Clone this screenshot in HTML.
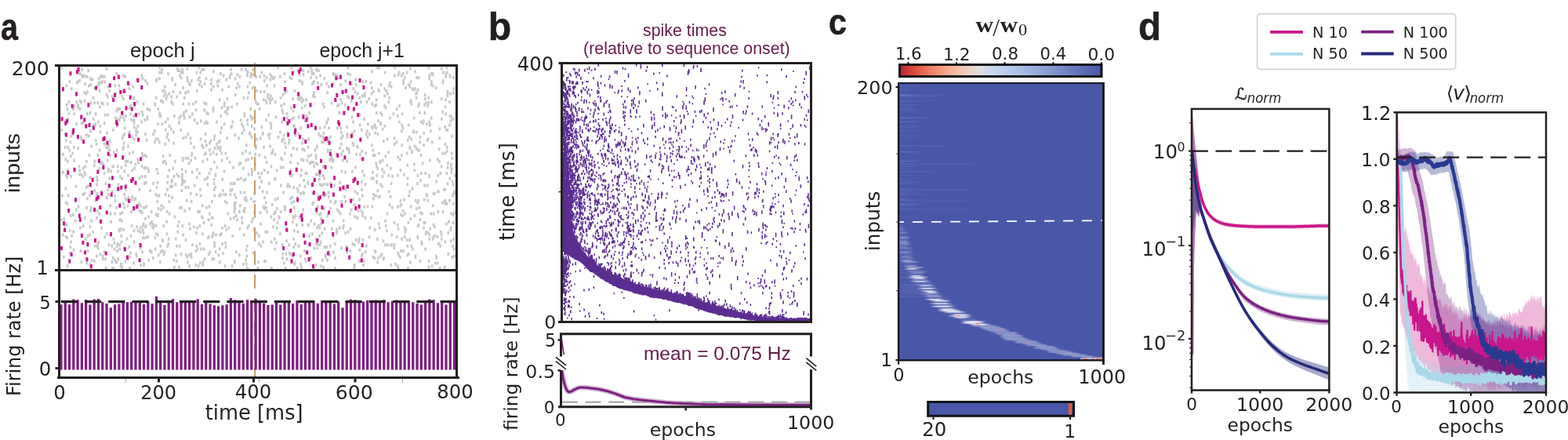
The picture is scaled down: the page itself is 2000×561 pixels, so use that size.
<!DOCTYPE html>
<html lang="en"><head><meta charset="utf-8"><title>Figure</title>
<style>
html,body{margin:0;padding:0;background:#fff;}
body{width:2000px;height:561px;overflow:hidden;}
svg{display:block;}
text{white-space:pre;}
</style></head><body>
<svg width="2000" height="561" viewBox="0 0 2000 561">
<rect width="2000" height="561" fill="#ffffff"/>
<g id="panel-a">
<path d="M305.37 267.95v4.0M508.22 339.91v4.0M312.02 251.25v4.0M507.31 145.88v4.0M171.11 252.53v4.0M317.1 285.94v4.0M476.18 115.04v4.0M302.47 130.46v4.0M123.97 311.64v4.0M396.68 279.52v4.0M571.07 231.97v4.0M406.44 285.94v4.0M404.51 288.51v4.0M86.02 257.68v4.0M110.18 95.77v4.0M173.89 162.58v4.0M379.21 339.91v4.0M311.16 228.12v4.0M374.87 148.45v4.0M338.84 293.65v4.0M226.02 85.48v4.0M410.72 234.55v4.0M406.88 217.84v4.0M578.82 111.19v4.0M433.47 187v4.0M458.63 252.53v4.0M223.45 106.05v4.0M360.92 118.9v4.0M279.3 179.29v4.0M272.34 89.34v4.0M503.43 84.2v4.0M185.57 100.91v4.0M314.2 316.78v4.0M277.81 107.33v4.0M362.47 148.45v4.0M468.92 172.87v4.0M247.45 185.72v4.0M245.29 217.84v4.0M458.66 122.75v4.0M146 315.5v4.0M129.17 103.47v4.0M311.67 243.54v4.0M167.61 267.95v4.0M172.98 251.25v4.0M174.13 324.5v4.0M464.42 221.69v4.0M401.32 121.47v4.0M276.52 153.59v4.0M78.74 278.24v4.0M231.03 90.62v4.0M184.17 212.7v4.0M577.91 282.09v4.0M400.38 116.33v4.0M99.62 131.75v4.0M185.44 169.01v4.0M83.3 284.66v4.0M243.47 180.57v4.0M272.16 108.62v4.0M123.69 275.66v4.0M397.75 88.06v4.0M380.04 206.27v4.0M390.51 125.32v4.0M559.51 242.25v4.0M495.93 127.89v4.0M513.06 143.31v4.0M393.06 185.72v4.0M534.07 284.66v4.0M203.62 145.88v4.0M157.98 291.08v4.0M550.11 148.45v4.0M423.02 211.41v4.0M520.92 282.09v4.0M117.87 99.62v4.0M130.58 95.77v4.0M335.45 167.72v4.0M198.06 315.5v4.0M274.89 221.69v4.0M491.59 279.52v4.0M324.74 255.11v4.0M166.48 320.64v4.0M568.55 125.32v4.0M193.04 267.95v4.0M406.23 285.94v4.0M386.57 175.44v4.0M185.02 151.02v4.0M454.12 106.05v4.0M213.5 230.69v4.0M203.41 98.34v4.0M166.89 204.99v4.0M344.8 126.6v4.0M124.73 129.18v4.0M525.31 192.14v4.0M407.95 310.36v4.0M340.25 129.18v4.0M374.32 89.34v4.0M316.61 201.13v4.0M430.04 94.48v4.0M89.16 292.37v4.0M116.03 106.05v4.0M444.84 188.28v4.0M147.01 107.33v4.0M116.24 262.81v4.0M262.94 98.34v4.0M529.95 325.78v4.0M448.18 126.6v4.0M476.32 196v4.0M254.94 309.07v4.0M315.85 108.62v4.0M515.36 220.41v4.0M552.04 93.2v4.0M511.53 271.81v4.0M85.79 301.37v4.0M270.24 275.66v4.0M84.74 107.33v4.0M118.72 293.65v4.0M136.46 167.72v4.0M519.72 323.21v4.0M244.07 325.78v4.0M426.62 234.55v4.0M299.42 261.53v4.0M120.52 330.92v4.0M336.54 185.72v4.0M380.04 242.25v4.0M89.68 312.93v4.0M135.11 339.91v4.0M386.67 243.54v4.0M206.8 86.77v4.0M263.03 130.46v4.0M418.59 149.74v4.0M338.47 330.92v4.0M532.72 300.08v4.0M545.05 247.39v4.0M525.7 190.85v4.0M281.49 166.44v4.0M178.05 225.55v4.0M481.56 332.2v4.0M536.98 153.59v4.0M271.29 275.66v4.0M540.28 152.31v4.0M146.79 247.39v4.0M254.4 97.05v4.0M435.18 174.15v4.0M490.66 120.18v4.0M304.5 174.15v4.0M542.75 219.12v4.0M270.35 255.11v4.0M326.18 187v4.0M437.71 288.51v4.0M305.42 108.62v4.0M494.11 175.44v4.0M516.22 97.05v4.0M418.64 175.44v4.0M364.65 185.72v4.0M404.12 269.24v4.0M88.09 127.89v4.0M281.7 145.88v4.0M90.9 171.58v4.0M197.56 130.46v4.0M478.12 291.08v4.0M136.33 118.9v4.0M394.43 298.8v4.0M399.42 204.99v4.0M559.17 309.07v4.0M177.82 239.69v4.0M206.91 318.07v4.0M83.9 238.4v4.0M346.73 95.77v4.0M168.32 172.87v4.0M468.96 261.53v4.0M428.2 255.11v4.0M329.46 332.2v4.0M158.33 314.21v4.0M532.98 112.47v4.0M284.36 320.64v4.0M273.07 231.97v4.0M305.95 289.8v4.0M523.49 85.48v4.0M267.47 270.52v4.0M405.82 248.68v4.0M478.08 196v4.0M311.05 297.51v4.0M571.14 116.33v4.0M440.55 294.94v4.0M542 124.03v4.0M185.47 211.41v4.0M570.22 185.72v4.0M347.78 189.57v4.0M209.83 319.35v4.0M507.68 198.56v4.0M331.62 95.77v4.0M299.61 264.1v4.0M289.84 174.15v4.0M322.95 93.2v4.0M187.97 104.76v4.0M293.61 94.48v4.0M165.21 193.43v4.0M422.82 129.18v4.0M314.49 253.82v4.0M530.13 253.82v4.0M499.75 310.36v4.0M299.24 246.11v4.0M368.84 310.36v4.0M121.64 156.16v4.0M298.87 267.95v4.0M224.02 323.21v4.0M360.11 138.17v4.0M340.68 267.95v4.0M207.14 303.94v4.0M269.68 284.66v4.0M182.93 130.46v4.0M564.17 256.39v4.0M215.39 247.39v4.0M179.29 260.25v4.0M135.81 85.48v4.0M382.02 93.2v4.0M348.47 98.34v4.0M337.28 215.27v4.0M351.31 269.24v4.0M139.65 113.75v4.0M425.03 104.76v4.0M545.31 234.55v4.0M286.01 216.56v4.0M213.51 239.69v4.0M325.76 194.71v4.0M295.99 239.69v4.0M341.78 118.9v4.0M174.51 287.23v4.0M93.25 169.01v4.0M143.42 339.91v4.0M568.61 95.77v4.0M175.84 158.73v4.0M84.43 176.72v4.0M240.02 199.85v4.0M201.1 247.39v4.0M131.1 324.5v4.0M370.49 251.25v4.0M391.2 319.35v4.0M177.66 257.68v4.0M519.18 90.62v4.0M266.93 219.12v4.0M492.33 285.94v4.0M158.6 151.02v4.0M511.72 258.96v4.0M398.69 257.68v4.0M186.91 261.53v4.0M385.27 127.89v4.0M195.18 327.06v4.0M393.38 197.28v4.0M531.19 187v4.0M380.97 147.16v4.0M187.9 147.16v4.0M523.6 127.89v4.0M524.32 126.6v4.0M442.88 169.01v4.0M273.03 226.83v4.0M495.83 221.69v4.0M350.95 315.5v4.0M141.69 216.56v4.0M393.44 89.34v4.0M126.67 270.52v4.0M420.72 202.42v4.0M136.38 249.96v4.0M396.78 196v4.0M330.65 309.07v4.0M496.22 107.33v4.0M320.26 91.91v4.0M97.27 265.38v4.0M386.1 270.52v4.0M319.86 145.88v4.0M171.04 151.02v4.0M165 135.6v4.0M575.14 305.22v4.0M126.27 103.47v4.0M145.93 307.79v4.0M310.23 334.77v4.0M127 212.7v4.0M312.68 252.53v4.0M256.32 152.31v4.0M379.87 88.06v4.0M396.45 97.05v4.0M501.9 143.31v4.0M283.09 202.42v4.0M449.28 216.56v4.0M540.81 282.09v4.0M161.29 252.53v4.0M475.86 189.57v4.0M526.43 315.5v4.0M517.63 291.08v4.0M549.7 270.52v4.0M379.2 249.96v4.0M371.68 196v4.0M482.12 169.01v4.0M218.68 121.47v4.0M451.83 339.91v4.0M158.76 216.56v4.0M145.31 192.14v4.0M519.74 311.64v4.0M263.99 225.55v4.0M462.26 216.56v4.0M182.22 144.59v4.0M113.88 196v4.0M229.8 116.33v4.0M83.81 201.13v4.0M575.28 288.51v4.0M103.36 172.87v4.0M552.25 302.65v4.0M228.38 154.88v4.0M409.37 270.52v4.0M169.75 108.62v4.0M273.88 247.39v4.0M400.6 314.21v4.0M138.48 213.99v4.0M570.01 90.62v4.0M136.06 118.9v4.0M449.01 167.72v4.0M300.99 249.96v4.0M103.8 148.45v4.0M403.48 86.77v4.0M127.87 166.44v4.0M216.76 196v4.0M354.35 251.25v4.0M286.97 255.11v4.0M363.34 116.33v4.0M398.46 296.22v4.0M116.71 279.52v4.0M413.72 98.34v4.0M272.29 135.6v4.0M272.03 139.45v4.0M507.62 261.53v4.0M385 102.19v4.0M293.93 246.11v4.0M289.48 256.39v4.0M278.38 185.72v4.0M261.84 178v4.0M320.85 172.87v4.0M359.66 176.72v4.0M411.29 329.63v4.0M226.96 88.06v4.0M465.9 275.66v4.0M99.95 135.6v4.0M283.52 309.07v4.0M274.06 187v4.0M453.8 99.62v4.0M370.25 321.93v4.0M552.15 107.33v4.0M478.49 157.44v4.0M293.9 240.97v4.0M204.34 332.2v4.0M200.72 255.11v4.0M127.88 321.93v4.0M534.6 130.46v4.0M569.38 163.87v4.0M381.22 121.47v4.0M103.78 220.41v4.0M307.03 151.02v4.0M510.36 201.13v4.0M343.34 124.03v4.0M260.7 129.18v4.0M413.45 233.26v4.0M379.93 293.65v4.0M370.49 221.69v4.0M261.06 328.35v4.0M344.68 129.18v4.0M556.25 324.5v4.0M143.13 242.25v4.0M135.61 185.72v4.0M471.83 288.51v4.0M503.05 174.15v4.0M214.66 309.07v4.0M442.13 312.93v4.0M375.23 292.37v4.0M218.24 162.58v4.0M173.69 165.16v4.0M330.33 298.8v4.0M537.73 307.79v4.0M98.31 103.47v4.0M83.25 169.01v4.0M291.73 288.51v4.0M97.58 156.16v4.0M350.14 107.33v4.0M457.53 306.5v4.0M159.17 161.3v4.0M395 206.27v4.0M321.23 199.85v4.0M184.13 196v4.0M326.44 127.89v4.0M499.03 108.62v4.0M480.83 230.69v4.0M484.31 288.51v4.0M498.75 336.06v4.0M185.4 222.98v4.0M453.28 211.41v4.0M484.65 204.99v4.0M155.46 279.52v4.0M241.68 264.1v4.0M459.13 144.59v4.0M292.97 204.99v4.0M369.67 235.83v4.0M517.4 109.9v4.0M351.13 225.55v4.0M361.45 243.54v4.0M487.37 235.83v4.0M228.38 338.63v4.0M83.16 185.72v4.0M185.45 301.37v4.0M381.27 311.64v4.0M230.86 321.93v4.0M461.72 190.85v4.0M220.38 130.46v4.0M188.2 300.08v4.0M442.58 203.7v4.0M533 189.57v4.0M434.2 270.52v4.0M376.78 309.07v4.0M536.56 228.12v4.0M344.4 184.43v4.0M308.33 156.16v4.0M278.9 323.21v4.0M527.21 165.16v4.0M120.77 203.7v4.0M90.59 306.5v4.0M276.9 211.41v4.0M477.76 327.06v4.0M361.25 211.41v4.0M349.59 278.24v4.0M360.73 142.03v4.0M123.5 233.26v4.0M520.27 176.72v4.0M485.64 156.16v4.0M337.09 262.81v4.0M158.08 180.57v4.0M563.16 297.51v4.0M500.61 222.98v4.0M110.62 262.81v4.0M231.7 262.81v4.0M120.65 109.9v4.0M215.73 117.61v4.0M529.38 111.19v4.0M91.52 298.8v4.0M150.65 328.35v4.0M487.85 222.98v4.0M201.59 156.16v4.0M323.74 255.11v4.0M248.09 234.55v4.0M276.28 194.71v4.0M483.35 193.43v4.0M415.7 246.11v4.0M323.25 320.64v4.0M114.84 287.23v4.0M537.36 219.12v4.0M458.16 302.65v4.0M253.61 84.2v4.0M482.66 112.47v4.0M524.16 261.53v4.0M399.6 256.39v4.0M260.07 86.77v4.0M480.83 221.69v4.0M541.67 131.75v4.0M201.73 136.88v4.0M575.49 207.56v4.0M421.56 189.57v4.0M180.99 222.98v4.0M343.83 174.15v4.0M564.83 103.47v4.0M314.93 324.5v4.0M136.08 296.22v4.0M156.49 142.03v4.0M535.97 330.92v4.0M308.57 275.66v4.0M319.76 95.77v4.0M235.24 148.45v4.0M171.05 154.88v4.0M373.56 280.81v4.0M438.2 279.52v4.0M333.57 229.4v4.0M171.27 175.44v4.0M280.35 332.2v4.0M548.58 289.8v4.0M353.44 264.1v4.0M318.96 169.01v4.0M321.61 216.56v4.0M537 196v4.0M409.62 337.34v4.0M558.45 242.25v4.0M511.08 215.27v4.0M103.43 127.89v4.0M480.41 210.13v4.0M567.98 253.82v4.0M466.75 102.19v4.0M408.26 161.3v4.0M525.94 238.4v4.0M532.47 231.97v4.0M478.08 318.07v4.0M289.85 135.6v4.0M287.01 337.34v4.0M239.88 169.01v4.0M533.91 253.82v4.0M144.25 327.06v4.0M576.55 171.58v4.0M337.24 100.91v4.0M154.05 337.34v4.0M167.92 151.02v4.0M490.44 133.03v4.0M490.78 111.19v4.0M254.89 285.94v4.0M437.84 115.04v4.0M524.66 311.64v4.0M313.53 329.63v4.0M372.7 249.96v4.0M230.75 145.88v4.0M287.61 307.79v4.0M124.11 228.12v4.0M183.02 262.81v4.0M285.69 246.11v4.0M157.51 185.72v4.0M237.02 216.56v4.0M116.63 184.43v4.0M578.63 302.65v4.0M437.15 202.42v4.0M115.78 129.18v4.0M131.53 212.7v4.0M417.44 329.63v4.0M563.4 124.03v4.0M406.45 88.06v4.0M511.64 318.07v4.0M434.57 161.3v4.0M225.67 121.47v4.0M308.23 86.77v4.0M507.82 320.64v4.0M182.18 285.94v4.0M154.79 289.8v4.0M267.06 261.53v4.0M454.49 194.71v4.0M457.09 266.67v4.0M412.84 167.72v4.0M173.11 207.56v4.0M445.32 192.14v4.0M233.82 174.15v4.0M360.75 321.93v4.0M399.62 230.69v4.0M493.18 113.75v4.0M129.59 288.51v4.0M125.84 306.5v4.0M394.64 142.03v4.0M168.71 215.27v4.0M96.79 235.83v4.0M375.76 113.75v4.0M128.87 94.48v4.0M157.28 124.03v4.0M296.06 337.34v4.0M114.95 224.26v4.0M543.34 129.18v4.0M403.09 336.06v4.0M152.71 310.36v4.0M272.05 192.14v4.0M540.54 288.51v4.0M86.24 215.27v4.0M385.97 188.28v4.0M570.95 163.87v4.0M409.61 283.38v4.0M344.24 169.01v4.0M244.5 196v4.0M232.35 228.12v4.0M131.8 207.56v4.0M181.25 193.43v4.0M473.96 117.61v4.0M385.14 135.6v4.0M205.82 260.25v4.0M531.35 264.1v4.0M195.81 284.66v4.0M329.46 130.46v4.0M366.44 148.45v4.0M573.37 253.82v4.0M579.18 315.5v4.0M497.51 148.45v4.0M363.04 91.91v4.0M393 148.45v4.0M467.97 127.89v4.0M201.17 273.09v4.0M287.87 193.43v4.0M243.59 202.42v4.0M211.98 124.03v4.0M305.32 323.21v4.0M146.51 270.52v4.0M351.03 267.95v4.0M110.39 170.3v4.0M163.02 328.35v4.0M576.05 193.43v4.0M380.16 124.03v4.0M546.9 84.2v4.0M223.22 203.7v4.0M199.29 271.81v4.0M260.59 138.17v4.0M171.57 264.1v4.0M485.34 233.26v4.0M94.56 143.31v4.0M471.03 300.08v4.0M147.83 332.2v4.0M415.12 325.78v4.0M533.08 285.94v4.0M375.34 334.77v4.0M86.7 149.74v4.0M285.12 94.48v4.0M150.21 210.13v4.0M137.82 216.56v4.0M165.6 255.11v4.0M144.43 163.87v4.0M363.37 193.43v4.0M105.32 95.77v4.0M440.4 131.75v4.0M280.69 247.39v4.0M379.45 238.4v4.0M251.74 288.51v4.0M536.4 269.24v4.0M458.65 330.92v4.0M219.71 235.83v4.0M498.88 310.36v4.0M283.62 226.83v4.0M137.36 121.47v4.0M532.48 256.39v4.0M244.18 255.11v4.0M295.26 91.91v4.0M239.33 100.91v4.0M226.97 285.94v4.0M529.92 324.5v4.0M267.31 189.57v4.0M455.57 184.43v4.0M521.12 106.05v4.0M201.04 230.69v4.0M200.04 213.99v4.0M566.23 239.69v4.0M426.99 256.39v4.0M534.84 262.81v4.0M232.11 213.99v4.0M550.03 106.05v4.0M579.64 324.5v4.0M563.19 302.65v4.0M263.44 262.81v4.0M289.83 138.17v4.0M189.72 329.63v4.0M289.92 124.03v4.0M531.56 116.33v4.0M339.1 126.6v4.0M140.58 260.25v4.0M367.31 233.26v4.0M78.79 163.87v4.0M443.68 91.91v4.0M241.37 104.76v4.0M299.55 231.97v4.0M487.45 213.99v4.0M149.35 311.64v4.0M372.13 98.34v4.0M232.07 233.26v4.0M529.1 184.43v4.0M241.16 130.46v4.0M546.87 338.63v4.0M315.53 151.02v4.0M180.15 311.64v4.0M528.24 148.45v4.0M236.91 199.85v4.0M529.51 89.34v4.0M164.7 312.93v4.0M577.7 149.74v4.0M345.85 161.3v4.0M174.54 99.62v4.0M404.53 184.43v4.0M442.48 187v4.0M560.62 174.15v4.0M514.6 318.07v4.0M519.31 193.43v4.0M427.52 339.91v4.0M301.75 109.9v4.0M163.45 184.43v4.0M139.01 310.36v4.0M177.03 143.31v4.0M439.65 248.68v4.0M411.79 172.87v4.0M265.32 301.37v4.0M341.49 121.47v4.0M374.34 158.73v4.0M568.53 143.31v4.0M413.02 174.15v4.0M144.97 302.65v4.0M123.63 108.62v4.0M299.33 257.68v4.0M115.52 98.34v4.0M82 276.95v4.0M221.2 166.44v4.0M290.86 270.52v4.0M122.21 176.72v4.0M574.16 145.88v4.0M201.82 175.44v4.0M446.69 93.2v4.0M171.96 133.03v4.0M573.85 94.48v4.0M390.39 330.92v4.0M371.83 84.2v4.0M544.53 247.39v4.0M108.7 104.76v4.0M357.34 296.22v4.0M534.71 189.57v4.0M408.62 94.48v4.0M337.64 249.96v4.0M493.27 292.37v4.0M421.66 255.11v4.0M451.8 258.96v4.0M165.72 339.91v4.0M465.27 120.18v4.0M383.45 161.3v4.0M413.72 264.1v4.0M466.17 319.35v4.0M475.25 161.3v4.0M208.73 262.81v4.0M189.45 274.38v4.0M381.06 169.01v4.0M96.22 279.52v4.0M565.27 100.91v4.0M365.68 143.31v4.0M241.51 283.38v4.0M87.42 247.39v4.0M482.8 248.68v4.0M300 170.3v4.0M508.12 93.2v4.0M114.88 142.03v4.0M363.8 262.81v4.0M369.11 320.64v4.0M197.84 131.75v4.0M105.57 222.98v4.0M99.72 187v4.0M489.55 327.06v4.0M342.02 170.3v4.0M462.3 247.39v4.0M122.87 251.25v4.0M164.56 167.72v4.0M202.94 247.39v4.0M424.87 279.52v4.0M473.03 103.47v4.0M236.87 237.12v4.0M261.26 154.88v4.0M431.44 97.05v4.0M142.9 332.2v4.0M460.27 127.89v4.0M151.01 233.26v4.0M340.13 97.05v4.0M80.18 217.84v4.0M524.88 130.46v4.0M124.35 266.67v4.0M227.98 222.98v4.0M547.69 94.48v4.0M419.45 319.35v4.0M461.28 324.5v4.0M385.65 180.57v4.0M205.48 265.38v4.0M507.46 221.69v4.0M309.97 158.73v4.0M261.05 194.71v4.0M553.13 284.66v4.0M187.99 136.88v4.0M280.63 297.51v4.0M577.36 325.78v4.0M250.62 311.64v4.0M535.87 278.24v4.0M541.84 142.03v4.0M310.49 212.7v4.0M547.62 153.59v4.0M269.64 99.62v4.0M186.52 197.28v4.0M202.11 264.1v4.0M481.78 240.97v4.0M180.63 153.59v4.0M376.33 333.49v4.0M233.23 230.69v4.0M324.34 289.8v4.0M419.12 243.54v4.0M181.1 210.13v4.0M288.72 99.62v4.0M425.21 202.42v4.0M554.29 287.23v4.0M87.81 143.31v4.0M450.42 252.53v4.0M275.57 297.51v4.0M437.17 171.58v4.0M130.36 102.19v4.0M155.49 338.63v4.0M258.91 336.06v4.0M199.3 122.75v4.0M88.73 189.57v4.0M499.17 231.97v4.0M120.21 208.84v4.0M241.61 337.34v4.0M519.16 303.94v4.0M106.04 212.7v4.0M383.37 244.82v4.0M98.97 133.03v4.0M336.22 125.32v4.0M94.43 185.72v4.0M284.46 240.97v4.0M351.31 127.89v4.0M337.76 264.1v4.0M209.09 321.93v4.0M305.02 207.56v4.0M152.32 151.02v4.0M497.05 258.96v4.0M435.95 216.56v4.0M147.05 253.82v4.0M512.78 157.44v4.0M129.97 204.99v4.0M251.5 154.88v4.0M148.86 91.91v4.0M453.17 242.25v4.0M362.32 333.49v4.0M567.76 181.86v4.0M409.7 106.05v4.0M539.41 154.88v4.0M358.4 199.85v4.0M412.8 338.63v4.0M513.99 161.3v4.0M471.33 169.01v4.0M123.58 224.26v4.0M138.58 246.11v4.0M108.64 210.13v4.0M545.23 176.72v4.0M327.8 175.44v4.0M189.65 216.56v4.0M179.76 336.06v4.0M162.11 302.65v4.0M435.72 255.11v4.0M125.16 196v4.0M533.62 133.03v4.0M318.37 167.72v4.0M430.24 265.38v4.0M233.22 90.62v4.0M531.12 122.75v4.0M261.19 104.76v4.0M536.08 172.87v4.0M105.89 246.11v4.0M503.17 181.86v4.0M313.67 190.85v4.0M522.87 107.33v4.0M90.3 197.28v4.0M240.76 206.27v4.0M362.21 170.3v4.0M487.3 144.59v4.0M400.62 210.13v4.0M387.05 202.42v4.0M94.06 316.78v4.0M551.1 337.34v4.0M116.38 99.62v4.0M389.84 219.12v4.0M385.83 104.76v4.0M217 235.83v4.0M519.68 208.84v4.0M563.12 210.13v4.0M97.63 127.89v4.0M421.24 172.87v4.0M233.27 202.42v4.0M315.73 90.62v4.0M153.65 147.16v4.0M213.8 169.01v4.0M419.61 161.3v4.0M339.58 262.81v4.0M569.87 84.2v4.0M198.53 246.11v4.0M504.26 334.77v4.0M353.39 288.51v4.0M491.47 310.36v4.0M564.37 193.43v4.0M210.93 117.61v4.0M523 187v4.0M482.51 152.31v4.0M427.24 309.07v4.0M156.94 147.16v4.0M491.93 135.6v4.0M245.53 310.36v4.0M324.56 269.24v4.0M225.78 220.41v4.0M221.78 329.63v4.0M413.51 247.39v4.0M197.37 165.16v4.0M260.15 315.5v4.0M167.66 252.53v4.0M448.37 104.76v4.0M574.57 117.61v4.0M522.64 185.72v4.0M135.05 231.97v4.0M335.45 306.5v4.0M319.57 136.88v4.0M390.22 219.12v4.0M514.72 100.91v4.0M251.34 213.99v4.0M332.99 311.64v4.0M275.23 319.35v4.0M396.84 204.99v4.0M437.44 190.85v4.0M170.57 333.49v4.0M181.23 269.24v4.0M494.01 270.52v4.0M571.68 294.94v4.0M433.02 288.51v4.0M449.73 171.58v4.0M480.32 125.32v4.0M179.23 288.51v4.0M414.18 160.01v4.0M405.48 88.06v4.0M315.13 311.64v4.0M550.41 127.89v4.0M212.91 172.87v4.0M288.78 291.08v4.0M412.39 210.13v4.0M546.59 129.18v4.0M102.92 318.07v4.0M578.67 97.05v4.0M175.69 201.13v4.0M445.22 122.75v4.0M281.39 91.91v4.0M496.13 242.25v4.0M164.37 106.05v4.0M233.56 297.51v4.0M220.79 212.7v4.0M440.52 217.84v4.0M462.33 273.09v4.0M273.76 311.64v4.0M187.12 176.72v4.0M479.78 131.75v4.0M300.29 118.9v4.0M357.43 166.44v4.0M520.08 225.55v4.0M138.87 189.57v4.0M522.04 172.87v4.0M362.31 130.46v4.0M215.8 215.27v4.0M215.92 158.73v4.0M119.12 149.74v4.0M261.97 169.01v4.0M358.8 133.03v4.0M110.78 333.49v4.0M233.63 109.9v4.0M80.52 194.71v4.0M320.94 149.74v4.0M575.81 217.84v4.0M321.35 220.41v4.0M254.73 267.95v4.0M277.06 102.19v4.0M186.3 285.94v4.0M407.93 288.51v4.0M205.1 145.88v4.0M549.35 165.16v4.0M577.14 229.4v4.0M364.98 321.93v4.0M102.07 91.91v4.0M552.27 260.25v4.0M138.07 108.62v4.0M214.42 91.91v4.0M456.41 185.72v4.0M110.07 237.12v4.0M83.75 152.31v4.0M110.45 203.7v4.0M84.03 256.39v4.0M211.36 163.87v4.0M475.83 325.78v4.0M326.74 184.43v4.0M481.24 302.65v4.0M463.51 336.06v4.0M129.07 242.25v4.0M280.24 315.5v4.0M283.38 288.51v4.0M90.28 273.09v4.0M149.1 189.57v4.0M273.28 204.99v4.0M332.35 174.15v4.0M485.1 203.7v4.0M392.89 231.97v4.0M256.06 175.44v4.0M111.94 298.8v4.0M239.8 115.04v4.0M211.21 153.59v4.0M450.43 153.59v4.0M102.03 126.6v4.0M352.44 307.79v4.0M181.8 197.28v4.0M131.57 130.46v4.0M265.46 143.31v4.0M294.52 86.77v4.0M278.96 100.91v4.0M280.78 189.57v4.0M555.24 333.49v4.0M181.15 140.74v4.0M239.43 332.2v4.0M373.92 274.38v4.0M573.73 225.55v4.0M315.88 156.16v4.0M328.89 339.91v4.0M432.58 142.03v4.0M486.01 106.05v4.0M418.12 189.57v4.0M520.55 339.91v4.0M257.63 86.77v4.0M152.79 292.37v4.0M410.74 294.94v4.0M106.23 285.94v4.0M387.56 228.12v4.0M507.96 289.8v4.0M291.13 270.52v4.0M542.29 124.03v4.0M498.5 310.36v4.0M451.69 226.83v4.0M412.22 221.69v4.0M498.06 248.68v4.0M193.86 280.81v4.0M349.9 97.05v4.0M336.89 94.48v4.0M343.4 231.97v4.0M302.58 278.24v4.0M101.65 100.91v4.0M545.7 133.03v4.0M347.79 192.14v4.0M576.43 325.78v4.0M390.86 145.88v4.0M447.98 265.38v4.0M280.15 125.32v4.0M456.05 244.82v4.0M134.19 144.59v4.0M499.87 297.51v4.0M474.65 130.46v4.0M494.38 117.61v4.0M335.07 169.01v4.0M111.01 95.77v4.0M435.39 166.44v4.0M338.11 198.56v4.0M306.21 260.25v4.0M85.7 224.26v4.0M176.79 175.44v4.0M560.81 162.58v4.0M115.38 266.67v4.0M299.4 332.2v4.0M324.61 162.58v4.0M114.69 247.39v4.0M507.31 337.34v4.0M514.77 104.76v4.0M478.08 133.03v4.0M485.55 142.03v4.0M128.82 95.77v4.0M544.32 156.16v4.0M496.69 122.75v4.0M287.14 285.94v4.0M273.4 307.79v4.0M387.95 244.82v4.0M114.55 297.51v4.0M182.18 291.08v4.0M237.18 323.21v4.0M565.04 267.95v4.0M413.7 225.55v4.0M268.18 194.71v4.0M429.48 291.08v4.0M552.88 300.08v4.0M380.94 311.64v4.0M183.61 336.06v4.0M142.71 311.64v4.0M369.64 97.05v4.0M143.25 121.47v4.0M208.18 197.28v4.0M384.43 201.13v4.0M232.58 86.77v4.0M577.41 311.64v4.0M181.59 319.35v4.0M259.2 185.72v4.0M464.55 149.74v4.0M151.85 291.08v4.0M211.81 206.27v4.0M489.8 217.84v4.0M218.54 127.89v4.0M332.5 115.04v4.0M252.2 315.5v4.0M288.06 246.11v4.0M369 176.72v4.0M140.28 178v4.0M555.93 109.9v4.0M417.86 233.26v4.0M191.65 240.97v4.0M272.9 328.35v4.0M286.14 156.16v4.0M303.38 104.76v4.0M262.58 193.43v4.0M219.57 228.12v4.0M408.74 171.58v4.0M225.42 311.64v4.0M84.86 284.66v4.0M201.23 219.12v4.0M266.48 278.24v4.0M527.53 166.44v4.0M273.13 175.44v4.0M249.8 336.06v4.0M374.74 262.81v4.0M408.2 233.26v4.0M528.1 112.47v4.0M474.73 89.34v4.0M266.3 321.93v4.0M374.5 312.93v4.0M250.95 90.62v4.0M413.49 134.31v4.0M313.8 202.42v4.0M163.96 249.96v4.0M236.99 303.94v4.0M405.44 103.47v4.0M565.16 90.62v4.0M576.29 213.99v4.0M295.83 158.73v4.0M404.45 314.21v4.0M133.67 102.19v4.0M111.88 235.83v4.0M407.58 298.8v4.0M545.93 253.82v4.0M574.86 152.31v4.0M327.92 130.46v4.0M337.06 115.04v4.0M450.52 111.19v4.0M80.31 297.51v4.0M427.5 327.06v4.0M532.92 301.37v4.0M485.33 324.5v4.0M316.09 122.75v4.0M295.72 134.31v4.0M86.42 203.7v4.0M552.18 91.91v4.0M133.11 219.12v4.0M347.25 258.96v4.0M567.17 338.63v4.0M474.3 183.14v4.0M579.45 269.24v4.0M140.98 270.52v4.0M197.79 301.37v4.0M122.81 252.53v4.0M233.19 199.85v4.0M468.4 165.16v4.0M374.78 237.12v4.0M105.73 154.88v4.0M373.82 139.45v4.0M358.4 234.55v4.0M147.53 117.61v4.0M484.55 248.68v4.0M156.15 269.24v4.0M341.77 217.84v4.0M388.43 318.07v4.0M561.83 219.12v4.0M490.87 158.73v4.0M155.6 120.18v4.0M446.82 318.07v4.0M267.34 180.57v4.0M344.83 93.2v4.0M281.59 246.11v4.0M229.33 262.81v4.0M400.99 338.63v4.0M101.61 220.41v4.0M228.69 153.59v4.0M209.3 120.18v4.0M408.06 221.69v4.0M243.39 244.82v4.0M180.64 267.95v4.0M553.14 270.52v4.0M570.75 115.04v4.0M276.32 181.86v4.0M212.61 280.81v4.0M208.03 204.99v4.0M120.85 240.97v4.0M271.41 297.51v4.0M294.39 231.97v4.0M137.07 185.72v4.0M497.58 103.47v4.0M160.37 208.84v4.0M353.09 215.27v4.0M489.05 305.22v4.0M128.24 206.27v4.0M94.75 202.42v4.0M321.23 158.73v4.0M339.22 256.39v4.0M322.93 86.77v4.0M265.77 278.24v4.0M563.1 85.48v4.0M423.32 201.13v4.0M560.34 203.7v4.0M561.61 311.64v4.0M263.5 183.14v4.0M183.71 334.77v4.0M374.1 187v4.0M170.63 122.75v4.0M337.37 330.92v4.0M251.36 113.75v4.0M185.47 276.95v4.0M213.97 222.98v4.0M403.08 206.27v4.0M280.25 178v4.0M365.46 115.04v4.0M121.36 157.44v4.0M495.52 192.14v4.0M94.82 133.03v4.0M489.41 178v4.0M400.6 102.19v4.0M579.86 244.82v4.0M102.55 288.51v4.0M120.52 129.18v4.0M543.55 293.65v4.0M438.42 285.94v4.0M547.07 330.92v4.0M184.57 262.81v4.0M81.3 325.78v4.0M318.8 193.43v4.0M419.34 108.62v4.0M165 111.19v4.0M299.42 330.92v4.0M148.72 332.2v4.0M303.01 226.83v4.0M480.28 229.4v4.0M238.94 325.78v4.0M443.44 121.47v4.0M558.22 201.13v4.0M412.62 264.1v4.0M435.55 314.21v4.0M137.87 185.72v4.0M425 298.8v4.0M359.44 153.59v4.0M127.15 189.57v4.0M347.47 124.03v4.0M156.27 174.15v4.0M315.41 94.48v4.0M528.15 207.56v4.0M178.95 314.21v4.0M543.98 246.11v4.0M297.53 211.41v4.0M335.03 242.25v4.0M131.27 328.35v4.0M507.25 337.34v4.0M372.29 149.74v4.0M85.89 136.88v4.0M405.18 207.56v4.0M375.09 255.11v4.0M421.4 231.97v4.0M366.5 235.83v4.0M258.17 275.66v4.0M152.64 315.5v4.0M570.28 190.85v4.0M123.84 244.82v4.0M195.64 169.01v4.0M254.47 219.12v4.0M366.85 167.72v4.0M540.73 167.72v4.0M267.85 319.35v4.0M185.49 287.23v4.0M111.22 143.31v4.0M567.84 257.68v4.0M307.08 243.54v4.0M137.45 144.59v4.0M456.19 117.61v4.0M419.24 248.68v4.0M503.49 94.48v4.0M576.7 199.85v4.0M363.39 265.38v4.0M324.35 244.82v4.0M154.51 334.77v4.0M257.43 183.14v4.0M127.49 134.31v4.0M188.07 149.74v4.0M510.37 325.78v4.0M384.33 122.75v4.0M160.3 145.88v4.0M370.6 204.99v4.0M424.17 203.7v4.0M133.13 319.35v4.0M483.16 283.38v4.0M508.59 323.21v4.0M570.96 120.18v4.0M203.47 90.62v4.0M165.01 166.44v4.0M413.39 178v4.0M205.31 126.6v4.0M210.2 108.62v4.0M215.22 176.72v4.0M476.5 251.25v4.0M154.82 211.41v4.0M158.79 262.81v4.0M507.15 284.66v4.0M123.3 324.5v4.0M160.13 330.92v4.0M409.47 276.95v4.0M467.27 169.01v4.0M232.18 224.26v4.0M548.23 202.42v4.0M405.39 261.53v4.0M195.56 231.97v4.0M422.63 197.28v4.0M444.21 293.65v4.0M332.08 269.24v4.0M442.91 160.01v4.0M116.29 264.1v4.0M133.79 300.08v4.0M451 183.14v4.0M530.72 117.61v4.0M546.63 122.75v4.0M176.44 204.99v4.0M233.62 130.46v4.0M109.31 302.65v4.0M411.88 130.46v4.0M93.38 271.81v4.0M150.2 309.07v4.0M567.08 255.11v4.0M350.48 226.83v4.0M342.79 144.59v4.0M121.66 311.64v4.0M256.15 247.39v4.0M542.53 315.5v4.0M129.52 129.18v4.0M322.18 109.9v4.0M426.28 93.2v4.0M358.12 267.95v4.0M123.16 181.86v4.0M206.92 156.16v4.0M430.6 133.03v4.0M567.98 134.31v4.0M509.11 90.62v4.0M383.88 278.24v4.0M578.27 271.81v4.0M385.79 284.66v4.0M237.09 139.45v4.0M121.83 253.82v4.0M157.3 94.48v4.0M133.24 181.86v4.0M514.33 91.91v4.0M286.22 133.03v4.0M494.62 310.36v4.0M381.76 274.38v4.0M462.98 303.94v4.0M483.62 84.2v4.0M264.67 154.88v4.0M567.66 160.01v4.0M282.92 193.43v4.0M188.49 212.7v4.0M86 337.34v4.0M199.77 99.62v4.0M372.2 256.39v4.0M441.02 255.11v4.0M416.96 233.26v4.0M405.26 220.41v4.0M166.61 133.03v4.0M184.53 231.97v4.0M318.72 193.43v4.0M171.19 306.5v4.0M406.66 169.01v4.0M377.15 273.09v4.0M206.35 90.62v4.0M171.04 160.01v4.0M111.49 251.25v4.0M243.79 321.93v4.0M181 94.48v4.0M474.84 261.53v4.0M124.93 309.07v4.0M461.38 163.87v4.0M299.97 98.34v4.0M286.3 129.18v4.0M264.42 201.13v4.0M113.55 107.33v4.0M575.21 211.41v4.0M579.99 221.69v4.0M474.49 160.01v4.0M248.09 151.02v4.0M268.81 178v4.0M360.46 327.06v4.0M112.69 88.06v4.0M104.59 94.48v4.0M269.27 104.76v4.0M291.56 135.6v4.0M150.45 151.02v4.0M158.66 246.11v4.0M560.19 188.28v4.0M249.97 127.89v4.0M149.59 318.07v4.0M238.71 97.05v4.0M175.12 127.89v4.0M430.37 161.3v4.0M521.09 321.93v4.0M522.65 303.94v4.0M306.06 206.27v4.0M443 172.87v4.0M151.94 107.33v4.0M571.72 321.93v4.0M252.78 99.62v4.0M140.25 189.57v4.0M170.19 124.03v4.0M215.85 255.11v4.0M349.47 270.52v4.0M300.39 256.39v4.0M209.8 113.75v4.0M119.36 157.44v4.0M86.78 185.72v4.0M567.73 306.5v4.0M331.15 136.88v4.0M562.52 293.65v4.0M363.57 180.57v4.0M321.05 280.81v4.0M309.07 282.09v4.0M578.68 244.82v4.0M311.72 145.88v4.0M152.41 238.4v4.0M568.92 91.91v4.0M298.61 275.66v4.0M279.37 100.91v4.0M219.8 98.34v4.0M165.28 325.78v4.0M491.03 90.62v4.0M90.66 222.98v4.0M479.28 247.39v4.0M385.52 104.76v4.0M311.74 143.31v4.0M250.02 138.17v4.0M231.11 97.05v4.0M247.31 287.23v4.0M360.31 310.36v4.0M315.68 288.51v4.0M451.05 138.17v4.0M257.32 274.38v4.0M369.86 220.41v4.0M293.95 276.95v4.0M309.36 193.43v4.0M554.62 244.82v4.0M195.52 288.51v4.0M506.27 300.08v4.0M160.05 251.25v4.0M360.05 178v4.0M462.26 321.93v4.0M235.73 266.67v4.0M371.19 135.6v4.0M430.59 194.71v4.0M220.95 115.04v4.0M396.38 84.2v4.0M252.57 267.95v4.0M134.71 328.35v4.0M541.17 252.53v4.0M404.78 309.07v4.0M79.33 247.39v4.0M279.55 247.39v4.0M366.46 291.08v4.0M363.69 102.19v4.0M123.6 247.39v4.0M399.05 103.47v4.0M400.11 91.91v4.0M218.98 229.4v4.0M103.72 175.44v4.0M479.67 161.3v4.0M370.99 215.27v4.0M478.67 167.72v4.0M176.24 292.37v4.0M331.23 224.26v4.0M255.58 102.19v4.0M552.86 244.82v4.0M509.47 133.03v4.0M224.24 302.65v4.0M330.77 196v4.0M543.05 296.22v4.0M186.41 230.69v4.0M481.45 302.65v4.0M538.43 309.07v4.0M202.28 323.21v4.0M435.39 181.86v4.0M480.34 142.03v4.0M137.5 239.69v4.0M230.6 163.87v4.0M100.66 90.62v4.0M558.02 300.08v4.0M250.59 294.94v4.0M384.67 215.27v4.0M546.15 294.94v4.0M512.53 302.65v4.0M158.62 169.01v4.0M571.07 211.41v4.0M234.28 144.59v4.0M384.6 338.63v4.0M458.69 316.78v4.0M390.88 125.32v4.0M454.17 303.94v4.0M107.87 217.84v4.0M463.97 330.92v4.0M516.61 270.52v4.0M211.12 246.11v4.0M399.02 244.82v4.0M191.32 318.07v4.0M255.72 90.62v4.0M521.62 247.39v4.0M477.52 158.73v4.0M194.27 287.23v4.0M467.3 311.64v4.0M155.38 225.55v4.0M236.96 172.87v4.0M424.97 91.91v4.0M403.39 309.07v4.0M465.49 117.61v4.0M244.29 100.91v4.0M535.62 179.29v4.0M345.73 274.38v4.0M389.11 235.83v4.0M466.73 193.43v4.0M133.23 154.88v4.0M340.56 243.54v4.0M111.53 115.04v4.0M511.05 260.25v4.0M103.71 332.2v4.0M451.91 165.16v4.0M223.08 274.38v4.0M261.17 226.83v4.0M242.74 106.05v4.0M248.92 199.85v4.0M226.75 293.65v4.0M345.05 154.88v4.0M282.5 161.3v4.0M474.51 109.9v4.0M139.66 225.55v4.0M317.21 220.41v4.0M460.85 266.67v4.0M484.03 248.68v4.0M531.13 166.44v4.0M372.51 221.69v4.0M578.66 257.68v4.0M122.27 143.31v4.0M462.68 102.19v4.0M387.03 144.59v4.0M354.97 172.87v4.0M473.27 275.66v4.0M442.98 188.28v4.0M212.98 296.22v4.0M99.31 102.19v4.0M307.5 225.55v4.0M567.9 239.69v4.0M175.71 166.44v4.0M524.06 102.19v4.0M354.52 84.2v4.0M213.62 311.64v4.0M386.92 125.32v4.0M577.63 247.39v4.0M365.95 328.35v4.0M201.27 297.51v4.0M198.84 285.94v4.0M283.54 112.47v4.0M434.82 125.32v4.0M201.48 271.81v4.0M316.04 89.34v4.0M270.66 328.35v4.0M274.58 237.12v4.0M388.96 152.31v4.0M556.79 327.06v4.0M322.56 276.95v4.0M516.69 293.65v4.0M138.64 183.14v4.0M89.52 320.64v4.0M333.67 219.12v4.0M449.18 147.16v4.0M207.6 113.75v4.0M433.6 230.69v4.0M182.33 301.37v4.0M297.58 231.97v4.0M296.74 153.59v4.0M391.36 219.12v4.0M516.08 288.51v4.0M466.03 233.26v4.0M447.1 289.8v4.0M519.6 233.26v4.0M409.13 306.5v4.0M528.85 215.27v4.0M522.88 108.62v4.0M450.08 180.57v4.0M193.22 282.09v4.0M554.81 298.8v4.0M578.27 233.26v4.0M296.71 298.8v4.0M228.16 280.81v4.0M464.84 261.53v4.0M372.79 323.21v4.0M249.86 318.07v4.0M274.76 220.41v4.0M251.26 224.26v4.0M208.63 285.94v4.0M268.96 213.99v4.0M228.79 148.45v4.0M453.33 226.83v4.0M108.48 275.66v4.0M104.38 154.88v4.0M498.42 212.7v4.0M111.89 318.07v4.0M435.72 194.71v4.0M452.94 274.38v4.0M318.31 167.72v4.0M432.17 267.95v4.0M282.91 135.6v4.0M573.52 127.89v4.0M455.99 275.66v4.0M241.37 323.21v4.0M333.77 90.62v4.0M216.13 270.52v4.0M250.62 246.11v4.0M242.51 289.8v4.0M476.4 246.11v4.0M411.13 179.29v4.0M532.94 221.69v4.0M417.52 116.33v4.0M382.33 234.55v4.0M310.61 266.67v4.0M575.57 270.52v4.0M89.81 179.29v4.0M255.34 333.49v4.0M104.49 86.77v4.0M229.15 311.64v4.0M162.85 203.7v4.0M493.96 208.84v4.0M432.23 131.75v4.0M258.25 260.25v4.0M336.1 261.53v4.0M266.33 300.08v4.0M281.4 185.72v4.0M392.63 284.66v4.0M203.74 142.03v4.0M91.25 111.19v4.0M397.96 91.91v4.0M449.11 170.3v4.0M88.99 102.19v4.0M427.23 93.2v4.0M412.28 179.29v4.0M509.55 153.59v4.0M391.78 202.42v4.0M429.19 194.71v4.0M485.49 154.88v4.0M502.65 314.21v4.0M235.83 229.4v4.0M538.59 270.52v4.0M219.63 249.96v4.0M573.49 157.44v4.0M353.71 282.09v4.0M389.28 133.03v4.0M403.18 196v4.0M473.66 225.55v4.0M166.57 143.31v4.0M537.54 306.5v4.0M461.55 239.69v4.0M256.62 315.5v4.0M253.11 337.34v4.0M521.17 157.44v4.0M318.77 103.47v4.0M193.22 319.35v4.0M413.91 312.93v4.0M452.36 336.06v4.0M500.32 262.81v4.0M550.44 91.91v4.0M126.25 98.34v4.0M376.14 333.49v4.0M572.33 280.81v4.0M345.94 210.13v4.0M109.92 117.61v4.0M287.94 312.93v4.0M386.71 265.38v4.0M215.24 302.65v4.0M155.07 306.5v4.0M240.19 237.12v4.0M469.42 156.16v4.0M360.01 201.13v4.0M203.7 84.2v4.0M203.31 179.29v4.0M228.81 88.06v4.0M86.64 185.72v4.0M287.36 140.74v4.0M213.24 120.18v4.0M159.98 115.04v4.0M313.74 252.53v4.0M173.75 262.81v4.0M523.37 332.2v4.0M516.17 300.08v4.0M301.29 319.35v4.0M329.49 219.12v4.0M488.1 202.42v4.0M331.32 237.12v4.0M301.18 273.09v4.0M345.82 157.44v4.0M221.44 180.57v4.0M229.47 94.48v4.0M403.43 97.05v4.0M389.61 178v4.0M340.2 204.99v4.0M514.11 266.67v4.0M421.36 311.64v4.0M264.71 233.26v4.0M123.89 248.68v4.0M355.76 274.38v4.0M575.67 147.16v4.0M115.8 165.16v4.0M346.48 193.43v4.0M351.07 252.53v4.0M357.4 95.77v4.0M510.78 253.82v4.0M257.42 108.62v4.0M345.22 120.18v4.0M85.21 131.75v4.0M478.98 319.35v4.0M399.21 120.18v4.0M303 226.83v4.0M375.15 262.81v4.0M375.33 275.66v4.0M434.35 106.05v4.0M311.19 163.87v4.0M416.6 154.88v4.0M547.82 297.51v4.0M351.1 194.71v4.0M574.83 291.08v4.0M386.74 88.06v4.0M188.84 300.08v4.0M542.17 282.09v4.0M115 334.77v4.0M234.52 142.03v4.0M558.84 267.95v4.0M340.86 293.65v4.0M170.77 145.88v4.0M486.93 321.93v4.0M190.73 138.17v4.0M107.2 94.48v4.0M442.68 319.35v4.0M148.96 149.74v4.0M396.62 327.06v4.0M160.5 239.69v4.0M401.95 189.57v4.0M482.22 327.06v4.0M170.99 292.37v4.0M136.26 85.48v4.0M547.57 98.34v4.0M512.75 183.14v4.0M270.5 300.08v4.0M205.02 319.35v4.0M403.4 220.41v4.0M326.79 95.77v4.0M198.82 175.44v4.0M214.13 149.74v4.0M416.74 104.76v4.0M204.74 311.64v4.0M197.45 179.29v4.0M547.8 302.65v4.0M429.81 292.37v4.0M414.35 289.8v4.0M425.33 319.35v4.0M238.95 85.48v4.0M108.03 244.82v4.0M373.46 124.03v4.0M344.78 99.62v4.0M137.13 202.42v4.0M571.41 206.27v4.0M358.1 211.41v4.0M152.89 278.24v4.0M401.13 283.38v4.0M168.96 248.68v4.0M84.2 300.08v4.0M462.56 269.24v4.0M392.79 230.69v4.0M173.62 321.93v4.0M100 261.53v4.0M512.15 94.48v4.0M143.71 210.13v4.0M313.1 226.83v4.0M389.24 328.35v4.0M160.35 203.7v4.0M440.77 100.91v4.0M254.4 106.05v4.0M152.59 136.88v4.0M387 93.2v4.0M199.63 296.22v4.0M269.56 112.47v4.0M436.19 129.18v4.0M502.96 282.09v4.0M574.26 95.77v4.0M375.68 158.73v4.0M222.27 145.88v4.0M304.33 226.83v4.0M179.08 293.65v4.0M340.47 107.33v4.0M163.07 260.25v4.0M475.5 217.84v4.0M153.53 270.52v4.0M453.15 115.04v4.0M273.09 239.69v4.0M232.67 285.94v4.0M92.59 193.43v4.0M547.57 222.98v4.0M523.69 276.95v4.0M505.66 179.29v4.0M350.24 302.65v4.0M144.74 210.13v4.0M479.72 206.27v4.0M542.17 118.9v4.0M533.97 97.05v4.0M210.8 181.86v4.0M225.35 330.92v4.0M578.44 116.33v4.0M429.28 294.94v4.0M171.63 212.7v4.0M512.37 196v4.0M462.41 120.18v4.0M358.08 122.75v4.0M449.85 309.07v4.0M260.09 282.09v4.0M417.85 273.09v4.0M528.81 273.09v4.0M524.52 175.44v4.0M579.49 242.25v4.0M407.41 271.81v4.0M150.58 216.56v4.0M327.59 113.75v4.0M144.51 339.91v4.0M407.23 226.83v4.0M393.82 175.44v4.0M183.07 283.38v4.0M273.75 171.58v4.0M302.93 93.2v4.0M210.17 203.7v4.0M332.33 283.38v4.0M173.67 170.3v4.0M178.14 266.67v4.0M383.28 324.5v4.0M79.05 84.2v4.0M423.34 289.8v4.0M243.1 174.15v4.0M313.76 249.96v4.0M398.29 104.76v4.0M294.77 160.01v4.0M480.36 142.03v4.0M440.89 239.69v4.0M547.54 221.69v4.0M212.99 267.95v4.0M277.83 187v4.0M441.36 235.83v4.0M348.53 287.23v4.0M154.71 298.8v4.0M563.33 149.74v4.0M141.52 280.81v4.0M159.79 95.77v4.0M290.02 143.31v4.0M352.04 147.16v4.0M365.53 305.22v4.0M258.41 296.22v4.0M107.72 116.33v4.0M546.57 129.18v4.0M308.89 167.72v4.0M421.41 264.1v4.0M306.99 206.27v4.0M550.38 102.19v4.0M400.26 91.91v4.0M317.23 116.33v4.0M93.44 136.88v4.0M506.15 136.88v4.0M345.07 125.32v4.0M125.23 314.21v4.0M491.83 197.28v4.0M539.14 206.27v4.0M415.11 323.21v4.0M264.74 224.26v4.0M356.38 275.66v4.0M199.26 100.91v4.0M418.12 190.85v4.0M222.43 338.63v4.0M221.95 222.98v4.0M313.41 86.77v4.0M299.86 170.3v4.0M320.26 251.25v4.0M157.14 171.58v4.0M107.97 126.6v4.0M258.76 203.7v4.0M420.54 323.21v4.0M223.97 233.26v4.0M383.65 221.69v4.0M481.7 212.7v4.0M560.35 309.07v4.0M321.21 213.99v4.0M420.62 201.13v4.0M118.97 122.75v4.0M101.75 215.27v4.0M346.02 306.5v4.0M556.5 229.4v4.0M153.29 222.98v4.0M127.7 158.73v4.0M461.45 229.4v4.0M404.33 185.72v4.0M262.98 153.59v4.0M443.85 84.2v4.0M522.73 242.25v4.0M149.85 136.88v4.0M146.72 329.63v4.0M446.46 270.52v4.0M417.07 153.59v4.0M245.44 143.31v4.0M381.93 100.91v4.0M219.57 99.62v4.0M246.6 130.46v4.0M291.53 108.62v4.0M133.23 95.77v4.0M567.86 193.43v4.0M314.24 334.77v4.0M182.05 98.34v4.0M535.48 142.03v4.0M314.41 183.14v4.0M232.39 220.41v4.0M183.05 294.94v4.0M558.8 221.69v4.0M541.67 234.55v4.0M388.45 189.57v4.0M108.83 220.41v4.0M531.6 97.05v4.0M487.99 162.58v4.0M148.68 262.81v4.0M336.75 262.81v4.0M512.26 165.16v4.0M164.45 253.82v4.0M237.7 139.45v4.0M376.88 170.3v4.0M459.31 194.71v4.0M416.71 312.93v4.0M548.38 157.44v4.0M310.97 122.75v4.0M333.96 160.01v4.0M163.53 221.69v4.0M327.39 294.94v4.0M322.15 148.45v4.0M263.52 142.03v4.0M191.5 283.38v4.0M382.17 125.32v4.0M123.56 249.96v4.0M378.35 284.66v4.0M569.38 283.38v4.0M476.31 225.55v4.0M282.47 296.22v4.0M569.69 219.12v4.0M470.6 124.03v4.0M403.11 199.85v4.0M312 267.95v4.0M503.16 310.36v4.0M417.63 178v4.0M272.11 294.94v4.0M100.9 210.13v4.0M236.66 116.33v4.0M564.67 140.74v4.0M540.53 183.14v4.0M375.2 292.37v4.0M137.19 130.46v4.0M570.15 257.68v4.0M525.85 111.19v4.0M346.39 339.91v4.0M459.19 157.44v4.0M125.85 106.05v4.0M255.43 239.69v4.0M551.15 179.29v4.0M546.21 175.44v4.0M231.7 240.97v4.0M93.64 293.65v4.0M364.19 339.91v4.0M242.05 147.16v4.0M84.47 221.69v4.0M117.33 329.63v4.0M380.92 88.06v4.0M199.95 237.12v4.0M378.74 188.28v4.0M238.28 253.82v4.0M289.63 199.85v4.0M207.8 127.89v4.0M258.91 332.2v4.0M513.83 273.09v4.0M140.4 196v4.0M483.62 113.75v4.0M166.89 298.8v4.0M127.28 113.75v4.0M168.13 285.94v4.0M156.89 188.28v4.0M368.34 180.57v4.0M558.19 333.49v4.0M305.96 95.77v4.0M315.7 339.91v4.0M235.3 122.75v4.0M157.74 257.68v4.0M515.47 252.53v4.0M452.09 310.36v4.0M383.42 334.77v4.0M492.34 113.75v4.0M488.79 328.35v4.0M102.16 136.88v4.0M561.09 339.91v4.0M233.75 228.12v4.0M148.78 139.45v4.0M361.55 175.44v4.0M393.65 284.66v4.0M244.83 193.43v4.0M481.45 84.2v4.0M325.42 207.56v4.0M125.18 153.59v4.0M113.28 171.58v4.0M403.49 302.65v4.0M374.82 302.65v4.0M169.71 192.14v4.0M339.55 151.02v4.0M293.14 97.05v4.0M207.52 305.22v4.0M312.1 264.1v4.0M147.48 148.45v4.0M362.85 261.53v4.0" stroke="#85878c" stroke-opacity="0.45" stroke-width="2.7" fill="none"/>
<path d="M100.09 85.83v5.2M383.29 85.83v5.2M98.41 88.96v5.2M381.61 88.96v5.2M89.98 91.12v5.2M373.18 91.12v5.2M151.37 95.45v5.2M434.57 95.45v5.2M145.59 97.14v5.2M428.79 97.14v5.2M175.92 99.79v5.2M459.12 99.79v5.2M163.4 103.4v5.2M446.6 103.4v5.2M140.29 106.29v5.2M423.49 106.29v5.2M180.74 108.7v5.2M463.94 108.7v5.2M122.48 109.66v5.2M405.68 109.66v5.2M80.35 111.1v5.2M363.55 111.1v5.2M158.11 113.51v5.2M441.31 113.51v5.2M153.77 114.71v5.2M436.97 114.71v5.2M97.44 117.36v5.2M380.64 117.36v5.2M146.55 118.81v5.2M429.75 118.81v5.2M166.29 121.45v5.2M449.49 121.45v5.2M144.63 124.82v5.2M427.83 124.82v5.2M171.59 129.88v5.2M454.79 129.88v5.2M112.85 131.32v5.2M396.05 131.32v5.2M92.15 132.77v5.2M375.35 132.77v5.2M161 135.18v5.2M444.2 135.18v5.2M168.22 136.38v5.2M451.42 136.38v5.2M155.7 141.43v5.2M438.9 141.43v5.2M173.51 144.08v5.2M456.71 144.08v5.2M103.7 146.49v5.2M386.9 146.49v5.2M79.15 149.14v5.2M362.35 149.14v5.2M107.79 150.34v5.2M390.99 150.34v5.2M85.65 152.03v5.2M368.85 152.03v5.2M83.72 154.43v5.2M366.92 154.43v5.2M148.48 153.23v5.2M431.68 153.23v5.2M149.44 155.64v5.2M432.64 155.64v5.2M114.05 156.84v5.2M397.25 156.84v5.2M109.72 158.29v5.2M392.92 158.29v5.2M119.35 160.45v5.2M402.55 160.45v5.2M93.59 163.58v5.2M376.79 163.58v5.2M93.11 165.99v5.2M376.31 165.99v5.2M84.44 169.36v5.2M367.64 169.36v5.2M165.09 170.8v5.2M448.29 170.8v5.2M99.37 172.01v5.2M382.57 172.01v5.2M133.31 173.69v5.2M416.51 173.69v5.2M131.87 174.9v5.2M415.07 174.9v5.2M176.64 175.62v5.2M459.84 175.62v5.2M106.59 178.03v5.2M389.79 178.03v5.2M136.92 179.47v5.2M420.12 179.47v5.2M138.13 193.67v5.2M421.33 193.67v5.2M147.52 195.84v5.2M430.72 195.84v5.2M156.66 198.25v5.2M439.86 198.25v5.2M179.53 200.17v5.2M462.73 200.17v5.2M126.33 202.58v5.2M409.53 202.58v5.2M131.87 210.6v5.2M415.07 210.6v5.2M95.04 213.73v5.2M378.24 213.73v5.2M124.89 216.62v5.2M408.09 216.62v5.2M86.85 217.58v5.2M370.05 217.58v5.2M143.42 224.33v5.2M426.62 224.33v5.2M118.15 226.73v5.2M401.35 226.73v5.2M169.42 225.77v5.2M452.62 225.77v5.2M167.74 227.94v5.2M450.94 227.94v5.2M173.03 230.58v5.2M456.23 230.58v5.2M115.26 232.99v5.2M398.46 232.99v5.2M139.33 234.2v5.2M422.53 234.2v5.2M160.27 235.4v5.2M443.47 235.4v5.2M154.74 236.6v5.2M437.94 236.6v5.2M150.65 238.29v5.2M433.85 238.29v5.2M117.18 243.1v5.2M400.38 243.1v5.2M129.7 244.31v5.2M412.9 244.31v5.2M142.22 245.51v5.2M425.42 245.51v5.2M125.37 249.12v5.2M408.57 249.12v5.2M123.44 250.81v5.2M406.64 250.81v5.2M96.48 252.25v5.2M379.68 252.25v5.2M164.37 253.45v5.2M447.57 253.45v5.2M152.81 259.47v5.2M436.01 259.47v5.2M174.96 260.68v5.2M458.16 260.68v5.2M170.63 263.08v5.2M453.83 263.08v5.2M127.78 261.88v5.2M410.98 261.88v5.2M120.55 264.77v5.2M403.75 264.77v5.2M87.57 265.97v5.2M370.77 265.97v5.2M136.2 268.38v5.2M419.4 268.38v5.2M101.3 272.47v5.2M384.5 272.47v5.2M102.26 277.53v5.2M385.46 277.53v5.2M128.5 279.69v5.2M411.7 279.69v5.2M81.56 282.34v5.2M364.76 282.34v5.2M82.52 290.53v5.2M365.72 290.53v5.2M141.5 296.06v5.2M424.7 296.06v5.2M104.42 297.75v5.2M387.62 297.75v5.2M121.52 304.01v5.2M404.72 304.01v5.2M105.87 306.66v5.2M389.07 306.66v5.2M111.89 309.06v5.2M395.09 309.06v5.2M179.05 310.03v5.2M462.25 310.03v5.2M78.43 313.88v5.2M361.63 313.88v5.2M159.31 315.32v5.2M442.51 315.32v5.2M108.52 319.41v5.2M391.72 319.41v5.2M135.24 320.38v5.2M418.44 320.38v5.2M91.18 321.82v5.2M374.38 321.82v5.2M162.44 325.43v5.2M445.64 325.43v5.2M110.92 328.08v5.2M394.12 328.08v5.2M178.09 329.28v5.2M461.29 329.28v5.2M88.78 330.49v5.2M371.98 330.49v5.2M116.22 336.99v5.2M399.42 336.99v5.2" stroke="#c9168a" stroke-width="3" fill="none"/>
<line x1="325.1" y1="80.1" x2="325.1" y2="480" stroke="#c39d6c" stroke-width="2" stroke-dasharray="17.6 12.4"/>
<path d="M76.3 471.5V388.2h3.3V471.5zM81.58 471.5V383.52h3.3V471.5zM86.86 471.5V388.2h3.3V471.5zM92.14 471.5V381.44h3.3V471.5zM97.42 471.5V382.35h3.3V471.5zM102.7 471.5V386.25h3.3V471.5zM107.98 471.5V382.09h3.3V471.5zM113.26 471.5V388.46h3.3V471.5zM118.54 471.5V381.44h3.3V471.5zM123.82 471.5V381.05h3.3V471.5zM129.1 471.5V385.34h3.3V471.5zM134.38 471.5V386.9h3.3V471.5zM139.66 471.5V392.36h3.3V471.5zM144.94 471.5V388.2h3.3V471.5zM150.22 471.5V387.55h3.3V471.5zM155.5 471.5V383.65h3.3V471.5zM160.78 471.5V385.34h3.3V471.5zM166.06 471.5V384.69h3.3V471.5zM171.34 471.5V383.78h3.3V471.5zM176.62 471.5V384.3h3.3V471.5zM181.9 471.5V387.94h3.3V471.5zM187.18 471.5V384.82h3.3V471.5zM192.46 471.5V387.16h3.3V471.5zM197.74 471.5V378.06h3.3V471.5zM203.02 471.5V383.78h3.3V471.5zM208.3 471.5V388.85h3.3V471.5zM213.58 471.5V384.3h3.3V471.5zM218.86 471.5V381.31h3.3V471.5zM224.14 471.5V385.34h3.3V471.5zM229.42 471.5V384.56h3.3V471.5zM234.7 471.5V384.04h3.3V471.5zM239.98 471.5V384.82h3.3V471.5zM245.26 471.5V384.3h3.3V471.5zM250.54 471.5V381.31h3.3V471.5zM255.82 471.5V387.94h3.3V471.5zM261.1 471.5V384.3h3.3V471.5zM266.38 471.5V387.55h3.3V471.5zM271.66 471.5V389.24h3.3V471.5zM276.94 471.5V390.15h3.3V471.5zM282.22 471.5V389.24h3.3V471.5zM287.5 471.5V388.2h3.3V471.5zM292.78 471.5V380.01h3.3V471.5zM298.06 471.5V382.35h3.3V471.5zM303.34 471.5V384.3h3.3V471.5zM308.62 471.5V386.9h3.3V471.5zM313.9 471.5V382.35h3.3V471.5zM319.18 471.5V383h3.3V471.5zM324.46 471.5V381.05h3.3V471.5zM329.74 471.5V385.86h3.3V471.5zM335.02 471.5V386.64h3.3V471.5zM340.3 471.5V389.11h3.3V471.5zM345.58 471.5V388.59h3.3V471.5zM350.86 471.5V384.56h3.3V471.5zM356.14 471.5V388.59h3.3V471.5zM361.42 471.5V384.3h3.3V471.5zM366.7 471.5V384.82h3.3V471.5zM371.98 471.5V386.9h3.3V471.5zM377.26 471.5V383h3.3V471.5zM382.54 471.5V387.94h3.3V471.5zM387.82 471.5V384.56h3.3V471.5zM393.1 471.5V384.04h3.3V471.5zM398.38 471.5V384.82h3.3V471.5zM403.66 471.5V386.64h3.3V471.5zM408.94 471.5V383h3.3V471.5zM414.22 471.5V384.56h3.3V471.5zM419.5 471.5V384.3h3.3V471.5zM424.78 471.5V387.55h3.3V471.5zM430.06 471.5V384.56h3.3V471.5zM435.34 471.5V392.36h3.3V471.5zM440.62 471.5V384.3h3.3V471.5zM445.9 471.5V381.7h3.3V471.5zM451.18 471.5V382.35h3.3V471.5zM456.46 471.5V384.3h3.3V471.5zM461.74 471.5V384.56h3.3V471.5zM467.02 471.5V383h3.3V471.5zM472.3 471.5V382.74h3.3V471.5zM477.58 471.5V382.61h3.3V471.5zM482.86 471.5V384.3h3.3V471.5zM488.14 471.5V382.35h3.3V471.5zM493.42 471.5V385.34h3.3V471.5zM498.7 471.5V383.65h3.3V471.5zM503.98 471.5V382.61h3.3V471.5zM509.26 471.5V384.3h3.3V471.5zM514.54 471.5V384.56h3.3V471.5zM519.82 471.5V384.04h3.3V471.5zM525.1 471.5V385.34h3.3V471.5zM530.38 471.5V386.9h3.3V471.5zM535.66 471.5V388.59h3.3V471.5zM540.94 471.5V384.56h3.3V471.5zM546.22 471.5V381.44h3.3V471.5zM551.5 471.5V382.35h3.3V471.5zM556.78 471.5V386.25h3.3V471.5zM562.06 471.5V384.56h3.3V471.5zM567.34 471.5V388.59h3.3V471.5zM572.62 471.5V384.56h3.3V471.5zM577.9 471.5V384.3h3.3V471.5z" fill="#7f1f82"/>
<line x1="77.72" y1="384.6" x2="581" y2="384.6" stroke="#231f20" stroke-width="3.1" stroke-dasharray="21.2 9.04"/>
<path d="M75.5 83.5H582.5V481.5M75.5 83.5V481.5M75.5 344.5H582.5" stroke="#231f20" stroke-width="3" fill="none" stroke-linecap="square"/>
<line x1="73" y1="481.5" x2="586" y2="481.5" stroke="#231f20" stroke-width="3" />
<line x1="70" y1="83.5" x2="75" y2="83.5" stroke="#231f20" stroke-width="3" />
<line x1="70" y1="344.5" x2="75" y2="344.5" stroke="#231f20" stroke-width="3" />
<line x1="70.5" y1="384.5" x2="75" y2="384.5" stroke="#231f20" stroke-width="3" />
<line x1="70.5" y1="469.5" x2="75" y2="469.5" stroke="#231f20" stroke-width="3" />
<line x1="202.5" y1="482" x2="202.5" y2="487.5" stroke="#231f20" stroke-width="3" />
<line x1="323.5" y1="482" x2="323.5" y2="487.5" stroke="#231f20" stroke-width="3" />
<line x1="453" y1="482" x2="453" y2="487.5" stroke="#231f20" stroke-width="3" />
<line x1="160.5" y1="483" x2="160.5" y2="487.5" stroke="#8a8a8a" stroke-width="0.8" />
<line x1="330.5" y1="483" x2="330.5" y2="487.5" stroke="#8a8a8a" stroke-width="0.8" />
<line x1="513.5" y1="483" x2="513.5" y2="487.5" stroke="#8a8a8a" stroke-width="0.8" />
</g>
<g id="panel-b">
<clipPath id="clipb"><rect x="716.5" y="80.5" width="318.0" height="330.0"/></clipPath>
<g clip-path="url(#clipb)">
<path d="M717 243.73L718 247.18L719 251.09L720 254.6L721 258.57L722 261.92L723 266.26L724 269.09L725 273.43L726 277.69L727 280.97L728 285.18L729 287.32L730 290.34L731 293.33L732 296.43L733 298.83L734 301.3L735 303.45L736 306.47L737 307.63L738 311.06L739 313.43L740 314.76L741 317.08L742 318.31L743 318.64L744 320.67L745 320.94L746 322.01L747 323.65L748 324.73L749 326.6L750 327.95L751 329.16L752 328.92L753 329.6L754 330.93L755 331.46L756 331.96L757 334.17L758 334.59L759 334.68L760 336.78L761 337.14L762 337.81L763 338.92L764 338.43L765 339.99L766 339.81L767 340.64L768 341.24L769 341.95L770 343.15L771 342.96L772 343.92L773 345.2L774 345.34L775 345.01L776 345.34L777 346.52L778 347.6L779 347.73L780 347.83L781 348.93L782 349.86L783 350.23L784 350.75L785 350.8L786 350.8L787 351.28L788 351.98L789 352.89L790 353.72L791 352.87L792 353.49L793 354.22L794 355.11L795 355.55L796 355.89L797 356.16L798 356.47L799 357.26L800 357.95L801 358.06L802 358.06L803 358.53L804 358.74L805 358.63L806 359.04L807 359.2L808 361.19L809 361.18L810 361.79L811 362.27L812 362.14L813 362.7L814 361.95L815 363.53L816 362.57L817 364.4L818 364.5L819 364.25L820 364.39L821 364.26L822 364.96L823 366.05L824 365.12L825 366.16L826 366.13L827 366.02L828 367.17L829 366.82L830 367.86L831 367.02L832 368.77L833 367.97L834 369.49L835 368.51L836 369.01L837 369.42L838 369.76L839 369.08L840 369.96L841 370.31L842 370.27L843 369.82L844 369.76L845 370.47L846 370.62L847 370.11L848 371.17L849 370.6L850 371.5L851 372.22L852 370.74L853 371.32L854 372.19L855 371.85L856 372.17L857 372.54L858 373.63L859 373.79L860 373.8L861 373.35L862 374.01L863 374.61L864 375.04L865 374.92L866 374.62L867 374.53L868 375.03L869 375.04L870 375.61L871 375.85L872 375.62L873 377.2L874 377.46L875 376.45L876 376.39L877 377.37L878 377.49L879 377.59L880 378.57L881 377.88L882 377.95L883 379.2L884 378.66L885 378.35L886 379.01L887 379.89L888 379.98L889 381.58L890 381.69L891 381.89L892 382.54L893 383.58L894 383.05L895 383.25L896 383.72L897 385.15L898 384.7L899 384.95L900 385.43L901 385.71L902 385.89L903 385.84L904 387.05L905 386.4L906 386.48L907 388.18L908 388.09L909 388.14L910 387.99L911 389.17L912 388.38L913 389.92L914 390.06L915 389.78L916 389.76L917 391.12L918 390.58L919 391.2L920 390.67L921 391.28L922 391.51L923 392.97L924 392.6L925 393.02L926 393.36L927 393.97L928 392.88L929 393.25L930 393.76L931 393.91L932 394.32L933 394L934 394.26L935 395.55L936 395.39L937 395.42L938 395.72L939 396.38L940 396.32L941 397.04L942 397.88L943 397.66L944 397.63L945 397.16L946 397.88L947 398.82L948 398.49L949 398.05L950 398.42L951 399.97L952 399.16L953 398.97L954 399.58L955 399.28L956 399.91L957 400.11L958 400.67L959 400.45L960 401.55L961 401.15L962 402.69L963 402.9L964 401.92L965 403.53L966 403.43L967 403.03L968 403.35L969 403.24L970 403.24L971 404.38L972 403.63L973 403.79L974 403.72L975 404.12L976 404.48L977 403.83L978 404.72L979 404.02L980 405.25L981 404.13L982 405.49L983 404.72L984 404.4L985 404.93L986 404.83L987 404.57L988 405.62L989 406L990 404.37L991 405.7L992 405.63L993 404.93L994 405.68L995 405.73L996 404.48L997 405.12L998 404.82L999 405.41L1000 406.01L1001 405.5L1002 404.99L1003 404.59L1004 404.75L1005 405.91L1006 405.93L1007 405.84L1008 404.64L1009 405.24L1010 404.72L1011 406.02L1012 406.09L1013 405.04L1014 406.11L1015 405.58L1016 406.06L1017 404.5L1018 405L1019 404.7L1020 405.31L1021 404.79L1022 404.95L1023 404.49L1024 405.62L1025 405.78L1026 404.62L1027 404.69L1028 405.2L1029 404.64L1030 406.02L1031 405.8L1032 406L1033 405.23L1034 405.74L1034 409.38L1033 408.88L1032 408.94L1031 409.44L1030 409.57L1029 409.13L1028 409.84L1027 409.4L1026 408.88L1025 409.16L1024 409.98L1023 409.73L1022 409.27L1021 410.07L1020 408.93L1019 410.03L1018 410.05L1017 409.62L1016 409.93L1015 409.67L1014 409.4L1013 410.07L1012 409.56L1011 409.8L1010 408.87L1009 409.56L1008 409.59L1007 408.93L1006 409.17L1005 409.09L1004 409L1003 409.21L1002 408.92L1001 409.53L1000 409.42L999 409.91L998 408.8L997 409.12L996 408.86L995 409.09L994 408.93L993 409.24L992 409.16L991 410.05L990 410.1L989 409.41L988 409.37L987 408.96L986 409.43L985 409.02L984 409.14L983 409.88L982 410.22L981 409.59L980 408.77L979 409.69L978 409.03L977 409.93L976 409.72L975 408.67L974 409.38L973 409.81L972 409.69L971 409.24L970 409.58L969 409.57L968 409.33L967 409.05L966 409.2L965 409.32L964 408.82L963 408.91L962 408.4L961 408.37L960 408.64L959 408.22L958 408.99L957 408.47L956 408.87L955 407.77L954 408.82L953 408.6L952 407.32L951 407.67L950 406.9L949 406.96L948 406.46L947 406.1L946 407.01L945 406.73L944 405.91L943 405.32L942 405.52L941 405.06L940 405.25L939 405.57L938 405.7L937 405.03L936 405.42L935 404.68L934 404L933 404.62L932 405.01L931 404.62L930 403.51L929 404.41L928 403.17L927 404.35L926 403.96L925 403.67L924 403.66L923 402.92L922 402.59L921 402.59L920 402.1L919 401.58L918 402.45L917 401.96L916 401.99L915 402.07L914 400.34L913 400.81L912 400.38L911 399.94L910 399.24L909 400.27L908 398.8L907 398.96L906 399.27L905 398.68L904 398.2L903 398.26L902 398.09L901 397.2L900 397.31L899 396.44L898 396.96L897 395.4L896 396.08L895 394.89L894 395.17L893 394.42L892 394.89L891 394.65L890 393.85L889 393.85L888 393.29L887 392.87L886 392.83L885 391.35L884 391.19L883 390.69L882 390.49L881 389.96L880 390.58L879 390.41L878 390.21L877 388.76L876 388.92L875 388.68L874 387.52L873 388.43L872 388.44L871 386.95L870 388L869 386.61L868 387.03L867 386L866 386.21L865 386.38L864 385.76L863 386.57L862 385.17L861 385.55L860 385.34L859 385.13L858 384.65L857 383.89L856 384.24L855 383.34L854 383.25L853 383.74L852 383.59L851 382.8L850 382.04L849 382.29L848 381.53L847 382.17L846 382.3L845 381.3L844 381.2L843 381.16L842 380.45L841 381.09L840 380.34L839 380.75L838 380.4L837 379.74L836 379.86L835 380.58L834 379.92L833 380.34L832 379.36L831 379.96L830 379.52L829 379.27L828 378.56L827 377.94L826 377.78L825 377.16L824 376.69L823 376.25L822 376.39L821 376.6L820 376.64L819 376.33L818 376.16L817 375.76L816 374.91L815 375.89L814 375.19L813 374.12L812 374.73L811 374.52L810 374.38L809 373.38L808 373.75L807 373.2L806 372.33L805 372.06L804 372.04L803 371.27L802 370.95L801 371.75L800 370.49L799 370.27L798 370.37L797 370.45L796 369.5L795 370.05L794 368.82L793 368.42L792 368.64L791 367.97L790 368.12L789 367.74L788 366.77L787 366.38L786 365.87L785 364.86L784 365L783 364.94L782 364.8L781 364.1L780 362.34L779 362.43L778 362.01L777 361.4L776 360.12L775 359.79L774 359.68L773 359.2L772 358.91L771 357.89L770 357.04L769 356.14L768 356.4L767 355.14L766 355.23L765 354.59L764 353.28L763 352.61L762 352.56L761 350.95L760 350.16L759 350.74L758 348.92L757 348.05L756 347.81L755 347.08L754 347.35L753 346.6L752 345.95L751 345.01L750 343.44L749 343.3L748 342.28L747 341.26L746 339.25L745 338.98L744 337.1L743 336.78L742 335.43L741 334.55L740 334.62L739 333.35L738 332.64L737 332.34L736 332.08L735 331.42L734 331.37L733 331.11L732 329.5L731 329.69L730 328.59L729 327.91L728 327.63L727 326.75L726 325.12L725 325.3L724 324L723 322.66L722 322.38L721 321.57L720 320.3L719 319.94L718 318.63L717 319.12z" fill="#5c2d91"/>
<path d="M750.89 318.08v4.5M757.95 131.2v3.5M759.15 139.15v3M746.71 318.45v2.5M822.58 267.32v2.5M999.79 269.73v4.5M939.74 227.89v3M1012.65 371.89v5.5M1013.85 381.95v3M887.62 146.9v2M729.59 104.42v3M796.55 185.28v2.5M739.94 160.78v4.5M776.15 182.44v5.5M774.95 190.36v3M846.82 277.31v3.5M888.48 209.54v3M751.66 84.74v4.5M879.57 344.32v5.5M720.05 221.37v4.5M787.36 298.28v4.5M808.04 308.62v4.5M809.06 124.14v3M810.26 132.73v3M917.88 284.11v4.5M720.21 170.53v2M721.41 176.34v2M837.94 358.36v5.5M842.62 320.41v4.5M845.76 105.27v4.5M909.6 195.04v5.5M737.31 283.36v3.5M835.71 254.33v3M835.71 262.51v3M967.56 85.32v2M920.38 245.92v4.5M919.18 254.55v2M846.37 211.23v4.5M965.1 191.03v4.5M966.3 196.39v3M758.78 127.68v2M772.92 241.76v2M771.72 246.58v3M891.46 199.21v4.5M892.66 208.67v2M909.57 328.07v3M887.42 214.87v3.5M787.96 265v4.5M731.39 86.65v2M991.03 335.19v4.5M1021.45 157.97v3.5M905.29 358.39v4.5M723.6 154.74v5.5M724.8 162.13v2M830.22 365.23v3M923.15 266.82v5.5M750.1 102.97v2M767.8 246.16v3.5M792.71 186.13v2.5M879.75 336.05v4.5M804.4 284.87v3.5M841.8 187.07v3M841.8 192.87v2M800.46 202.34v4.5M996.75 325.26v4.5M878.76 259.32v5.5M749.27 173.93v2.5M846.11 287.69v4.5M847.31 297.23v2M732.95 172.52v2.5M731.75 178.47v3M898.69 304.71v2.5M992.32 115.91v4.5M992.32 123.66v3M1027.33 268.66v3M872.33 361.61v3M872.33 368.15v3M876.58 302.87v2M877.78 309.43v3M894.11 86.44v5.5M737.09 234.2v3M887.59 326.74v3M921.97 124.25v5.5M921.97 132.17v2M760.22 130.64v5.5M759.02 138.18v2M933.67 330.65v3M731.02 185.12v3M861.37 348.37v3M861.37 355.67v3M948.34 284.39v3M729.22 221.82v4.5M844.57 209.68v3M844.57 214.19v3M941.09 271.32v4.5M789.65 165.7v4.5M911.05 276.41v2.5M911.05 281.26v3M915.71 334.49v2M915.71 338.7v2M955.56 206.5v2.5M967.96 290.78v4.5M978.43 164.16v2.5M792.61 170.65v3M792.61 177.5v3M1011.88 363.05v3M888.81 189.16v3.5M811.22 176.08v3M767.35 164.27v4.5M977.27 308.48v3.5M976.59 231.57v4.5M757.63 160.95v2M959.77 176.15v3.5M788.68 253.12v3.5M734.73 272.32v5.5M987.8 198.71v3M865.47 219.36v5.5M1006.47 169.78v3M843.74 247.58v5.5M750.7 316.48v4.5M750.7 322.84v3M914.21 231.67v4.5M915.41 241.28v3M913.15 192.95v5.5M739.83 190.43v4.5M829.55 216.06v3.5M718.18 240.33v3.5M828.37 283.05v3.5M883.41 231.79v3M726.99 103.18v2M726.99 109.18v2M911.91 383.14v5.5M795.76 294.51v2.5M792.15 274.02v2M732.86 87.3v3M977.64 362.96v3M1028.54 145.71v3M726.93 263.62v2.5M771.08 317.19v5.5M772.28 325.03v3M812.55 216.42v2.5M961.06 186.89v2M719.47 243.45v3M876.53 140.92v2M863.36 268.77v3M908.31 263.84v2M784.26 177.25v2M795.05 307.69v2.5M813.98 187.9v3.5M1006.59 127.65v2.5M821.44 232.6v4.5M822.64 237.82v3M774.68 333.97v2M850.84 245.39v3M933.96 295.78v5.5M869.98 198.19v3.5M884.36 85.8v2M728.39 241.98v4.5M846.96 353.32v3M900.39 148.87v3M910.02 278.23v3M908.82 283.68v3M847.26 329.91v3M793.35 242.79v2M831.14 148.41v5.5M1000.19 133.39v4.5M798.27 199.85v3.5M905.63 208.17v3M854.55 161.76v5.5M775.51 201v3.5M742.06 141.11v3M798.82 173.26v3.5M797.62 182.83v2M860.96 255.53v3M862.16 262.05v3M770.28 132.27v4.5M794.59 214.23v3M789.39 182.12v3M777.63 295.98v3.5M718.59 224.08v4.5M718.59 234.24v2M823.47 325.97v5.5M768.81 258.37v3M873.2 199.81v2.5M1003.06 96.04v3M878.99 215.26v2M883.27 160.18v2.5M871.06 128.73v2M975.71 147.09v3.5M892.75 140.74v3.5M889.47 83.11v3M728.43 262.02v2M849.77 354.16v3M719.64 219.71v2M841.26 207.77v2M1012.03 90.02v2M799.12 223.35v5.5M751.62 165.37v3M746.01 149.11v5.5M764.05 137.79v3M917.84 350.07v4.5M812.12 139.2v5.5M810.92 147.64v3M775.18 342.97v3.5M729.51 281.91v3.5M898.36 329.54v2M898.36 336.69v3M873.3 264.94v2.5M1013.67 334.29v3M1012.47 338.59v3M869.85 185.8v3M857.6 134.67v2.5M874.82 300.02v5.5M798.77 221.23v3.5M1013.8 173.62v3M1013.8 182.24v3M824.72 197.05v5.5M956.23 210.18v3M981.62 397.81v3.5M980.42 402.86v2M873.56 264.3v2.5M912.57 305.48v3M801.22 322.86v3.5M792.71 168.03v5.5M722.21 194.72v5.5M886.44 141v3M938.38 333.39v5.5M720.42 123.82v2.5M878.76 87.98v5.5M720.52 126.85v3M781.2 262.62v3.5M745.87 258.59v3M744.82 245.11v4.5M827.42 248.77v4.5M788.35 223.84v5.5M788.35 232.6v3M1003.94 199.07v4.5M908.35 287.96v3M832.09 205.72v2M851.78 304.67v3.5M844.77 80.49v4.5M855.65 175.22v3M855.65 180.25v3M919.28 179.31v3M906.89 345.61v3M1002.93 242.58v3.5M894.09 212.18v3M949.8 380.07v3M830.61 306.31v2M830.61 310.68v3M972.41 349.67v3M918.52 187.84v4.5M805.16 349.79v4.5M834.15 144.83v3M814.73 292.7v3M826.54 223.94v2.5M825.58 83.97v3M824.38 88.67v3M748.36 148v3M758.36 228.04v5.5M1027.99 160.69v2M733.42 172.9v3M919.01 125.38v2M1009.61 146.25v5.5M802.42 291.74v4.5M802.17 163.21v2M887.12 108.91v4.5M791.24 275.09v2.5M788.97 286.56v2.5M788.97 294.76v2M756.98 98.34v3M818.51 168.13v3M967.09 354.05v2M967.09 360.31v2M719.99 180.94v3.5M982.33 264.44v4.5M982.33 270.75v3M995.62 157.15v4.5M995.62 163.15v2M997.51 300.35v2.5M778.6 267.19v2M812.63 210.38v2M812.63 214.58v3M998.83 176.71v5.5M842.8 195.68v5.5M842.8 202.4v2M723.83 245.95v2.5M723.83 250.39v3M724.83 239.32v2.5M749.76 173.91v5.5M866.49 311.93v3M954.5 169.13v3M955.7 176.98v2M902.82 223.65v2M902.82 229.69v2M773 150v2M773 153.8v3M739.32 260.86v5.5M739.32 270.11v2M841.34 92.01v2M961.86 196.54v3.5M877.57 143.71v3M819.17 292.62v3M737.02 235.63v5.5M735.82 244.9v2M981.67 179.94v4.5M927.7 150.55v3M960.32 266.95v3.5M961.52 272.13v2M1022.27 135.71v2.5M1027.07 328.35v3M868.57 198.64v3M796.97 101.98v2.5M840.97 339.65v3M777.11 132.34v5.5M775.91 142.3v2M969.43 157.63v3.5M879.29 372.94v3M781.71 194.63v2M782.91 203.38v2M883.73 191.27v2M882.53 199.1v3M834.88 265.47v2.5M847.26 334.68v3M848.46 340.53v3M900.84 376.5v2M873.91 234.54v2.5M841.44 289.36v5.5M857.84 277.54v2.5M849.53 251.57v2M751.59 203.14v2M752.79 208.2v3M720.97 155.67v4.5M740.39 262.34v3M739.19 270.2v3M779.95 334.1v2M778.75 340v3M885.96 201.67v5.5M1026.19 99.43v2.5M1024.99 103.98v3M783.01 263.02v3M978.51 213.03v3M977.31 218.53v2M741.85 114.09v5.5M741.85 122.68v2M767.37 195.95v3M939.92 133.75v2M933.89 178.4v3M932.69 184.78v3M856.62 145.94v2M907.6 214.79v5.5M851.33 145.85v3.5M932.6 361.76v5.5M872.71 145.89v5.5M983.54 175.93v3M983.54 180.85v2M905.58 290.87v3M837.57 104.26v3M838.77 112.2v3M769.86 228.44v3.5M906.23 154.59v2.5M906.95 328.33v2.5M984.56 235.61v2.5M849.09 146.8v4.5M976.99 221.33v3M975.79 229.46v3M884.96 82.78v3M804.93 233.14v2.5M804.93 237.55v2M929.13 271.25v3.5M741.66 270.24v2M964.97 270.36v5.5M924.33 177.13v2M923.13 181.49v2M805.67 131.17v4.5M1028.04 294.23v2.5M884.45 124.12v2M883.25 131.18v2M1026.19 310.22v3.5M844.76 117.56v5.5M991.94 143.44v5.5M868.01 320.03v3M869.21 327.62v2M768.89 270.03v3M1022.05 353.74v3M1022.05 359.91v3M973.07 283.86v5.5M986.1 124.5v2.5M753.27 262.46v3M752.07 271.13v2M963.49 189.3v4.5M805.18 314.93v2M805.18 322.84v2M988.74 259.18v2M848.89 312.32v2.5M911.73 243.63v3M951.7 358.1v3M881.79 229.69v2M817.71 273.38v5.5M817.71 281.39v2M996.77 87.34v3M771.75 173.53v2M757.42 152.73v3M727.55 250v4.5M846.91 267.6v2M741.57 126.16v3M881.63 219.71v3M800.98 353.98v5.5M748.19 127.32v4.5M744 261.69v4.5M799.12 230.86v3M745.77 178.41v3.5M856.61 347.04v5.5M722.87 254.33v3M1026.52 182.23v3M987.51 177.22v2M804.42 348.82v5.5M811.66 81.58v3M801.97 189.09v4.5M731.85 220.64v3.5M831.94 158.98v5.5M948.1 141.09v4.5M1020.46 283.89v3M1020.46 291.92v2M777.68 274.09v4.5M804.95 148.13v2M848.73 143.19v4.5M848.73 149.25v2M989.61 296.66v5.5M990.81 306.17v2M830.53 203.36v3M723.71 258.74v5.5M841.65 201.48v2.5M840.45 209v3M750.73 325.47v3M732.77 195.97v3.5M923.13 188.42v2M887.08 281.49v3M857.52 228.25v3M857.52 236.95v2M784.42 272.3v2M784.42 279.26v2M804.93 258.97v2.5M898.23 379.1v3M914.12 258.1v5.5M904.99 226.93v3M723.73 170.72v3M723.73 176.86v2M804.09 208.88v3M747.22 146.44v5.5M1007.44 378.63v2M1007.44 387.13v2M867.28 277.52v3M1010.98 214.89v2M739.91 297.81v3M947.49 151.42v3M723.55 134.65v2.5M897.68 377.89v2M897.68 382.22v2M734.98 301.74v3M776.49 320.14v2M972.18 299.39v5.5M970.98 308.96v2M1002.7 328.21v2.5M1002.7 332.59v2M754.63 214.78v3M752.74 315.79v4.5M753.94 324.63v2M988.16 356.22v5.5M981.61 191.85v2.5M773.34 280.85v5.5M772.14 287.28v3M929.87 254.14v2M889.35 373.84v3M785.55 333.27v2.5M845.08 135.56v5.5M894.76 314.75v2M752.65 236.35v3.5M753.85 245.68v2M849.23 179.16v3.5M848.03 187.82v2M728.08 155.8v3.5M728.08 161.41v3M902.02 285.76v2M816.01 232.24v3.5M816.01 240.08v2M978.33 94.73v2.5M978.33 103.24v3M807.5 284.84v5.5M807.5 291.71v3M780.29 201.38v2M797.19 217.94v5.5M808.08 287.78v3M989.53 269.5v2.5M810.52 210.95v3M772.73 197.03v2M1029.74 152.16v2M988.95 246.3v2M988.95 250.36v2M962.57 268.74v5.5M917.56 244.61v3.5M905.06 371.75v3.5M718.22 115.95v3M733.55 247.02v4.5M733.55 253.1v3M929.67 309.21v5.5M936.66 262.24v5.5M938.33 220.99v2.5M1005.07 371.99v2.5M1005.07 376.13v3M729.11 268.39v3M727.91 276.1v3M838.91 163.89v3.5M794.74 315.22v3M793.54 324.32v2M895.67 295.77v5.5M904.5 257.41v2.5M800.48 282.25v5.5M795.6 134.83v3.5M780.15 337.91v3M778.95 342.06v3M719.1 213.31v5.5M1028.91 119.73v2.5M809.86 237.2v4.5M809.86 243.51v3M902.89 205.88v2.5M902.89 214.45v2M806.92 313.09v3M805.72 320.7v2M972.91 364.73v2.5M972.91 372.33v3M1011.33 128.25v3.5M864.69 334.64v5.5M729.6 187.09v2.5M876.24 215.19v4.5M1024.4 271.93v2.5M1016.9 385.81v5.5M780.25 283.1v5.5M780.25 292.32v3M840.09 251.08v2M735.59 186.92v3.5M1025.86 258.98v3M750.43 193.45v3M720.47 162.04v3M826.54 231.44v2M793.85 308.64v4.5M775.69 190.59v3M1002.64 397.13v3M890.23 281.21v2.5M756.54 217.62v4.5M955.55 238.46v2M954.35 245.59v2M884.72 302.44v2.5M992.63 169.63v3M983.68 174.6v3.5M827.75 251.92v3M828.95 260.7v2M826.12 106.18v2M728.06 190.6v3.5M778.53 250.95v2M924.79 312.77v4.5M903.33 160.69v3M1014.76 126.75v2.5M729.49 216.1v3M730.69 222.83v3M1013.27 280.48v3M771.16 175.57v3M863.97 254.65v2.5M763.25 81.76v3M932 186.07v2M1023.39 115.88v2.5M797.43 246.25v4.5M955.19 123.68v3M747.1 240.96v3.5M748.94 183.06v4.5M956.98 230.64v3M1009 254.14v4.5M778.98 257.11v2.5M1028.46 266.45v5.5M1004.77 296.55v3.5M863.78 314.46v3.5M862.58 319.64v3M719.57 237.18v3.5M812.67 260.01v5.5M812.67 265.74v3M814.57 296.01v3M814.57 304.02v2M807.04 126.42v2M908.91 348.97v4.5M897.79 184.06v5.5M859.93 208.07v2M859.93 216.46v2M1026.3 150.84v3M1026.3 159.1v2M759.08 264.35v5.5M922.42 292.11v5.5M899.31 124.01v5.5M760.61 329.09v4.5M778.45 159.41v5.5M778.45 168.95v2M740.63 295.72v2.5M976.52 364.35v2.5M959.05 188.96v3M750.19 157.58v4.5M1016.83 202.67v3M1009.6 369.95v3M764.64 163.03v3M816.1 147.42v2M888.71 211.36v3M917.41 271.8v3M1003.07 353.55v3M980.82 392.27v2.5M980.82 396.82v3M990.26 197.58v2M853.41 175.55v3.5M853.41 180.64v2M967.4 207.03v3.5M750.07 177.57v3M805.68 127.08v2.5M878.09 330.99v3.5M750.87 315.67v4.5M859.87 224.36v3M967.35 248.87v3M777.19 171.91v3M801.59 93.48v5.5M757.88 205.12v3M910.02 137.02v5.5M813.99 134.67v2M888.72 270.56v2M975.91 343.59v4.5M730.63 191.36v4.5M946.05 96.64v2.5M820.85 157.98v4.5M835.82 256.38v3M1000.3 283.79v2M999.1 288.69v2M762.96 121.97v2.5M793.75 338.33v3M982.85 267.03v3M984.05 272.07v2M916.87 380.38v3M844.73 245.49v3.5M791.49 207.14v3M787.44 205.42v3M719.04 110.54v3M775.13 245.92v5.5M934.1 315.21v3M900.63 341.59v3M900.63 348.95v3M916.33 156.22v4.5M796.3 182.36v4.5M763.08 272.19v4.5M768.64 163.65v3M769.84 169.63v2M854.86 326.47v2.5M1030.34 122.35v2M825.57 263.1v3M872.36 145.92v2.5M747.57 290.99v5.5M748.77 299.58v2M908.52 250.66v3M907.32 256.27v3M779.34 194.08v2M854.94 198.42v3M753.64 198.79v2.5M754.84 206.78v2M1005.39 153.15v2.5M778.73 141.02v3M965.62 239.37v5.5M964.42 244.98v3M1024.83 320.59v2M788.73 204.23v5.5M859.61 267.44v5.5M988.62 186.09v3M724.82 249.77v3M726.33 198.28v4.5M725.13 205.4v2M949 262.81v3M949 268.58v3M751.65 247.12v4.5M751.65 253.01v3M731.76 109.6v5.5M743.68 270.68v3M798.51 209.29v2M993.08 132.81v2.5M803.63 321.23v4.5M880.07 252.4v3.5M782.62 259.26v3.5M781.42 267.68v3M976.87 286.53v3M976.87 291.43v3M789.85 329.95v3.5M789.85 335.44v3M965.7 168.15v3.5M726.74 102.47v4.5M905.17 231.02v3M905.17 236.44v2M924.9 116.16v3M926.1 125.47v2M777.74 166.11v4.5M987.3 142.87v3M958.34 295.13v3M986.36 251.3v3M985.16 258.25v2M834.75 155.54v5.5M777.03 261.31v3M777.03 270v2M804.18 139.32v5.5M912.47 173.16v2.5M755.42 325.11v5.5M910.39 151.08v3.5M975.38 285.98v2M770.73 264.39v4.5M818.7 315.58v3.5M819.9 321.61v2M1032.69 84.16v4.5M862.49 160.79v4.5M744.25 293.31v3M877.92 211.51v5.5M806.48 337.85v2.5M829.62 257.31v3.5M813.8 174.45v2.5M728.17 146.51v3.5M729.37 153.48v3M805.49 166.51v2M806.69 174.47v2M795.97 307.45v3M728.96 131.6v3M728.96 138.69v2M981.61 365.19v3.5M932.89 366.96v2.5M763.53 167.23v4.5M850.91 95.59v3M829.03 114.75v2M804.56 212.4v3M865.24 359.44v2.5M952.78 384.15v3M942.13 161.92v2M788.43 116.63v3M872.89 178.73v2M764.26 326.71v3.5M956.46 359.52v3M767.78 282.56v2M766.58 287.85v3M805.07 346.26v3M874.82 309.73v5.5M874.82 316.16v2M1014.2 290.09v3M1013 294.3v3M834.31 184.41v3M746.3 113.32v3M773.9 286.83v3M982.88 330.8v2.5M718.78 167.24v3M719.71 117.94v3.5M893.17 321.68v2.5M893.17 326.94v2M733.73 253.94v3M941.88 275.15v3M961.82 362.2v3M953.63 293.41v4.5M925.18 382.11v3.5M923.98 386.73v3M734.7 131.74v2.5M734.7 138.34v3M721.96 111.26v4.5M1021.35 235.31v4.5M895.5 300.8v2.5M838.11 302.93v2.5M862.59 197.85v3M863.79 203.03v2M1007.54 174.99v2M1006.34 179.28v2M789.44 235.33v3M815.92 115.69v5.5M739.38 272.49v4.5M870.8 261.34v2M802.04 310.06v3M983.12 264.21v2.5M851.78 306.99v3.5M881.74 203.96v5.5M865.9 185.8v2M765.24 338.1v3.5M772.51 199.32v4.5M766.89 270.36v3M1015.44 196.54v3.5M936.25 203.68v3M948.07 101.88v4.5M949.27 110.81v3M847.92 265.97v2.5M736.71 146.59v2M756.75 153.5v3M999.65 318.95v3.5M910.83 168.48v2.5M893.86 217.99v3.5M892.66 226.12v3M876.47 351.11v3.5M811.34 248.86v3.5M930.68 190.85v4.5M810.76 283.36v2.5M939.58 227.48v5.5M819.72 345.87v2.5M747.02 235.6v2.5M832.76 305v3M993.22 180.19v3M971.73 220.03v3.5M972.93 227.25v2M962.77 244.52v4.5M962.77 250.22v3M968.33 240.43v2.5M968.33 244.32v3M937.64 118.76v4.5M954 347.62v3M818.31 329.78v3M724.23 246.34v3M1002.27 226.59v5.5M858.5 333.37v3M981.68 403.32v3M734.37 231.84v3M734.37 238v2M1031.05 246.17v4.5M1032.25 254.18v3M952.39 245.48v3.5M953.59 252.53v3M902.95 143.44v2.5M990.22 313.89v2M907.99 212.97v4.5M907.99 219.69v2M758.15 273.57v2M737.17 280.31v3M950.99 264.92v3M1015.33 109.75v2.5M1014.13 116.03v3M933.82 269.54v5.5M985.37 206.8v2M797.2 141.9v2.5M797.2 146.34v3M929.05 233.81v2M927.85 237.37v3M813.77 110.22v3M755.75 308.77v5.5M732.06 226.33v2M732.06 232.25v2M934.48 145.99v5.5M801.04 220.1v2.5M758.81 86.43v3.5M1008.57 162.94v2M795.33 343.5v3M1031.38 285.51v5.5M748.15 109.85v3M933.83 134.47v3M841.04 287.15v2.5M889.35 375.91v3M734.83 285.29v3M948.22 331.43v3.5M947.02 336.49v3M880.85 176.4v3M837.18 270.09v4.5M838.38 280.18v2M833.9 92.47v3M721.49 211.33v3M876.78 314.47v2M877.98 320.74v3M738.22 185.42v3.5M939.09 331.22v3.5M836.83 274.69v3.5M836.83 279.75v3M826.7 255.4v5.5M998.05 143.02v3.5M947.51 210.1v4.5M1019.26 224.97v5.5M728.64 169.48v2M728.64 176.46v3M769.13 229.24v3M767.93 234.51v2M1026.2 122.09v5.5M756.07 311.8v3M859.65 152.98v3M859.65 159.57v2M865.89 189.9v4.5M867.09 198.3v2M720.9 173.88v3.5M862.35 139.58v3M862.35 148.89v2M850.67 197.61v5.5M763.85 253.23v2.5M956.68 184.01v3M957.88 190.06v3M1011.75 133.6v2M764.85 159.3v3M904.31 284.12v2.5M903.11 292.1v3M1013.54 198.55v3.5M836.85 277.53v5.5M836.85 288.13v2M815.29 128.14v4.5M766.43 104.53v3M1018.93 180.9v3M828.71 199.33v2M995.43 309.9v3M995.43 318.73v3M897.85 288.31v4.5M1029.48 353.96v3.5M725.54 148v3.5M973.54 288.69v3.5M972.34 294.69v3M897.64 197.6v3.5M797.51 86.85v2.5M1028.25 90.43v5.5M844.38 284.02v2M844.38 292.41v2M819.18 245.57v4.5M820.38 253.92v3M971.98 161.4v4.5M804.78 298.2v4.5M776.32 234.41v5.5M872.38 82.01v3M934.61 244.02v5.5M935.58 318.87v3M997.47 280.06v5.5M998.67 288.7v2M771.48 236.26v5.5M967.94 211.12v3M722 140.78v3M722 149.73v3M789.3 349.15v3M794.16 320.21v3.5M794.16 327.91v3M920.55 158.95v3M861.9 279.24v5.5M845.73 232.46v2.5M978.66 288.37v2M1000.89 179.3v4.5M1027.48 291.45v3.5M775.75 251.08v3M775.75 259.46v3M869.38 164.58v5.5M999.49 340.7v4.5M748.74 189.12v3M785.72 183.43v2.5M920.66 116.88v3M920.66 124.14v2M1031.3 139.38v4.5M901.23 290.68v2M1025.13 396.6v5.5M756.21 274.41v3M756.21 282.05v3M721.08 110.13v5.5M983.34 261.94v3.5M983.34 267.45v2M738.43 256.72v3M739.63 263.28v3M1031 399.53v3M852.6 211.36v4.5M745.43 180.41v3M884.52 151.71v5.5M799.1 264.36v3.5M799.1 272.84v2M819.35 306.98v3.5M718.21 245.06v2M763.72 221.99v2.5M801.36 111.43v4.5M983.29 385.07v3M735.2 91.72v2M735.2 96.48v3M877.6 90.35v5.5M930.27 127.73v3M931.47 134.94v3M823.18 247.48v5.5M821.98 254.57v2M1010.04 342.91v4.5M928.35 228.47v3.5M762.55 103.67v5.5M763.75 111.62v2M875.33 134.39v5.5M1015.33 312.34v2.5M720.57 127.38v3.5M721.77 135.04v3M866.54 186.77v4.5M744.44 238.38v3M901.22 263.93v3.5M787.1 239.75v3.5M892.25 236.27v3M761.95 114.43v5.5M995.41 372.2v5.5M850.34 203.53v3.5M1010.13 385.86v3M744.87 207.23v5.5M863.22 177.64v3M776.31 310.07v2.5M972.46 255.58v3M973.66 261.04v2M981.56 385.96v5.5M981.56 396.02v2M727.84 197.65v3M727.84 202.84v2M983.26 119.7v4.5M901 334.6v2M902.2 340.19v3M773.37 314.51v4.5M773.37 319.56v3M745.3 245.63v3M1000.7 404.03v2.5M1001.9 412.04v3M864.16 194.76v3M742.51 285.05v5.5M784.63 223.08v2M784.47 312.32v3M784.47 320.12v2M727.28 187.47v2M763.07 299.91v2M1031.42 251.22v3.5M724.25 125.3v5.5M724.25 134.79v2M778.15 107.32v5.5M848.22 265.56v4.5M943.28 230.71v4.5M1000.33 236.7v3M987.01 262.36v3M785.45 261.18v3.5M901.79 315.16v2M902.99 321.2v3M804.99 319.06v2M975.33 356.19v5.5M974.13 366.69v2M930.1 275.01v5.5M884.81 303.08v4.5M842.1 162.53v2M1019.99 131.38v3.5M899.28 111.74v2.5M900.48 119.1v2M976.72 163.37v5.5M891.26 190.81v2M890.06 198.33v3M912.09 211.15v3M802.4 354.11v3.5M802.4 360.91v3M881.19 183.58v3.5M722.66 160.26v3.5M957.31 387.59v2.5M898.07 128.13v5.5M997.9 368.93v2M731.22 135.23v3M931.66 158.59v3M854.78 284.83v3M855.98 290.52v2M865.81 168.09v3.5M800.67 286.64v4.5M718.76 156.63v2M854.28 187.81v3M855.48 194.05v3M1016.74 169.97v5.5M806.66 179.79v2M926.26 245.42v5.5M970.66 354.76v5.5M970.66 363.16v2M832.44 349.37v4.5M884.97 199.51v5.5M883.77 208.1v2M1005.78 136.19v3M730.31 276.87v3M785.05 209.06v3M762.37 263.79v3M852.91 215.67v3M854.11 221.79v3M790.8 180.6v5.5M948.38 261.23v3M947.18 268.21v2M892.25 280.53v5.5M809.77 314.25v3M733.36 286.82v5.5M733.36 295.52v2M838.83 250.48v4.5M807.89 249.42v3M727.8 241.49v2M727.8 249.49v2M752.74 317.25v5.5M916.08 155v2M914.88 163.19v3M951.89 140.16v3.5M745.9 313.86v2M949.71 395.87v5.5M950.91 402.89v3M965.54 233.27v3M718.52 166.29v2.5M718.52 172.91v2M1007.86 320.75v3.5M1006.66 330.42v2M758.23 323.34v2.5M866.87 223.04v5.5M825.98 175.13v3.5M825.98 183.19v2M817.95 294.72v5.5M780.67 306.97v3.5M723.32 255.2v4.5M862.6 332.77v3.5M959.58 143.48v3M945.55 372.15v3M992.93 224.72v3.5M785.28 158.96v2M784.08 166.01v2M1010.64 289.97v3M727.87 279.9v4.5M867.98 269.21v3M847.67 315.45v2.5M848.87 319.89v2M773.13 128.43v3.5M950.73 276.4v4.5M857.82 194.74v3M919.58 327.95v2M918.38 333.54v3M1019.24 356.8v2M1012.35 377.53v2M917.8 308.61v4.5M817.42 82.25v5.5M1000.55 339.72v3.5M775.79 184.07v4.5M950.83 143.65v2.5M932.47 318.03v4.5M933.67 327.5v3M1010.21 267.6v3M991.71 184.86v5.5M971.54 152.71v3M729.16 170.83v2M813.55 163.37v3M1007.56 252.12v2.5M885.28 314.46v2.5M894.35 223.04v5.5M894.35 232.11v2M742.06 250.11v3.5M744.49 240.41v5.5M1029.68 225.06v3.5M1030.88 230.26v3M768.77 304.16v3M873.01 359.08v3.5M873.01 366.35v2M969.51 359.24v3M968.31 364.21v2M743.52 291.26v5.5M742.32 300.93v2M991.69 184.84v3.5M951.74 315.36v4.5M917.15 325.02v3M828.16 271.39v2.5M722.5 245.38v3M810.33 325.37v3M845.37 145.98v3M999.15 260.67v3.5M971.7 400.62v2M762.6 206.29v2.5M774.2 155.22v5.5M744 141.17v3M758.73 258.84v3M986.41 303.25v3M985.21 309.92v3M991.97 170.37v4.5M966.1 95.26v2.5M946.43 237.18v3.5M875.53 186.38v2M875.53 191.55v3M920.5 255.15v2.5M984.25 372.55v3M984.25 377.91v3M794.7 131.71v2.5M940.74 351.71v5.5M735.8 247.5v3M729.27 141.17v2.5M740.7 242.78v5.5M755 203.25v2.5M755 209.55v2M783.55 323.28v3M782.35 328.3v3M751.22 217.7v5.5M750.02 225.19v3M1011.09 383.88v2.5M824.58 283.03v2M825.78 289.11v3M908.64 343.17v3.5M807.47 314.8v4.5M921.87 246.18v3.5M923.07 255.18v2M802.13 287.03v2.5M835.98 196.93v5.5M769.05 162.76v2.5M769.05 169.03v3M923.71 279.93v3.5M834.13 366.32v2M832.93 374.19v3M870.96 134.04v5.5M801.14 292.76v5.5M884.58 337.65v2M884.58 345.55v3M771.2 303.1v4.5M898.29 144.48v4.5M897.09 153.95v3M977.23 391.65v2.5M954.58 250.19v3M736.76 223.83v5.5M924.86 115.14v2M750.82 234.08v2.5M830.46 141.59v3.5M1003.57 334.86v3M844.09 245.05v2M932.74 154.64v2.5M894.77 266.17v3M771.43 107.6v3M997 294.81v5.5M869.96 374.84v3M902.47 352.54v4.5M1030.83 260.38v3.5M749.14 309.81v2.5M769.9 203.89v3M876.67 307.84v3M731.83 207.27v4.5M988.54 363.58v2M996.13 376.09v5.5M749.07 175.47v3M807.86 222.48v5.5M807.86 227.82v3M730.59 250.37v2M977.74 300.15v2M978.94 307.83v2M973.94 263.45v2M914.53 301.19v2M913.33 305.39v3M900.5 183.69v4.5M901.7 191.27v2M994.13 324.77v2.5M796.76 152.86v2.5M796.76 157.59v3M1029.92 249.75v3M755.83 199.16v3M783.03 248.98v5.5M783.03 258.48v3M789.98 348.25v5.5M902.97 241.42v4.5M902.97 248.92v2M752.98 283.54v5.5M763.26 169.31v2M763.26 178.02v2M818.96 261.89v2.5M820.16 270.15v3M787.04 89.98v4.5M836.16 166.35v3M836.16 172.98v3M946.84 88.55v3M971.85 268.34v4.5M986.6 121.25v4.5M985.4 129.67v2M735.08 179.79v2M733.88 183.44v3M804.83 252.5v3.5M875.58 110.89v5.5M875.58 120.95v2M796.54 334.22v5.5M847.17 296.46v3M822.54 208.39v2.5M984.81 358.2v3M887.79 319.92v3.5M886.59 328.95v3M865.44 169.02v4.5M980.23 155.69v5.5M845.52 175.33v4.5M846.72 183.38v2M858.69 180.01v2.5M858.69 185.67v3M813.9 279.6v3.5M733.28 276.19v2.5M972.92 253.84v3.5M803.79 114.66v3.5M733.83 263.48v4.5M997.25 219.97v3.5M792.91 218.56v4.5M858.82 135.9v2M770.74 130.65v2.5M753.94 235.61v2M856.92 307.49v4.5M856.92 312.4v3M818.67 347.09v5.5M866.58 195.54v5.5M918.11 243.94v2.5M919.31 249.86v2M955.3 215.82v2.5M955.3 224.22v2M975.7 298.14v5.5M902.18 178.14v2M987.53 136.67v2M739.24 276.97v2M749.72 117.96v2.5M923.5 247.27v4.5M721.3 177.42v4.5M804.76 227.65v3.5M888.55 354.03v5.5M937.93 172.14v2.5M936.73 178.54v2M806.22 269.99v3M807.42 277.3v2M770.31 204.41v3M770.31 209.85v2M878.1 188.86v3M826.64 294.6v3M790.22 240.73v2.5M721.25 251.5v3M843.2 276.75v3M986.17 169.4v2.5M986.17 174.8v2M853.32 327.07v2M853.32 333.66v3M997.99 394.12v4.5M997.99 400.46v3M1015.65 241.59v2.5M1014.45 247.59v2M725.07 132.39v2M856.08 319.18v5.5M877.66 325.34v2M734.66 163.14v5.5M825 240.09v5.5M993.26 199.57v3M994.46 207.11v2M868 236.32v4.5M781.96 241.24v2M863.3 121.16v3.5M810.21 228.66v3M901.18 180.86v2.5M999.03 383.36v4.5M791.69 308.7v5.5M914.46 234.13v4.5M727.37 112.53v3M769 151.11v3M743.41 190.38v3M929.05 186.51v2.5M902.31 239.08v5.5M763.23 253.53v2.5M787.35 224.02v2.5M817.85 286.63v3M817.85 294.46v2M1008.73 290.01v2M884.83 288.38v4.5M995.65 209.25v2M955.33 115.73v2M996.25 269.81v2M996.25 274.47v3M993.04 247.01v3M993.04 256.44v2M845.86 278.35v3.5M727.79 239.93v2M1008.63 208.79v3.5M742.58 240.41v5.5M809.32 266.75v2M808.12 271.21v2M1016.01 218.29v2.5M1014.81 223v2M1010.9 271.62v2M904.47 213.01v4.5M810.74 279.83v3.5M874.31 328.67v5.5M875.51 336.89v2M794.46 85.45v3M785.96 290.05v5.5M730.31 172.79v4.5M921.33 271.9v4.5M920.13 279.13v3M872.33 131.31v3M886.27 345.37v3M866.49 352v3.5M772.69 256.89v4.5M755.52 216.07v2M723.66 142.7v3.5M945.25 102.48v3M944.05 108.64v3M775.24 238.68v3M775.24 242.85v3M766.3 171.06v3M786.75 232.89v3.5M787.95 240.64v3M795.14 141.31v4.5M796.34 150.08v2M774.93 257.86v3M911.82 249.74v3M909.55 228.26v3M806.34 182.08v3.5M806.34 190.7v3M989.24 226.28v2.5M787.27 224.43v2.5M788.47 228.81v2M899.78 207.08v5.5M734.87 167.52v4.5M736.07 172.31v3M752.97 253.02v3.5M752.97 257.76v3M966.98 170.7v2M883.01 121.81v2M998.1 347.45v3.5M999.3 354.59v3M725.11 129.79v3M796.32 232.09v2.5M796.32 240.3v3M798.27 135.28v3.5M972.28 134.17v3.5M1009.32 124.33v3M1009.32 130.97v3M819.98 263.62v3M825.33 256.4v2.5M974.33 163.44v2M762.94 246.09v2.5M831.77 161.28v3.5M967.33 149.76v3.5M787.4 201.37v3M793.32 114.5v3M1011.12 158.33v4.5M738.42 280.33v3M925.21 155.22v2M874.16 159.97v5.5M776.35 99.83v2M803.1 298.05v2.5M801.9 306.9v2M805.65 332.71v2.5M804.45 337.68v2M747.84 157.73v3M953.43 134.21v3.5M807.97 128.32v5.5M807.97 135.94v3M811.46 315.92v2.5M811.46 323.58v2M973.93 242.86v3M728.02 270.86v5.5M728.02 280.66v3M726.92 153.23v3.5M792.24 207.67v3M834.54 149.07v4.5M767.22 336.57v2M791.54 190.06v3.5M1013.18 203.14v2.5M884.64 313.85v2.5M907.39 161.51v4.5M906.19 169.9v2M797.78 180.48v5.5M797.78 189.16v3M868.06 331.32v3M765.75 122.71v3.5M765.75 128.61v2M738.89 94.86v2M762.83 106.65v4M770.31 287.11v2M762.34 233.96v4M768.86 235.18v2M728.62 244.44v2M723.92 119.33v2M735.6 242.51v2M803.23 198.09v4M727.55 266.19v2M736.39 278.34v3M723.83 211.3v2M719.02 195.61v3M763.53 150.9v2M720.26 142.55v2M862.54 224.81v2M720.68 228.8v4M758.6 248.09v2M732.31 180.92v3M742.54 220.32v2M724.05 190.18v2M724.33 180.56v4M739.92 288.45v3M728.24 246.45v4M756.63 299.51v3M816.58 296.56v3M725.23 152.88v2M798.65 295.07v4M725.95 242.42v4M742.2 138.3v2M721.92 256.55v2M829.03 304.58v2M736.48 263.24v3M752.9 318.49v2M738.91 195.36v3M769.24 188.76v2M762.16 255.8v4M752.35 266.64v2M741.04 202.82v2M796.89 147.38v2M719.21 218.21v2M734.62 230.36v3M798.98 300.1v2M729.59 191.58v4M725.12 268.2v2M816.98 285.63v2M735.3 260.75v2M721.87 133.84v2M759.99 266.11v2M724.61 185.75v2M984.88 261.49v4M784.21 205.94v4M772.07 198.07v2M733.02 264.26v2M761.6 238.38v4M748.62 216.86v2M724.08 161.68v3M878.12 221.67v3M951.38 197.27v3M763.88 299.79v2M728.59 261.41v4M742.52 259.21v2M788.54 180.15v3M772.42 236.4v4M766.63 280.53v3M724.28 151.36v4M719.05 180.67v2M751.56 206.71v4M739.02 264.22v3M743.8 183.71v3M742.19 200.27v3M850.76 323.38v4M735.3 150.46v4M773.07 176.47v4M762.15 292.85v4M761.03 218.49v3M727.08 220.59v2M798.5 176.68v2M734.61 240.73v4M802.28 259.58v3M734.01 233.94v2M743.31 248.51v2M732.18 288.75v3M730.38 226.18v4M774.88 322.9v4M768.18 249.73v2M734.21 218.99v2M735.03 211.29v4M827.86 323.78v4M732.14 204.5v4M720.16 169.7v2M800.52 276.58v3M746.75 237.47v2M823.76 126.65v4M751.36 193.02v3M754.84 227.33v2M742.2 199.29v2M762.95 163.67v4M736.08 202.85v4M726.8 168.36v4M733.46 214.19v3M754.76 113.6v2M754.52 88.71v2M751.38 290.01v3M731.97 271.73v3M898.45 246.67v2M741.99 219.89v3M738.47 150.98v4M744.14 239.45v4M789.88 255.86v3M757.74 142.3v4M719.66 156.72v2M772.59 229.67v2M867.54 146.47v3M768.95 240.56v2M726.87 112.52v4M803.36 294.27v2M778.1 139.25v4M788.97 210.33v4M761.03 178.96v3M722.24 247.89v3M740.37 229.74v2M804.31 319.42v4M740.34 203.08v2M766.73 95.84v3M774.5 262.25v2M718.65 150.73v4M823.73 305.24v2M719.2 194.86v2M860.59 359.99v2M765.89 308.49v2M802.29 225.5v4M735.9 260.12v2M752.63 288.5v4M782.02 303.33v2M719.72 250.43v2M729.69 172.05v2M915.68 286.86v4M736.59 105.12v3M719.13 215.75v3M800.37 122.48v2M788.41 230.28v4M768.92 292.81v4M739.42 273.79v2M728.72 162.82v4M743.13 103.86v4M718.33 102.85v3M839.83 245.8v4M741.5 276.29v4M858.11 191.79v2M805.15 251.21v2M753.39 227.19v2M719.47 198.97v4M768.13 173.62v4M720.86 148.71v4M733.09 224.16v4M720.84 229.53v2M732.35 222.7v2M763.54 226.45v2M748.68 219.25v2M727.72 228.92v2M731.05 229.12v2M750.93 112.73v3M751.98 282.64v4M760.32 179.72v4M780.06 284.35v2M922.38 327.53v4M782.31 305.89v4M735.71 233.38v3M770.33 267.67v4M792.51 203.73v4M748 200.05v3M730.47 152.98v4M794.25 286.25v3M730.14 201.96v4M748.69 277.26v3M755.11 268.65v3M720.91 128.49v2M804.36 146.93v2M727.72 138.85v2M720.73 105.91v2M758.77 222.24v2M736.3 256.84v2M749.18 229.94v3M725.6 181.39v3M867.16 175.62v2M758.77 254.33v4M730.06 254.54v4M736.87 270.24v4M785.06 339.23v4M722.92 99.76v4M724.92 206.44v4M735.88 146.58v2M787.74 306.58v2M744.91 128.3v4M762.71 194.68v3M800.58 249.24v3M735.84 286.25v3M785.9 239.77v2M759.18 300.54v4M720.69 189.46v3M771.19 194.99v4M763.38 156.16v4M772.17 299.23v3M731.25 155.36v3M830.54 197.67v3M719.48 191.92v4M729.28 170.98v4M746.12 185.13v3M725.45 112.51v2M780.95 157.02v4M751.68 129.76v2M771.61 166.18v3M750.2 163.77v4M759.75 296.31v3M769.24 200.41v3M761.1 266.41v2M730.91 109.53v4M803.56 207.79v3M738.95 290.58v3M741 289.19v4M720.41 208.67v4M777.18 294.86v2M727.7 151.28v2M746.6 282.42v3M766.51 259.72v2M729.92 237.66v3M725.56 218.31v4M889.33 253.65v4M736.1 269.04v3M738.78 94.44v3M754.18 276.13v4M745.78 265.82v4M728.33 169.96v2M739.95 262.38v4M856.67 216.98v2M734.9 216.01v3M724.55 118.37v2M729.74 142.06v4M763.07 298.56v3M774.56 127.38v2M734.45 105.13v3M742.72 288.54v4M811.82 233.29v2M721.27 238.94v2M729.17 138.2v2M723.61 167.12v4M798.4 263.76v3M727.35 217.05v3M722.41 196.91v4M773.89 265.04v4M756.79 146.29v4M752.06 322.51v2M777.41 307.72v4M771.99 296.72v3M731.3 239.23v4M801.5 268.66v4M720.63 192.57v4M727.39 239.48v2M768.74 318.46v4M766.5 126.28v4M810.63 191.8v4M735.24 250.74v4M722.98 181.68v2M834.64 326.92v3M807.51 250v2M804.78 293.06v3M718.64 220.77v2M808.58 229.56v2M733.58 165.52v4M798.73 226.9v2M723.05 144.59v2M730.24 272.24v2M742.71 209.21v4M724.04 218.73v4M738.56 261.01v3M760.36 267.66v2M736.53 215.26v3M757.29 278.12v2M719.28 121.61v2M753.86 226.74v4M733.69 109.34v3M759.49 166.44v3M780.31 203.83v2M830.11 227.44v2M868.32 155.19v3M719.34 194.39v3M746.85 281.78v4M778.71 275.83v3M801.4 249.19v4M727.85 230.66v4M726.27 119.33v4M759.39 255.34v4M732.1 152.12v3M753.69 325.4v4M721.84 221.19v4M787.15 258.64v3M795.68 297.54v3M771.64 229.01v3M754.12 278.65v2M733.84 91.18v4M756.71 129.68v3M727.53 231.16v4M748.24 102.95v2M726.87 145.87v3M734.11 241.66v3M744.51 202.78v3M745.16 253.42v2M749.48 191.79v4M821.04 342.58v4M754.45 207.55v2M726.25 203.01v3M764.17 257.42v3M719.44 134.9v2M740.55 199.98v2M788.62 246.72v3M787.55 182.67v4M719.56 118.75v3M741.24 233v3M750.49 286.44v4M747.48 162.06v3M828.19 223.19v4M744.71 199.11v3M741.56 197.04v4M745.9 257.3v2M732.71 109.23v4M718.71 199.44v3M737.82 119.8v3M762.02 172.13v3M800.83 257.32v2M778.59 285.12v4M788.37 279.24v4M741.89 148.69v2M736.11 167.23v2M748.08 211.48v3M753.26 162.82v3M754.09 284.83v4M799.64 289.61v2M725.88 213.56v3M786.73 268.06v2M718.41 147.85v4M753.51 138.8v3M776.53 234.1v4M803.25 290.27v4M724.75 191.16v4M750.77 195.66v4M749.56 262.02v2M740.23 241.83v4M742.73 180.96v3M738.01 259.16v4M719.65 117.66v2M738.35 242.02v4M753.67 263.21v3M729.19 188.44v4M724.9 226.44v3M778.76 147.9v4M724.78 200.43v4M741.97 258.02v3M733.69 177.61v2M738.42 221.97v4M765.82 191v2M719.59 131.94v2M766 289.28v3M725.49 268.88v4M726.92 102.16v3M755.04 275.31v4M740.24 266.38v4M743.24 271.17v3M984.92 216.81v3M738.85 212.67v2M726.64 245.77v3M730.35 145.58v3M721.33 135v3M729.27 250.08v4M736.25 236.76v3M778.32 159.1v4M755.17 210.97v2M739.77 249.24v4M771.04 304.79v3M728.03 94.84v3M731.24 103.18v4M719.1 190.32v2M747.91 187.08v4M734.97 182.87v4M785.54 164.39v2M801.66 274.17v4M782.03 234.54v3M770.9 178.12v4M826.14 237.25v2M736.91 176.22v2M718.56 211.7v4M727.58 230.57v3M719.76 182.39v3M758.08 267.97v2M789.16 271.56v4M807.81 303.06v3M774.39 311.91v4M775.28 278.09v4M720.59 196.99v3M728.29 255.83v2M785.49 290.45v4M728.41 158.5v3M735.61 198.85v3M732.56 180.94v4M771.49 235.69v4M726.15 242.22v2M740.71 268.37v3M731.44 133.57v4M773.79 210.64v2M762.11 283.61v2M748.01 210.11v2M846.23 272.8v2M902.63 214.57v3M745.7 220.14v3M770.4 184.43v3M734.39 139.73v3M731.86 254.52v4M753.7 215.98v2M797.12 302.66v4M718.77 161.65v4M735.27 212.42v4M747.92 214.55v3M736.98 204.48v2M731.18 115.55v4M752.45 155.22v2M722.34 245.88v3M856.27 203.04v4M761.95 258.53v2M727.09 254.36v2M776.6 206.57v3M719.59 107.78v2M777 192.2v2M790.29 275.73v2M789.8 320.86v3M728.52 249.51v3M718.99 226.55v3M725.15 235.54v2M726.32 112.37v3M746.19 263.74v3M752.36 262.54v3M723.55 236.33v4M755.32 245.23v3M729.31 244.62v3M739.15 246.1v3M762.5 260.73v2M748.57 291.73v4M720.53 199.28v3M742.97 245.73v2M737.17 150.43v4M745.57 247.84v2M777.57 96.22v3M725.23 192.19v3M779.09 166.61v2M781.56 314.08v3M740.94 115.14v2M794.1 235.64v2M737.63 226.26v3M727.49 157.42v3M783.67 165.97v3M745.49 126.43v3M780.82 109.01v4M745.05 156.43v4M781.25 228.27v4M792.93 278.4v2M719.18 225.33v2M757.67 165.91v2M727.82 205.6v3M783.96 224.73v3M752.89 251.81v2M747.07 233.83v2M722.62 202.72v4M844.01 244.17v4M736.95 129.41v3M719.55 185.5v3M721.47 180.75v2M740.48 206.82v4M807.94 346.69v2M732.28 116.95v4M741.25 303.59v4M778.89 266.91v3M734.12 211.87v4M808.4 271.48v4M731.4 255.34v2M850.9 315.43v2M731.63 197.15v2M720 232.68v2M886.9 334.54v3M776.32 334.63v4M737.79 227.22v2M746.1 204.11v4M776.51 263.09v2M720.96 160.31v2M820.69 277.44v4M728.17 273.55v4M723.45 231.83v3M748.32 297.5v4M754.29 283.17v3M739.93 259.32v4M861.68 166.79v2M771.97 228.61v2M749.87 136.49v3M764.62 175.93v2M760.92 313.09v4M738.62 253.53v4M750.62 243.48v2M721.32 147.97v2M736.9 205.03v3M727.64 187.57v2M737.87 234.97v3M750.2 275.29v4M863.52 190.28v2M822.64 290.03v4M763.18 295.92v2M776.23 303.01v2M813.92 207.67v3M749.04 115.28v4M871.66 267.32v4M729.75 245.32v3M783.8 306.57v4M857.1 183.5v2M755.67 221.5v3M770.73 326.8v3M766.05 222.66v4M820.55 264.82v2M728.7 178.8v4M772.3 195.13v2M718.1 155.83v2M720.57 205.04v3M771.14 300.13v2M750.66 177.7v3M822.31 180.95v3M735.34 183.16v2M725 166.32v4M720.59 150.6v3M780.6 189.43v4M768.42 299.03v3M755.18 313.52v3M765.98 246.28v4M729.97 217.81v4M733.77 229.58v4M784.46 89.66v4M719.44 232.85v3M728.12 245.35v4M731.22 260.81v2M771.36 309.61v4M808.06 292.43v4M758.79 227.11v2M725.39 219.99v3M743.39 282.11v4M749.34 248.98v4M744.21 278.46v2M728.37 251.86v3M735.96 142.1v4M763.18 143.98v2M765.95 267.85v3M788.71 294.88v3M725.52 220.75v4M734.41 257.16v4M759.96 151.89v4M730.62 277.26v4M875.12 279.21v4M727.35 149.11v4M751.33 278.28v3M741.91 271.3v2M758.08 209.13v4M749.77 229.56v2M776.8 185.75v4M775.79 278.19v3M759.3 251.81v2M748.08 197.21v2M760.49 254.14v4M805.49 223.46v3M742.38 303.57v3M734.8 239.85v4M766.69 226.56v4M736.27 234.68v3M733.35 187.36v2M818.4 229.15v4M732.55 250.84v4M904.6 106.13v3M735.5 174.01v4M728.59 172.09v2M719.73 209.54v3M900.03 288.56v3M739.33 291.66v3M721.27 204.13v4M748.27 177.76v2M829.53 349.39v2M739.99 273.18v3M731.08 247.24v2M729.61 200.03v2M734.99 203.94v4M737.98 252.41v2M854.21 301.37v3M744.79 295.59v2M756.43 247.58v2M796.25 305.71v4M748.99 183.76v2M777.2 283.09v2M729.49 219.97v3M722.15 174.8v2M729.53 151.29v2M854.13 283.71v3M747.01 204.15v4M722.68 254.77v3M718.07 128.17v2M794.77 278.95v2M781.16 248.38v4M756.12 227.7v4M720.08 227.15v2M722.55 177.7v2M734.04 241.52v2M740.98 253.14v4M801.13 288.86v4M797.03 347.72v4M722.11 205.62v3M723.01 203.46v4M795.82 312.64v4M769.89 228.33v4M740.99 151.44v2M723.11 182.09v2M720.59 187.5v3M733.19 226.98v3M767.57 170.67v4M738.79 240.1v4M745.12 153.69v2M740.52 271.35v2M740.37 307.19v2M729.37 166.44v2M723.4 207.45v3M724.82 223.61v4M743.55 272.37v3M743.09 152.71v2M728.61 148.79v4M759.37 209.19v2M721.5 219.57v2M719.62 184.48v3M743.25 248.53v2M738.41 209.65v3M788.53 184.21v2M718.8 183.78v2M752.72 266.74v2M721.49 118.31v3M769.36 264.47v2M735.22 203.72v3M736.36 235.51v2M789.9 270.06v2M735.55 279.01v4M912.02 267.66v2M734.18 121.26v4M793.03 108.93v2M742.35 208.44v2M760.52 332.01v2M790.74 199.05v2M800.2 325.91v4M782.69 260.54v2M723.69 231.72v4M722.2 91.03v2M722.36 221.22v4M787.46 196.37v4M720.1 121.2v4M730.41 224.96v3M731.12 243.79v3M789.02 114.18v3M764.95 302.89v3M746.48 212.54v2M767.23 194.81v2M814.84 327.71v2M730.93 287.89v4M727.98 215.43v4M721.63 120.06v3M744.24 111.35v3M726.88 92.81v3M755.13 178.48v2M774.51 297.23v4M726.08 231.73v2M725.46 259.88v4M845.04 308.46v2M897.7 241.62v4M803.88 205.67v4M721.83 188.81v4M738.43 168.17v2M789.27 281.01v4M721.76 204.6v4M740.89 253.56v2M735.44 244.96v3M727.15 245.17v2M836.84 194.51v2M805.89 336.7v4M748.4 216.14v2M788.26 223.82v2M731.8 237.68v4M809.56 203.66v4M732.26 241.27v3M746.38 277.22v2M752.72 144.14v2M847.99 194.84v3M790.37 246.61v2M732.13 204.69v3M783.31 198.01v3M769.28 220.86v3M722.64 171.32v4M727.7 159.23v4M739.97 160.17v2M733.18 166.37v4M723.61 142.24v4M790.87 333.4v2M738.67 87.5v4M736.14 239.01v2M848.92 317.91v2M731.38 197.23v3M740.44 256.85v4M733.93 222.23v2M843.78 216.93v4M719.94 199.35v4M729.46 151.53v4M763.48 236.7v2M763.82 115.38v4M749.62 277.77v3M741.72 173.9v2M777.57 318.14v3M904.86 174.84v4M863.61 271.86v2M728.44 152.66v2M736.11 228.43v3M722.52 116.04v4M769.9 308.04v4M731.02 200.71v3M883.04 341.57v3M820.76 324.2v2M801.19 188.99v4M718.9 103.63v4M780.78 207.22v2M738.87 239.42v3M775.02 252.58v3M723.9 221.85v3M735.65 278.91v4M728.4 186.4v4M763.51 303.99v2M790.52 221.4v3M804.61 187.02v2M749.46 202.25v3M758.58 247.17v4M754.28 222.64v3M792.27 276.6v4M759.22 286.58v4M784.72 260.53v3M793.38 264.4v2M748.52 236.88v3M736.65 93.52v3M808.01 299.73v2M747.22 207.26v3M728.16 247.16v4M774.02 299.59v4M719.49 190.15v4M792.95 122.05v2M731.05 150.04v2M728.29 210.23v3M817.65 307.94v2M726.82 215.25v3M750.71 92.24v2M736.84 235.71v2M745.66 253.5v2M731.02 221.8v4M723.43 141.57v4M869.01 152.08v4M740.09 228.15v3M814.75 225.22v3M721.75 227.7v2M718.55 221.68v2M719.78 105.3v2M745.56 151.66v4M745.95 306.94v4M747.3 315.27v3M724.9 217.35v4M739.65 170.72v2M735.6 208.14v2M741.53 197.17v3M847.3 159.55v4M730.98 144.8v3M741.84 178.65v2M720.42 168.45v2M760.44 293.94v2M754.39 221.15v4M737.58 234.37v3M812.32 342.61v4M734.33 289.99v3M763.98 212.54v3M820.43 263.68v2M889.34 359.86v2M718.52 158.92v2M782.25 207.06v3M761.65 303.71v4M769.55 319.45v2M795.88 263.21v4M754.62 273.55v2M730.8 246.76v3M722.4 230.82v2M728.83 228.11v2M720.23 199.4v4M738.16 276.6v2M742.27 264.61v3M853.01 328.33v3M790.82 281.71v2M779.14 335.48v2M739.72 225.47v2M772.48 295.62v4M831.26 246.21v2M743.35 244.82v4M725.01 210.26v3M739.32 256.6v4M751.02 212.6v3M761.07 260v2M726.22 174.66v4M779.79 216.71v4M741.74 261.77v3M760.45 224.08v2M745.78 276.22v3M790.05 222.89v4M770.3 143.42v4M730.17 164.77v3M738.9 136.89v2M742.71 164.64v4M749.78 192.21v3M862.84 275.23v4M725.82 180.35v4M780.01 161.96v4M718.92 216.89v4M753.41 196.57v4M766.13 302.72v4M765.03 174.21v4M751.46 190.7v4M857.98 275.86v2M730.57 243v4M798.4 282.96v2M740.78 192.17v2M729.82 242.29v4M718.76 217.34v3M812.55 298.84v4M728.17 261.32v2M741.25 282.24v4M739.66 265.67v2M731.62 175.78v4M732.31 220.37v2M751.09 236.22v2M782.52 282.53v4M760.93 302.98v2M839.73 227.51v2M726.57 166.47v3M733.67 135.2v4M727.54 223.91v4M727.47 211.82v3M752 224.77v3M784.21 117.34v2M789.71 310.84v3M820.75 176.65v4M745.77 202.05v2M735.17 289.39v2M737.24 249.91v3M768.99 296.5v4M727.09 197.65v3M718.37 189.66v2M723 210.63v4M718.4 169.97v4M718.9 237.48v4M727.72 216.33v3M741.05 98.01v4M730.89 180.44v2M729.4 245.88v4M784.17 268.92v4M729.11 154.1v3M777 155.37v3M718.2 153.55v4M719.42 177.3v3M720.38 207.25v4M723.5 191.24v2M795.04 147.53v3M722.63 226.82v4M745.41 305.49v2M756.27 166.03v2M731.94 239.3v3M728.31 256.94v4M743.44 299.57v2M720 169.63v3M744.58 256.21v3M737.77 221.55v4M947.11 325.36v4M803.87 263.58v3M738.58 138.12v4M735.47 270.27v3M737.36 214.03v3M726.37 112.01v3M734.21 137.86v2M723.84 191.85v4M739.73 165.7v2M719.34 175.59v2M781.09 301.63v4M894.93 139.39v4M822.46 273.41v4M736.11 199.32v3M743.07 168.12v2M762.76 135.57v4M754.18 271.67v2M762.75 271.74v4M768.51 288.2v4M723.28 209.33v4M736.55 91.71v2M719.37 186.79v2M727.63 211.4v3M812.36 179.22v4M726.68 136.08v2M718.47 104.98v4M721.39 108.79v4M721.54 247.74v4M943.62 385.45v3M758.64 212.3v2M724.99 192.74v3M800.81 256.15v2M736.02 103.5v4M737.04 184.14v4M727.54 153.48v2M729.6 103.33v2M729.69 222.43v3M722.33 166.32v4M777.5 151.47v4M725.08 257.1v2M727.27 225.09v2M738.09 229.04v2M738.86 234.35v2M760.66 162.71v4M719.24 116.96v3M780.07 243.24v2M740.71 272.38v2M746.64 203.18v4M735.03 169.1v4M731.48 245.31v3M719.44 207.15v3M723.99 213.04v3M768.21 196.5v4M734.54 153.4v4M731.12 210.35v3M742.01 297.79v2M729.88 249.22v3M732.5 279.16v2M739.39 251.81v3M745.92 87.75v4M718.08 197.33v4M725.72 236.77v4M736.7 103.79v4M957.35 365.26v3M731.15 235.01v2M788.58 285.21v4M814.54 347.28v2M752.73 153.95v2M736.55 216.28v4M779.81 325.1v4M796.78 127.61v4M749.2 245.26v4M731.52 257.17v2M780.2 298.75v3M750.87 191.74v3M719.65 189.59v4M752.54 119.58v4M767.97 208.04v2M729.92 255.11v4M843.3 285.15v3M744.32 224.91v4M744.05 204.13v4M794.76 180.01v3M742.34 277.06v4M787.48 250.72v3M719.94 138.09v4M770.33 185.19v2M798.44 342.08v4M879.47 128.91v3M781.61 202.63v3M720.69 211.03v2M752.4 217.38v2M729.35 223.09v4M721.58 150.26v2M723.97 232.47v2M727.21 257.28v2M778.64 297.62v4M770.86 219.94v2M730.47 210.74v3M734.88 251.25v2M761.91 291.89v2M746.62 247.04v2M744.07 216.69v3M740.41 171.5v4M790.14 161.74v2M718.33 162.96v2M767.87 302.02v3M765.08 288.95v3M749.24 87.05v2M763.56 256.08v4M735.7 258.55v3M786.05 185.77v3M752.57 227.26v2M747.01 235.7v2M975.41 401.1v4M772.33 342.26v3M964.14 400.86v3M884.3 376.98v2M836.4 367.79v2M769.27 340.45v3M729.17 281.94v2M791.32 350.02v2M740.92 312.63v3M763.41 335.41v2M751.65 328.24v2M931.34 388.19v4M818.29 361.19v2M955.58 398.44v2M856.41 371.74v2M963.58 398.51v4M798.85 355.3v4M731.01 284.49v4M999.49 403.02v4M940.6 395.37v3M904.16 383.02v4M829.89 361.4v4M732.57 292.74v4M722.26 249.42v2M863.22 373.68v2M863.73 370.86v4M850.82 368.67v2M834.11 366.96v3M953.29 398.43v2M770.91 339.31v2M936.44 391.6v3M807.82 359.7v2M753.94 328.6v4M875.85 374.89v2M828.03 364.3v3M856.29 369.31v4M992.74 402.71v3M785.67 347.95v3M910.45 387.56v3M892.03 379.46v3M990.78 403.3v3M945.23 397.28v2M997.9 401.92v4M755.65 330.07v2M790.74 349.49v3M889.85 378.95v3M904.37 383.31v2M904.76 382.9v4M819.05 361.87v3M959.4 398.62v2M758.24 332.32v3M803.59 357.4v3M820.51 362.45v2M766.04 335.38v4M816.36 362.34v3M816.71 362.32v3M799.63 356.24v2M893.89 381.53v3M757.92 330.24v2M790.72 350.84v4M936.39 391.54v3M778.44 344.29v4M985.45 402.46v2M860.72 372.5v2M846.79 369.12v3M814.87 360.07v4M902.65 379.7v3M756.82 332.09v2M717.58 241.74v2M953.84 398.84v3M867.44 373.32v3M786.14 350.42v2M776.78 343.49v4M851.56 367.22v4M732.87 292.3v3M784.25 348.71v2M830.73 367.14v2M958.35 399.67v3M909.28 383.76v4M956.98 399.22v2M898.45 382.65v2M843.89 369.53v2M838.68 367.07v2M721.67 248.75v4M871.06 374.46v2M879.36 376.44v3M987.29 403.9v2M985.56 402.53v4M851.79 370.46v3M819.5 363.39v2M740.19 312.59v2M933.75 390.38v4M995.35 400.59v4M917.42 388.59v4M964.67 400.85v3M983.72 403.01v3M736.77 301.3v3M956.97 397.01v4M758.88 334.13v2M904.6 382.71v3M936.47 394.89v2M913.62 385.79v2M778.43 345.11v2M849.46 369.21v2M954.78 397.23v2M875.42 372.53v3M769.77 341.75v2M919.93 389.59v2M902.1 384.96v2M841.63 369.2v2M737.3 308.2v2M778.53 346.97v2M802.59 355.49v2M725.38 271.87v3M743.39 314.79v4M898.5 381.79v2M846.05 368.3v3M778.17 345.47v3M985.21 404.14v2M926.87 386.27v4M892.52 381.51v2M887.05 377.6v3M721.2 256.6v2M878.81 376.87v2M797.69 354.62v3M768.03 335.55v2M882.72 374.21v4M764.58 337.43v2M889.46 378.76v2M823.73 362.6v2M741.76 315.59v2M739.72 309.15v4M947.68 394.71v3M728.94 285.95v3M973.79 402.57v3M958.99 400.01v2M774.89 342.19v3M992.54 401.17v4M932.74 393.23v3M905.3 386.28v2M813.82 361.73v2M976.56 399.94v4M800.8 356.81v2M978.2 402.33v2M870.28 375v2M948.87 396.65v2M955.79 399.67v2M841.18 367.41v2M824.77 363.32v4M969.58 400.8v4M989.02 403.66v3M788.32 350.67v3M735.09 299.51v4M955.33 397.16v4M949.45 398.2v2M756.95 330.61v2M851.2 370.57v2M965.77 400.68v3M897.38 382.65v4M780.08 346.51v4M993.91 402.52v3M928.31 391.02v4M891.23 380.52v4M917.03 389.31v3M894.31 380.24v2M815.57 359.38v2M992.38 402.74v4M976.73 400.09v3M878.65 375.22v3M923.04 390.6v2M969.18 402.45v3M823.84 364.59v3M784.46 347.02v4M946.93 394.56v3M777.68 342.37v4M765.92 338.25v4M911.89 387.49v2M990.81 404.15v2M722.31 254.81v4M835.8 365.24v3M784.34 347.4v2M764.13 336.62v2M771.69 340.53v3M943.77 394.14v2M968.92 401.92v4M938.32 393.33v4M954.76 396.33v4M735.89 304.65v2M784.23 347.67v3M984.44 403.36v3M962.93 400.52v3M881.37 376.09v3M776.22 343.68v4M996.72 403.29v2M867.92 373.66v3M727.14 273.61v3M999.73 400.02v2M730.11 284.13v3M772.43 343.77v2M954.01 397.67v3M795.51 350.3v4M740.08 308.76v3M803.48 355.56v4M849.57 369.6v4M837.06 367.06v3M922.4 389.06v2M830.18 365.62v4M779.89 346v4M743.67 315.75v2M753.75 326.66v4M877.17 374.9v3M744.71 316.55v4M840.45 367.25v4M903.42 382.91v3M746.27 322.36v2M806.95 356.26v4M921.32 390.6v3M880.54 373.9v4M847.66 366.31v3M878.65 373.85v4M851.81 367.6v4M796.68 353.47v2M729.75 286.71v2M965.53 401.05v3M876.99 373.59v4M799.19 353.92v3M751.09 319.78v4M798.5 353.18v4M760.29 333.38v4M992.68 402.89v4M787.01 350.29v3M778.97 345.53v4M778.64 344.19v4M908.35 385.32v4M862.69 371.68v2M836.64 368.51v2M827.6 362.56v4M751.58 327.65v2M749.55 319.7v3M886.59 378.84v3M877.37 372.06v4M876.24 376.34v2M864.5 372.66v2M880.51 373.31v3M738.49 310.49v3M741.76 307.27v2M798.97 354.89v4M810.3 359.61v4M909.71 387.3v3M891.99 380.95v3M912.75 388.6v2M752.99 326.47v3M841.05 365.84v2M737.98 309.23v3M739.4 312.98v2M748.18 318.14v3M726.92 276.82v2M971.2 400.66v4M797.26 354v3M909.96 386.56v3M717.8 304.32v3M719.09 275.32v4M717.66 293.14v4M718.01 257.73v3M718.88 307.27v2M724.69 303.57v3M723.98 268.9v2M718.47 279.48v3M722.54 287.15v4M721.37 293.66v4M721.47 250.26v3M724.86 266.77v2M725.61 305.52v4M721.2 302.81v2M723.17 243.37v4M721.82 273.98v3M718.14 257.19v2M718.9 268.46v4M725.49 271.7v2M721.46 233.09v3M719.03 252.57v3M717.99 288.94v4M720.92 256.76v3M726.36 315.97v3M730.26 272.84v2M721.74 299.61v4M719.28 258.36v2M722.86 270.54v2M722.1 233.62v4M720.75 301.71v4M721.75 274.09v2M726.27 234.66v4M719.54 219.2v4M718.86 252.78v2M721.91 309.21v3M724.25 292.17v3M723.6 310.51v4M718.68 287.48v4M719.26 240.13v2M719.12 284.06v4M721.61 221.99v3M725.7 271.02v4M720.41 308.78v3M718.64 293.09v4M720.27 309.89v3M717.83 293.75v3M719.74 313.82v3M720.46 265.54v2M726.56 236.47v2M727.04 280.17v2M726.78 294.23v4M719.11 227.41v4M721.77 313.4v4M719.6 295.68v2M729.25 325.42v2M721.43 235.54v2M718.49 224.96v2M722.98 308.77v4M727 189.78v4M726.61 265.55v3M723.86 283.14v4M717.98 294.49v3M726.98 271.43v2M729.71 229.27v4M720.91 269.22v2M718.79 241.22v2M722.93 269.55v4M722.15 275.69v2M717.62 262.68v2M721.21 266.52v2M724.82 260.39v4M718.63 285.97v3M719.25 306.85v2M721.92 313.13v3M730.37 274.1v3M721.47 251.43v2M720.19 295.04v2M719.46 237.16v4M731.22 286.46v2M720.56 264.75v3M727.62 290.26v2M723.51 293.39v2M719.83 257.99v4M718.25 273.72v3M719.15 301.52v3M718.16 254.73v4M721.16 310.83v4M723.81 246.77v2M722.78 314.14v3M718.64 280.1v2M720.57 223.16v3M721.94 278.4v4M719.62 341.18v3M723.01 239.28v3M720.2 274.51v4M719.01 274.02v4M721.17 236.45v2M722.3 249.03v4M720.63 303.34v2M725.52 283.56v4M719.24 283.45v2M724.23 316.89v2M720.79 291.68v4M720.77 284.72v2M721.42 295.26v2M732.07 299.81v2M722.6 306.3v4M719.53 222.72v2M728.08 232.92v3M721.73 275.81v2M722.26 225.31v4M717.69 229.28v4M718.47 287.28v2M721.14 257.18v3M727.11 322.95v3M718.31 311.36v2M718 250.64v3M717.98 247.72v4M721.08 318.07v2M723.31 249.47v2M718.89 257.07v3M719.18 282.56v4M718.31 247.56v2M718.81 297.26v2M720.57 239.53v3M721.3 259.66v3M722.13 265.67v4M724.97 194.23v4M718.73 274.66v3M719.31 293.3v3M717.98 278.43v4M724.05 296.29v2M717.66 270.05v3M718.44 273.96v3M727.06 271.66v2M719.19 267.77v2M718.04 299.1v2M721.66 238.49v2M726.31 258.44v2M718.17 308.25v2M725.6 283.14v4M723.57 319.03v4M717.71 281.02v3M720.09 284.17v2M728.57 301.97v2M717.67 305.48v2M718.43 257.68v3M721.05 248.65v4M723.47 294.87v3M720.27 332.77v4M724.42 298.88v3M718.74 263.12v2M720.38 284.56v3M724.5 306.42v3M720.63 268.11v4M721.99 250.39v4M726.95 275.36v4M720.9 309.34v3M726.16 302.64v3M717.61 285.77v2M740.72 249.92v4M718.15 280.71v2M724.12 262.99v3M721.18 314.05v4M722.88 258.33v4M719.66 269.72v4M728.66 254.8v2M718.01 284.54v3M722.31 301.66v3M718.75 240.34v4M721.84 271.56v3M721.27 267.89v4M720.72 244.31v4M718.56 260.7v4M724.01 234.34v4M718.07 282.08v3M722.52 233.69v3M722.31 329.77v4M717.64 292.53v3M726.66 282.89v3M718.45 245.57v4M720.69 308.79v4M724.63 221.67v4M717.96 228.56v4M717.95 271.02v2M717.78 281.59v2M719.34 263.04v2M722.38 280.44v3M721.85 307.37v3M718.52 281.13v4M723.28 306.47v2M727.91 275.08v2M718.8 296.45v3M720.39 266v4M718.36 277.36v3M724.34 200.26v3M725.03 290.66v4M722.43 243.13v2M718.24 232.16v2M720.39 281.16v2M718.26 277.3v2M729.02 307.35v4M721.81 296.43v2M720.81 258.65v3M720.44 257.53v4M721.99 222.91v3M723.35 308.87v2M724.08 271.59v4M719.14 304.27v4M721.47 283.24v4M721.89 318.76v4M724.64 261.53v4M722.61 277.39v3M719.14 295.26v2M721.47 216.47v3M724.68 271.13v4M718.9 256.66v3M722.83 299.54v4M718.3 313.38v2M732.25 274.73v2M724.74 283.29v3M720.05 303.97v3M718.15 247.86v3M719.64 234.17v3M721.31 270.15v3M720.86 249.86v3M724.45 298.41v3M717.87 307.16v3M726.86 234.71v2M719.84 273.28v4M723.11 291.06v2M722.76 304.14v2M722.57 285.25v2M717.84 335.29v4M722.47 243.14v2M726.34 309.34v3M728.91 302.18v4M717.94 259.23v4M722.72 251.46v4M720.49 294v2M719.69 272.96v2M722.02 242.59v4M722.05 261.88v3M724.24 309.98v4M720.98 249.71v2M721.36 291.58v3M719.84 288.03v3M717.61 269.35v3M722.21 289.18v2M720.94 306.55v3M720.29 294.27v4M723.4 297.95v3M720.21 258.4v4M724.1 288.76v3M721.03 294.53v3M719.51 299.19v4M732.08 302.54v2M721.9 241.27v3M721.02 277.19v3M724.95 326.78v3M722.13 306.75v3M725.13 266.4v2M722.83 270v4M720.64 285.45v3M718.32 298.61v3M729.57 254.97v2M726.27 287.68v2M720.04 293.31v2M726.92 232.87v2M719.43 217.54v2M723.39 290.03v2M720.83 274.71v4M721.48 289.1v3M717.92 275.55v3M727.17 254.61v3M719.9 288.84v4M727.71 297.8v2M720.94 263.09v3M723.29 287.3v4M719.62 262.52v4M718.07 248.53v4M728.03 292.97v4M727.44 284.11v4M721.24 248.62v2M721.57 332.75v3M721.78 315.02v3M718.98 263.16v4M718.75 260.42v3M722.56 272.41v3M721.49 256.92v2M727.39 257.16v4M732.83 244.07v2M718.5 244.17v4M719.92 320.46v2M718.47 260.59v2M719.72 280.87v3M719.8 288.31v4M721.96 320.2v2M718.81 304.91v3M718.81 270.44v4M723.81 304.26v4M721.46 220.74v2M717.98 261.23v3M719.1 294.33v4M720.04 280.09v3M722.38 300.07v2M722.16 294.72v2M724.51 257.91v3M723.43 290.43v2M728.13 210.71v4M720.36 276.51v4M729.39 284.08v2M722.77 313.63v4M720.6 260.87v2M726.67 295.22v2M722.52 278.93v4M721.06 273.46v4M719.54 303.31v2M719.94 295.62v3M725.14 280.87v3M718.86 286.68v2M720.68 252.99v4M721.1 303.12v2M721.87 273.81v3M718.5 206.8v3M721.42 242.19v3M719.43 273.31v4M726.17 303.28v4M719.08 280.89v3M717.9 217.94v3M726.39 281.55v2M724.21 278.09v2M724.11 228.62v4M722.61 272.73v4M719.46 258.24v3M723.82 268.72v4M719.15 280.99v2M724.08 255.86v2M721.23 268.33v4M726.52 284.1v2M718.88 292.01v2M723.58 299.02v3M719.82 305.03v2M718.09 253v2M724.15 309.85v2M721.76 247.44v2M724.69 262.45v4M721.32 212.22v3M722.3 253.6v4M727.33 283v3M724.34 235.47v2M724.16 297.13v2M717.83 267.63v2M717.9 264.34v3M722.48 279.36v4M723.07 250.17v4M719 270.14v3M721.43 260.79v3M724.19 273.97v3M724.54 293.51v3M719.64 315.26v4M719.4 326.98v2M720.1 284.12v4M722.99 233.74v2M726.34 306.74v4M717.71 274.91v3M723.8 256.83v4M719.85 286.87v4M720 226.33v3M720.07 275.19v4M729.07 231.38v2M723.88 261.27v3M723.25 228.81v3M721.78 309.94v4M723.08 272.35v2M720.6 293.71v4M722.62 266.16v3M723.26 245.61v4M724.72 239.39v3M718.02 265.5v2M718.12 274.13v4M719.15 311.57v2M718.96 256.26v4M723.98 261.23v2M720.64 287.26v2M725.1 287.77v3M731.53 270.91v3M719.46 307.67v2M730.81 295.98v2M727.12 312.56v2M721.19 261.45v2M725.19 262.44v3M720.81 298.39v4M718.88 267.2v3M722.76 276.05v3M724.12 279.47v4M723.11 255v4M719 247.17v3M722.94 293.32v2M718.17 274.97v2M719.47 308.99v2M725.17 243.06v4M726.75 312.03v3M725.73 276.02v3M722.87 297.75v4M718.93 213.53v4M719.5 242.85v3M725.52 232.68v3M719.27 263.33v3M730.21 250.15v3M718.77 279.82v4M720.08 285.72v3M718.32 305.67v2M719.08 306.21v4M720.95 240.73v2M719.14 295.69v3M724.32 188.38v4M720.77 270.42v3M717.56 271.68v2M723.55 292.84v2M721.9 255.21v2M718.01 270.8v3M719.37 260.51v4M721.47 186.42v4M723.2 284.78v4M724.71 312.59v2M723.79 279.3v4M722.24 279.91v4M722.91 315.02v2M727.87 265.07v2M721.98 294.37v3M718.64 292.29v2M734.42 316.78v4M719.55 288.84v3M718.7 216.64v2M728.03 258.23v2M719.9 257.24v2M725.41 229.88v3M717.87 269.38v4M718.83 295.03v2M725.44 256.85v2M717.94 279.81v3M725.25 255.41v4M719.83 227.86v4M717.61 298.5v2M723.48 322.7v3M732.83 320.69v2M718.98 288.18v2M721.3 290.27v3M723.15 305.77v3M722.32 298.6v4M722.83 275.76v3M724.58 305.16v2M718.24 286.81v4M721.92 273.65v4M720.44 280.69v4M721.98 282.42v4M724 284.63v3M718.35 256.07v2M718.2 256.51v2M720.2 272.1v4M728.59 266.76v4M720.53 295.67v3M718.29 313.36v2M722.71 298.71v4M723.96 275.63v4M727.42 276.85v3M723.12 249.08v2M721.86 327.61v4M718.53 241.82v3M723.83 278.43v3M722.35 314.15v2M717.99 275.18v2M720.31 317.85v4M719.31 285.82v2M724.29 241.67v3M726.04 287.45v4M720.91 297.76v3M723.67 263.01v3M730.34 299.1v4M719.51 235.16v3M721.76 257.21v3M718.4 284.25v3M723.79 307.01v2M718.31 296.74v2M721.15 287.25v2M721.68 240.47v2M717.86 276.96v2M723.94 270.93v3M719.22 233.55v2M719.33 292.3v4M719.09 272.89v4M718.19 293.77v2M718.62 283.04v3M719.5 249.08v4M721.35 285.48v4M718.42 287.52v2M722.96 287.5v4M720.53 240.01v3M720.8 301.46v3M717.77 324.68v3M721.42 262.15v4M736.24 308.49v2M722.07 277.43v4M728.14 241.87v4M724.14 315.36v2M722.5 251.86v4M724.53 254.45v4M719.01 285.97v3M720.72 311.72v4M722.68 255.88v3M721.18 289.33v4M720.38 255.1v4M721.98 302.77v3M723.66 306.11v2M720.59 261.9v3M721.7 255.33v2M718.45 255.97v3M721.47 256.34v3M723.87 207.62v2M721.76 257.1v2M719.5 294.6v2M717.92 259.39v2M720.62 276.78v2M720.49 276.92v2M720.31 322.2v3M718.59 298.01v4M726.09 298.07v4M720.91 243.07v2M719.13 261v2M720.95 265.04v2M722.51 253.16v2M729.07 236.1v2M717.59 330.24v2M723.71 281.43v3M719.69 289.94v4M731.62 298.09v4M721.59 215.18v4M731.36 325.4v2M721.9 248.49v4M718.43 278.8v4M719.75 297.57v4M724.43 275.31v2M724.59 250.07v2M727.48 263.78v4M720.8 260.38v3M719.65 276.09v2M720.55 270.12v2M719.73 263.15v4M717.96 285.71v2M720.48 275.26v4M724.03 274.95v4M718.44 314.24v4M717.61 251.39v2M723.22 252.58v3M723.39 231v2M720.18 306.71v4M724.19 244.87v4M722.19 257.1v4M722.51 228.11v4M717.77 241.53v4M732.47 233.59v3M725.83 253.01v4M720.82 335.17v3M727.77 251.37v2M719 296.56v3M722.17 275.31v2M723.87 271.4v4M726.98 264.96v2M721.59 301.05v3M724.69 266.16v3M719.67 288.24v4M721.15 268.15v2M721.22 232.97v2M725.01 340.34v4M723.8 311.68v2M722.2 300.02v3M727.08 287.21v3M726.97 331.75v4M721.44 288.13v4M722.46 300.76v3M718.52 304.96v3M725.64 253.82v3M719.19 282.79v4M721.37 195v2M723.13 227.15v3M721.03 268.51v3M721.18 300.99v4M723.21 263.75v2M720.24 275.41v2M718.24 236.17v2M719.59 269.13v4M723.61 305.33v2M720.69 240.68v4M720.02 269.55v2M724.34 297.22v3M718.41 225.14v4M724.85 282.82v2M718.56 252.75v4M719.2 271.9v3M720.05 253.46v2M723.46 296.73v4M718.13 297v3M720.85 313.75v2M719.25 276.39v3M722.28 265.84v2M725.76 274.98v2M719.33 300.15v3M720.34 283.45v4M721.76 294.97v4M727.17 285.2v4M723.17 251.69v2M720.67 310.02v3M725.81 254.11v3M721.14 302.35v3M720.34 305.73v3M725.53 300.55v2M717.84 270.01v2M719.33 291.57v4M718.97 294.86v2M718.17 260.87v4M724.08 276.08v2M722.98 185.34v4M726.37 283.14v2M720.3 279.43v4M724.3 285.85v4M729.12 234.75v3M721.06 258.67v4M721.42 270.2v4M719.47 296.35v2M718.46 260.47v3M726.37 312.8v3M718.82 319.09v2M719.86 246.36v4M717.81 270.75v2M723.48 282.37v4M725.85 240.02v3M718.1 275.79v4M722.7 260.99v2M720.97 318.25v3M721.36 299.99v4M717.98 268.58v3M718.87 278.73v2M726.48 241.13v3M718.13 242.63v2M722.95 272.68v2M723.09 276.78v3M717.76 275.31v2M720.27 294.12v3M721.21 299.9v4M723.87 320.37v2M722.32 274.85v2M721.53 250.18v4M724.1 273.34v2M722.86 279.05v3M719.86 303.09v3M723.05 300.82v4M718.46 211.77v3M718.34 265.49v4M719.28 286.77v3M723.33 247.31v3M725.9 293.56v3M718.8 271.08v2M720.77 311.28v2M723.51 261.86v2M722.24 303.17v4M729.14 255.67v2M729.14 282v4M723.49 264.77v2M718.41 279.62v3M723.85 271.4v4M718.93 292.91v2M734.23 333.91v4M720.39 269.75v3M718.57 280.1v3M724.54 289.09v2M719.47 233.43v4M719.37 362.14v4M717.64 238.15v3M721.86 288.26v3M719.49 289.34v2M721.05 312.41v2M726.61 229.6v2M730.21 269.21v3M719.18 282.52v3M735.1 284.03v3M720.98 255.2v3M722.16 205.05v2M717.73 270.55v3M718.47 267.12v4M721.78 261.77v2M719.59 274.6v4M717.95 308.98v2M724.84 305.5v3M720.57 305.71v2M721.34 285.19v3M722.15 282.51v4M722.87 286.17v3M722.38 285.49v4M724.76 296.48v4M717.57 299.85v2M717.92 255.36v4M720.62 233.83v3M722.99 298.56v2M720.81 313.84v3M719.22 267.78v3M720.63 299.51v3M722.28 269.67v3M719.9 274.04v2M720.08 301.89v3M728.29 257.67v3M719.04 277.27v3M726.65 309.51v3M728.76 297.01v3M720.14 241.62v4M718.18 291.98v4M717.68 308.29v3M719.21 292.43v3M720.93 295.8v2M722.91 253.07v3M727.09 249v2M720.34 296.93v2M722.36 314.93v3M720.86 281.9v2M717.88 263.96v3M717.82 227.76v2M721.61 291.31v2M719.78 302.46v3M726.63 298.77v4M729.75 263.63v2M724.72 253.96v3M718.7 297.98v4M722.27 242.5v3M725.6 260.16v4M717.91 266.55v4M725.82 241.86v2M720.69 253.13v4M719.11 302.35v2M721.54 259.09v3M719.51 311.99v3M722.18 248.19v2M723.63 277.47v4M721.6 253.73v4M723.81 307.75v3M722.51 267.09v4M719.98 322.56v3M719.68 305.22v2M728.86 275.69v4M724.79 277.88v4M719.45 297.71v2M736.65 226.69v4M723.81 295.1v4M721.16 280.28v3M726.61 269.07v4M720.87 273.45v4M721.64 258.47v2M718.55 246.35v4M718.17 262.72v3M725.7 294.19v4M726.35 251.36v3M721.86 242.24v2M729.27 314.48v2M718.02 317.49v2M724.61 316.47v2M722.6 231.17v2M717.91 242.2v2M721.34 243.05v3M731.98 312.11v3M720.28 292.98v2M721.6 261.29v2M721.58 302.64v4M719.51 303.94v3M721.52 275.79v3M729.58 288.98v2M719.65 229.74v2M729.14 301.03v4M717.76 301.54v3M718.69 265.71v4M720.19 274.2v3M725.81 272.14v2M719.93 314v3M719.55 264.19v2M721.79 302.09v3M720.56 297.65v4M724.72 281.61v4M723.01 257.73v3M720.75 252.39v4M719.59 267.13v3M722.72 276.7v2M726.5 247.8v4M717.98 237.37v4M722.56 300.74v4M724.1 311.66v4M723.3 276.56v2M722.31 256.32v3M718.9 268.99v2M722.61 292.87v4M720.97 241.65v2M720.51 275.7v4M726.15 285.55v2M723.06 313.1v3M718.66 263.85v3M721.21 234.88v4M722.03 304.78v4M725.26 294.44v3M721.74 290.08v2M721.39 297.88v2M717.81 293.12v3M722.6 286.41v2M722.65 316.01v2M722.05 310.99v2M724.32 251.46v4M722.03 258.33v3M718.81 296.02v3M728.97 276.83v2M726.16 280.53v2M721.42 258.94v4M722.35 291.21v2M719.49 270.8v2M722 217.27v4M723.12 214.23v2M718.19 298.74v3M719.59 292.28v3M718.53 299.74v4M726.78 301.33v4M718.88 230.5v4M728.65 260.27v4M718.97 254.69v4M729.13 301.23v3M721.17 311.05v4M718.43 248v2M720.3 255.43v2M720.66 289.26v2M721.25 282.5v3M724.01 268.78v4M727.13 213.1v4M720.34 223.03v3M719.18 287.78v3M724.53 310.78v3M727.27 242.3v4M721.34 322.15v3M719.94 314.54v3M721.98 276.73v3M718.05 262.18v2M717.94 294.29v3M721.28 275.36v2M721.03 245.48v3M720.42 305.24v4M722.68 305.31v4M721.71 266.04v3M722.46 261.39v3M721.13 314.64v2M718.91 279.34v4M718.46 200.52v2M729.62 258.41v2M727.81 259.12v4M720.44 290.63v4M720.98 234.2v4M717.68 231v2M719.88 301.61v3M717.99 249.91v2M721.24 246.78v2M718.46 226.19v3M717.7 251.94v3M719.65 296.42v3M717.68 275.72v4M720.97 307.3v2M719.53 259.76v3M722.73 265.45v4M721.54 282.06v3M730.31 301.8v2M725.61 289.61v2M723.54 272.79v3M721.26 245.25v4M718.55 257.85v2M724.77 258.81v4M723.9 298.53v4M721.81 287.83v4M727.34 256.72v4M718.69 263.63v3M720.71 263.14v4M725.11 241.81v2M719.1 313.82v4M724.59 273.33v2M718.07 281.3v2M722.99 233.55v2M725.26 274.67v3M720.57 289.37v4M717.72 237.33v4M717.88 253.36v2M722.64 254.14v2M722.83 260.64v4M721.59 252.64v2M730.29 268.87v4M718.71 298.68v3M718.27 269.19v2M718.83 227.1v2M724.74 314.61v4M717.97 270.05v3M719.71 270.76v4M723.99 270.43v3M721.15 266.49v3M723.81 256.18v2M720.89 276.98v4M724.46 292.55v3M721.78 228.66v4M722.51 287.24v2M718.48 279.98v4M718.59 240.46v2M722.65 287.39v4M719.03 295.07v4M719.95 298v4M721.13 273.6v4M721.6 258.56v4M720.46 303.1v2M717.56 299v3M717.73 236.99v2M718.94 270.69v2M717.57 303.16v4M721.62 261.27v2M719.07 270.13v4M721.67 257.07v4M725.03 292.98v4M717.95 230.41v4M722.46 301.34v4M726.06 309.31v3M723.78 252.21v3M723.66 307.18v2M724.6 231.3v3M721.39 257.32v3M721.7 243.15v4M723.56 293.77v3M720.81 207.38v4M719.05 283.46v4M718.36 314.69v3M722.19 272.95v3M720.2 293.01v3M723.54 293.48v4M726.7 263.54v3M725.87 309.81v2M718.76 281.78v4M718.66 286.6v4M719.29 289v3M721.29 260.59v4M721.38 263.25v4M728.43 275.53v2M722.65 296.24v3M726.3 246.19v2M720.57 263.61v2M723.79 304.68v3M726.88 243.1v4M720.01 260.89v2M718.22 289.62v4M720.97 250.59v4M725.61 280.09v4M720.08 289.75v2M721.44 282.5v3M721.5 224.17v2M719 256.61v3M726.82 265.67v4M723.01 286.65v4M718.99 248.94v4M724.76 180.89v4M725.95 297.15v4M726.96 309.72v3M725.83 291.85v3M721.95 237.96v2M719.42 249.68v4M722.06 326.18v4M722.11 247.95v4M720.92 309.31v3M727.27 250.76v3M724.27 271.19v2M717.94 285.76v4M718.88 279.49v2M717.56 276.55v4M719.37 291.09v4M720.33 261.74v2M722.63 336.85v2M727.99 250.56v3M720.72 258.65v4M726.46 279.71v4M722.82 287.5v2M717.96 299.22v3M720.82 269.78v2M728.24 254.33v3M718.89 243.36v4M723.53 295.53v2M727.27 281.62v3M719.33 239.96v2M723.75 270.46v2M719.55 239.58v4M719.3 308.34v3M723.9 253.5v4M717.57 277.82v4M722.88 239.34v3M721.58 255.41v3M717.54 299.88v4M719.7 316.62v4M723.08 273.85v4M725.22 266.81v4M726.04 253.16v2M721.32 237.01v3M718.09 262.74v3M717.71 296.19v3M717.96 238.6v4M725.07 288.2v4M718.34 295.94v2M724.77 324.83v4M721.7 276.62v4M724.47 268.48v2M717.69 299.89v4M720.91 236.24v4M723.89 224.32v2M719.2 244.83v3M721.96 293.76v4M719.23 254.91v3M717.57 312.69v3M722.22 275.87v2M719.1 255.22v2M728.54 211.63v3M727.04 262.25v2M718.79 226.79v2M717.91 250.03v2M719.69 299.65v4M719.98 263.99v4M725.34 320.36v2M724.37 294.02v4M723.25 331.57v3M717.58 236.93v2M719.61 235.09v4M719.36 260.73v2M722.16 355.44v2M720.96 315.24v2M724.91 310.66v4M717.85 256.01v3M717.71 284.71v3M719.71 242.45v3M717.81 272.13v2M718.78 274.04v3M721.04 282.67v2M722.34 277.58v4M719.06 292.31v2M723.61 265.32v4M728.15 255.78v3M721.53 268.98v4M721.9 284.42v2M718.78 238.4v3M722.02 290.35v4M725.63 290.49v3M720.34 260.59v4M720.94 258.83v2M725.73 301.92v4M722.6 247.01v4M723.28 283.57v2M724.36 261.42v4M719.95 285v3M721.28 266.2v2M719.39 274.06v3M724.07 281.65v2M722.17 251.44v4M718.37 265.93v4M717.91 241.61v2M723.3 255.36v4M723.11 266.95v2M731.98 300.7v3M718.91 265.35v4M721.56 304.95v3M723.65 300.66v2M719.7 293.01v3M722.85 309.22v3M719.7 250.6v2M721.29 310.6v3M717.83 298.2v3M723.25 268.6v2M717.6 238.87v3M724.59 264.89v3M718.49 254.18v4M728.96 231.66v2M721.02 305.59v4M720.87 262.23v4M722.86 284.34v4M717.52 271.7v4M728.35 310.53v3M725.93 237.82v2M722.85 302.32v4M718.63 276.51v4M722.83 277.44v4M719.47 263.83v3M718.08 297.97v3M718.63 267.25v3M721.1 302.4v2M719.51 288.52v2M724.03 303.57v2M721.8 276.87v4M723.11 260.64v2M723.63 243.67v2M717.89 314.55v2M723.31 255.74v2M720.46 273.01v2M719.52 241.13v2M722.25 239.12v3M719.89 233.84v2M718.24 224.74v3M720.88 234.12v3M721.94 290.36v4M719.52 284.34v3M719.82 263.25v4M722.07 235.46v2M723.71 320.19v2M719.44 251.66v2M718.43 276.34v3M720.16 262.16v3M718.85 260.84v2M721.15 253.82v3M725.25 262.14v3M717.77 316.06v4M724.96 274.47v4M721.58 269.47v4M719.71 281.07v2M719.83 316.26v3M723.18 297.16v3M723.26 308.4v2M728.53 280.12v3M722.67 279.9v3M729.89 322.63v2M730.04 215.42v3M718.25 337.56v2M719.09 269.36v4M717.98 275.15v2M723.7 320.83v3M720.06 228.14v2M717.88 274.78v4M726.81 302.6v2M722.19 280.72v3M721.32 293.44v4M726.64 281.1v3M724.32 254.44v4M723.26 282.37v2M722.92 273.63v4M721.08 266.97v3M721.96 319.74v4M718.28 290.8v4M720.37 271.54v3M720.29 357.34v4M718.18 283.21v2M723.17 266.97v4M720.07 215.45v3M724.57 300.56v4M730.44 262.85v2M718.56 298.25v4M723.5 297.68v4M722.86 303.21v4M721.33 274.05v2M723.62 286.13v3M717.88 279.81v4M722.01 234.62v2M726.28 315.43v2M725.41 269.48v4M724.97 272.74v2M724.85 242.35v2M727.91 277.07v4M720.65 267.65v3M720.28 279.71v4M717.78 263.44v2M722.16 275.53v3M728.9 293.31v4M725.45 221.59v2M717.98 253.2v3M719.77 304.71v2M720.06 286.03v3M719.93 263.4v2M729.09 259.05v3M721.33 298.04v2M720.68 309.89v2M720.49 258.4v3M719.74 258.18v4M720.55 284.76v3M718.4 278.43v3M718.3 217.94v2M718.19 288.86v2M722.45 294.6v2M720.83 268.21v3M725.46 276.14v4M719.83 252.17v3M718.41 292.38v3M723.71 272.93v4M720.82 263.7v4M722.52 289.81v4M723.08 284.22v2M725.79 254.11v4M720.7 285.47v3M723.44 294.39v3M718.25 287.33v4M723.12 274.63v2M719.14 295.54v3M729.65 272.9v4M724.46 319.53v3M721.34 291.8v3M730.82 277.87v4M718.85 297.65v2M721.37 272.82v3M718.9 271.06v3M720.18 295.76v2M729.15 260.13v4M720.44 286.76v3M724.52 305.64v4M720.81 260.01v4M725.48 278.05v3M721.99 297.68v4M723.17 248.14v3M718.16 287.47v4M719.86 298.33v3M719.72 284.35v4M722.17 220.24v4M721 292.28v3M721.51 221.06v3M721.93 268.32v2M720.06 263.87v2M717.64 292.56v3M725.46 291.82v4M724.24 225.37v2M722.96 329.82v4M720.48 315.38v3M722.84 264.88v3M720.8 210.39v3M717.78 265.16v2M723.78 226.19v2M728.88 243.02v2M723.15 242.52v3M718.01 239.7v2M717.7 248.53v4M724.49 251.35v3M727.72 209.33v3M718.56 194v2M730.47 252.53v3M722.14 125.6v3M726.12 238.89v4M718.42 182.45v2M721.35 217.95v4M721.29 253.59v4M719.88 242.06v4M722.5 142.5v3M725.33 225.83v4M717.57 241.22v2M723.23 146.13v2M723 207.55v3M719.98 172.61v4M725.49 147.77v3M718.88 222.51v2M717.72 176.02v3M721.23 256.04v2M721.06 218.28v2M718.35 233.23v4M718.81 94.71v3M717.51 112.37v2M728.4 210.52v3M718.08 247.16v2M725.2 260.35v4M719.77 229.85v2M720.2 141.41v4M725.98 192.49v2M728.74 262.57v4M721.54 201.16v3M719.52 195.26v4M717.82 217.23v3M722.64 200.78v3M723.02 232.92v3M719.07 199.23v3M719.66 225.21v3M725.7 181.87v3M718.46 181.05v4M722.01 145.28v2M722.75 219.83v3M723.57 188.11v2M720.36 208.58v2M725.71 161.81v3M724.88 109.07v3M724.24 161.79v4M718.78 233.23v3M720.86 184.85v3M721.64 214.57v2M725.42 243.35v3M731.3 156.62v2M724.36 193.64v2M730.3 116.59v4M722.89 224.7v4M727.44 260.76v4M721.46 258v2M719.53 245.64v2M718.07 240.93v2M719.75 192.11v2M719.86 154.17v3M720.17 212.77v3M720.91 251.97v2M721 163.99v4M718.44 203.43v2M718.09 223.95v2M722.12 162.26v4M719.02 175.39v3M717.83 195.08v4M724.4 215.54v4M719.43 248.77v2M723.74 224.75v3M718.54 200.15v3M722.27 237.39v3M718.99 203.25v2M720.95 197.14v2M732.62 121.03v2M721.94 196.66v2M718.99 135.87v2M726.62 232.15v3M723.38 222.85v4M724.18 218.69v2M718.99 208.96v4M730.27 220.18v3M723.59 261.82v2M723.07 196.58v3M725.79 203.82v4M719.64 185.13v4M721.95 153.89v2M719.82 230.07v2M719.74 257.62v4M726.31 171.43v3M724.38 205.88v2M723.41 192.28v2M721.42 232.25v2M719.7 179.88v4M721.11 113.7v2M718.62 201.48v4M717.76 195.69v2M728.19 139.6v2M718.24 163.75v4M720.8 252.94v4M719.96 231.15v4M717.5 256.97v3M719.9 174.87v2M727.27 211.61v4M724.95 129.99v2M723.77 264.47v2M720.97 154.42v4M720.95 106.55v4M723.44 224.34v2M720.33 226.83v3M727.77 238.92v4M720.83 260.53v4M724.38 114.55v4M724.67 98.09v2M719.2 245.82v4M725.02 194.64v2M723.47 243.52v4M718.26 164.55v3M730.58 169.05v3M721.43 184.25v3M723.69 214.87v4M730.53 236.85v2M718.97 256.76v2M720.25 259.04v3M727.85 138.46v3M727.71 194.28v4M720.23 198.42v2M721.03 208.3v4M718.01 179.17v4M721.54 211.97v4M719.97 242.73v4M724.38 261.08v4M718.53 258.3v2M724.68 143.59v4M719.29 165.72v3M723.73 115.03v3M724.67 224.89v2M718.91 107.36v3M723.21 249.08v2M721.96 189.36v3M724.05 205.51v4M732.63 146.71v3M717.9 254.43v3M727.79 222.95v2M717.79 152.15v2M717.82 188.69v2M719.19 222.29v2M720.02 196.27v3M719.47 209.45v3M718.69 228.09v3M722.12 262.78v4M723.17 122.43v4M723.02 256.55v2M722.63 211.12v3M730.09 158.13v4M719.69 203.74v3M720.79 238.41v2M722.24 237.28v4M725.04 224.1v4M725.42 155.09v4M724.3 188.58v4M724.48 237.01v2M723.42 116.68v4M718.45 158.55v2M720.03 163.33v2M731.63 162.83v2M731.71 147.98v3M723.99 257.13v3M723.66 207.54v4M723.6 225.59v3M721.63 215.32v2M724.95 242.62v4M727.12 210.08v4M730.6 143.27v2M735.79 195.04v4M719.46 261.52v4M720.41 159.86v3M727.61 161.5v4M719.4 199.29v2M727.6 217.55v3M725.28 171.68v4M720.97 138.85v3M722.94 247.95v2M717.85 256.46v3M722.25 169.89v3M724.92 200.7v2M724.27 148.12v3M719.06 160.27v3M723.33 182.47v4M726.58 237.81v3M720.25 202.08v2M719.02 224.06v2M717.91 232.52v2M723.74 176.87v2M723.02 98.32v4M718.29 157.75v2M724.27 164.7v2M729.49 254.4v2M728.48 180.87v2M732.37 250.75v2M720.48 197.37v3M717.96 207.63v4M720.97 133.34v4M726.3 192.21v2M721.89 205.47v3M718.92 136.81v3M722.38 241.97v3M722.53 217.83v4M720.6 155.29v2M718.85 159.37v2M719.69 145.52v4M718.88 206.54v4M719.21 244.48v2M718.99 199.77v3M719.21 202.48v4M725.4 256.49v3M721.72 154.08v2M721.14 238.83v4M721.9 194.16v2M719.04 131.3v2M722.63 219.27v4M720.64 258.09v3M722.15 246.92v3M720.57 229.44v4M724.86 175.08v4M724.91 208.56v2M722.47 148.16v3M719.35 183.58v3M723.43 129.84v4M723.14 173.53v2M722.97 234.33v3M725.94 259.43v4M726.15 133.01v4M718.12 180.73v2M720.61 234.58v2M724.05 260.01v2M718.68 237.22v2M718.65 265.34v2M719.15 183.03v2M729.62 229v2M721.32 183.35v3M725.07 192.6v3M719.81 215.52v3M722.22 120.76v2M731.04 197.46v2M723.71 260.55v2M722.27 249.36v4M728.14 145.44v2M728.87 229.12v3M721.53 151.14v4M718.85 207.42v2M723.74 229.53v3M727.72 249.52v2M726.83 189.22v4M722.64 201.43v3M718.16 119.07v4M723.57 207.18v3M723.52 163.97v3M719.03 253.18v2M718.75 229.39v4M723.09 140.88v3M723.14 199.72v4M725.13 241.58v4M722.39 210.35v2M721.58 135.4v2M724.76 226.4v3M720.74 230.5v3M719.95 260.37v3M728.88 195.78v2M724.82 239.66v3M719.2 241.65v4M717.86 198.74v3M719.77 245.08v4M722.58 250.17v4M719.81 182.8v4M718.89 144.06v2M718.83 195.43v4M722.44 213.13v2M725.94 133.98v3M723.93 220.78v3M729.97 165.42v2M727.58 222.14v3M726.23 260.63v2M726.09 101.74v2M729.16 227.31v3M718.36 201.8v4M718.58 229.04v2M718.29 203.28v4M725.08 201.92v2M732.31 241.93v2M725.91 242.58v4M723.47 183.65v3M721.16 179.04v3M722.25 192.9v4M720.96 235.71v4M722.25 185.66v3M720.56 242.27v3M719.73 146.93v2M726.69 121.72v2M725.3 135.85v2M717.64 221.11v2M724.5 152.39v2M720.1 235.97v3M725.11 148.76v3M731.46 206.59v2M727.54 170v4M722.26 233.04v2M727.32 262.17v2M722.55 160.06v3M730.1 198.98v3M723.46 238.33v4M723.61 244.37v3M718.79 138.02v4M724.16 154.79v4M719.61 227.32v4M725.98 244.62v4M719.54 246.45v3M720.02 247.85v2M718.04 237.15v3M720.21 250.35v2M721.6 227.98v3M719.73 197.95v2M719.72 221.46v2M721.46 183.03v3M725.23 199.67v2M722.84 223.38v3M719.75 201.58v3M727.84 113.41v3M725.87 146.18v4M726.61 231.29v2M718.77 157.37v3M733.16 209.24v3M719.75 199.05v3M726.2 205.95v3M718.91 229.9v3M719.84 255.51v4M722.39 207.53v2M721.71 123.34v3M724.14 176.46v2M721.35 240.67v2M717.89 161.84v3M718.67 205.2v3M721.69 194.33v4M728.66 137.6v4M721.31 186.05v4M728.82 134.19v3M719.18 231.83v4M721.33 245.57v4M729.5 215.81v4M722.17 157.57v4M720.68 229.22v2M722.27 157.77v2M717.57 131.33v4M725.02 190.43v2M720.35 200.32v2M724.19 212.91v2M723.75 212.03v2M723.71 234.45v2M718.46 117.75v3M721.1 191.13v2M719.49 188.32v3M723.86 222.07v4M732.27 198.48v2M724.92 249.66v4M730.05 172.8v3M718.25 176.28v2M723.11 201.36v2M722.35 227.52v4M719.25 188.04v2M727.44 213.74v4M718.95 157.08v2M751.28 367.79v3M739.22 386.22v3M764.9 387.81v3M731.93 377.23v3M769.99 398.73v3M745.84 340.87v2M724.58 389.62v3M725.77 337.62v2M727.57 357.26v3M729.11 405.2v3M783.28 373.23v2M795.87 378.98v2M730.53 335.48v3M890.99 394.65v2M727.1 333.22v3M727.66 396.58v3M745.11 393.42v3M727.93 395.22v3M836.52 406.47v2M757.43 351.03v3M853.98 394.23v3M724.54 331.93v2M834.44 401.26v2M732.96 361.35v2M770.64 405.87v2M746.5 401.65v3M727.39 369.19v2M751.96 401.64v3M757.32 365.01v3M761.47 404.95v2M728.68 390.96v2M739.79 395.5v2M726.36 382.93v3M725.19 370.97v2M808.6 395.62v3M724.83 390.31v2M725.95 400.53v3M739.95 343.72v3M767.27 397.04v3M793.26 371.74v2M727.84 347.65v2M734.26 345.32v2M751.09 398.16v3M728.68 362.7v3M744.94 368.48v3M719.47 342.23v3M721.44 342.92v2M721.05 332.76v2M720.64 367.7v3M720.08 351.31v2M719.07 385.97v2M720.37 341.59v2M718.63 333.13v2M725.45 336.78v3M717.85 409.47v3M718.82 368.69v3M719.89 359.17v3M717.97 339.81v3M721.12 330.57v3M718.48 354.12v2M722.09 341.55v3M719.8 347.01v2M721.11 344.96v3M723.89 404.68v2M723.47 347.99v3M718.76 333.87v3M722.11 332.85v3M726.2 388.96v3M723.01 341.09v2M720.32 390.64v2M721.91 330.58v3M718.9 346.89v2M718.68 331.34v3M721.35 397.62v2M719.09 336.54v3M720.8 330.09v2M724.48 340.73v2M718.82 370.15v3M718.99 368.4v2M720.83 409.04v3M721.57 330.51v2M718.27 366.51v2M718.39 351.26v3M725.92 330.68v2M720.97 357.96v2M722.69 422.66v3M718.23 330.24v3M718.97 331.07v2M720.69 330.63v2M722.8 384.45v2M721.32 331.49v2M721.06 332.61v3M718.71 367.38v3M722.81 369.41v3M717.64 359.27v3M721.26 343.82v3M717.92 362.27v2M718.18 340.89v3M720.23 355.12v2M717.65 364.73v3M728.03 420.12v3M721.48 382.69v3M719.64 338.84v3M718.2 349.53v3M721.33 341.42v3M720.17 336.34v2M718.77 347.69v3M721.34 374.49v3M718.67 351.69v2M721.62 342.32v3M722.09 330.35v3M720.35 341.71v3M718.49 354.38v3M717.95 329.68v3M721.1 340.97v3M724.59 333.07v3M717.54 332.11v3M718.66 342v2M720.56 363.02v3M719.87 339.13v2M719.13 349.68v2M718.99 344.95v3M721.82 346.01v2M721.92 379.54v3M718.26 336.91v2M721.45 336.42v3M721.6 338.26v2M720.22 338.84v2M718.45 342.71v2M721.44 347.5v3M718.75 363.22v3M720.82 373.78v3M719.07 391.8v3M722.83 338.13v2M717.56 337v2M718.11 354.38v2M725.99 337.74v3M720.22 331.98v2M721.04 388.98v2M724.39 348.78v2M720.92 415.84v2M719.05 337.01v3M722.42 344.58v2M718.62 332.16v2M721.73 336.9v2M718.96 333.41v2M718.62 409.5v2M717.6 354.07v3M722.52 338.75v2M719.52 339.2v3M720.81 345.21v3M719.23 333.53v2M718.21 339.82v2M721.95 363.42v2M719.77 341.12v2M717.57 341.69v2M724.37 332.05v2M719.24 337.55v2M718.49 343.79v2M720.27 331.36v3M717.78 414.13v2M718.63 349.16v3M722.22 351.24v3M717.72 425.79v2M719.53 331.13v2M718.76 361.07v3M723.47 342.61v2M720.21 347.6v3M725.67 350.5v2M723.4 427.89v2M723.71 352.56v2M719.34 332.14v2M721.45 347.9v2M718.96 482.06v3M718.82 347.56v3M720.47 381v3M719.28 422.78v3M725.12 382.39v3M719.69 336.24v3M720.77 335.47v2M726.04 358.74v3M718.89 328.68v3M719.32 341.66v2M723.65 333.91v3M723.72 361.23v3M720.48 355.56v3M720.42 417.99v3M721.63 342.85v3M719.29 346.61v2M718.8 339.23v2M718.93 353.17v3M721.8 337.61v2M717.5 347.04v3M717.91 343.69v3M719.74 354.6v2M718.61 338.83v3M718.42 351.51v3M717.59 333.03v3M722.77 330.17v3M720.25 339.35v3M720.89 370.93v2M718.55 332.97v2M721.16 329.01v3M719.77 330.5v2M720.88 336.5v3M720.1 336.44v2M720.89 346.82v2M717.74 332.1v2M720.52 384.94v2M720.18 386.69v2M719.21 351.49v3M719.43 331v2M719.13 337.2v3M721.04 346.94v3M720.86 400.25v2M722.09 332.06v2M725.3 416.64v3M718.94 361.52v3M724.93 346.95v2M718.25 345.94v2M718.04 344.77v2M719.12 345.25v2M719.82 379.97v3M722.06 341.9v3M719.09 335.44v3M726.86 377.45v2M721.61 329.88v2M720.67 392.71v3M720.35 393.97v3M721.72 337.42v3M719.93 358.49v2M725.04 387.85v3M721.45 331.35v3M723.09 335.35v3M725.6 365.28v3M722.68 357.59v3M717.81 360.35v3M718.8 367.53v3M717.93 363.72v2M720.37 345.95v2M720.59 345.31v2M719.22 445.87v2M719.54 343.15v3M720.91 347.15v3M721.03 344.16v3M719.38 337.18v3M718.08 341.95v3M719.59 342.81v3M719.27 382.55v2M719.06 338.63v2M722.06 334.56v2M720.18 335.38v2M717.91 411.65v3M719.76 398.76v2M721.57 344.19v3M719.55 379.19v3M718.35 338.14v2M723.81 427.77v3M718.47 371.54v3M717.73 465.19v3M719.89 333.37v2M721.86 371.84v3M723.95 347.97v2M722.73 339.82v3M722.65 349.4v2M725.46 329.46v2M718.51 356.53v2M723.55 357.95v2M720.19 344.9v3M718.49 351.61v3M718.82 331.92v2M720.23 335.36v2M719.47 352.86v2M719.96 330.63v3M720.55 371.24v3" stroke="#5c2d91" stroke-width="1.6" fill="none"/>
</g>
<rect x="716.5" y="80.5" width="318.0" height="330.0" fill="none" stroke="#231f20" stroke-width="3"/>
<line x1="712.5" y1="80.5" x2="716" y2="80.5" stroke="#231f20" stroke-width="3" />
<line x1="712" y1="410.5" x2="716" y2="410.5" stroke="#231f20" stroke-width="3" />
<line x1="712.5" y1="244.6" x2="716" y2="244.6" stroke="#231f20" stroke-width="1.5" />
<path d="M716.5 472L717.8 480L719.5 488L721.6 494.5L723.6 498.3L725.4 499.7L727.5 499.6L730 498.4L733 496.6L737 494.8L741 493.9L748 494.2L756 495.2L765 496.5L775 498.8L785 502L796.6 506.5L808 508.8L820 510.2L835 511.8L850 513.3L870 514.6L900 515.6L950 516L1034 516.2" stroke="#7f1f82" stroke-opacity="0.3" stroke-width="6.5" fill="none" stroke-linejoin="round"/>
<line x1="716.8" y1="512.6" x2="1033" y2="512.6" stroke="#a7a9ac" stroke-width="2.2" stroke-dasharray="20 9.7"/>
<path d="M716.5 472L717.8 480L719.5 488L721.6 494.5L723.6 498.3L725.4 499.7L727.5 499.6L730 498.4L733 496.6L737 494.8L741 493.9L748 494.2L756 495.2L765 496.5L775 498.8L785 502L796.6 506.5L808 508.8L820 510.2L835 511.8L850 513.3L870 514.6L900 515.6L950 516L1034 516.2" stroke="#7f1f82" stroke-width="3" fill="none" stroke-linejoin="round"/>
<path d="M716.3 432L719.3 452.5" stroke="#7f1f82" stroke-width="1.6" fill="none"/>
<path d="M715.5 454.5V425.7H1034.5V454.5M715.5 472V518.7M1034.5 471V522.4" stroke="#231f20" stroke-width="3" fill="none" stroke-linecap="butt"/>
<line x1="712" y1="518.7" x2="1036" y2="518.7" stroke="#231f20" stroke-width="3" />
<line x1="714" y1="424.2" x2="714" y2="427.2" stroke="#231f20" stroke-width="0.1" />
<line x1="711.5" y1="433.5" x2="715" y2="433.5" stroke="#231f20" stroke-width="2.5" />
<line x1="711.5" y1="472.3" x2="715" y2="472.3" stroke="#231f20" stroke-width="2.5" />
<line x1="874.7" y1="519" x2="874.7" y2="523.5" stroke="#231f20" stroke-width="2.5" />
<path d="M709 455.4L722 465.8" stroke="#231f20" stroke-width="1.6" fill="none"/>
<path d="M709 460.6L722 471" stroke="#231f20" stroke-width="1.6" fill="none"/>
<path d="M1028.3 456.7L1041.3 467.1" stroke="#231f20" stroke-width="1.6" fill="none"/>
<path d="M1028.3 461.9L1041.3 472.3" stroke="#231f20" stroke-width="1.6" fill="none"/>
</g>
<g id="panel-c">
<defs>
<linearGradient id="cw" x1="0" y1="0" x2="1" y2="0">
<stop offset="0" stop-color="#c0202e"/>
<stop offset="0.045" stop-color="#cf3a36"/>
<stop offset="0.10" stop-color="#e2604a"/>
<stop offset="0.16" stop-color="#ef8468"/>
<stop offset="0.22" stop-color="#f4a284"/>
<stop offset="0.28" stop-color="#f5bda4"/>
<stop offset="0.34" stop-color="#eed0c0"/>
<stop offset="0.385" stop-color="#e0dcda"/>
<stop offset="0.43" stop-color="#d2dbea"/>
<stop offset="0.485" stop-color="#c3d3ee"/>
<stop offset="0.57" stop-color="#b0c5e8"/>
<stop offset="0.66" stop-color="#9ab1de"/>
<stop offset="0.75" stop-color="#8399d0"/>
<stop offset="0.84" stop-color="#6b80c0"/>
<stop offset="0.93" stop-color="#5568b2"/>
<stop offset="1" stop-color="#4957a8"/>
</linearGradient>
<filter id="blr" x="-20%" y="-200%" width="140%" height="500%"><feGaussianBlur stdDeviation="2.2 0.6"/></filter>
<filter id="blr3" x="-20%" y="-200%" width="140%" height="500%"><feGaussianBlur stdDeviation="1.5 0.4"/></filter>
<filter id="blr2" x="-20%" y="-200%" width="140%" height="500%"><feGaussianBlur stdDeviation="5 0.6"/></filter>
<clipPath id="clipc"><rect x="1146" y="105.5" width="261" height="353.5"/></clipPath>
</defs>
<rect x="1147.5" y="82.5" width="257.5" height="15" fill="url(#cw)" stroke="#0f1416" stroke-width="3" />
<line x1="1158.5" y1="79.3" x2="1158.5" y2="81.2" stroke="#0f1416" stroke-width="2.2" />
<line x1="1220" y1="79.3" x2="1220" y2="81.2" stroke="#0f1416" stroke-width="2.2" />
<line x1="1281.5" y1="79.3" x2="1281.5" y2="81.2" stroke="#0f1416" stroke-width="2.2" />
<line x1="1343.5" y1="79.3" x2="1343.5" y2="81.2" stroke="#0f1416" stroke-width="2.2" />
<line x1="1405" y1="79.3" x2="1405" y2="81.2" stroke="#0f1416" stroke-width="2.2" />
<rect x="1146" y="105.5" width="261" height="353.5" fill="#4957a8" />
<g clip-path="url(#clipc)">
<g filter="url(#blr2)"><rect x="1140" y="233.49" width="27.77" height="1.2" fill="#a9b8e0" opacity="0.14"/><rect x="1140" y="261.56" width="28.19" height="1.2" fill="#a9b8e0" opacity="0.09"/><rect x="1140" y="205.16" width="29.85" height="1.2" fill="#a9b8e0" opacity="0.12"/><rect x="1140" y="159.87" width="31.56" height="1.2" fill="#a9b8e0" opacity="0.10"/><rect x="1140" y="284.57" width="98.69" height="1.2" fill="#a9b8e0" opacity="0.06"/><rect x="1140" y="121.83" width="19.56" height="1.2" fill="#a9b8e0" opacity="0.13"/><rect x="1140" y="260.15" width="28.45" height="1.2" fill="#a9b8e0" opacity="0.11"/><rect x="1140" y="114.27" width="14.82" height="1.2" fill="#a9b8e0" opacity="0.10"/><rect x="1140" y="109.62" width="37.13" height="1.2" fill="#a9b8e0" opacity="0.06"/><rect x="1140" y="214.73" width="19.26" height="1.2" fill="#a9b8e0" opacity="0.07"/><rect x="1140" y="266.35" width="36.69" height="1.2" fill="#a9b8e0" opacity="0.07"/><rect x="1140" y="240.28" width="24.34" height="1.2" fill="#a9b8e0" opacity="0.15"/><rect x="1140" y="222.99" width="30.95" height="1.2" fill="#a9b8e0" opacity="0.10"/><rect x="1140" y="147.2" width="9.55" height="1.2" fill="#a9b8e0" opacity="0.10"/><rect x="1140" y="210.45" width="28.75" height="1.2" fill="#a9b8e0" opacity="0.06"/><rect x="1140" y="227.55" width="8.94" height="1.2" fill="#a9b8e0" opacity="0.16"/><rect x="1140" y="119.81" width="24.18" height="1.2" fill="#a9b8e0" opacity="0.08"/><rect x="1140" y="205.6" width="26.45" height="1.2" fill="#a9b8e0" opacity="0.11"/><rect x="1140" y="162.14" width="30.23" height="1.2" fill="#a9b8e0" opacity="0.10"/><rect x="1140" y="203.78" width="40.59" height="1.2" fill="#a9b8e0" opacity="0.08"/><rect x="1140" y="211.67" width="32.13" height="1.2" fill="#a9b8e0" opacity="0.09"/><rect x="1140" y="166.21" width="38.94" height="1.2" fill="#a9b8e0" opacity="0.06"/><rect x="1140" y="259.15" width="36.72" height="1.2" fill="#a9b8e0" opacity="0.13"/><rect x="1140" y="171.84" width="37.49" height="1.2" fill="#a9b8e0" opacity="0.05"/><rect x="1140" y="264.39" width="14.3" height="1.2" fill="#a9b8e0" opacity="0.16"/><rect x="1140" y="163.12" width="16.56" height="1.2" fill="#a9b8e0" opacity="0.11"/><rect x="1140" y="113.11" width="22.23" height="1.2" fill="#a9b8e0" opacity="0.09"/><rect x="1140" y="247.04" width="38.89" height="1.2" fill="#a9b8e0" opacity="0.15"/><rect x="1140" y="266.27" width="99.5" height="1.2" fill="#a9b8e0" opacity="0.10"/><rect x="1140" y="120.59" width="27.83" height="1.2" fill="#a9b8e0" opacity="0.16"/><rect x="1140" y="228.32" width="10.76" height="1.2" fill="#a9b8e0" opacity="0.12"/><rect x="1140" y="114.81" width="9.38" height="1.2" fill="#a9b8e0" opacity="0.13"/><rect x="1140" y="281.21" width="10.8" height="1.2" fill="#a9b8e0" opacity="0.13"/><rect x="1140" y="140.09" width="29.64" height="1.2" fill="#a9b8e0" opacity="0.15"/><rect x="1140" y="138.44" width="18.21" height="1.2" fill="#a9b8e0" opacity="0.06"/><rect x="1140" y="281.95" width="11.4" height="1.2" fill="#a9b8e0" opacity="0.10"/><rect x="1140" y="126.17" width="65.17" height="1.2" fill="#a9b8e0" opacity="0.05"/><rect x="1140" y="244.2" width="28.79" height="1.2" fill="#a9b8e0" opacity="0.14"/><rect x="1140" y="121.77" width="38.41" height="1.2" fill="#a9b8e0" opacity="0.08"/><rect x="1140" y="153.89" width="9.85" height="1.2" fill="#a9b8e0" opacity="0.14"/><rect x="1140" y="255.58" width="98.33" height="1.2" fill="#a9b8e0" opacity="0.11"/><rect x="1140" y="192.66" width="28.35" height="1.2" fill="#a9b8e0" opacity="0.16"/><rect x="1140" y="136.04" width="22.4" height="1.2" fill="#a9b8e0" opacity="0.08"/><rect x="1140" y="138.15" width="26.72" height="1.2" fill="#a9b8e0" opacity="0.13"/><rect x="1140" y="155.33" width="13.09" height="1.2" fill="#a9b8e0" opacity="0.07"/><rect x="1140" y="132.81" width="35.12" height="1.2" fill="#a9b8e0" opacity="0.11"/><rect x="1140" y="251.54" width="24.58" height="1.2" fill="#a9b8e0" opacity="0.07"/><rect x="1140" y="204.56" width="16.12" height="1.2" fill="#a9b8e0" opacity="0.15"/><rect x="1140" y="208.92" width="23.69" height="1.2" fill="#a9b8e0" opacity="0.08"/><rect x="1140" y="254.27" width="34.95" height="1.2" fill="#a9b8e0" opacity="0.12"/><rect x="1140" y="227.87" width="26.76" height="1.2" fill="#a9b8e0" opacity="0.06"/><rect x="1140" y="253.43" width="15.17" height="1.2" fill="#a9b8e0" opacity="0.10"/><rect x="1140" y="283" width="25.67" height="1.2" fill="#a9b8e0" opacity="0.11"/><rect x="1140" y="120.76" width="21.85" height="1.2" fill="#a9b8e0" opacity="0.12"/><rect x="1140" y="174.62" width="35.17" height="1.2" fill="#a9b8e0" opacity="0.08"/><rect x="1140" y="149.49" width="38.2" height="1.2" fill="#a9b8e0" opacity="0.13"/><rect x="1140" y="134.03" width="24.01" height="1.2" fill="#a9b8e0" opacity="0.06"/><rect x="1140" y="149.84" width="35.65" height="1.2" fill="#a9b8e0" opacity="0.15"/><rect x="1140" y="267.89" width="9.27" height="1.2" fill="#a9b8e0" opacity="0.08"/><rect x="1140" y="260.36" width="23.95" height="1.2" fill="#a9b8e0" opacity="0.14"/><rect x="1140" y="155.2" width="28.34" height="1.2" fill="#a9b8e0" opacity="0.12"/><rect x="1140" y="136.19" width="10.66" height="1.2" fill="#a9b8e0" opacity="0.07"/><rect x="1140" y="165.95" width="22.58" height="1.2" fill="#a9b8e0" opacity="0.09"/><rect x="1140" y="241.59" width="94.03" height="1.2" fill="#a9b8e0" opacity="0.14"/><rect x="1140" y="154.48" width="33.24" height="1.2" fill="#a9b8e0" opacity="0.14"/><rect x="1140" y="185.45" width="65.14" height="1.2" fill="#a9b8e0" opacity="0.15"/><rect x="1140" y="231.51" width="37.34" height="1.2" fill="#a9b8e0" opacity="0.14"/><rect x="1140" y="208.36" width="102" height="1.2" fill="#a9b8e0" opacity="0.14"/><rect x="1140" y="248.54" width="11.72" height="1.2" fill="#a9b8e0" opacity="0.11"/><rect x="1140" y="109.17" width="13.54" height="1.2" fill="#a9b8e0" opacity="0.13"/><rect x="1140" y="276.35" width="25.96" height="1.2" fill="#a9b8e0" opacity="0.08"/><rect x="1140" y="287.67" width="13.55" height="1.2" fill="#a9b8e0" opacity="0.12"/><rect x="1140" y="193.8" width="22.38" height="1.2" fill="#a9b8e0" opacity="0.07"/><rect x="1140" y="129.89" width="12.12" height="1.2" fill="#a9b8e0" opacity="0.09"/><rect x="1140" y="211.93" width="13" height="1.2" fill="#a9b8e0" opacity="0.09"/><rect x="1140" y="128.87" width="38.95" height="1.2" fill="#a9b8e0" opacity="0.13"/><rect x="1140" y="120.57" width="63.51" height="1.2" fill="#a9b8e0" opacity="0.11"/><rect x="1140" y="253.36" width="17.19" height="1.2" fill="#a9b8e0" opacity="0.08"/><rect x="1140" y="218.24" width="50.95" height="1.2" fill="#a9b8e0" opacity="0.16"/><rect x="1140" y="213.7" width="10.31" height="1.2" fill="#a9b8e0" opacity="0.13"/><rect x="1140" y="122.22" width="58.96" height="1.2" fill="#a9b8e0" opacity="0.14"/><rect x="1140" y="246.51" width="17.24" height="1.2" fill="#a9b8e0" opacity="0.11"/><rect x="1140" y="193.45" width="39.77" height="1.2" fill="#a9b8e0" opacity="0.09"/><rect x="1140" y="172.41" width="22.26" height="1.2" fill="#a9b8e0" opacity="0.08"/><rect x="1140" y="185.02" width="13.3" height="1.2" fill="#a9b8e0" opacity="0.14"/></g>
<g filter="url(#blr)"><rect x="1142.76" y="287.1" width="7.45" height="1.8" fill="#cfd5ec" opacity="0.07"/><rect x="1142.19" y="288.87" width="7.59" height="1.8" fill="#cfd5ec" opacity="0.23"/><rect x="1138.5" y="290.64" width="14.42" height="1.8" fill="#cfd5ec" opacity="0.24"/><rect x="1140.62" y="292.41" width="12.27" height="1.8" fill="#cfd5ec" opacity="0.23"/><rect x="1142.47" y="294.18" width="15.67" height="1.8" fill="#cfd5ec" opacity="0.11"/><rect x="1140.79" y="295.95" width="16.29" height="1.8" fill="#cfd5ec" opacity="0.32"/><rect x="1144.21" y="297.72" width="11.27" height="1.8" fill="#cfd5ec" opacity="0.06"/><rect x="1143.22" y="299.49" width="11.31" height="1.8" fill="#cfd5ec" opacity="0.06"/><rect x="1146.31" y="301.26" width="12.56" height="1.8" fill="#cfd5ec" opacity="0.38"/><rect x="1145.77" y="303.03" width="13.08" height="1.8" fill="#cfd5ec" opacity="0.35"/><rect x="1143.91" y="304.8" width="11.45" height="1.8" fill="#cfd5ec" opacity="0.09"/><rect x="1143.23" y="306.57" width="15.12" height="1.8" fill="#cfd5ec" opacity="0.39"/><rect x="1146.64" y="308.34" width="11.31" height="1.8" fill="#cfd5ec" opacity="0.41"/><rect x="1143.04" y="310.11" width="17.27" height="1.8" fill="#cfd5ec" opacity="0.39"/><rect x="1145.23" y="311.88" width="14.41" height="1.8" fill="#cfd5ec" opacity="0.13"/><rect x="1145.78" y="313.65" width="10.73" height="1.8" fill="#cfd5ec" opacity="0.24"/><rect x="1147.48" y="315.42" width="14.99" height="1.8" fill="#cfd5ec" opacity="0.27"/><rect x="1144.57" y="317.19" width="17.52" height="1.8" fill="#cfd5ec" opacity="0.11"/><rect x="1150.27" y="318.96" width="14.15" height="1.8" fill="#cfd5ec" opacity="0.11"/><rect x="1146.17" y="320.73" width="15.07" height="1.8" fill="#cfd5ec" opacity="0.46"/><rect x="1148.97" y="322.5" width="12.7" height="1.8" fill="#cfd5ec" opacity="0.12"/><rect x="1151.39" y="324.27" width="15.66" height="1.8" fill="#cfd5ec" opacity="0.12"/><rect x="1150.05" y="326.04" width="11.49" height="1.8" fill="#cfd5ec" opacity="0.30"/><rect x="1149.88" y="327.81" width="14.12" height="1.8" fill="#cfd5ec" opacity="0.32"/><rect x="1151.51" y="329.58" width="15.51" height="1.8" fill="#cfd5ec" opacity="0.10"/><rect x="1149.75" y="331.35" width="13.79" height="1.8" fill="#cfd5ec" opacity="0.53"/><rect x="1151.64" y="333.12" width="17.76" height="1.8" fill="#cfd5ec" opacity="0.51"/><rect x="1153.72" y="334.89" width="12.91" height="1.8" fill="#cfd5ec" opacity="0.10"/><rect x="1153.99" y="336.66" width="16.85" height="1.8" fill="#cfd5ec" opacity="0.10"/><rect x="1154.21" y="338.43" width="14.07" height="1.8" fill="#cfd5ec" opacity="0.52"/><rect x="1157.2" y="340.2" width="19.95" height="1.8" fill="#cfd5ec" opacity="0.53"/><rect x="1154.88" y="341.97" width="16.25" height="1.8" fill="#cfd5ec" opacity="0.57"/><rect x="1155.47" y="343.74" width="20.92" height="1.8" fill="#cfd5ec" opacity="0.11"/><rect x="1159.41" y="345.51" width="21.05" height="1.8" fill="#cfd5ec" opacity="0.37"/><rect x="1162.97" y="347.28" width="14.8" height="1.8" fill="#cfd5ec" opacity="0.39"/><rect x="1156.94" y="349.05" width="20.42" height="1.8" fill="#cfd5ec" opacity="0.12"/><rect x="1161.39" y="350.82" width="14.98" height="1.8" fill="#cfd5ec" opacity="0.59"/><rect x="1159.71" y="352.59" width="21.84" height="1.8" fill="#cfd5ec" opacity="0.71"/><rect x="1164.45" y="354.36" width="15.83" height="1.8" fill="#cfd5ec" opacity="0.66"/><rect x="1163.13" y="356.13" width="20.97" height="1.8" fill="#cfd5ec" opacity="0.21"/><rect x="1163.37" y="357.9" width="20.83" height="1.8" fill="#cfd5ec" opacity="0.61"/><rect x="1172.38" y="359.67" width="15.63" height="1.8" fill="#cfd5ec" opacity="0.16"/><rect x="1165.69" y="361.44" width="23.45" height="1.8" fill="#cfd5ec" opacity="0.17"/><rect x="1171.94" y="363.21" width="17.65" height="1.8" fill="#cfd5ec" opacity="0.56"/><rect x="1174.75" y="364.98" width="18.48" height="1.8" fill="#cfd5ec" opacity="0.13"/><rect x="1172.63" y="366.75" width="20.26" height="1.8" fill="#cfd5ec" opacity="0.68"/><rect x="1171.85" y="368.52" width="22.89" height="1.8" fill="#cfd5ec" opacity="0.13"/><rect x="1176.18" y="370.29" width="17.26" height="1.8" fill="#cfd5ec" opacity="0.67"/><rect x="1180.52" y="372.06" width="15.68" height="1.8" fill="#cfd5ec" opacity="0.66"/><rect x="1175.16" y="373.83" width="21.83" height="1.8" fill="#cfd5ec" opacity="0.27"/><rect x="1180.94" y="375.6" width="18.37" height="1.8" fill="#cfd5ec" opacity="0.45"/><rect x="1181.5" y="377.37" width="18.96" height="1.8" fill="#cfd5ec" opacity="0.46"/><rect x="1182.16" y="379.14" width="24.33" height="1.8" fill="#cfd5ec" opacity="0.14"/><rect x="1181.99" y="380.91" width="20.51" height="1.8" fill="#cfd5ec" opacity="0.78"/><rect x="1188.59" y="382.68" width="21.95" height="1.8" fill="#cfd5ec" opacity="0.79"/><rect x="1189.06" y="384.45" width="19.26" height="1.8" fill="#cfd5ec" opacity="0.15"/><rect x="1187.65" y="386.22" width="24.78" height="1.8" fill="#cfd5ec" opacity="0.61"/><rect x="1192.9" y="387.99" width="23.41" height="1.8" fill="#cfd5ec" opacity="0.26"/><rect x="1189.66" y="389.76" width="24.81" height="1.8" fill="#cfd5ec" opacity="0.89"/><rect x="1200.21" y="391.53" width="19.53" height="1.8" fill="#cfd5ec" opacity="0.16"/><rect x="1198.16" y="393.3" width="20.4" height="1.8" fill="#cfd5ec" opacity="0.73"/><rect x="1198.65" y="395.07" width="25.33" height="1.8" fill="#cfd5ec" opacity="0.87"/><rect x="1203.89" y="396.84" width="26.63" height="1.8" fill="#cfd5ec" opacity="0.77"/><rect x="1207.3" y="398.61" width="21.27" height="1.8" fill="#cfd5ec" opacity="0.16"/><rect x="1213.8" y="400.38" width="22.73" height="1.8" fill="#cfd5ec" opacity="0.66"/><rect x="1211.4" y="402.15" width="26.24" height="1.8" fill="#cfd5ec" opacity="0.65"/><rect x="1216.82" y="403.92" width="18.87" height="1.8" fill="#cfd5ec" opacity="0.65"/><rect x="1222.26" y="405.69" width="22.04" height="1.8" fill="#cfd5ec" opacity="0.16"/><rect x="1226.12" y="407.46" width="19.35" height="1.8" fill="#cfd5ec" opacity="0.16"/><rect x="1228.16" y="409.23" width="26.37" height="1.8" fill="#cfd5ec" opacity="0.82"/><rect x="1228.44" y="411" width="24.98" height="1.8" fill="#cfd5ec" opacity="0.89"/><rect x="1237.87" y="412.77" width="23.82" height="1.8" fill="#cfd5ec" opacity="0.83"/><rect x="1240.77" y="414.54" width="28.52" height="1.8" fill="#cfd5ec" opacity="0.50"/><rect x="1249.77" y="416.31" width="26.16" height="1.8" fill="#cfd5ec" opacity="0.54"/><rect x="1252.8" y="418.08" width="28.74" height="1.8" fill="#cfd5ec" opacity="0.50"/><rect x="1257.64" y="419.85" width="26.94" height="1.8" fill="#cfd5ec" opacity="0.53"/><rect x="1263.19" y="421.62" width="23.7" height="1.8" fill="#cfd5ec" opacity="0.47"/><rect x="1269.22" y="423.39" width="27.6" height="1.8" fill="#cfd5ec" opacity="0.50"/><rect x="1272.04" y="425.16" width="26.22" height="1.8" fill="#cfd5ec" opacity="0.47"/><rect x="1277.22" y="426.93" width="25.84" height="1.8" fill="#cfd5ec" opacity="0.55"/><rect x="1277.36" y="428.7" width="26.98" height="1.8" fill="#cfd5ec" opacity="0.49"/><rect x="1279.5" y="430.47" width="28.75" height="1.8" fill="#cfd5ec" opacity="0.53"/><rect x="1282.46" y="432.24" width="29.97" height="1.8" fill="#cfd5ec" opacity="0.53"/><rect x="1293.48" y="434.01" width="27.73" height="1.8" fill="#cfd5ec" opacity="0.46"/><rect x="1296.21" y="435.78" width="28.22" height="1.8" fill="#cfd5ec" opacity="0.54"/><rect x="1304.8" y="437.55" width="24.31" height="1.8" fill="#cfd5ec" opacity="0.46"/><rect x="1309.93" y="439.32" width="25.09" height="1.8" fill="#cfd5ec" opacity="0.51"/><rect x="1320.44" y="441.09" width="24.42" height="1.8" fill="#cfd5ec" opacity="0.50"/><rect x="1319.78" y="442.86" width="28.08" height="1.8" fill="#cfd5ec" opacity="0.49"/><rect x="1328.08" y="444.63" width="23.1" height="1.8" fill="#cfd5ec" opacity="0.48"/><rect x="1335.4" y="446.4" width="25.97" height="1.8" fill="#cfd5ec" opacity="0.46"/><rect x="1338.73" y="448.17" width="29.76" height="1.8" fill="#cfd5ec" opacity="0.48"/><rect x="1348.83" y="449.94" width="27.52" height="1.8" fill="#cfd5ec" opacity="0.53"/><rect x="1355.69" y="451.71" width="30.35" height="1.8" fill="#cfd5ec" opacity="0.50"/><rect x="1366.52" y="453.48" width="27.35" height="1.8" fill="#cfd5ec" opacity="0.51"/><rect x="1380.8" y="455.25" width="32.09" height="1.8" fill="#cfd5ec" opacity="0.55"/><rect x="1391.79" y="457.02" width="31.62" height="1.8" fill="#cfd5ec" opacity="0.52"/></g>
<g filter="url(#blr3)"><rect x="1158.13" y="342.17" width="9.75" height="1.4" fill="#f4f4f8" opacity="0.57"/><rect x="1164.39" y="351.02" width="8.99" height="1.4" fill="#f4f4f8" opacity="0.59"/><rect x="1164.08" y="352.79" width="13.1" height="1.4" fill="#f4f4f8" opacity="0.71"/><rect x="1167.61" y="354.56" width="9.5" height="1.4" fill="#f4f4f8" opacity="0.66"/><rect x="1167.53" y="358.1" width="12.5" height="1.4" fill="#f4f4f8" opacity="0.61"/><rect x="1175.47" y="363.41" width="10.59" height="1.4" fill="#f4f4f8" opacity="0.56"/><rect x="1176.69" y="366.95" width="12.16" height="1.4" fill="#f4f4f8" opacity="0.68"/><rect x="1179.63" y="370.49" width="10.36" height="1.4" fill="#f4f4f8" opacity="0.67"/><rect x="1183.66" y="372.26" width="9.41" height="1.4" fill="#f4f4f8" opacity="0.66"/><rect x="1186.09" y="381.11" width="12.31" height="1.4" fill="#f4f4f8" opacity="0.78"/><rect x="1192.98" y="382.88" width="13.17" height="1.4" fill="#f4f4f8" opacity="0.79"/><rect x="1192.61" y="386.42" width="14.87" height="1.4" fill="#f4f4f8" opacity="0.61"/><rect x="1194.62" y="389.96" width="14.88" height="1.4" fill="#f4f4f8" opacity="0.89"/><rect x="1202.24" y="393.5" width="12.24" height="1.4" fill="#f4f4f8" opacity="0.73"/><rect x="1203.71" y="395.27" width="15.2" height="1.4" fill="#f4f4f8" opacity="0.87"/><rect x="1209.22" y="397.04" width="15.98" height="1.4" fill="#f4f4f8" opacity="0.77"/><rect x="1218.35" y="400.58" width="13.64" height="1.4" fill="#f4f4f8" opacity="0.66"/><rect x="1216.65" y="402.35" width="15.75" height="1.4" fill="#f4f4f8" opacity="0.65"/><rect x="1220.6" y="404.12" width="11.32" height="1.4" fill="#f4f4f8" opacity="0.65"/><rect x="1233.43" y="409.43" width="15.82" height="1.4" fill="#f4f4f8" opacity="0.82"/><rect x="1233.44" y="411.2" width="14.99" height="1.4" fill="#f4f4f8" opacity="0.89"/><rect x="1242.64" y="412.97" width="14.29" height="1.4" fill="#f4f4f8" opacity="0.83"/></g>
<g filter="url(#blr2)"><rect x="1140" y="287.2" width="7.53" height="1.6" fill="#aebde3" opacity="0.06"/><rect x="1140" y="288.97" width="8.01" height="1.6" fill="#aebde3" opacity="0.06"/><rect x="1140" y="290.74" width="8.48" height="1.6" fill="#aebde3" opacity="0.13"/><rect x="1140" y="294.28" width="9.42" height="1.6" fill="#aebde3" opacity="0.07"/><rect x="1140" y="296.05" width="9.89" height="1.6" fill="#aebde3" opacity="0.10"/><rect x="1140" y="297.82" width="10.33" height="1.6" fill="#aebde3" opacity="0.10"/><rect x="1140" y="301.36" width="11.06" height="1.6" fill="#aebde3" opacity="0.03"/><rect x="1140" y="303.13" width="11.43" height="1.6" fill="#aebde3" opacity="0.04"/><rect x="1140" y="304.9" width="11.8" height="1.6" fill="#aebde3" opacity="0.03"/><rect x="1140" y="306.67" width="12.17" height="1.6" fill="#aebde3" opacity="0.06"/><rect x="1140" y="308.44" width="12.53" height="1.6" fill="#aebde3" opacity="0.04"/><rect x="1140" y="310.21" width="12.9" height="1.6" fill="#aebde3" opacity="0.05"/><rect x="1140" y="313.75" width="13.68" height="1.6" fill="#aebde3" opacity="0.11"/><rect x="1140" y="315.52" width="14.16" height="1.6" fill="#aebde3" opacity="0.13"/><rect x="1140" y="319.06" width="15.13" height="1.6" fill="#aebde3" opacity="0.12"/><rect x="1140" y="320.83" width="15.62" height="1.6" fill="#aebde3" opacity="0.07"/><rect x="1140" y="322.6" width="16.1" height="1.6" fill="#aebde3" opacity="0.09"/><rect x="1140" y="324.37" width="16.59" height="1.6" fill="#aebde3" opacity="0.07"/><rect x="1140" y="326.14" width="17.08" height="1.6" fill="#aebde3" opacity="0.05"/><rect x="1140" y="329.68" width="18.05" height="1.6" fill="#aebde3" opacity="0.09"/><rect x="1140" y="331.45" width="18.53" height="1.6" fill="#aebde3" opacity="0.10"/><rect x="1140" y="334.99" width="20.53" height="1.6" fill="#aebde3" opacity="0.07"/><rect x="1140" y="336.76" width="21.57" height="1.6" fill="#aebde3" opacity="0.04"/><rect x="1140" y="338.53" width="22.6" height="1.6" fill="#aebde3" opacity="0.10"/><rect x="1140" y="342.07" width="24.74" height="1.6" fill="#aebde3" opacity="0.04"/><rect x="1140" y="343.84" width="25.85" height="1.6" fill="#aebde3" opacity="0.05"/><rect x="1140" y="345.61" width="26.95" height="1.6" fill="#aebde3" opacity="0.05"/><rect x="1140" y="347.38" width="28.05" height="1.6" fill="#aebde3" opacity="0.10"/><rect x="1140" y="350.92" width="30.26" height="1.6" fill="#aebde3" opacity="0.04"/><rect x="1140" y="352.69" width="31.52" height="1.6" fill="#aebde3" opacity="0.14"/><rect x="1140" y="354.46" width="32.83" height="1.6" fill="#aebde3" opacity="0.12"/><rect x="1140" y="358" width="35.43" height="1.6" fill="#aebde3" opacity="0.05"/><rect x="1140" y="361.54" width="38.05" height="1.6" fill="#aebde3" opacity="0.12"/><rect x="1140" y="363.31" width="39.38" height="1.6" fill="#aebde3" opacity="0.11"/><rect x="1140" y="365.08" width="40.71" height="1.6" fill="#aebde3" opacity="0.11"/><rect x="1140" y="366.85" width="42.04" height="1.6" fill="#aebde3" opacity="0.10"/><rect x="1140" y="368.62" width="43.48" height="1.6" fill="#aebde3" opacity="0.10"/><rect x="1140" y="370.39" width="44.96" height="1.6" fill="#aebde3" opacity="0.13"/><rect x="1140" y="372.16" width="46.43" height="1.6" fill="#aebde3" opacity="0.10"/><rect x="1140" y="373.93" width="47.91" height="1.6" fill="#aebde3" opacity="0.08"/><rect x="1140" y="375.7" width="49.38" height="1.6" fill="#aebde3" opacity="0.04"/><rect x="1140" y="377.47" width="50.86" height="1.6" fill="#aebde3" opacity="0.12"/></g>
<rect x="1378" y="456.6" width="28" height="1.5" fill="#dfe4f2" opacity="0.8"/>
<rect x="1243.5" y="411.9" width="6.5" height="1.5" fill="#ee7b52" opacity="0.9"/>
<rect x="1272" y="420.1" width="2" height="1.5" fill="#ee7b52" opacity="0.9"/>
<rect x="1382" y="456.7" width="5" height="1.5" fill="#ee7b52" opacity="0.9"/>
<rect x="1392" y="456.7" width="4" height="1.5" fill="#ee7b52" opacity="0.9"/>
<rect x="1397.5" y="456.7" width="8.5" height="1.5" fill="#ee7b52" opacity="0.9"/>
<rect x="1309" y="436.3" width="2" height="1.5" fill="#ee7b52" opacity="0.9"/>
<rect x="1221.5" y="401.8" width="2" height="1.5" fill="#ee7b52" opacity="0.9"/>
</g>
<path d="M1146 283.2L1407 281.2" stroke="#ffffff" stroke-width="1.8" stroke-dasharray="13 11" stroke-dashoffset="6" fill="none"/>
<path d="M1146.1 105V464.8" stroke="#0f1416" stroke-width="2.3" fill="none"/>
<path d="M1407.4 105V464.9" stroke="#0f1416" stroke-width="2.9" fill="none"/>
<path d="M1145 105.9H1408.8" stroke="#0f1416" stroke-width="1.8" fill="none"/>
<path d="M1145 459.4H1408.8" stroke="#0f1416" stroke-width="2.4" fill="none"/>
<line x1="1142.5" y1="111" x2="1145.5" y2="111" stroke="#0f1416" stroke-width="2" />
<line x1="1142.5" y1="459" x2="1145.5" y2="459" stroke="#0f1416" stroke-width="2" />
<line x1="1143" y1="196" x2="1145.5" y2="196" stroke="#0f1416" stroke-width="0.8" />
<line x1="1143" y1="283" x2="1145.5" y2="283" stroke="#0f1416" stroke-width="0.8" />
<line x1="1143" y1="370.7" x2="1145.5" y2="370.7" stroke="#0f1416" stroke-width="0.8" />
<rect x="1183.7" y="512.5" width="185.8" height="17.8" fill="#4957a8" stroke="#0f1416" stroke-width="3" />
<rect x="1362.9" y="514" width="4.5" height="14.8" fill="#e0593f" />
<line x1="1190.5" y1="531.5" x2="1190.5" y2="535" stroke="#0f1416" stroke-width="2" />
<line x1="1365" y1="531.5" x2="1365" y2="535" stroke="#0f1416" stroke-width="2" />
</g>
<g id="panel-d">
<rect x="1603.6" y="17.6" width="253" height="70.7" rx="4" ry="4" fill="#ffffff" stroke="#d3d3d3" stroke-width="1.7"/>
<line x1="1620" y1="40.9" x2="1662" y2="40.9" stroke="#c9168a" stroke-width="3.8" />
<line x1="1620" y1="68.8" x2="1662" y2="68.8" stroke="#a9d8e8" stroke-width="3.8" />
<line x1="1736.2" y1="40.7" x2="1777.7" y2="40.7" stroke="#7b2182" stroke-width="3.8" />
<line x1="1736.2" y1="68.5" x2="1777.7" y2="68.5" stroke="#262a7c" stroke-width="3.8" />
<clipPath id="clipd1"><rect x="1520" y="138.9" width="175.4000000000001" height="358.6"/></clipPath>
<g clip-path="url(#clipd1)">
<path d="M1520.4 189.8L1521.4 197.98L1522.4 204.69L1523.4 210.28L1524.4 215.29L1525.4 220.13L1526.4 224.83L1527.4 229.37L1528.4 233.7L1529.4 237.81L1530.4 241.68L1531.4 245.42L1532.4 249.07L1533.4 252.51L1534.4 255.65L1535.4 258.38L1536.4 260.7L1537.4 262.86L1538.4 264.86L1539.4 266.71L1540.4 268.38L1541.4 269.86L1542.4 271.14L1543.4 272.25L1544.4 273.27L1545.4 274.23L1546.4 275.13L1547.4 275.97L1548.4 276.74L1549.4 277.46L1550.4 278.12L1551.4 278.72L1552.4 279.26L1553.4 279.75L1554.4 280.2L1555.4 280.63L1556.4 281.03L1557.4 281.41L1558.4 281.76L1559.4 282.09L1560.4 282.39L1561.4 282.67L1562.4 282.92L1563.4 283.14L1564.4 283.34L1565.4 283.52L1566.4 283.69L1567.4 283.86L1568.4 284.01L1569.4 284.16L1570.4 284.3L1571.4 284.43L1572.4 284.56L1573.4 284.67L1574.4 284.77L1575.4 284.87L1576.4 284.96L1577.4 285.03L1578.4 285.1L1579.4 285.16L1580.4 285.22L1581.4 285.28L1582.4 285.34L1583.4 285.4L1584.4 285.46L1585.4 285.52L1586.4 285.57L1587.4 285.62L1588.4 285.67L1589.4 285.72L1590.4 285.77L1591.4 285.82L1592.4 285.86L1593.4 285.9L1594.4 285.94L1595.4 285.98L1596.4 286.01L1597.4 286.05L1598.4 286.07L1599.4 286.1L1600.4 286.12L1601.4 286.15L1602.4 286.16L1603.4 286.18L1604.4 286.19L1605.4 286.2L1606.4 286.2L1607.4 286.2L1608.4 286.2L1609.4 286.2L1610.4 286.2L1611.4 286.2L1612.4 286.2L1613.4 286.2L1614.4 286.2L1615.4 286.2L1616.4 286.2L1617.4 286.2L1618.4 286.2L1619.4 286.2L1620.4 286.2L1621.4 286.2L1622.4 286.2L1623.4 286.2L1624.4 286.2L1625.4 286.2L1626.4 286.2L1627.4 286.2L1628.4 286.2L1629.4 286.2L1630.4 286.2L1631.4 286.2L1632.4 286.2L1633.4 286.2L1634.4 286.2L1635.4 286.2L1636.4 286.2L1637.4 286.2L1638.4 286.2L1639.4 286.2L1640.4 286.2L1641.4 286.2L1642.4 286.2L1643.4 286.2L1644.4 286.2L1645.4 286.19L1646.4 286.18L1647.4 286.17L1648.4 286.16L1649.4 286.15L1650.4 286.13L1651.4 286.12L1652.4 286.1L1653.4 286.08L1654.4 286.05L1655.4 286.03L1656.4 286.01L1657.4 285.98L1658.4 285.95L1659.4 285.93L1660.4 285.9L1661.4 285.87L1662.4 285.84L1663.4 285.81L1664.4 285.78L1665.4 285.75L1666.4 285.72L1667.4 285.68L1668.4 285.65L1669.4 285.62L1670.4 285.59L1671.4 285.56L1672.4 285.52L1673.4 285.49L1674.4 285.46L1675.4 285.43L1676.4 285.4L1677.4 285.38L1678.4 285.35L1679.4 285.32L1680.4 285.3L1681.4 285.27L1682.4 285.25L1683.4 285.23L1684.4 285.21L1685.4 285.19L1686.4 285.17L1687.4 285.15L1688.4 285.14L1689.4 285.13L1690.4 285.12L1691.4 285.11L1692.4 285.1L1693.4 285.1L1694.4 285.1L1695.4 285.1L1695.4 290.7L1694.4 290.7L1693.4 290.7L1692.4 290.7L1691.4 290.71L1690.4 290.72L1689.4 290.73L1688.4 290.74L1687.4 290.75L1686.4 290.77L1685.4 290.79L1684.4 290.81L1683.4 290.83L1682.4 290.85L1681.4 290.87L1680.4 290.9L1679.4 290.92L1678.4 290.95L1677.4 290.98L1676.4 291L1675.4 291.03L1674.4 291.06L1673.4 291.09L1672.4 291.12L1671.4 291.16L1670.4 291.19L1669.4 291.22L1668.4 291.25L1667.4 291.28L1666.4 291.32L1665.4 291.35L1664.4 291.38L1663.4 291.41L1662.4 291.44L1661.4 291.47L1660.4 291.5L1659.4 291.53L1658.4 291.55L1657.4 291.58L1656.4 291.61L1655.4 291.63L1654.4 291.65L1653.4 291.68L1652.4 291.7L1651.4 291.72L1650.4 291.73L1649.4 291.75L1648.4 291.76L1647.4 291.77L1646.4 291.78L1645.4 291.79L1644.4 291.8L1643.4 291.8L1642.4 291.8L1641.4 291.8L1640.4 291.8L1639.4 291.8L1638.4 291.8L1637.4 291.8L1636.4 291.8L1635.4 291.8L1634.4 291.8L1633.4 291.8L1632.4 291.8L1631.4 291.8L1630.4 291.8L1629.4 291.8L1628.4 291.8L1627.4 291.8L1626.4 291.8L1625.4 291.8L1624.4 291.8L1623.4 291.8L1622.4 291.8L1621.4 291.8L1620.4 291.8L1619.4 291.8L1618.4 291.8L1617.4 291.8L1616.4 291.8L1615.4 291.8L1614.4 291.8L1613.4 291.8L1612.4 291.8L1611.4 291.8L1610.4 291.8L1609.4 291.8L1608.4 291.8L1607.4 291.8L1606.4 291.8L1605.4 291.8L1604.4 291.79L1603.4 291.78L1602.4 291.76L1601.4 291.75L1600.4 291.72L1599.4 291.7L1598.4 291.67L1597.4 291.65L1596.4 291.61L1595.4 291.58L1594.4 291.54L1593.4 291.5L1592.4 291.46L1591.4 291.42L1590.4 291.37L1589.4 291.32L1588.4 291.27L1587.4 291.22L1586.4 291.17L1585.4 291.12L1584.4 291.06L1583.4 291L1582.4 290.94L1581.4 290.88L1580.4 290.82L1579.4 290.76L1578.4 290.7L1577.4 290.63L1576.4 290.56L1575.4 290.47L1574.4 290.37L1573.4 290.27L1572.4 290.16L1571.4 290.03L1570.4 289.9L1569.4 289.76L1568.4 289.61L1567.4 289.46L1566.4 289.29L1565.4 289.12L1564.4 288.94L1563.4 288.74L1562.4 288.52L1561.4 288.27L1560.4 287.99L1559.4 287.69L1558.4 287.36L1557.4 287.01L1556.4 286.63L1555.4 286.23L1554.4 285.8L1553.4 285.35L1552.4 284.86L1551.4 284.32L1550.4 283.72L1549.4 283.06L1548.4 282.34L1547.4 281.57L1546.4 280.73L1545.4 279.83L1544.4 278.87L1543.4 277.85L1542.4 276.74L1541.4 275.46L1540.4 273.98L1539.4 272.31L1538.4 270.46L1537.4 268.46L1536.4 266.3L1535.4 263.98L1534.4 261.25L1533.4 258.11L1532.4 254.67L1531.4 251.02L1530.4 247.28L1529.4 243.41L1528.4 239.3L1527.4 234.97L1526.4 230.43L1525.4 225.73L1524.4 220.89L1523.4 215.88L1522.4 210.29L1521.4 203.58L1520.4 195.4z" fill="#c9168a" fill-opacity="0.3"/>
<path d="M1520.4 190.4L1521.4 199.1L1522.4 208.37L1523.4 217.92L1524.4 226.71L1525.4 233.88L1526.4 240.17L1527.4 245.91L1528.4 251.12L1529.4 255.84L1530.4 260.11L1531.4 263.93L1532.4 267.4L1533.4 270.6L1534.4 273.63L1535.4 276.6L1536.4 279.57L1537.4 282.47L1538.4 285.28L1539.4 288.01L1540.4 290.65L1541.4 293.18L1542.4 295.65L1543.4 298.05L1544.4 300.36L1545.4 302.58L1546.4 304.72L1547.4 306.83L1548.4 308.95L1549.4 311.06L1550.4 313.15L1551.4 315.19L1552.4 317.19L1553.4 319.11L1554.4 320.95L1555.4 322.69L1556.4 324.31L1557.4 325.82L1558.4 327.27L1559.4 328.67L1560.4 330.02L1561.4 331.32L1562.4 332.59L1563.4 333.81L1564.4 334.99L1565.4 336.13L1566.4 337.23L1567.4 338.3L1568.4 339.33L1569.4 340.33L1570.4 341.29L1571.4 342.22L1572.4 343.14L1573.4 344.04L1574.4 344.92L1575.4 345.81L1576.4 346.72L1577.4 347.6L1578.4 348.47L1579.4 349.32L1580.4 350.15L1581.4 350.95L1582.4 351.72L1583.4 352.47L1584.4 353.2L1585.4 353.89L1586.4 354.56L1587.4 355.19L1588.4 355.8L1589.4 356.37L1590.4 356.92L1591.4 357.46L1592.4 357.98L1593.4 358.48L1594.4 358.97L1595.4 359.44L1596.4 359.9L1597.4 360.35L1598.4 360.78L1599.4 361.2L1600.4 361.6L1601.4 362L1602.4 362.38L1603.4 362.75L1604.4 363.11L1605.4 363.46L1606.4 363.8L1607.4 364.13L1608.4 364.45L1609.4 364.76L1610.4 365.07L1611.4 365.36L1612.4 365.65L1613.4 365.93L1614.4 366.21L1615.4 366.47L1616.4 366.73L1617.4 366.99L1618.4 367.24L1619.4 367.48L1620.4 367.72L1621.4 367.95L1622.4 368.17L1623.4 368.4L1624.4 368.61L1625.4 368.83L1626.4 369.04L1627.4 369.25L1628.4 369.45L1629.4 369.66L1630.4 369.86L1631.4 370.05L1632.4 370.25L1633.4 370.43L1634.4 370.62L1635.4 370.79L1636.4 370.97L1637.4 371.13L1638.4 371.29L1639.4 371.45L1640.4 371.6L1641.4 371.74L1642.4 371.87L1643.4 372L1644.4 372.13L1645.4 372.25L1646.4 372.37L1647.4 372.49L1648.4 372.6L1649.4 372.71L1650.4 372.81L1651.4 372.92L1652.4 373.02L1653.4 373.11L1654.4 373.21L1655.4 373.3L1656.4 373.39L1657.4 373.47L1658.4 373.55L1659.4 373.63L1660.4 373.7L1661.4 373.77L1662.4 373.85L1663.4 373.92L1664.4 373.99L1665.4 374.07L1666.4 374.14L1667.4 374.22L1668.4 374.29L1669.4 374.36L1670.4 374.44L1671.4 374.51L1672.4 374.58L1673.4 374.65L1674.4 374.71L1675.4 374.78L1676.4 374.85L1677.4 374.91L1678.4 374.97L1679.4 375.03L1680.4 375.08L1681.4 375.14L1682.4 375.19L1683.4 375.23L1684.4 375.28L1685.4 375.32L1686.4 375.35L1687.4 375.39L1688.4 375.42L1689.4 375.44L1690.4 375.46L1691.4 375.48L1692.4 375.49L1693.4 375.5L1694.4 375.5L1695.4 375.5L1695.4 383.6L1694.4 383.6L1693.4 383.6L1692.4 383.59L1691.4 383.58L1690.4 383.56L1689.4 383.54L1688.4 383.52L1687.4 383.49L1686.4 383.45L1685.4 383.42L1684.4 383.38L1683.4 383.33L1682.4 383.29L1681.4 383.24L1680.4 383.18L1679.4 383.13L1678.4 383.07L1677.4 383.01L1676.4 382.95L1675.4 382.88L1674.4 382.81L1673.4 382.75L1672.4 382.68L1671.4 382.61L1670.4 382.54L1669.4 382.46L1668.4 382.39L1667.4 382.32L1666.4 382.24L1665.4 382.17L1664.4 382.09L1663.4 382.02L1662.4 381.95L1661.4 381.87L1660.4 381.8L1659.4 381.73L1658.4 381.65L1657.4 381.57L1656.4 381.49L1655.4 381.4L1654.4 381.31L1653.4 381.21L1652.4 381.12L1651.4 381.02L1650.4 380.91L1649.4 380.81L1648.4 380.7L1647.4 380.59L1646.4 380.47L1645.4 380.35L1644.4 380.23L1643.4 380.1L1642.4 379.97L1641.4 379.84L1640.4 379.7L1639.4 379.55L1638.4 379.39L1637.4 379.23L1636.4 379.07L1635.4 378.89L1634.4 378.72L1633.4 378.53L1632.4 378.35L1631.4 378.15L1630.4 377.96L1629.4 377.76L1628.4 377.55L1627.4 377.35L1626.4 377.14L1625.4 376.93L1624.4 376.71L1623.4 376.5L1622.4 376.27L1621.4 376.05L1620.4 375.82L1619.4 375.58L1618.4 375.34L1617.4 375.09L1616.4 374.83L1615.4 374.57L1614.4 374.31L1613.4 374.03L1612.4 373.75L1611.4 373.46L1610.4 373.17L1609.4 372.86L1608.4 372.55L1607.4 372.23L1606.4 371.9L1605.4 371.56L1604.4 371.21L1603.4 370.85L1602.4 370.48L1601.4 370.1L1600.4 369.7L1599.4 369.3L1598.4 368.88L1597.4 368.45L1596.4 368L1595.4 367.54L1594.4 367.07L1593.4 366.58L1592.4 366.08L1591.4 365.56L1590.4 365.02L1589.4 364.47L1588.4 363.9L1587.4 363.29L1586.4 362.66L1585.4 361.99L1584.4 361.3L1583.4 360.57L1582.4 359.82L1581.4 359.05L1580.4 358.25L1579.4 357.42L1578.4 356.57L1577.4 355.7L1576.4 354.82L1575.4 353.91L1574.4 352.95L1573.4 351.97L1572.4 350.96L1571.4 349.94L1570.4 348.9L1569.4 347.83L1568.4 346.73L1567.4 345.59L1566.4 344.42L1565.4 343.21L1564.4 341.97L1563.4 340.68L1562.4 339.35L1561.4 337.99L1560.4 336.57L1559.4 335.12L1558.4 333.61L1557.4 332.06L1556.4 330.45L1555.4 328.71L1554.4 326.87L1553.4 324.92L1552.4 322.9L1551.4 320.8L1550.4 318.65L1549.4 316.46L1548.4 314.24L1547.4 312.02L1546.4 309.79L1545.4 307.55L1544.4 305.22L1543.4 302.81L1542.4 300.31L1541.4 297.73L1540.4 295.09L1539.4 292.41L1538.4 289.68L1537.4 286.87L1536.4 283.97L1535.4 281L1534.4 278.03L1533.4 275L1532.4 271.8L1531.4 268.33L1530.4 264.51L1529.4 260.24L1528.4 255.52L1527.4 250.31L1526.4 244.57L1525.4 238.28L1524.4 231.11L1523.4 222.32L1522.4 212.77L1521.4 203.5L1520.4 194.8z" fill="#a9d8e8" fill-opacity="0.4"/>
<path d="M1520.4 190.4L1521.4 199.1L1522.4 208.37L1523.4 217.92L1524.4 226.71L1525.4 233.88L1526.4 240.17L1527.4 245.91L1528.4 251.12L1529.4 255.84L1530.4 260.11L1531.4 263.92L1532.4 267.36L1533.4 270.53L1534.4 273.57L1535.4 276.58L1536.4 279.64L1537.4 282.65L1538.4 285.6L1539.4 288.5L1540.4 291.32L1541.4 294.08L1542.4 296.75L1543.4 299.34L1544.4 301.82L1545.4 304.21L1546.4 306.53L1547.4 308.82L1548.4 311.09L1549.4 313.33L1550.4 315.53L1551.4 317.69L1552.4 319.81L1553.4 321.9L1554.4 323.96L1555.4 325.98L1556.4 327.96L1557.4 329.9L1558.4 331.82L1559.4 333.73L1560.4 335.61L1561.4 337.48L1562.4 339.33L1563.4 341.14L1564.4 342.93L1565.4 344.69L1566.4 346.41L1567.4 348.1L1568.4 349.75L1569.4 351.35L1570.4 352.91L1571.4 354.42L1572.4 355.91L1573.4 357.39L1574.4 358.87L1575.4 360.33L1576.4 361.78L1577.4 363.21L1578.4 364.61L1579.4 365.99L1580.4 367.33L1581.4 368.64L1582.4 369.9L1583.4 371.12L1584.4 372.3L1585.4 373.41L1586.4 374.47L1587.4 375.47L1588.4 376.41L1589.4 377.28L1590.4 378.11L1591.4 378.94L1592.4 379.73L1593.4 380.5L1594.4 381.24L1595.4 381.96L1596.4 382.65L1597.4 383.32L1598.4 383.97L1599.4 384.6L1600.4 385.21L1601.4 385.8L1602.4 386.37L1603.4 386.93L1604.4 387.46L1605.4 387.99L1606.4 388.5L1607.4 389L1608.4 389.48L1609.4 389.96L1610.4 390.42L1611.4 390.87L1612.4 391.31L1613.4 391.74L1614.4 392.15L1615.4 392.56L1616.4 392.95L1617.4 393.34L1618.4 393.72L1619.4 394.08L1620.4 394.44L1621.4 394.78L1622.4 395.12L1623.4 395.45L1624.4 395.77L1625.4 396.09L1626.4 396.39L1627.4 396.7L1628.4 396.99L1629.4 397.28L1630.4 397.56L1631.4 397.84L1632.4 398.11L1633.4 398.38L1634.4 398.63L1635.4 398.88L1636.4 399.13L1637.4 399.37L1638.4 399.6L1639.4 399.83L1640.4 400.04L1641.4 400.26L1642.4 400.46L1643.4 400.66L1644.4 400.85L1645.4 401.04L1646.4 401.23L1647.4 401.41L1648.4 401.59L1649.4 401.77L1650.4 401.94L1651.4 402.1L1652.4 402.27L1653.4 402.42L1654.4 402.58L1655.4 402.73L1656.4 402.87L1657.4 403.01L1658.4 403.14L1659.4 403.27L1660.4 403.4L1661.4 403.52L1662.4 403.65L1663.4 403.78L1664.4 403.91L1665.4 404.04L1666.4 404.16L1667.4 404.29L1668.4 404.42L1669.4 404.55L1670.4 404.68L1671.4 404.81L1672.4 404.93L1673.4 405.06L1674.4 405.18L1675.4 405.3L1676.4 405.41L1677.4 405.53L1678.4 405.64L1679.4 405.74L1680.4 405.84L1681.4 405.94L1682.4 406.03L1683.4 406.11L1684.4 406.19L1685.4 406.27L1686.4 406.33L1687.4 406.39L1688.4 406.45L1689.4 406.49L1690.4 406.53L1691.4 406.56L1692.4 406.58L1693.4 406.6L1694.4 406.6L1695.4 406.6L1695.4 414.3L1694.4 414.3L1693.4 414.3L1692.4 414.28L1691.4 414.26L1690.4 414.23L1689.4 414.19L1688.4 414.15L1687.4 414.09L1686.4 414.03L1685.4 413.97L1684.4 413.89L1683.4 413.81L1682.4 413.73L1681.4 413.64L1680.4 413.54L1679.4 413.44L1678.4 413.34L1677.4 413.23L1676.4 413.11L1675.4 413L1674.4 412.88L1673.4 412.76L1672.4 412.63L1671.4 412.51L1670.4 412.38L1669.4 412.25L1668.4 412.12L1667.4 411.99L1666.4 411.86L1665.4 411.74L1664.4 411.61L1663.4 411.48L1662.4 411.35L1661.4 411.22L1660.4 411.1L1659.4 410.97L1658.4 410.84L1657.4 410.71L1656.4 410.57L1655.4 410.43L1654.4 410.28L1653.4 410.12L1652.4 409.97L1651.4 409.8L1650.4 409.64L1649.4 409.47L1648.4 409.29L1647.4 409.11L1646.4 408.93L1645.4 408.74L1644.4 408.55L1643.4 408.36L1642.4 408.16L1641.4 407.96L1640.4 407.74L1639.4 407.53L1638.4 407.3L1637.4 407.07L1636.4 406.83L1635.4 406.58L1634.4 406.33L1633.4 406.08L1632.4 405.81L1631.4 405.54L1630.4 405.26L1629.4 404.98L1628.4 404.69L1627.4 404.4L1626.4 404.09L1625.4 403.79L1624.4 403.47L1623.4 403.15L1622.4 402.82L1621.4 402.48L1620.4 402.14L1619.4 401.78L1618.4 401.42L1617.4 401.04L1616.4 400.65L1615.4 400.26L1614.4 399.85L1613.4 399.44L1612.4 399.01L1611.4 398.57L1610.4 398.12L1609.4 397.66L1608.4 397.18L1607.4 396.7L1606.4 396.2L1605.4 395.69L1604.4 395.16L1603.4 394.63L1602.4 394.07L1601.4 393.5L1600.4 392.91L1599.4 392.3L1598.4 391.67L1597.4 391.02L1596.4 390.35L1595.4 389.66L1594.4 388.94L1593.4 388.2L1592.4 387.43L1591.4 386.64L1590.4 385.81L1589.4 384.93L1588.4 383.98L1587.4 382.96L1586.4 381.88L1585.4 380.73L1584.4 379.53L1583.4 378.28L1582.4 376.98L1581.4 375.63L1580.4 374.24L1579.4 372.81L1578.4 371.36L1577.4 369.87L1576.4 368.36L1575.4 366.83L1574.4 365.28L1573.4 363.72L1572.4 362.15L1571.4 360.58L1570.4 358.99L1569.4 357.35L1568.4 355.66L1567.4 353.94L1566.4 352.17L1565.4 350.36L1564.4 348.52L1563.4 346.65L1562.4 344.75L1561.4 342.82L1560.4 340.87L1559.4 338.9L1558.4 336.91L1557.4 334.91L1556.4 332.89L1555.4 330.82L1554.4 328.72L1553.4 326.59L1552.4 324.41L1551.4 322.2L1550.4 319.96L1549.4 317.73L1548.4 315.49L1547.4 313.22L1546.4 310.93L1545.4 308.61L1544.4 306.22L1543.4 303.74L1542.4 301.15L1541.4 298.48L1540.4 295.72L1539.4 292.9L1538.4 290L1537.4 287.05L1536.4 284.04L1535.4 280.98L1534.4 277.97L1533.4 274.93L1532.4 271.76L1531.4 268.32L1530.4 264.51L1529.4 260.24L1528.4 255.52L1527.4 250.31L1526.4 244.57L1525.4 238.28L1524.4 231.11L1523.4 222.32L1522.4 212.77L1521.4 203.5L1520.4 194.8z" fill="#7b2182" fill-opacity="0.35"/>
<path d="M1520.4 190.4L1521.4 199.1L1522.4 208.37L1523.4 217.92L1524.4 226.71L1525.4 233.88L1526.4 240.17L1527.4 245.91L1528.4 251.12L1529.4 255.84L1530.4 260.11L1531.4 263.9L1532.4 267.32L1533.4 270.47L1534.4 273.51L1535.4 276.56L1536.4 279.72L1537.4 282.89L1538.4 286.05L1539.4 289.16L1540.4 292.19L1541.4 295.09L1542.4 297.85L1543.4 300.43L1544.4 302.89L1545.4 305.25L1546.4 307.52L1547.4 309.73L1548.4 311.88L1549.4 314.01L1550.4 316.13L1551.4 318.25L1552.4 320.39L1553.4 322.58L1554.4 324.8L1555.4 327.04L1556.4 329.29L1557.4 331.54L1558.4 333.79L1559.4 336.05L1560.4 338.3L1561.4 340.53L1562.4 342.75L1563.4 344.96L1564.4 347.16L1565.4 349.34L1566.4 351.5L1567.4 353.63L1568.4 355.75L1569.4 357.83L1570.4 359.89L1571.4 361.91L1572.4 363.92L1573.4 365.92L1574.4 367.92L1575.4 369.91L1576.4 371.89L1577.4 373.86L1578.4 375.81L1579.4 377.74L1580.4 379.65L1581.4 381.53L1582.4 383.39L1583.4 385.21L1584.4 387L1585.4 388.76L1586.4 390.47L1587.4 392.15L1588.4 393.78L1589.4 395.36L1590.4 396.91L1591.4 398.43L1592.4 399.92L1593.4 401.39L1594.4 402.83L1595.4 404.25L1596.4 405.64L1597.4 407.01L1598.4 408.36L1599.4 409.69L1600.4 410.99L1601.4 412.28L1602.4 413.55L1603.4 414.8L1604.4 416.04L1605.4 417.26L1606.4 418.46L1607.4 419.65L1608.4 420.84L1609.4 422.02L1610.4 423.18L1611.4 424.34L1612.4 425.49L1613.4 426.62L1614.4 427.73L1615.4 428.83L1616.4 429.91L1617.4 430.97L1618.4 432.01L1619.4 433.02L1620.4 434.01L1621.4 434.97L1622.4 435.9L1623.4 436.81L1624.4 437.68L1625.4 438.52L1626.4 439.35L1627.4 440.16L1628.4 440.96L1629.4 441.74L1630.4 442.51L1631.4 443.26L1632.4 444L1633.4 444.72L1634.4 445.41L1635.4 446.1L1636.4 446.76L1637.4 447.4L1638.4 448.03L1639.4 448.63L1640.4 449.21L1641.4 449.77L1642.4 450.31L1643.4 450.82L1644.4 451.32L1645.4 451.81L1646.4 452.28L1647.4 452.73L1648.4 453.17L1649.4 453.6L1650.4 454.02L1651.4 454.42L1652.4 454.82L1653.4 455.21L1654.4 455.59L1655.4 455.97L1656.4 456.33L1657.4 456.7L1658.4 457.06L1659.4 457.42L1660.4 457.77L1661.4 458.12L1662.4 458.46L1663.4 458.8L1664.4 459.12L1665.4 459.44L1666.4 459.76L1667.4 460.07L1668.4 460.37L1669.4 460.68L1670.4 460.97L1671.4 461.27L1672.4 461.56L1673.4 461.86L1674.4 462.15L1675.4 462.44L1676.4 462.73L1677.4 463.03L1678.4 463.32L1679.4 463.62L1680.4 463.93L1681.4 464.24L1682.4 464.55L1683.4 464.86L1684.4 465.17L1685.4 465.48L1686.4 465.79L1687.4 466.09L1688.4 466.38L1689.4 466.66L1690.4 466.94L1691.4 467.2L1692.4 467.45L1693.4 467.69L1694.4 467.91L1695.4 468.1L1695.4 484.23L1694.4 483.94L1693.4 483.62L1692.4 483.28L1691.4 482.92L1690.4 482.56L1689.4 482.18L1688.4 481.79L1687.4 481.4L1686.4 481L1685.4 480.59L1684.4 480.18L1683.4 479.76L1682.4 479.35L1681.4 478.94L1680.4 478.53L1679.4 478.12L1678.4 477.72L1677.4 477.32L1676.4 476.92L1675.4 476.53L1674.4 476.14L1673.4 475.74L1672.4 475.35L1671.4 474.96L1670.4 474.56L1669.4 474.16L1668.4 473.76L1667.4 473.36L1666.4 472.95L1665.4 472.53L1664.4 472.11L1663.4 471.69L1662.4 471.26L1661.4 470.82L1660.4 470.37L1659.4 469.92L1658.4 469.46L1657.4 469L1656.4 468.54L1655.4 468.08L1654.4 467.6L1653.4 467.13L1652.4 466.64L1651.4 466.15L1650.4 465.65L1649.4 465.13L1648.4 464.61L1647.4 464.07L1646.4 463.52L1645.4 462.96L1644.4 462.38L1643.4 461.79L1642.4 461.17L1641.4 460.54L1640.4 459.89L1639.4 459.21L1638.4 458.52L1637.4 457.8L1636.4 457.07L1635.4 456.31L1634.4 455.54L1633.4 454.74L1632.4 453.93L1631.4 453.11L1630.4 452.27L1629.4 451.41L1628.4 450.53L1627.4 449.64L1626.4 448.74L1625.4 447.82L1624.4 446.89L1623.4 445.93L1622.4 444.94L1621.4 443.91L1620.4 442.86L1619.4 441.79L1618.4 440.68L1617.4 439.56L1616.4 438.41L1615.4 437.25L1614.4 436.06L1613.4 434.86L1612.4 433.64L1611.4 432.41L1610.4 431.17L1609.4 429.92L1608.4 428.65L1607.4 427.39L1606.4 426.11L1605.4 424.82L1604.4 423.52L1603.4 422.2L1602.4 420.86L1601.4 419.51L1600.4 418.14L1599.4 416.75L1598.4 415.35L1597.4 413.92L1596.4 412.47L1595.4 410.99L1594.4 409.5L1593.4 407.98L1592.4 406.43L1591.4 404.86L1590.4 403.26L1589.4 401.64L1588.4 399.98L1587.4 398.27L1586.4 396.52L1585.4 394.73L1584.4 392.9L1583.4 391.04L1582.4 389.14L1581.4 387.21L1580.4 385.26L1579.4 383.28L1578.4 381.28L1577.4 379.26L1576.4 377.22L1575.4 375.18L1574.4 373.12L1573.4 371.05L1572.4 368.98L1571.4 366.91L1570.4 364.83L1569.4 362.71L1568.4 360.56L1567.4 358.39L1566.4 356.2L1565.4 353.98L1564.4 351.75L1563.4 349.51L1562.4 347.25L1561.4 344.98L1560.4 342.71L1559.4 340.45L1558.4 338.19L1557.4 335.94L1556.4 333.69L1555.4 331.44L1554.4 329.2L1553.4 326.98L1552.4 324.79L1551.4 322.65L1550.4 320.53L1549.4 318.41L1548.4 316.28L1547.4 314.13L1546.4 311.92L1545.4 309.65L1544.4 307.29L1543.4 304.83L1542.4 302.25L1541.4 299.49L1540.4 296.59L1539.4 293.56L1538.4 290.45L1537.4 287.29L1536.4 284.12L1535.4 280.96L1534.4 277.91L1533.4 274.87L1532.4 271.72L1531.4 268.3L1530.4 264.51L1529.4 260.24L1528.4 255.52L1527.4 250.31L1526.4 244.57L1525.4 238.28L1524.4 231.11L1523.4 222.32L1522.4 212.77L1521.4 203.5L1520.4 194.8z" fill="#262a7c" fill-opacity="0.4"/>
<path d="M1520 150L1521.2 150L1523 172L1525.2 192L1527.5 212L1530.5 240L1533 262L1529 277L1526 271L1524.2 300L1523 340L1522.5 452L1520 452z" fill="#7b2182" fill-opacity="0.6"/>
<path d="M1520 196L1523.5 225L1529 258L1531 266L1528 272L1524.5 268L1522.5 290L1520 300z" fill="#262a7c" fill-opacity="0.45"/>
<path d="M1520.4 192.6L1521.4 200.78L1522.4 207.49L1523.4 213.08L1524.4 218.09L1525.4 222.93L1526.4 227.63L1527.4 232.17L1528.4 236.5L1529.4 240.61L1530.4 244.48L1531.4 248.22L1532.4 251.87L1533.4 255.31L1534.4 258.45L1535.4 261.18L1536.4 263.5L1537.4 265.66L1538.4 267.66L1539.4 269.51L1540.4 271.18L1541.4 272.66L1542.4 273.94L1543.4 275.05L1544.4 276.07L1545.4 277.03L1546.4 277.93L1547.4 278.77L1548.4 279.54L1549.4 280.26L1550.4 280.92L1551.4 281.52L1552.4 282.06L1553.4 282.55L1554.4 283L1555.4 283.43L1556.4 283.83L1557.4 284.21L1558.4 284.56L1559.4 284.89L1560.4 285.19L1561.4 285.47L1562.4 285.72L1563.4 285.94L1564.4 286.14L1565.4 286.32L1566.4 286.49L1567.4 286.66L1568.4 286.81L1569.4 286.96L1570.4 287.1L1571.4 287.23L1572.4 287.36L1573.4 287.47L1574.4 287.57L1575.4 287.67L1576.4 287.76L1577.4 287.83L1578.4 287.9L1579.4 287.96L1580.4 288.02L1581.4 288.08L1582.4 288.14L1583.4 288.2L1584.4 288.26L1585.4 288.32L1586.4 288.37L1587.4 288.42L1588.4 288.47L1589.4 288.52L1590.4 288.57L1591.4 288.62L1592.4 288.66L1593.4 288.7L1594.4 288.74L1595.4 288.78L1596.4 288.81L1597.4 288.85L1598.4 288.87L1599.4 288.9L1600.4 288.92L1601.4 288.95L1602.4 288.96L1603.4 288.98L1604.4 288.99L1605.4 289L1606.4 289L1607.4 289L1608.4 289L1609.4 289L1610.4 289L1611.4 289L1612.4 289L1613.4 289L1614.4 289L1615.4 289L1616.4 289L1617.4 289L1618.4 289L1619.4 289L1620.4 289L1621.4 289L1622.4 289L1623.4 289L1624.4 289L1625.4 289L1626.4 289L1627.4 289L1628.4 289L1629.4 289L1630.4 289L1631.4 289L1632.4 289L1633.4 289L1634.4 289L1635.4 289L1636.4 289L1637.4 289L1638.4 289L1639.4 289L1640.4 289L1641.4 289L1642.4 289L1643.4 289L1644.4 289L1645.4 288.99L1646.4 288.98L1647.4 288.97L1648.4 288.96L1649.4 288.95L1650.4 288.93L1651.4 288.92L1652.4 288.9L1653.4 288.88L1654.4 288.85L1655.4 288.83L1656.4 288.81L1657.4 288.78L1658.4 288.75L1659.4 288.73L1660.4 288.7L1661.4 288.67L1662.4 288.64L1663.4 288.61L1664.4 288.58L1665.4 288.55L1666.4 288.52L1667.4 288.48L1668.4 288.45L1669.4 288.42L1670.4 288.39L1671.4 288.36L1672.4 288.32L1673.4 288.29L1674.4 288.26L1675.4 288.23L1676.4 288.2L1677.4 288.18L1678.4 288.15L1679.4 288.12L1680.4 288.1L1681.4 288.07L1682.4 288.05L1683.4 288.03L1684.4 288.01L1685.4 287.99L1686.4 287.97L1687.4 287.95L1688.4 287.94L1689.4 287.93L1690.4 287.92L1691.4 287.91L1692.4 287.9L1693.4 287.9L1694.4 287.9L1695.4 287.9" stroke="#c9168a" stroke-width="3.5" fill="none" stroke-linejoin="round"/>
<path d="M1520.4 192.6L1521.4 201.3L1522.4 210.57L1523.4 220.12L1524.4 228.91L1525.4 236.08L1526.4 242.37L1527.4 248.11L1528.4 253.32L1529.4 258.04L1530.4 262.31L1531.4 266.13L1532.4 269.6L1533.4 272.8L1534.4 275.83L1535.4 278.8L1536.4 281.77L1537.4 284.67L1538.4 287.48L1539.4 290.21L1540.4 292.88L1541.4 295.47L1542.4 298L1543.4 300.47L1544.4 302.84L1545.4 305.12L1546.4 307.32L1547.4 309.5L1548.4 311.68L1549.4 313.86L1550.4 316L1551.4 318.11L1552.4 320.16L1553.4 322.15L1554.4 324.05L1555.4 325.85L1556.4 327.55L1557.4 329.12L1558.4 330.62L1559.4 332.09L1560.4 333.5L1561.4 334.87L1562.4 336.19L1563.4 337.48L1564.4 338.72L1565.4 339.93L1566.4 341.09L1567.4 342.22L1568.4 343.31L1569.4 344.37L1570.4 345.4L1571.4 346.4L1572.4 347.37L1573.4 348.33L1574.4 349.28L1575.4 350.21L1576.4 351.12L1577.4 352L1578.4 352.87L1579.4 353.72L1580.4 354.55L1581.4 355.35L1582.4 356.12L1583.4 356.87L1584.4 357.6L1585.4 358.29L1586.4 358.96L1587.4 359.59L1588.4 360.2L1589.4 360.77L1590.4 361.32L1591.4 361.86L1592.4 362.38L1593.4 362.88L1594.4 363.37L1595.4 363.84L1596.4 364.3L1597.4 364.75L1598.4 365.18L1599.4 365.6L1600.4 366L1601.4 366.4L1602.4 366.78L1603.4 367.15L1604.4 367.51L1605.4 367.86L1606.4 368.2L1607.4 368.53L1608.4 368.85L1609.4 369.16L1610.4 369.47L1611.4 369.76L1612.4 370.05L1613.4 370.33L1614.4 370.61L1615.4 370.87L1616.4 371.13L1617.4 371.39L1618.4 371.64L1619.4 371.88L1620.4 372.12L1621.4 372.35L1622.4 372.57L1623.4 372.8L1624.4 373.01L1625.4 373.23L1626.4 373.44L1627.4 373.65L1628.4 373.85L1629.4 374.06L1630.4 374.26L1631.4 374.45L1632.4 374.65L1633.4 374.83L1634.4 375.02L1635.4 375.19L1636.4 375.37L1637.4 375.53L1638.4 375.69L1639.4 375.85L1640.4 376L1641.4 376.14L1642.4 376.27L1643.4 376.4L1644.4 376.53L1645.4 376.65L1646.4 376.77L1647.4 376.89L1648.4 377L1649.4 377.11L1650.4 377.21L1651.4 377.32L1652.4 377.42L1653.4 377.51L1654.4 377.61L1655.4 377.7L1656.4 377.79L1657.4 377.87L1658.4 377.95L1659.4 378.03L1660.4 378.1L1661.4 378.17L1662.4 378.25L1663.4 378.32L1664.4 378.39L1665.4 378.47L1666.4 378.54L1667.4 378.62L1668.4 378.69L1669.4 378.76L1670.4 378.84L1671.4 378.91L1672.4 378.98L1673.4 379.05L1674.4 379.11L1675.4 379.18L1676.4 379.25L1677.4 379.31L1678.4 379.37L1679.4 379.43L1680.4 379.48L1681.4 379.54L1682.4 379.59L1683.4 379.63L1684.4 379.68L1685.4 379.72L1686.4 379.75L1687.4 379.79L1688.4 379.82L1689.4 379.84L1690.4 379.86L1691.4 379.88L1692.4 379.89L1693.4 379.9L1694.4 379.9L1695.4 379.9" stroke="#a9d8e8" stroke-width="3.5" fill="none" stroke-linejoin="round"/>
<path d="M1520.4 192.6L1521.4 201.3L1522.4 210.57L1523.4 220.12L1524.4 228.91L1525.4 236.08L1526.4 242.37L1527.4 248.11L1528.4 253.32L1529.4 258.04L1530.4 262.31L1531.4 266.12L1532.4 269.56L1533.4 272.73L1534.4 275.77L1535.4 278.78L1536.4 281.84L1537.4 284.85L1538.4 287.8L1539.4 290.7L1540.4 293.52L1541.4 296.28L1542.4 298.95L1543.4 301.54L1544.4 304.02L1545.4 306.41L1546.4 308.73L1547.4 311.02L1548.4 313.29L1549.4 315.53L1550.4 317.74L1551.4 319.92L1552.4 322.07L1553.4 324.19L1554.4 326.27L1555.4 328.31L1556.4 330.32L1557.4 332.28L1558.4 334.23L1559.4 336.16L1560.4 338.07L1561.4 339.97L1562.4 341.84L1563.4 343.68L1564.4 345.49L1565.4 347.28L1566.4 349.02L1567.4 350.73L1568.4 352.41L1569.4 354.03L1570.4 355.62L1571.4 357.15L1572.4 358.67L1573.4 360.18L1574.4 361.68L1575.4 363.17L1576.4 364.64L1577.4 366.09L1578.4 367.52L1579.4 368.92L1580.4 370.29L1581.4 371.62L1582.4 372.91L1583.4 374.16L1584.4 375.36L1585.4 376.5L1586.4 377.58L1587.4 378.61L1588.4 379.57L1589.4 380.46L1590.4 381.31L1591.4 382.14L1592.4 382.93L1593.4 383.7L1594.4 384.44L1595.4 385.16L1596.4 385.85L1597.4 386.52L1598.4 387.17L1599.4 387.8L1600.4 388.41L1601.4 389L1602.4 389.57L1603.4 390.13L1604.4 390.66L1605.4 391.19L1606.4 391.7L1607.4 392.2L1608.4 392.68L1609.4 393.16L1610.4 393.62L1611.4 394.07L1612.4 394.51L1613.4 394.94L1614.4 395.35L1615.4 395.76L1616.4 396.15L1617.4 396.54L1618.4 396.92L1619.4 397.28L1620.4 397.64L1621.4 397.98L1622.4 398.32L1623.4 398.65L1624.4 398.97L1625.4 399.29L1626.4 399.59L1627.4 399.9L1628.4 400.19L1629.4 400.48L1630.4 400.76L1631.4 401.04L1632.4 401.31L1633.4 401.58L1634.4 401.83L1635.4 402.08L1636.4 402.33L1637.4 402.57L1638.4 402.8L1639.4 403.03L1640.4 403.24L1641.4 403.46L1642.4 403.66L1643.4 403.86L1644.4 404.05L1645.4 404.24L1646.4 404.43L1647.4 404.61L1648.4 404.79L1649.4 404.97L1650.4 405.14L1651.4 405.3L1652.4 405.47L1653.4 405.62L1654.4 405.78L1655.4 405.93L1656.4 406.07L1657.4 406.21L1658.4 406.34L1659.4 406.47L1660.4 406.6L1661.4 406.72L1662.4 406.85L1663.4 406.98L1664.4 407.11L1665.4 407.24L1666.4 407.36L1667.4 407.49L1668.4 407.62L1669.4 407.75L1670.4 407.88L1671.4 408.01L1672.4 408.13L1673.4 408.26L1674.4 408.38L1675.4 408.5L1676.4 408.61L1677.4 408.73L1678.4 408.84L1679.4 408.94L1680.4 409.04L1681.4 409.14L1682.4 409.23L1683.4 409.31L1684.4 409.39L1685.4 409.47L1686.4 409.53L1687.4 409.59L1688.4 409.65L1689.4 409.69L1690.4 409.73L1691.4 409.76L1692.4 409.78L1693.4 409.8L1694.4 409.8L1695.4 409.8" stroke="#7b2182" stroke-width="3.5" fill="none" stroke-linejoin="round"/>
<path d="M1520.4 192.6L1521.4 201.3L1522.4 210.57L1523.4 220.12L1524.4 228.91L1525.4 236.08L1526.4 242.37L1527.4 248.11L1528.4 253.32L1529.4 258.04L1530.4 262.31L1531.4 266.1L1532.4 269.52L1533.4 272.67L1534.4 275.71L1535.4 278.76L1536.4 281.92L1537.4 285.09L1538.4 288.25L1539.4 291.36L1540.4 294.39L1541.4 297.29L1542.4 300.05L1543.4 302.63L1544.4 305.09L1545.4 307.45L1546.4 309.72L1547.4 311.93L1548.4 314.08L1549.4 316.21L1550.4 318.33L1551.4 320.45L1552.4 322.59L1553.4 324.78L1554.4 327L1555.4 329.24L1556.4 331.49L1557.4 333.74L1558.4 335.99L1559.4 338.25L1560.4 340.51L1561.4 342.76L1562.4 345L1563.4 347.23L1564.4 349.45L1565.4 351.66L1566.4 353.84L1567.4 356.01L1568.4 358.15L1569.4 360.27L1570.4 362.35L1571.4 364.4L1572.4 366.44L1573.4 368.48L1574.4 370.51L1575.4 372.54L1576.4 374.55L1577.4 376.55L1578.4 378.53L1579.4 380.5L1580.4 382.44L1581.4 384.36L1582.4 386.25L1583.4 388.11L1584.4 389.94L1585.4 391.73L1586.4 393.48L1587.4 395.19L1588.4 396.86L1589.4 398.48L1590.4 400.07L1591.4 401.63L1592.4 403.16L1593.4 404.66L1594.4 406.14L1595.4 407.6L1596.4 409.03L1597.4 410.44L1598.4 411.83L1599.4 413.2L1600.4 414.54L1601.4 415.87L1602.4 417.18L1603.4 418.48L1604.4 419.75L1605.4 421.01L1606.4 422.26L1607.4 423.49L1608.4 424.72L1609.4 425.94L1610.4 427.15L1611.4 428.35L1612.4 429.53L1613.4 430.71L1614.4 431.86L1615.4 433L1616.4 434.13L1617.4 435.23L1618.4 436.31L1619.4 437.37L1620.4 438.4L1621.4 439.4L1622.4 440.38L1623.4 441.33L1624.4 442.24L1625.4 443.13L1626.4 444L1627.4 444.86L1628.4 445.7L1629.4 446.53L1630.4 447.34L1631.4 448.14L1632.4 448.92L1633.4 449.68L1634.4 450.43L1635.4 451.15L1636.4 451.86L1637.4 452.55L1638.4 453.22L1639.4 453.87L1640.4 454.5L1641.4 455.1L1642.4 455.69L1643.4 456.25L1644.4 456.8L1645.4 457.33L1646.4 457.84L1647.4 458.34L1648.4 458.83L1649.4 459.31L1650.4 459.77L1651.4 460.22L1652.4 460.67L1653.4 461.1L1654.4 461.53L1655.4 461.96L1656.4 462.37L1657.4 462.78L1658.4 463.19L1659.4 463.6L1660.4 464L1661.4 464.4L1662.4 464.79L1663.4 465.17L1664.4 465.55L1665.4 465.92L1666.4 466.28L1667.4 466.64L1668.4 466.99L1669.4 467.34L1670.4 467.69L1671.4 468.03L1672.4 468.38L1673.4 468.72L1674.4 469.06L1675.4 469.4L1676.4 469.74L1677.4 470.09L1678.4 470.43L1679.4 470.79L1680.4 471.14L1681.4 471.5L1682.4 471.86L1683.4 472.22L1684.4 472.59L1685.4 472.95L1686.4 473.3L1687.4 473.65L1688.4 473.99L1689.4 474.33L1690.4 474.65L1691.4 474.97L1692.4 475.27L1693.4 475.56L1694.4 475.83L1695.4 476.07" stroke="#262a7c" stroke-width="3.5" fill="none" stroke-linejoin="round"/>
</g>
<line x1="1521" y1="192.6" x2="1694" y2="192.6" stroke="#231f20" stroke-width="2.4" stroke-dasharray="20.7 9.6" stroke-dashoffset="0.8"/>
<rect x="1520" y="138.9" width="175.4" height="358.6" fill="none" stroke="#231f20" stroke-width="2.5" />
<line x1="1516" y1="192.6" x2="1519" y2="192.6" stroke="#231f20" stroke-width="2.2" />
<line x1="1516" y1="313.2" x2="1519" y2="313.2" stroke="#231f20" stroke-width="2.2" />
<line x1="1516" y1="431.9" x2="1519" y2="431.9" stroke="#231f20" stroke-width="2.2" />
<path d="M1517.3 156.6h2M1517.3 276.2h2M1517.3 255.14h2M1517.3 240.19h2M1517.3 228.6h2M1517.3 219.13h2M1517.3 211.13h2M1517.3 204.19h2M1517.3 198.07h2M1517.3 396.8h2M1517.3 375.74h2M1517.3 360.79h2M1517.3 349.2h2M1517.3 339.73h2M1517.3 331.73h2M1517.3 324.79h2M1517.3 318.67h2M1517.3 494.44h2M1517.3 479.49h2M1517.3 467.9h2M1517.3 458.43h2M1517.3 450.43h2M1517.3 443.49h2M1517.3 437.37h2" stroke="#231f20" stroke-width="1.3" fill="none"/>
<line x1="1520" y1="497" x2="1520" y2="501.5" stroke="#231f20" stroke-width="2.4" />
<line x1="1607.3" y1="497" x2="1607.3" y2="501.5" stroke="#231f20" stroke-width="2.4" />
<line x1="1695.4" y1="497" x2="1695.4" y2="501.5" stroke="#231f20" stroke-width="2.4" />
<clipPath id="clipd2"><rect x="1781.6" y="143.3" width="190.4000000000001" height="357.2"/></clipPath>
<g clip-path="url(#clipd2)">
<path d="M1781.6 152.35L1782.2 145.84L1782.8 145.09L1783.4 150.56L1784 163.71L1784.6 169.21L1785.2 187.3L1785.8 208.74L1786.4 229.24L1787 236.89L1787.6 267.65L1788.2 270.5L1788.8 284.74L1789.4 290.53L1790 285.52L1790.6 292.64L1791.2 295.02L1791.8 295.84L1792.4 287.98L1793 293.7L1793.6 289.52L1794.2 307.38L1794.8 298.75L1795.4 297.08L1796 301.15L1796.6 312.61L1797.2 304.57L1797.8 313.33L1798.4 323.66L1799 312.57L1799.6 324.92L1800.2 317.15L1800.8 324.17L1801.4 323.32L1802 324.53L1802.6 326.47L1803.2 335.26L1803.8 321.19L1804.4 332.28L1805 331.92L1805.6 329.03L1806.2 329.04L1806.8 335.99L1807.4 336.32L1808 342.48L1808.6 333.11L1809.2 337.17L1809.8 336.97L1810.4 339.51L1811 344.61L1811.6 353.49L1812.2 347.15L1812.8 349.45L1813.4 352.94L1814 351.63L1814.6 351.9L1815.2 361.54L1815.8 360.6L1816.4 352.06L1817 353.94L1817.6 362.46L1818.2 357.61L1818.8 367.6L1819.4 358.42L1820 368.16L1820.6 365.91L1821.2 369.33L1821.8 370.14L1822.4 363.87L1823 369.97L1823.6 374.8L1824.2 370.56L1824.8 375.53L1825.4 371.31L1826 371.05L1826.6 379.4L1827.2 378.73L1827.8 379.48L1828.4 373.93L1829 380.34L1829.6 374.04L1830.2 381.75L1830.8 380.25L1831.4 381.72L1832 385.46L1832.6 375.16L1833.2 383.65L1833.8 384.18L1834.4 379.64L1835 386.03L1835.6 379.26L1836.2 380.56L1836.8 384.07L1837.4 381.21L1838 383.71L1838.6 388.07L1839.2 390.63L1839.8 388.61L1840.4 392.94L1841 391.34L1841.6 391.43L1842.2 385.29L1842.8 393.51L1843.4 385.05L1844 392.64L1844.6 389.25L1845.2 386.76L1845.8 387.67L1846.4 392.4L1847 395.48L1847.6 397.45L1848.2 388.82L1848.8 390.83L1849.4 390.3L1850 396.03L1850.6 390.94L1851.2 390.58L1851.8 399.72L1852.4 400.53L1853 401.34L1853.6 394.54L1854.2 399.62L1854.8 395.71L1855.4 398.36L1856 403.71L1856.6 396.29L1857.2 396.52L1857.8 403.3L1858.4 398.57L1859 400.61L1859.6 406.34L1860.2 407.45L1860.8 399.05L1861.4 407.36L1862 406.53L1862.6 408.08L1863.2 405.95L1863.8 401.63L1864.4 407.68L1865 409.31L1865.6 409.73L1866.2 401.5L1866.8 404.72L1867.4 407.06L1868 401.74L1868.6 401.13L1869.2 407.6L1869.8 400.81L1870.4 403.24L1871 406.9L1871.6 406.37L1872.2 408.26L1872.8 400.17L1873.4 402.99L1874 400.31L1874.6 405.85L1875.2 405.65L1875.8 400.38L1876.4 405.28L1877 402.97L1877.6 405.87L1878.2 405.78L1878.8 402.89L1879.4 407.1L1880 405.04L1880.6 403.09L1881.2 406.08L1881.8 400.1L1882.4 398.56L1883 400.04L1883.6 399.5L1884.2 406.03L1884.8 398.4L1885.4 398.78L1886 398.89L1886.6 404.77L1887.2 400.87L1887.8 401.09L1888.4 403L1889 405.84L1889.6 403.87L1890.2 408.48L1890.8 402.8L1891.4 406.95L1892 404.89L1892.6 409.34L1893.2 411.05L1893.8 408.29L1894.4 409.47L1895 411.8L1895.6 414.23L1896.2 408.96L1896.8 413.01L1897.4 414.9L1898 413.04L1898.6 412.62L1899.2 412.87L1899.8 416.94L1900.4 415.08L1901 415.13L1901.6 410.68L1902.2 415.29L1902.8 416.67L1903.4 412.41L1904 414.85L1904.6 408.35L1905.2 409.44L1905.8 411.67L1906.4 408.08L1907 406.56L1907.6 405.15L1908.2 411.49L1908.8 410.67L1909.4 405.42L1910 405.6L1910.6 408.11L1911.2 409.3L1911.8 410.13L1912.4 402.85L1913 407.56L1913.6 400.86L1914.2 402.28L1914.8 403.13L1915.4 404.92L1916 399.65L1916.6 401.01L1917.2 406.95L1917.8 407.11L1918.4 398.71L1919 401.99L1919.6 406.56L1920.2 405.07L1920.8 407.39L1921.4 402.87L1922 400.82L1922.6 398.55L1923.2 404.02L1923.8 404L1924.4 404.1L1925 398.36L1925.6 396.31L1926.2 401.18L1926.8 398.12L1927.4 402.02L1928 404.79L1928.6 404.56L1929.2 399.87L1929.8 397.42L1930.4 403.97L1931 399.14L1931.6 399.74L1932.2 399.32L1932.8 400.11L1933.4 401.47L1934 396.07L1934.6 399.13L1935.2 400.25L1935.8 404.27L1936.4 397.51L1937 394.76L1937.6 392.83L1938.2 394.38L1938.8 395.24L1939.4 400.09L1940 396.29L1940.6 398.51L1941.2 397.4L1941.8 396.45L1942.4 393.51L1943 388.86L1943.6 393.06L1944.2 390.42L1944.8 389.75L1945.4 388.95L1946 384.1L1946.6 384.45L1947.2 384.03L1947.8 389.56L1948.4 383.84L1949 385.32L1949.6 380.44L1950.2 384.85L1950.8 383.44L1951.4 383.95L1952 379.7L1952.6 381.14L1953.2 377.57L1953.8 376.78L1954.4 383.43L1955 372.06L1955.6 384.94L1956.2 378.07L1956.8 378.41L1957.4 383.89L1958 375.61L1958.6 382.61L1959.2 383.33L1959.8 384.38L1960.4 373.94L1961 383.9L1961.6 376.72L1962.2 387.08L1962.8 378.32L1963.4 381.84L1964 377.58L1964.6 380.87L1965.2 376.92L1965.8 378.79L1966.4 384L1967 386.02L1967.6 392.07L1968.2 390.02L1968.8 392.45L1969.4 387.35L1970 395.81L1970.6 392.02L1971.2 396.58L1971.8 392.77L1972.4 397.46L1972.4 484.26L1971.8 494.09L1971.2 484.63L1970.6 485.2L1970 488.66L1969.4 487.69L1968.8 492.47L1968.2 492.92L1967.6 492.58L1967 486.05L1966.4 487.52L1965.8 492.92L1965.2 489.73L1964.6 486.62L1964 486.97L1963.4 493.57L1962.8 488.55L1962.2 495.28L1961.6 494.71L1961 496.15L1960.4 488.97L1959.8 494.29L1959.2 491.75L1958.6 492.37L1958 494.78L1957.4 493L1956.8 494.02L1956.2 489.88L1955.6 495.23L1955 488.88L1954.4 488.24L1953.8 492.85L1953.2 490.6L1952.6 496.88L1952 486.36L1951.4 490.26L1950.8 494.78L1950.2 486.86L1949.6 491.94L1949 488.21L1948.4 496.53L1947.8 489.63L1947.2 493.59L1946.6 495.51L1946 495.75L1945.4 494.12L1944.8 491.59L1944.2 494.42L1943.6 495.6L1943 495.7L1942.4 495.6L1941.8 497.12L1941.2 492.21L1940.6 487.38L1940 493.41L1939.4 489.29L1938.8 498.63L1938.2 491.98L1937.6 492.55L1937 493.09L1936.4 497.29L1935.8 490.35L1935.2 489.48L1934.6 494.52L1934 494.89L1933.4 491.61L1932.8 492.15L1932.2 486.99L1931.6 491.03L1931 490.48L1930.4 492.61L1929.8 497.98L1929.2 497.85L1928.6 495.33L1928 495.99L1927.4 489.97L1926.8 493.21L1926.2 496.44L1925.6 492.86L1925 495.84L1924.4 494.37L1923.8 493.22L1923.2 492.69L1922.6 488.82L1922 493.35L1921.4 486.64L1920.8 488.53L1920.2 494.9L1919.6 489.68L1919 490.93L1918.4 487.6L1917.8 496.59L1917.2 489.89L1916.6 491.08L1916 490.47L1915.4 496.64L1914.8 494.04L1914.2 495.63L1913.6 487.56L1913 496.57L1912.4 493.53L1911.8 497.78L1911.2 495.12L1910.6 492.88L1910 495.4L1909.4 488.01L1908.8 494.14L1908.2 490.7L1907.6 494.58L1907 498.51L1906.4 495.27L1905.8 496.71L1905.2 498.61L1904.6 492.68L1904 498.08L1903.4 499.57L1902.8 490.57L1902.2 497.35L1901.6 500.67L1901 496.63L1900.4 492.79L1899.8 495.88L1899.2 498.58L1898.6 495.23L1898 495.65L1897.4 489.71L1896.8 496.33L1896.2 493.58L1895.6 491.69L1895 490.01L1894.4 488.85L1893.8 492.6L1893.2 487.82L1892.6 491.11L1892 492.13L1891.4 492.84L1890.8 495.59L1890.2 486.79L1889.6 493.39L1889 487.26L1888.4 487.2L1887.8 493.39L1887.2 494.93L1886.6 494.59L1886 484.33L1885.4 485.29L1884.8 486.73L1884.2 488.95L1883.6 486.62L1883 494.25L1882.4 484.99L1881.8 483.91L1881.2 488.78L1880.6 492.93L1880 492.15L1879.4 490.37L1878.8 483.94L1878.2 483.98L1877.6 483.4L1877 490.01L1876.4 489.43L1875.8 486.7L1875.2 492.94L1874.6 487.02L1874 487.76L1873.4 490.67L1872.8 488.46L1872.2 486.57L1871.6 486.19L1871 489.59L1870.4 490.98L1869.8 489.65L1869.2 490.52L1868.6 484.75L1868 494.59L1867.4 484.24L1866.8 488.69L1866.2 486.94L1865.6 483.7L1865 491.06L1864.4 489.08L1863.8 487.01L1863.2 494.76L1862.6 494.1L1862 492.21L1861.4 485.64L1860.8 488.56L1860.2 486.51L1859.6 493.89L1859 484.82L1858.4 483.91L1857.8 492.77L1857.2 488.83L1856.6 489.88L1856 486.31L1855.4 485.65L1854.8 487.24L1854.2 489.79L1853.6 492.06L1853 492.32L1852.4 482.69L1851.8 488.38L1851.2 492.05L1850.6 488.64L1850 484.9L1849.4 485.61L1848.8 488.09L1848.2 483.5L1847.6 482.83L1847 489.02L1846.4 491.82L1845.8 488.24L1845.2 484.15L1844.6 489.62L1844 482.31L1843.4 488.66L1842.8 483.29L1842.2 479.58L1841.6 489.16L1841 484.74L1840.4 486.47L1839.8 480.91L1839.2 486.23L1838.6 482.24L1838 483.68L1837.4 488.58L1836.8 479L1836.2 487.62L1835.6 476.65L1835 475.9L1834.4 480.15L1833.8 485.71L1833.2 484.38L1832.6 484.16L1832 477.15L1831.4 480.54L1830.8 479.5L1830.2 479.92L1829.6 478L1829 482.83L1828.4 477.49L1827.8 478.91L1827.2 478.66L1826.6 470.23L1826 478.96L1825.4 471.47L1824.8 478.77L1824.2 470.04L1823.6 471.72L1823 472.12L1822.4 471.3L1821.8 468.63L1821.2 470.94L1820.6 465.11L1820 470.87L1819.4 465.98L1818.8 462.7L1818.2 462.89L1817.6 470.97L1817 470.08L1816.4 469.28L1815.8 466.24L1815.2 461.59L1814.6 463.6L1814 464.9L1813.4 460.96L1812.8 461.69L1812.2 457.58L1811.6 464.38L1811 458.45L1810.4 458.66L1809.8 460.34L1809.2 460.4L1808.6 450.23L1808 455.57L1807.4 453.7L1806.8 458.48L1806.2 449.39L1805.6 452.05L1805 456.26L1804.4 446.12L1803.8 450.02L1803.2 450.34L1802.6 441.69L1802 444.91L1801.4 448.37L1800.8 443.55L1800.2 445.3L1799.6 442.93L1799 440.45L1798.4 437.55L1797.8 440.57L1797.2 442.57L1796.6 438.39L1796 437.55L1795.4 432.92L1794.8 434.44L1794.2 428.33L1793.6 432.57L1793 423.08L1792.4 425.53L1791.8 417.63L1791.2 420.85L1790.6 416.45L1790 417.69L1789.4 412.77L1788.8 413.28L1788.2 411.02L1787.6 409.88L1787 398.68L1786.4 403.78L1785.8 395.86L1785.2 367.09L1784.6 351.48L1784 326.31L1783.4 314.46L1782.8 290.04L1782.2 267.28L1781.6 256.96z" fill="#c9168a" fill-opacity="0.3"/>
<path d="M1781.6 177.58L1782.2 180.18L1782.8 178.78L1783.4 179.58L1784 180.12L1784.6 180.54L1785.2 181.23L1785.8 181.68L1786.4 185.99L1787 191.82L1787.6 197.41L1788.2 211.68L1788.8 229.08L1789.4 246.01L1790 265.03L1790.6 284.57L1791.2 298.86L1791.8 310.66L1792.4 322.35L1793 334.75L1793.6 346.78L1794.2 359.6L1794.8 367.91L1795.4 376.34L1796 384.92L1796.6 392.91L1797.2 400.93L1797.8 409.22L1798.4 412.36L1799 416.22L1799.6 419.24L1800.2 423.36L1800.8 425.83L1801.4 428.75L1802 432.01L1802.6 435.19L1803.2 439.2L1803.8 440.59L1804.4 442.44L1805 443.42L1805.6 444.53L1806.2 445.51L1806.8 446.67L1807.4 448.22L1808 449.65L1808.6 451.61L1809.2 453.08L1809.8 453.17L1810.4 455.46L1811 455.53L1811.6 456.54L1812.2 456.72L1812.8 457.26L1813.4 457.74L1814 458.14L1814.6 457.31L1815.2 458.67L1815.8 458.75L1816.4 458.21L1817 460.06L1817.6 459.56L1818.2 460.71L1818.8 461.22L1819.4 460.48L1820 460.65L1820.6 461.09L1821.2 462.07L1821.8 462.16L1822.4 463.39L1823 462.59L1823.6 463.41L1824.2 463.89L1824.8 463.55L1825.4 464.19L1826 465.2L1826.6 465.12L1827.2 465.39L1827.8 465.41L1828.4 464.9L1829 464.37L1829.6 465.53L1830.2 465.61L1830.8 465.16L1831.4 465.14L1832 465.68L1832.6 466.41L1833.2 465.91L1833.8 465.55L1834.4 466.59L1835 466.5L1835.6 466.17L1836.2 466.59L1836.8 466.84L1837.4 465.82L1838 466.72L1838.6 466.6L1839.2 466.95L1839.8 467.41L1840.4 466.58L1841 467.11L1841.6 467.08L1842.2 466.62L1842.8 468.12L1843.4 468L1844 466.9L1844.6 468.13L1845.2 467.54L1845.8 467.85L1846.4 468.05L1847 467.61L1847.6 468.05L1848.2 467.88L1848.8 467.58L1849.4 467.04L1850 467.99L1850.6 468.05L1851.2 467.22L1851.8 467.14L1852.4 467.19L1853 467.1L1853.6 467.64L1854.2 466.99L1854.8 467.4L1855.4 466.76L1856 466.79L1856.6 467.74L1857.2 467.46L1857.8 467.55L1858.4 466.82L1859 466.97L1859.6 467.66L1860.2 467.97L1860.8 468.09L1861.4 466.85L1862 467.22L1862.6 467.75L1863.2 467.19L1863.8 467.54L1864.4 468.02L1865 466.78L1865.6 468.05L1866.2 467.13L1866.8 466.86L1867.4 467.15L1868 466.71L1868.6 467.34L1869.2 467.54L1869.8 467.31L1870.4 467.93L1871 467.48L1871.6 467.14L1872.2 467.14L1872.8 466.76L1873.4 467.09L1874 467.06L1874.6 467.86L1875.2 467.6L1875.8 466.74L1876.4 468.18L1877 467.14L1877.6 467.23L1878.2 468.17L1878.8 467.11L1879.4 466.85L1880 468.05L1880.6 467.06L1881.2 467.09L1881.8 467.91L1882.4 467.99L1883 467.55L1883.6 467.36L1884.2 467.89L1884.8 468.09L1885.4 467.48L1886 467.22L1886.6 467.48L1887.2 467.7L1887.8 467.45L1888.4 468.08L1889 467.94L1889.6 467.03L1890.2 467.19L1890.8 466.91L1891.4 467.96L1892 467.51L1892.6 468.18L1893.2 466.76L1893.8 467.4L1894.4 467.54L1895 467.74L1895.6 467.48L1896.2 466.84L1896.8 466.97L1897.4 467.24L1898 467.23L1898.6 466.95L1899.2 467.26L1899.8 467.41L1900.4 467.01L1901 467.74L1901.6 467.52L1902.2 467.79L1902.8 468.03L1903.4 467.63L1904 467.73L1904.6 467.52L1905.2 467.54L1905.8 466.87L1906.4 467.54L1907 466.82L1907.6 468.05L1908.2 467.92L1908.8 467.64L1909.4 467.02L1910 467L1910.6 467.6L1911.2 467.69L1911.8 466.82L1912.4 467.17L1913 467.09L1913.6 466.91L1914.2 467.08L1914.8 467.77L1915.4 467.2L1916 467.61L1916.6 466.77L1917.2 467.49L1917.8 467.92L1918.4 468.01L1919 467.68L1919.6 466.83L1920.2 467.07L1920.8 467.39L1921.4 466.96L1922 467.78L1922.6 467.98L1923.2 466.82L1923.8 467.99L1924.4 467.83L1925 467.83L1925.6 467.83L1926.2 467.29L1926.8 467.64L1927.4 468.11L1928 466.93L1928.6 467.04L1929.2 467.42L1929.8 467.7L1930.4 467.29L1931 466.71L1931.6 467.49L1932.2 467.73L1932.8 467.31L1933.4 467.4L1934 466.73L1934.6 467.52L1935.2 467.42L1935.8 468.04L1936.4 468.01L1937 467.19L1937.6 468.08L1938.2 467.01L1938.8 468.04L1939.4 467.94L1940 467.2L1940.6 466.75L1941.2 468.13L1941.8 467.84L1942.4 467.37L1943 467.45L1943.6 467.9L1944.2 466.98L1944.8 467.18L1945.4 467.99L1946 468L1946.6 468.04L1947.2 468.12L1947.8 467.64L1948.4 466.92L1949 467.13L1949.6 466.83L1950.2 468.04L1950.8 467.27L1951.4 467.64L1952 467.56L1952.6 467.61L1953.2 466.99L1953.8 467.5L1954.4 467.06L1955 467.86L1955.6 467.16L1956.2 468.15L1956.8 467.9L1957.4 467.34L1958 467.27L1958.6 467.15L1959.2 468.13L1959.8 466.97L1960.4 467.31L1961 467.91L1961.6 467.25L1962.2 467.92L1962.8 466.74L1963.4 467.51L1964 467.89L1964.6 467.16L1965.2 466.86L1965.8 467.59L1966.4 467.13L1967 467.22L1967.6 467.15L1968.2 466.84L1968.8 467.7L1969.4 467.62L1970 466.82L1970.6 467.05L1971.2 467.03L1971.8 467.52L1972.4 467.5L1972.4 506.45L1971.8 506.45L1971.2 506.45L1970.6 506.45L1970 506.45L1969.4 506.45L1968.8 506.45L1968.2 506.45L1967.6 506.45L1967 506.45L1966.4 506.45L1965.8 506.45L1965.2 506.45L1964.6 506.45L1964 506.45L1963.4 506.45L1962.8 506.45L1962.2 506.45L1961.6 506.45L1961 506.45L1960.4 506.45L1959.8 506.45L1959.2 506.45L1958.6 506.45L1958 506.45L1957.4 506.45L1956.8 506.45L1956.2 506.45L1955.6 506.45L1955 506.45L1954.4 506.45L1953.8 506.45L1953.2 506.45L1952.6 506.45L1952 506.45L1951.4 506.45L1950.8 506.45L1950.2 506.45L1949.6 506.45L1949 506.45L1948.4 506.45L1947.8 506.45L1947.2 506.45L1946.6 506.45L1946 506.45L1945.4 506.45L1944.8 506.45L1944.2 506.45L1943.6 506.45L1943 506.45L1942.4 506.45L1941.8 506.45L1941.2 506.45L1940.6 506.45L1940 506.45L1939.4 506.45L1938.8 506.45L1938.2 506.45L1937.6 506.45L1937 506.45L1936.4 506.45L1935.8 506.45L1935.2 506.45L1934.6 506.45L1934 506.45L1933.4 506.45L1932.8 506.45L1932.2 506.45L1931.6 506.45L1931 506.45L1930.4 506.45L1929.8 506.45L1929.2 506.45L1928.6 506.45L1928 506.45L1927.4 506.45L1926.8 506.45L1926.2 506.45L1925.6 506.45L1925 506.45L1924.4 506.45L1923.8 506.45L1923.2 506.45L1922.6 506.45L1922 506.45L1921.4 506.45L1920.8 506.45L1920.2 506.45L1919.6 506.45L1919 506.45L1918.4 506.45L1917.8 506.45L1917.2 506.45L1916.6 506.45L1916 506.45L1915.4 506.45L1914.8 506.45L1914.2 506.45L1913.6 506.45L1913 506.45L1912.4 506.45L1911.8 506.45L1911.2 506.45L1910.6 506.45L1910 506.45L1909.4 506.45L1908.8 506.45L1908.2 506.45L1907.6 506.45L1907 506.45L1906.4 506.45L1905.8 506.45L1905.2 506.45L1904.6 506.45L1904 506.45L1903.4 506.45L1902.8 506.45L1902.2 506.45L1901.6 506.45L1901 506.45L1900.4 506.45L1899.8 506.45L1899.2 506.45L1898.6 506.45L1898 506.45L1897.4 506.45L1896.8 506.45L1896.2 506.45L1895.6 506.45L1895 506.45L1894.4 506.45L1893.8 506.45L1893.2 506.45L1892.6 506.45L1892 506.45L1891.4 506.45L1890.8 506.45L1890.2 506.45L1889.6 506.45L1889 506.45L1888.4 506.45L1887.8 506.45L1887.2 506.45L1886.6 506.45L1886 506.45L1885.4 506.45L1884.8 506.45L1884.2 506.45L1883.6 506.45L1883 506.45L1882.4 506.45L1881.8 506.45L1881.2 506.45L1880.6 506.45L1880 506.45L1879.4 506.45L1878.8 506.45L1878.2 506.45L1877.6 506.45L1877 506.45L1876.4 506.45L1875.8 506.45L1875.2 506.45L1874.6 506.45L1874 506.45L1873.4 506.45L1872.8 506.45L1872.2 506.45L1871.6 506.45L1871 506.45L1870.4 506.45L1869.8 506.45L1869.2 506.45L1868.6 506.45L1868 506.45L1867.4 506.45L1866.8 506.45L1866.2 506.45L1865.6 506.45L1865 506.45L1864.4 506.45L1863.8 506.45L1863.2 506.45L1862.6 506.45L1862 506.45L1861.4 506.45L1860.8 506.45L1860.2 506.45L1859.6 506.45L1859 506.45L1858.4 506.45L1857.8 506.45L1857.2 506.45L1856.6 506.45L1856 506.45L1855.4 506.45L1854.8 506.45L1854.2 506.45L1853.6 506.45L1853 506.45L1852.4 506.45L1851.8 506.45L1851.2 506.45L1850.6 506.45L1850 506.45L1849.4 506.45L1848.8 506.45L1848.2 506.45L1847.6 506.45L1847 506.45L1846.4 506.45L1845.8 506.45L1845.2 506.45L1844.6 506.45L1844 506.45L1843.4 506.45L1842.8 506.45L1842.2 506.45L1841.6 506.45L1841 506.45L1840.4 506.45L1839.8 506.45L1839.2 506.45L1838.6 506.45L1838 506.45L1837.4 506.45L1836.8 506.45L1836.2 506.45L1835.6 506.45L1835 506.45L1834.4 506.45L1833.8 506.45L1833.2 506.45L1832.6 506.45L1832 506.45L1831.4 506.45L1830.8 506.45L1830.2 506.45L1829.6 506.45L1829 506.45L1828.4 506.45L1827.8 506.45L1827.2 506.45L1826.6 506.45L1826 506.45L1825.4 506.45L1824.8 506.45L1824.2 506.45L1823.6 506.45L1823 506.45L1822.4 506.45L1821.8 506.45L1821.2 506.45L1820.6 506.45L1820 506.45L1819.4 506.45L1818.8 506.45L1818.2 506.45L1817.6 506.45L1817 506.45L1816.4 506.45L1815.8 506.45L1815.2 506.45L1814.6 506.45L1814 506.45L1813.4 506.45L1812.8 506.45L1812.2 506.45L1811.6 506.45L1811 506.45L1810.4 506.45L1809.8 506.45L1809.2 506.45L1808.6 506.45L1808 506.45L1807.4 506.45L1806.8 506.45L1806.2 506.45L1805.6 506.45L1805 506.45L1804.4 506.45L1803.8 506.45L1803.2 506.45L1802.6 506.45L1802 506.45L1801.4 506.45L1800.8 506.45L1800.2 506.45L1799.6 506.45L1799 506.45L1798.4 502.22L1797.8 501.56L1797.2 498.07L1796.6 495.45L1796 489.93L1795.4 487.07L1794.8 475.86L1794.2 472.83L1793.6 463.78L1793 456.56L1792.4 448L1791.8 435.1L1791.2 428.05L1790.6 411.01L1790 398.43L1789.4 389.72L1788.8 379.78L1788.2 361.94L1787.6 340.72L1787 323.92L1786.4 308.6L1785.8 294.31L1785.2 275.85L1784.6 269.98L1784 268.19L1783.4 261.94L1782.8 263.74L1782.2 259.87L1781.6 265.01z" fill="#a9d8e8" fill-opacity="0.32"/>
<path d="M1781.6 192.08L1782.2 191.69L1782.8 191.06L1783.4 192.23L1784 191.61L1784.6 189.97L1785.2 190.19L1785.8 190.45L1786.4 190.31L1787 190.4L1787.6 189.94L1788.2 189.61L1788.8 190.41L1789.4 189.09L1790 189.25L1790.6 189.11L1791.2 189.62L1791.8 189.52L1792.4 188.61L1793 190.16L1793.6 188.43L1794.2 189.14L1794.8 189.39L1795.4 189.71L1796 189.23L1796.6 189.02L1797.2 188.66L1797.8 189.05L1798.4 188.65L1799 188.56L1799.6 188.96L1800.2 188.71L1800.8 189.85L1801.4 189.08L1802 191.09L1802.6 190.84L1803.2 191.49L1803.8 190.7L1804.4 191.66L1805 191.86L1805.6 193.65L1806.2 196.92L1806.8 199.81L1807.4 201.68L1808 205L1808.6 206.62L1809.2 211.2L1809.8 214.2L1810.4 216.56L1811 219.51L1811.6 220.86L1812.2 222.78L1812.8 223.72L1813.4 226.51L1814 228.65L1814.6 230.09L1815.2 233.96L1815.8 237.21L1816.4 241.01L1817 242.71L1817.6 245.7L1818.2 248.82L1818.8 251.29L1819.4 255.57L1820 256.44L1820.6 260.23L1821.2 261.96L1821.8 266.43L1822.4 270.15L1823 274.14L1823.6 276.03L1824.2 280.54L1824.8 285.45L1825.4 287.45L1826 294.52L1826.6 296.27L1827.2 302.37L1827.8 303.88L1828.4 307.8L1829 314.3L1829.6 314.67L1830.2 322.24L1830.8 323.96L1831.4 325.73L1832 333.01L1832.6 330.96L1833.2 333.13L1833.8 340.27L1834.4 337.55L1835 343.19L1835.6 344.86L1836.2 343.02L1836.8 352.81L1837.4 347.65L1838 353.7L1838.6 351.52L1839.2 354.96L1839.8 356.82L1840.4 361.5L1841 363.28L1841.6 360.88L1842.2 359.75L1842.8 359.86L1843.4 361.43L1844 363.82L1844.6 375.19L1845.2 375.68L1845.8 372.7L1846.4 376.77L1847 375.5L1847.6 380.05L1848.2 378.51L1848.8 380.62L1849.4 379.51L1850 384.1L1850.6 377.08L1851.2 378.91L1851.8 381.74L1852.4 388.57L1853 387.09L1853.6 386.28L1854.2 383.4L1854.8 391.72L1855.4 391.8L1856 383.74L1856.6 393.8L1857.2 391.94L1857.8 391.97L1858.4 389.92L1859 394.44L1859.6 395.55L1860.2 389.77L1860.8 396.8L1861.4 394.15L1862 390.28L1862.6 390.49L1863.2 394.74L1863.8 394.47L1864.4 395.66L1865 395.64L1865.6 395.26L1866.2 400.5L1866.8 397.21L1867.4 392.29L1868 392.88L1868.6 399.65L1869.2 401.25L1869.8 395.78L1870.4 394.58L1871 395.34L1871.6 402.06L1872.2 403.23L1872.8 395.37L1873.4 402.63L1874 394.56L1874.6 403.64L1875.2 402.77L1875.8 397.17L1876.4 394.41L1877 396.16L1877.6 396.64L1878.2 397.33L1878.8 397.13L1879.4 404.45L1880 399.36L1880.6 402.86L1881.2 402.93L1881.8 397.83L1882.4 402.21L1883 402.76L1883.6 405.9L1884.2 396.99L1884.8 399.7L1885.4 400.65L1886 401.19L1886.6 403.53L1887.2 399.58L1887.8 408.3L1888.4 400.11L1889 405.4L1889.6 408.44L1890.2 408.66L1890.8 407.82L1891.4 404.26L1892 408.74L1892.6 407.88L1893.2 406.45L1893.8 410.64L1894.4 408.27L1895 411.84L1895.6 410.64L1896.2 412.86L1896.8 409.72L1897.4 410.2L1898 406.88L1898.6 410.78L1899.2 407.23L1899.8 408.8L1900.4 411.69L1901 414.23L1901.6 409.76L1902.2 408.02L1902.8 415.07L1903.4 415.21L1904 408.34L1904.6 414.75L1905.2 414.26L1905.8 410.05L1906.4 416.8L1907 414.84L1907.6 411.96L1908.2 418.05L1908.8 413.7L1909.4 416.18L1910 408.53L1910.6 412.94L1911.2 415.86L1911.8 417.68L1912.4 409.5L1913 409.28L1913.6 411.16L1914.2 416.25L1914.8 412.64L1915.4 416.8L1916 409.67L1916.6 414.22L1917.2 414.79L1917.8 412.58L1918.4 414.29L1919 413.59L1919.6 418.58L1920.2 413.75L1920.8 411L1921.4 417.39L1922 414.75L1922.6 414.36L1923.2 417.98L1923.8 420.65L1924.4 413.63L1925 413.92L1925.6 418.99L1926.2 412.79L1926.8 416.76L1927.4 414.13L1928 418.81L1928.6 416.77L1929.2 418.86L1929.8 421.5L1930.4 421.76L1931 414.81L1931.6 421.13L1932.2 418.85L1932.8 414.82L1933.4 417.28L1934 419.43L1934.6 418.21L1935.2 421.74L1935.8 415.75L1936.4 415.57L1937 414.1L1937.6 418.28L1938.2 417.49L1938.8 416.99L1939.4 415.23L1940 417.98L1940.6 424.27L1941.2 417.44L1941.8 418.94L1942.4 422.43L1943 424.1L1943.6 417.81L1944.2 418.69L1944.8 415.35L1945.4 416.43L1946 424.21L1946.6 422.36L1947.2 419.23L1947.8 421.52L1948.4 417.7L1949 416.04L1949.6 415.29L1950.2 417.2L1950.8 416.47L1951.4 415.86L1952 416.91L1952.6 423.62L1953.2 423.91L1953.8 423.01L1954.4 417.36L1955 420.21L1955.6 421.4L1956.2 416.64L1956.8 422.61L1957.4 416.96L1958 420.55L1958.6 418.17L1959.2 424.32L1959.8 416.15L1960.4 419.48L1961 422.05L1961.6 419.99L1962.2 423.87L1962.8 422.37L1963.4 423.46L1964 419.38L1964.6 416.68L1965.2 419.77L1965.8 423.65L1966.4 421.61L1967 418.91L1967.6 417.36L1968.2 422.55L1968.8 416.26L1969.4 415.63L1970 414.12L1970.6 421.24L1971.2 415.35L1971.8 420.25L1972.4 416.73L1972.4 506.45L1971.8 506.45L1971.2 506.45L1970.6 506.45L1970 506.45L1969.4 506.45L1968.8 506.45L1968.2 506.45L1967.6 506.45L1967 506.45L1966.4 506.45L1965.8 506.45L1965.2 506.45L1964.6 506.45L1964 506.45L1963.4 506.45L1962.8 506.45L1962.2 506.45L1961.6 506.45L1961 506.45L1960.4 506.45L1959.8 506.45L1959.2 506.45L1958.6 506.45L1958 506.45L1957.4 506.45L1956.8 506.45L1956.2 506.45L1955.6 506.45L1955 506.45L1954.4 506.45L1953.8 506.45L1953.2 506.45L1952.6 506.45L1952 506.45L1951.4 506.45L1950.8 506.45L1950.2 506.45L1949.6 506.45L1949 506.45L1948.4 506.45L1947.8 506.45L1947.2 506.45L1946.6 506.45L1946 506.45L1945.4 506.45L1944.8 506.45L1944.2 506.45L1943.6 506.45L1943 506.45L1942.4 506.45L1941.8 506.45L1941.2 506.45L1940.6 506.45L1940 506.45L1939.4 506.45L1938.8 506.45L1938.2 506.45L1937.6 506.45L1937 506.45L1936.4 506.45L1935.8 506.45L1935.2 506.45L1934.6 506.45L1934 506.45L1933.4 506.45L1932.8 506.45L1932.2 506.45L1931.6 506.45L1931 506.45L1930.4 506.45L1929.8 506.45L1929.2 506.45L1928.6 506.45L1928 506.45L1927.4 506.45L1926.8 506.45L1926.2 506.45L1925.6 506.45L1925 506.45L1924.4 506.45L1923.8 506.45L1923.2 506.45L1922.6 506.45L1922 506.45L1921.4 506.45L1920.8 506.45L1920.2 506.45L1919.6 506.45L1919 506.45L1918.4 506.45L1917.8 506.45L1917.2 506.45L1916.6 506.45L1916 506.45L1915.4 506.45L1914.8 506.45L1914.2 506.45L1913.6 506.45L1913 506.45L1912.4 506.45L1911.8 506.45L1911.2 506.45L1910.6 506.45L1910 506.45L1909.4 506.45L1908.8 506.45L1908.2 506.45L1907.6 506.45L1907 506.45L1906.4 506.45L1905.8 506.45L1905.2 506.45L1904.6 506.45L1904 506.45L1903.4 506.45L1902.8 506.45L1902.2 506.45L1901.6 506.45L1901 506.45L1900.4 506.45L1899.8 506.45L1899.2 506.45L1898.6 506.45L1898 506.45L1897.4 506.45L1896.8 506.45L1896.2 506.45L1895.6 506.45L1895 506.45L1894.4 506.45L1893.8 504.45L1893.2 506.45L1892.6 506.45L1892 506.45L1891.4 506.45L1890.8 505.71L1890.2 506.45L1889.6 505.62L1889 506.45L1888.4 506.45L1887.8 506.45L1887.2 503.12L1886.6 506.45L1886 505.69L1885.4 506.45L1884.8 501.78L1884.2 503.67L1883.6 504.09L1883 503L1882.4 502.44L1881.8 502.06L1881.2 503.68L1880.6 499.42L1880 504.85L1879.4 499.99L1878.8 505.08L1878.2 497.33L1877.6 500.58L1877 495.97L1876.4 500.46L1875.8 502.4L1875.2 502.1L1874.6 501.72L1874 495.44L1873.4 494.37L1872.8 493.52L1872.2 494.04L1871.6 497.86L1871 497.5L1870.4 498.27L1869.8 500.09L1869.2 499.27L1868.6 496.01L1868 498.77L1867.4 494.9L1866.8 499.27L1866.2 495.06L1865.6 497.32L1865 493.15L1864.4 497.01L1863.8 496.94L1863.2 493.84L1862.6 495.92L1862 493.61L1861.4 495.46L1860.8 491.51L1860.2 493.16L1859.6 494.57L1859 492.4L1858.4 492.53L1857.8 494.9L1857.2 491.53L1856.6 492.8L1856 495.55L1855.4 488.13L1854.8 488.25L1854.2 486.73L1853.6 490.54L1853 490.62L1852.4 487.94L1851.8 492.82L1851.2 484.78L1850.6 491.51L1850 490.98L1849.4 490.81L1848.8 484.87L1848.2 489.7L1847.6 490.01L1847 484.82L1846.4 489.36L1845.8 484.86L1845.2 482.05L1844.6 485.23L1844 482.92L1843.4 484.98L1842.8 482.36L1842.2 475.77L1841.6 477.13L1841 474.37L1840.4 476.01L1839.8 476.56L1839.2 477.81L1838.6 470.97L1838 475.65L1837.4 474.37L1836.8 472.43L1836.2 463.86L1835.6 463.06L1835 460.28L1834.4 456.33L1833.8 453.66L1833.2 451.23L1832.6 450.52L1832 445.1L1831.4 446.13L1830.8 438.86L1830.2 435.59L1829.6 434.93L1829 432.61L1828.4 425.69L1827.8 423.42L1827.2 418.87L1826.6 413.62L1826 411.6L1825.4 406.6L1824.8 402.61L1824.2 401.36L1823.6 393.83L1823 391.67L1822.4 388.78L1821.8 382.62L1821.2 377.37L1820.6 372.67L1820 369.49L1819.4 360.48L1818.8 357.86L1818.2 350.57L1817.6 345.07L1817 337.75L1816.4 333.73L1815.8 327.68L1815.2 320.02L1814.6 316.53L1814 311.16L1813.4 307.69L1812.8 302.34L1812.2 297.97L1811.6 293.18L1811 289.19L1810.4 285.2L1809.8 283.35L1809.2 279.51L1808.6 273.82L1808 271L1807.4 266.9L1806.8 264.06L1806.2 263.82L1805.6 260.79L1805 255.88L1804.4 252.05L1803.8 250.32L1803.2 250.74L1802.6 247.16L1802 247.36L1801.4 246.19L1800.8 241.39L1800.2 239.34L1799.6 234.69L1799 232.36L1798.4 231.06L1797.8 226.19L1797.2 226.18L1796.6 223.51L1796 220.96L1795.4 217.87L1794.8 216.86L1794.2 216.19L1793.6 216.22L1793 215.67L1792.4 215.42L1791.8 218.02L1791.2 217.73L1790.6 218.19L1790 218.17L1789.4 217.07L1788.8 215.86L1788.2 217.64L1787.6 216.17L1787 218.3L1786.4 218.78L1785.8 216.64L1785.2 217.61L1784.6 217.6L1784 216.89L1783.4 218.69L1782.8 216.39L1782.2 217.99L1781.6 217.82z" fill="#7b2182" fill-opacity="0.33"/>
<path d="M1781.6 197.32L1782.2 197.03L1782.8 197.62L1783.4 196.1L1784 196.37L1784.6 196.78L1785.2 197.43L1785.8 197.56L1786.4 196.66L1787 196.92L1787.6 198L1788.2 197.45L1788.8 197.39L1789.4 198.08L1790 198.39L1790.6 198.06L1791.2 196.85L1791.8 197.15L1792.4 196.12L1793 195.75L1793.6 196L1794.2 195.42L1794.8 195.79L1795.4 194.21L1796 195.16L1796.6 194.33L1797.2 193.99L1797.8 193.05L1798.4 194.09L1799 193.7L1799.6 194.2L1800.2 194.26L1800.8 193.22L1801.4 194.72L1802 193.46L1802.6 194.41L1803.2 194.51L1803.8 194.75L1804.4 193.44L1805 194.06L1805.6 195.67L1806.2 194.3L1806.8 195.74L1807.4 196.02L1808 196.46L1808.6 195.91L1809.2 195.73L1809.8 195.54L1810.4 195.77L1811 194.17L1811.6 194.76L1812.2 193.24L1812.8 194.43L1813.4 194.7L1814 193.59L1814.6 194.73L1815.2 194.36L1815.8 194.58L1816.4 193.42L1817 193.04L1817.6 194.37L1818.2 194.74L1818.8 194.36L1819.4 193.32L1820 194.75L1820.6 194.61L1821.2 194.87L1821.8 195.27L1822.4 194.11L1823 194.24L1823.6 194.64L1824.2 195.09L1824.8 195.88L1825.4 196.64L1826 195.66L1826.6 196.93L1827.2 196.43L1827.8 197.12L1828.4 198.12L1829 199.52L1829.6 199.01L1830.2 199.75L1830.8 200.99L1831.4 200.5L1832 200.3L1832.6 201.84L1833.2 200.74L1833.8 200.47L1834.4 201.34L1835 200L1835.6 200.01L1836.2 200.05L1836.8 199.86L1837.4 199.78L1838 199.99L1838.6 199.36L1839.2 199.88L1839.8 200.44L1840.4 199.19L1841 198.47L1841.6 199.53L1842.2 198.17L1842.8 199.29L1843.4 196.8L1844 195.88L1844.6 194.01L1845.2 193.57L1845.8 192.26L1846.4 193.78L1847 192.41L1847.6 193.21L1848.2 192.6L1848.8 192.41L1849.4 193.45L1850 193.23L1850.6 193.69L1851.2 193.67L1851.8 193.11L1852.4 193.02L1853 192.94L1853.6 195.54L1854.2 197.11L1854.8 199.21L1855.4 202.19L1856 204.54L1856.6 205.97L1857.2 209.08L1857.8 212.56L1858.4 215.26L1859 218.53L1859.6 220.35L1860.2 223.49L1860.8 225.43L1861.4 228.15L1862 231.71L1862.6 232.94L1863.2 235.31L1863.8 238.42L1864.4 240.86L1865 244.57L1865.6 248.44L1866.2 251.65L1866.8 255.67L1867.4 257.49L1868 261.22L1868.6 263.76L1869.2 267.5L1869.8 270.51L1870.4 273.02L1871 277.81L1871.6 279.19L1872.2 282.43L1872.8 286.61L1873.4 289.36L1874 290.55L1874.6 295.99L1875.2 301.69L1875.8 304.4L1876.4 312.88L1877 316.55L1877.6 324.33L1878.2 331.32L1878.8 334.25L1879.4 339.1L1880 340.53L1880.6 346.97L1881.2 344.05L1881.8 349.5L1882.4 356L1883 358.13L1883.6 356.23L1884.2 364.43L1884.8 364.37L1885.4 366.54L1886 363.41L1886.6 362.06L1887.2 366.76L1887.8 371.59L1888.4 371.41L1889 375.8L1889.6 375.88L1890.2 374.31L1890.8 376.84L1891.4 376.74L1892 381.05L1892.6 381.05L1893.2 384.49L1893.8 382.9L1894.4 391.3L1895 385.56L1895.6 391.34L1896.2 388.6L1896.8 394.31L1897.4 398.97L1898 400.52L1898.6 400.47L1899.2 394.75L1899.8 400.76L1900.4 399.08L1901 402.18L1901.6 395.44L1902.2 396.61L1902.8 401.95L1903.4 398.39L1904 405.38L1904.6 398.7L1905.2 401.56L1905.8 402.48L1906.4 402.7L1907 401.18L1907.6 406.6L1908.2 404.26L1908.8 402.89L1909.4 402.69L1910 404.94L1910.6 405.57L1911.2 402.3L1911.8 410.55L1912.4 406.98L1913 406.24L1913.6 409.93L1914.2 404.9L1914.8 405.81L1915.4 403.44L1916 407.78L1916.6 404.94L1917.2 407.08L1917.8 406.24L1918.4 408.66L1919 409.87L1919.6 406.55L1920.2 410.72L1920.8 408.14L1921.4 410.01L1922 407.11L1922.6 411.32L1923.2 407.1L1923.8 410.45L1924.4 414.42L1925 406.48L1925.6 408.28L1926.2 409.65L1926.8 412.61L1927.4 413.42L1928 415.66L1928.6 413.59L1929.2 415.2L1929.8 415.83L1930.4 415.35L1931 415.16L1931.6 411.3L1932.2 413.04L1932.8 414.69L1933.4 409.11L1934 416L1934.6 417.38L1935.2 415.98L1935.8 412.95L1936.4 418.4L1937 417.7L1937.6 419.28L1938.2 418.37L1938.8 420.14L1939.4 417.98L1940 415.95L1940.6 412.99L1941.2 420.38L1941.8 414.26L1942.4 414.48L1943 415.62L1943.6 418.18L1944.2 423.68L1944.8 423.84L1945.4 420.66L1946 422.76L1946.6 418.97L1947.2 426.58L1947.8 425.42L1948.4 422.72L1949 422.73L1949.6 425.52L1950.2 420.8L1950.8 426.58L1951.4 428.26L1952 428.83L1952.6 424.01L1953.2 426.1L1953.8 427.81L1954.4 427.03L1955 427.19L1955.6 427.36L1956.2 429.32L1956.8 423.54L1957.4 426.8L1958 427.9L1958.6 422.55L1959.2 421.84L1959.8 428.92L1960.4 425.18L1961 424.07L1961.6 426.64L1962.2 429.31L1962.8 428.91L1963.4 426.65L1964 424.87L1964.6 427.45L1965.2 425.68L1965.8 422.18L1966.4 427.55L1967 425.68L1967.6 422.84L1968.2 426.33L1968.8 422.65L1969.4 421.72L1970 424.19L1970.6 430.08L1971.2 422.73L1971.8 422.13L1972.4 425.14L1972.4 506.45L1971.8 506.45L1971.2 504.82L1970.6 506.45L1970 506.45L1969.4 505.29L1968.8 506.45L1968.2 505.11L1967.6 505.69L1967 506.45L1966.4 506.45L1965.8 506.14L1965.2 506.45L1964.6 506.45L1964 505.49L1963.4 506.45L1962.8 506.35L1962.2 504.54L1961.6 506.45L1961 504.39L1960.4 506.45L1959.8 506.45L1959.2 506.45L1958.6 506.45L1958 506.45L1957.4 505.08L1956.8 506.45L1956.2 504.44L1955.6 506.45L1955 506.45L1954.4 505.26L1953.8 506.45L1953.2 504.53L1952.6 506.45L1952 506.45L1951.4 504.42L1950.8 506.45L1950.2 505.64L1949.6 506.45L1949 506.45L1948.4 505.67L1947.8 505.99L1947.2 505.36L1946.6 506.45L1946 506.45L1945.4 506.45L1944.8 506.45L1944.2 505.32L1943.6 506.45L1943 506.45L1942.4 502.88L1941.8 506.45L1941.2 506.45L1940.6 502.34L1940 503.31L1939.4 506.45L1938.8 502.09L1938.2 500.75L1937.6 504.46L1937 503.64L1936.4 504.13L1935.8 504.12L1935.2 501.13L1934.6 503.67L1934 502.26L1933.4 496.76L1932.8 498.45L1932.2 495.44L1931.6 500.76L1931 500.61L1930.4 493.89L1929.8 500.26L1929.2 498.15L1928.6 498.89L1928 493.7L1927.4 495.11L1926.8 495.5L1926.2 496.69L1925.6 493.15L1925 491.81L1924.4 495.76L1923.8 490.31L1923.2 493.64L1922.6 493.14L1922 493.93L1921.4 494.29L1920.8 487.38L1920.2 489.42L1919.6 491.94L1919 492.03L1918.4 486.58L1917.8 485.45L1917.2 484.95L1916.6 488.59L1916 484.08L1915.4 489.19L1914.8 484.21L1914.2 489.04L1913.6 483.29L1913 484.12L1912.4 485.69L1911.8 486.43L1911.2 483.81L1910.6 484.58L1910 485.32L1909.4 486.13L1908.8 485.84L1908.2 482.1L1907.6 485.18L1907 483.42L1906.4 480.63L1905.8 479L1905.2 483.81L1904.6 479.96L1904 481.49L1903.4 480.97L1902.8 482.15L1902.2 482.33L1901.6 480.48L1901 480.47L1900.4 479.17L1899.8 477.62L1899.2 478.64L1898.6 474.37L1898 478.41L1897.4 477.44L1896.8 474.37L1896.2 473.34L1895.6 474.84L1895 471.93L1894.4 470.93L1893.8 472.22L1893.2 469.85L1892.6 471.6L1892 471.9L1891.4 471.54L1890.8 471.72L1890.2 469L1889.6 468.44L1889 467.55L1888.4 461.16L1887.8 459.03L1887.2 457.77L1886.6 456.38L1886 455.91L1885.4 455.17L1884.8 453.94L1884.2 448.36L1883.6 448.59L1883 446.62L1882.4 440.81L1881.8 438.43L1881.2 438.5L1880.6 436.04L1880 429.88L1879.4 430.55L1878.8 426.5L1878.2 423.55L1877.6 418.89L1877 417.29L1876.4 413.48L1875.8 410.64L1875.2 405.1L1874.6 399.21L1874 396.16L1873.4 391.23L1872.8 387.61L1872.2 382.71L1871.6 377.86L1871 370.25L1870.4 363.69L1869.8 356.22L1869.2 347.82L1868.6 339.74L1868 333.79L1867.4 327.03L1866.8 321.18L1866.2 317.59L1865.6 314.16L1865 310.58L1864.4 304.66L1863.8 301.11L1863.2 297.07L1862.6 292.59L1862 288.43L1861.4 284.33L1860.8 280.82L1860.2 276.89L1859.6 274.4L1859 271.46L1858.4 268.08L1857.8 264.61L1857.2 260.66L1856.6 258.17L1856 255.93L1855.4 253.57L1854.8 249.44L1854.2 248.24L1853.6 245.36L1853 241.71L1852.4 241.05L1851.8 237.2L1851.2 233.82L1850.6 232.36L1850 229.36L1849.4 226.89L1848.8 223.01L1848.2 220.18L1847.6 219.45L1847 218.97L1846.4 219.43L1845.8 218.57L1845.2 219.62L1844.6 219.41L1844 219.63L1843.4 219.09L1842.8 220.74L1842.2 220.16L1841.6 219.9L1841 220.48L1840.4 220.31L1839.8 219.44L1839.2 220.54L1838.6 221.13L1838 220.28L1837.4 220.19L1836.8 221.15L1836.2 221.87L1835.6 220.71L1835 220.73L1834.4 220.94L1833.8 223.1L1833.2 222.58L1832.6 221.98L1832 223.02L1831.4 221.89L1830.8 221.72L1830.2 223.63L1829.6 221.78L1829 223.55L1828.4 223.06L1827.8 222.73L1827.2 222.97L1826.6 223L1826 223.55L1825.4 223.45L1824.8 221.39L1824.2 221.98L1823.6 221.03L1823 219.74L1822.4 219.31L1821.8 217.52L1821.2 218.51L1820.6 216.42L1820 215.8L1819.4 215.98L1818.8 216.54L1818.2 215.31L1817.6 215.03L1817 214.92L1816.4 214.68L1815.8 215.22L1815.2 216.48L1814.6 215.7L1814 215.28L1813.4 215.58L1812.8 215.56L1812.2 216.52L1811.6 216.05L1811 216.81L1810.4 216.62L1809.8 216.49L1809.2 218.54L1808.6 216.82L1808 216.93L1807.4 218.24L1806.8 218.5L1806.2 218.15L1805.6 217.14L1805 218.53L1804.4 218.52L1803.8 217.99L1803.2 217.49L1802.6 217.22L1802 217.82L1801.4 216.35L1800.8 215.42L1800.2 215.9L1799.6 216.71L1799 216.12L1798.4 216.35L1797.8 216.73L1797.2 217.42L1796.6 218.21L1796 218.79L1795.4 217.96L1794.8 218.71L1794.2 218.97L1793.6 218.94L1793 219.84L1792.4 219.27L1791.8 218.7L1791.2 219.88L1790.6 218.26L1790 218.45L1789.4 219.48L1788.8 218.26L1788.2 219.86L1787.6 219.38L1787 218.31L1786.4 219.43L1785.8 219.51L1785.2 217.64L1784.6 217.83L1784 217.55L1783.4 218.59L1782.8 217.59L1782.2 216.9L1781.6 216.59z" fill="#2a3990" fill-opacity="0.35"/>
<path d="M1781.6 185.99L1781.8 188.01L1782 190.88L1782.2 195.59L1782.4 199.69L1782.6 202.01L1782.8 204.94L1783 207.81L1783.2 216.65L1783.4 223.56L1783.6 228.69L1783.8 235.73L1784 241.67L1784.2 248.99L1784.4 256.77L1784.6 263.77L1784.8 268.16L1785 277.54L1785.2 285.09L1785.4 292.64L1785.6 297.6L1785.8 304.33L1786 312.2L1786.2 318.46L1786.4 324.45L1786.6 330.06L1786.8 335.53L1787 345.02L1787.2 353.66L1787.4 346.69L1787.6 356.57L1787.8 353.54L1788 360.99L1788.2 356.4L1788.4 361.9L1788.6 358.92L1788.8 344.68L1789 363.82L1789.2 359.43L1789.4 372.46L1789.6 367.08L1789.8 361.79L1790 367.14L1790.2 364.65L1790.4 367.01L1790.6 375.49L1790.8 364.78L1791 375.65L1791.2 355.56L1791.4 374.74L1791.6 365.67L1791.8 371.87L1792 364.27L1792.2 378.28L1792.4 365.06L1792.6 375.34L1792.8 363.96L1793 370.08L1793.2 374.84L1793.4 383.39L1793.6 370.62L1793.8 373.81L1794 364.27L1794.2 382.29L1794.4 374.84L1794.6 375.84L1794.8 378.38L1795 379.62L1795.2 380.44L1795.4 387.78L1795.6 391.96L1795.8 387.22L1796 379.3L1796.2 371.95L1796.4 377.15L1796.6 377.09L1796.8 380.07L1797 381.34L1797.2 386.39L1797.4 381.9L1797.6 373.85L1797.8 392.58L1798 396.34L1798.2 373.74L1798.4 388.87L1798.6 382.91L1798.8 384.06L1799 401.72L1799.2 371.22L1799.4 377.21L1799.6 391.33L1799.8 386.67L1800 392.39L1800.2 401.43L1800.4 395.08L1800.6 391.2L1800.8 385.11L1801 388.93L1801.2 394.85L1801.4 383.98L1801.6 402.56L1801.8 389.46L1802 387.02L1802.2 399.45L1802.4 412.7L1802.6 405.38L1802.8 395.83L1803 393.63L1803.2 385.13L1803.4 407.48L1803.6 399.11L1803.8 393.84L1804 401.11L1804.2 420.52L1804.4 393.42L1804.6 380.73L1804.8 392.34L1805 409.24L1805.2 405.19L1805.4 400.03L1805.6 380.77L1805.8 397.21L1806 401.85L1806.2 389.67L1806.4 404.1L1806.6 387.61L1806.8 409.88L1807 408.35L1807.2 398.32L1807.4 392.53L1807.6 399.46L1807.8 402.79L1808 421.41L1808.2 412.12L1808.4 411.52L1808.6 411.14L1808.8 401.76L1809 410L1809.2 400.59L1809.4 406.96L1809.6 410.83L1809.8 407.22L1810 404.83L1810.2 401.41L1810.4 413.22L1810.6 411.39L1810.8 421.44L1811 396.11L1811.2 397.71L1811.4 412.07L1811.6 414.94L1811.8 421.76L1812 409.91L1812.2 409.88L1812.4 393.11L1812.6 410.11L1812.8 419.24L1813 433.91L1813.2 400.92L1813.4 411.74L1813.6 427.55L1813.8 412.39L1814 428.12L1814.2 384.47L1814.4 405.14L1814.6 410.14L1814.8 416.88L1815 434.13L1815.2 416.95L1815.4 429.47L1815.6 411.1L1815.8 434.91L1816 424.48L1816.2 406.32L1816.4 402.85L1816.6 427.44L1816.8 430.68L1817 410.05L1817.2 410.47L1817.4 426.55L1817.6 424.23L1817.8 424.43L1818 428.9L1818.2 424.7L1818.4 408.23L1818.6 413.27L1818.8 401.67L1819 420.37L1819.2 420.99L1819.4 428.5L1819.6 421.29L1819.8 431.76L1820 435.96L1820.2 414.8L1820.4 408.58L1820.6 413.99L1820.8 409.91L1821 419.43L1821.2 428.01L1821.4 421.26L1821.6 425.43L1821.8 432L1822 437.21L1822.2 435.6L1822.4 423.05L1822.6 421.9L1822.8 427.49L1823 411.26L1823.2 422.25L1823.4 418.96L1823.6 413.67L1823.8 431.47L1824 441.59L1824.2 418.29L1824.4 430.93L1824.6 413.86L1824.8 422.47L1825 416.89L1825.2 419.18L1825.4 443.94L1825.6 419.96L1825.8 432.18L1826 433.1L1826.2 430.53L1826.4 420.34L1826.6 419.53L1826.8 418.63L1827 441.89L1827.2 432.8L1827.4 448.35L1827.6 428.86L1827.8 422.93L1828 434.85L1828.2 426.27L1828.4 426.53L1828.6 419.96L1828.8 435.89L1829 436.09L1829.2 435.66L1829.4 414.08L1829.6 419.93L1829.8 430.55L1830 427.68L1830.2 428.77L1830.4 428.15L1830.6 431.84L1830.8 433.06L1831 441.16L1831.2 435.99L1831.4 416.34L1831.6 426.09L1831.8 430.3L1832 432.85L1832.2 430.59L1832.4 428.22L1832.6 436.99L1832.8 429.85L1833 429.61L1833.2 438.29L1833.4 438.77L1833.6 440.72L1833.8 441.42L1834 424.69L1834.2 452.89L1834.4 434.95L1834.6 438.06L1834.8 438.27L1835 432.22L1835.2 423.46L1835.4 432.67L1835.6 434.68L1835.8 438.9L1836 434.86L1836.2 426.01L1836.4 437.42L1836.6 444.06L1836.8 445.21L1837 443.99L1837.2 446.57L1837.4 425.22L1837.6 431.78L1837.8 437.03L1838 422.52L1838.2 440.94L1838.4 428.89L1838.6 428.62L1838.8 449.02L1839 449.25L1839.2 443.95L1839.4 428.25L1839.6 425.03L1839.8 446.96L1840 427.44L1840.2 439.86L1840.4 440L1840.6 441.42L1840.8 439.52L1841 452.47L1841.2 445.48L1841.4 447.56L1841.6 432.71L1841.8 418.97L1842 413.47L1842.2 440.02L1842.4 452.03L1842.6 440.74L1842.8 445.39L1843 420.22L1843.2 432.47L1843.4 443.74L1843.6 429.43L1843.8 432.94L1844 451.65L1844.2 442.27L1844.4 439.8L1844.6 437.63L1844.8 436.71L1845 440.83L1845.2 436.32L1845.4 443.08L1845.6 445.81L1845.8 425.04L1846 435.08L1846.2 434.46L1846.4 452.07L1846.6 439.79L1846.8 431.34L1847 449.62L1847.2 429.05L1847.4 441.94L1847.6 435.16L1847.8 439.84L1848 436.86L1848.2 428.42L1848.4 442.35L1848.6 425.41L1848.8 445.73L1849 447.08L1849.2 432.95L1849.4 448.35L1849.6 442.4L1849.8 431.43L1850 428.86L1850.2 454.69L1850.4 435.06L1850.6 423.22L1850.8 429.22L1851 441.67L1851.2 444.84L1851.4 442.27L1851.6 449.72L1851.8 442.11L1852 441.5L1852.2 441.19L1852.4 429.78L1852.6 442.04L1852.8 452.69L1853 431.09L1853.2 449.48L1853.4 444.13L1853.6 441.49L1853.8 443.36L1854 449.1L1854.2 442.65L1854.4 421.7L1854.6 445.85L1854.8 441.85L1855 431.02L1855.2 434.35L1855.4 434.25L1855.6 433.45L1855.8 457.94L1856 448.47L1856.2 439.96L1856.4 436.81L1856.6 430L1856.8 437.18L1857 443.35L1857.2 441.01L1857.4 443.22L1857.6 439.33L1857.8 435.69L1858 444.5L1858.2 448.65L1858.4 449.06L1858.6 432.27L1858.8 430.74L1859 433.29L1859.2 434.45L1859.4 434.65L1859.6 441.85L1859.8 436.09L1860 450.9L1860.2 443.57L1860.4 448.14L1860.6 435.52L1860.8 446.8L1861 442.72L1861.2 438.32L1861.4 430.07L1861.6 448.6L1861.8 449.86L1862 434.69L1862.2 451.29L1862.4 437.83L1862.6 446.65L1862.8 442.64L1863 457.44L1863.2 435.55L1863.4 446.02L1863.6 449.45L1863.8 423.76L1864 435.54L1864.2 411.38L1864.4 438.15L1864.6 444.67L1864.8 440.72L1865 427.77L1865.2 441.87L1865.4 437.74L1865.6 437.17L1865.8 449.48L1866 440.5L1866.2 445.95L1866.4 452.35L1866.6 434.06L1866.8 435.84L1867 440.93L1867.2 449.41L1867.4 458.88L1867.6 437.37L1867.8 442.39L1868 456.08L1868.2 442.06L1868.4 454.66L1868.6 441.75L1868.8 440.28L1869 438.45L1869.2 439.63L1869.4 440.02L1869.6 451.33L1869.8 444.79L1870 445.89L1870.2 443.5L1870.4 439.13L1870.6 436.11L1870.8 427.33L1871 463.62L1871.2 437.97L1871.4 443.14L1871.6 421.77L1871.8 433.35L1872 455.68L1872.2 437.93L1872.4 445.89L1872.6 432.81L1872.8 450.49L1873 442.25L1873.2 442.5L1873.4 442.19L1873.6 446.39L1873.8 457.21L1874 437.36L1874.2 432.71L1874.4 441.91L1874.6 450.1L1874.8 439.56L1875 436.42L1875.2 442.81L1875.4 441.41L1875.6 429.12L1875.8 450.93L1876 446.09L1876.2 457.71L1876.4 447.3L1876.6 447.63L1876.8 449.53L1877 447.23L1877.2 425.71L1877.4 442.92L1877.6 442.2L1877.8 422.23L1878 441.72L1878.2 456.16L1878.4 437.71L1878.6 449.27L1878.8 427.02L1879 451.92L1879.2 446.17L1879.4 455.02L1879.6 440.3L1879.8 449.91L1880 441.7L1880.2 444.38L1880.4 446.41L1880.6 432.97L1880.8 433.03L1881 440.56L1881.2 448.86L1881.4 450.33L1881.6 438.75L1881.8 420.43L1882 445.01L1882.2 447.83L1882.4 447.07L1882.6 450.5L1882.8 449.43L1883 442.8L1883.2 428.64L1883.4 441.02L1883.6 445.42L1883.8 454.94L1884 439.15L1884.2 441.22L1884.4 451.57L1884.6 450.36L1884.8 441.33L1885 432.22L1885.2 435.65L1885.4 439.38L1885.6 444.05L1885.8 438.59L1886 441.56L1886.2 422.8L1886.4 451.43L1886.6 444.93L1886.8 430.91L1887 444.25L1887.2 429.75L1887.4 442.53L1887.6 440.99L1887.8 445.55L1888 454.37L1888.2 450.93L1888.4 423.52L1888.6 437.18L1888.8 437.62L1889 434.71L1889.2 438.13L1889.4 434.32L1889.6 445.54L1889.8 445.27L1890 434.95L1890.2 446.58L1890.4 455.13L1890.6 445.69L1890.8 448.54L1891 438.64L1891.2 450.25L1891.4 453.3L1891.6 447.1L1891.8 430.93L1892 444.85L1892.2 443.14L1892.4 444.55L1892.6 442.18L1892.8 436.82L1893 432.88L1893.2 459.22L1893.4 433.38L1893.6 445.26L1893.8 448.1L1894 424.72L1894.2 446.99L1894.4 428.83L1894.6 437.37L1894.8 454.71L1895 441.71L1895.2 439.66L1895.4 447.2L1895.6 466.32L1895.8 449.29L1896 448.07L1896.2 456.08L1896.4 430.85L1896.6 448.83L1896.8 450.21L1897 449.5L1897.2 453.78L1897.4 453.81L1897.6 446.4L1897.8 444.61L1898 451.79L1898.2 448.29L1898.4 459.61L1898.6 443.2L1898.8 454.28L1899 446.05L1899.2 455.83L1899.4 452.55L1899.6 446.35L1899.8 458.76L1900 427.08L1900.2 448.65L1900.4 448.89L1900.6 454.53L1900.8 434.35L1901 436.08L1901.2 445.39L1901.4 459.72L1901.6 452.19L1901.8 442.45L1902 452.11L1902.2 457.85L1902.4 457.8L1902.6 454.14L1902.8 447.29L1903 452.94L1903.2 447.11L1903.4 423.09L1903.6 431.82L1903.8 456.01L1904 444.02L1904.2 446.16L1904.4 448.03L1904.6 437.77L1904.8 449.57L1905 449.44L1905.2 449.79L1905.4 447.36L1905.6 435.32L1905.8 439.65L1906 457.86L1906.2 450.02L1906.4 453.02L1906.6 439.02L1906.8 444.05L1907 438.24L1907.2 446.39L1907.4 462.26L1907.6 441.82L1907.8 443.67L1908 441.18L1908.2 456.74L1908.4 444.72L1908.6 451.29L1908.8 451.22L1909 442.16L1909.2 442.1L1909.4 452.78L1909.6 459.78L1909.8 466.29L1910 449.83L1910.2 435.1L1910.4 445.19L1910.6 464.08L1910.8 452.02L1911 440.86L1911.2 429.99L1911.4 434.28L1911.6 441.13L1911.8 442.52L1912 453.29L1912.2 447.98L1912.4 446.88L1912.6 450.62L1912.8 443.4L1913 447.35L1913.2 441.06L1913.4 431.6L1913.6 437.59L1913.8 440.39L1914 446.09L1914.2 457.15L1914.4 445.02L1914.6 439.35L1914.8 452.76L1915 433.24L1915.2 446.96L1915.4 440.88L1915.6 446.94L1915.8 454.95L1916 426.27L1916.2 454.16L1916.4 436.21L1916.6 448.95L1916.8 441.76L1917 451.13L1917.2 447.78L1917.4 436.25L1917.6 427.41L1917.8 451.53L1918 444.14L1918.2 436.06L1918.4 449.7L1918.6 438.13L1918.8 451.05L1919 439.07L1919.2 440.53L1919.4 433.84L1919.6 441.18L1919.8 454.63L1920 438.6L1920.2 453.86L1920.4 437.88L1920.6 431.33L1920.8 439.24L1921 449.17L1921.2 434.11L1921.4 442.97L1921.6 455.18L1921.8 447.5L1922 432.2L1922.2 447.08L1922.4 443.42L1922.6 447.44L1922.8 459.05L1923 448.91L1923.2 441.43L1923.4 442.73L1923.6 446.04L1923.8 462.97L1924 434.01L1924.2 438.36L1924.4 435.74L1924.6 433.36L1924.8 448.44L1925 449.83L1925.2 441.91L1925.4 430.18L1925.6 459.2L1925.8 446.64L1926 450.84L1926.2 439.85L1926.4 432.04L1926.6 447.25L1926.8 455.42L1927 444.29L1927.2 447.19L1927.4 458.06L1927.6 437.11L1927.8 449.28L1928 438.88L1928.2 456.14L1928.4 435.33L1928.6 457.25L1928.8 435.72L1929 460.47L1929.2 432.93L1929.4 448.09L1929.6 458.29L1929.8 446.9L1930 441.97L1930.2 453.44L1930.4 449.16L1930.6 442.59L1930.8 446.38L1931 471.4L1931.2 448.66L1931.4 441.27L1931.6 442.4L1931.8 436.27L1932 450.95L1932.2 422.96L1932.4 438.11L1932.6 442.33L1932.8 435.67L1933 436.81L1933.2 444.18L1933.4 450.42L1933.6 436.24L1933.8 441.44L1934 461.44L1934.2 454.64L1934.4 441.09L1934.6 444.19L1934.8 442.73L1935 439.61L1935.2 443.91L1935.4 431.51L1935.6 450.28L1935.8 448.65L1936 442.42L1936.2 438.78L1936.4 438.43L1936.6 432.4L1936.8 449.37L1937 435.19L1937.2 441.23L1937.4 454.29L1937.6 446.48L1937.8 427.3L1938 438.54L1938.2 449.38L1938.4 466.05L1938.6 451.7L1938.8 451.43L1939 444.71L1939.2 425.44L1939.4 438.95L1939.6 442.7L1939.8 453.49L1940 455.67L1940.2 447.2L1940.4 449.42L1940.6 419.4L1940.8 448.83L1941 450.63L1941.2 435.55L1941.4 444.6L1941.6 455.91L1941.8 434.09L1942 447.9L1942.2 456.65L1942.4 442.38L1942.6 440.92L1942.8 448.03L1943 439.07L1943.2 437.98L1943.4 452.66L1943.6 462.79L1943.8 465.66L1944 446.08L1944.2 434.34L1944.4 436.28L1944.6 432.9L1944.8 428.87L1945 444.73L1945.2 435.73L1945.4 458.02L1945.6 438.85L1945.8 441.39L1946 445.57L1946.2 448.55L1946.4 454.34L1946.6 443.48L1946.8 433.64L1947 447.81L1947.2 440.04L1947.4 450.34L1947.6 442.38L1947.8 453.25L1948 441.27L1948.2 446.39L1948.4 441.76L1948.6 449.7L1948.8 454.6L1949 447.26L1949.2 435.45L1949.4 430.74L1949.6 447.16L1949.8 437.43L1950 437.76L1950.2 440.9L1950.4 457.66L1950.6 441.44L1950.8 452.59L1951 434.04L1951.2 437.37L1951.4 438.82L1951.6 466.02L1951.8 438.74L1952 438.04L1952.2 455.09L1952.4 435.67L1952.6 443.37L1952.8 445.58L1953 450.13L1953.2 452.74L1953.4 447.68L1953.6 417.26L1953.8 442.13L1954 442.07L1954.2 449.43L1954.4 449.15L1954.6 448.56L1954.8 451.43L1955 436.19L1955.2 446.06L1955.4 436.23L1955.6 453.66L1955.8 435.64L1956 443.87L1956.2 437.86L1956.4 444.49L1956.6 451.24L1956.8 433.1L1957 447.29L1957.2 444.78L1957.4 451.13L1957.6 441.7L1957.8 446.8L1958 440.98L1958.2 440.42L1958.4 449.32L1958.6 455.53L1958.8 439.59L1959 435.38L1959.2 437.27L1959.4 453.15L1959.6 438.01L1959.8 439.9L1960 440.74L1960.2 439.46L1960.4 445.94L1960.6 441.27L1960.8 435.1L1961 447.44L1961.2 455.49L1961.4 443.94L1961.6 441.32L1961.8 458.92L1962 448.81L1962.2 437.86L1962.4 444.22L1962.6 442.1L1962.8 453.75L1963 435.03L1963.2 427.69L1963.4 444.54L1963.6 449.11L1963.8 452.76L1964 435.06L1964.2 441.82L1964.4 449.56L1964.6 432.2L1964.8 436.06L1965 437.43L1965.2 457.8L1965.4 443.48L1965.6 437.17L1965.8 453.12L1966 434.5L1966.2 430.15L1966.4 433.55L1966.6 448.69L1966.8 448.54L1967 434.28L1967.2 433.81L1967.4 431.75L1967.6 431.98L1967.8 443.19L1968 445.84L1968.2 458.29L1968.4 435.49L1968.6 422.58L1968.8 446.21L1969 446.3L1969.2 436.56L1969.4 438.91L1969.6 453.95L1969.8 448.27L1970 451.55L1970.2 424.6L1970.4 448.22L1970.6 434.64L1970.8 425.43L1971 425.61L1971.2 429.63L1971.4 427.85L1971.6 452.56L1971.8 444.86L1972 448.14L1972.2 444.36" stroke="#c9168a" stroke-width="2.4" fill="none" stroke-linejoin="round"/>
<path d="M1781.6 203.19L1781.8 202.74L1782 202.87L1782.2 202.93L1782.4 202.54L1782.6 202.78L1782.8 202.87L1783 202.32L1783.2 202.93L1783.4 203.14L1783.6 203.17L1783.8 202.94L1784 202.62L1784.2 202.57L1784.4 202.49L1784.6 203.05L1784.8 204.57L1785 206.34L1785.2 207.65L1785.4 209.31L1785.6 211.13L1785.8 212.24L1786 213.94L1786.2 215.5L1786.4 216.39L1786.6 220.29L1786.8 226.29L1787 231.83L1787.2 236.84L1787.4 243.19L1787.6 248.58L1787.8 254.27L1788 259.95L1788.2 265.59L1788.4 271.54L1788.6 277.61L1788.8 284.02L1789 290.57L1789.2 296.75L1789.4 303.04L1789.6 310.23L1789.8 313.73L1790 318.27L1790.2 322.15L1790.4 325.93L1790.6 329.74L1790.8 334L1791 339.24L1791.2 340.83L1791.4 345.84L1791.6 350.07L1791.8 353.09L1792 358.03L1792.2 362.69L1792.4 365.08L1792.6 369.09L1792.8 374.2L1793 376.58L1793.2 380.99L1793.4 385.19L1793.6 384.73L1793.8 388.97L1794 393.22L1794.2 393.99L1794.4 397.02L1794.6 398.56L1794.8 404.22L1795 403.66L1795.2 406.4L1795.4 409.35L1795.6 412.08L1795.8 413.63L1796 417.14L1796.2 420.68L1796.4 424.88L1796.6 424.3L1796.8 426.32L1797 428.54L1797.2 429.84L1797.4 429.85L1797.6 436.91L1797.8 432.68L1798 439.19L1798.2 434.92L1798.4 434.32L1798.6 433.62L1798.8 439.56L1799 438.71L1799.2 440.84L1799.4 446.66L1799.6 441.16L1799.8 443.9L1800 444.76L1800.2 448.2L1800.4 447.13L1800.6 447.89L1800.8 445.97L1801 449.46L1801.2 442.32L1801.4 453.38L1801.6 454.07L1801.8 454.57L1802 457.69L1802.2 452.11L1802.4 454.87L1802.6 460.5L1802.8 457.16L1803 454.74L1803.2 462.13L1803.4 458.28L1803.6 459.74L1803.8 453.17L1804 458.79L1804.2 461.44L1804.4 462.27L1804.6 456.02L1804.8 462.83L1805 455.77L1805.2 466.63L1805.4 463.32L1805.6 463.86L1805.8 465.53L1806 464.6L1806.2 462.56L1806.4 466.66L1806.6 469.16L1806.8 462.02L1807 462.09L1807.2 468.37L1807.4 466.08L1807.6 474.3L1807.8 464.9L1808 471.75L1808.2 470.05L1808.4 463.08L1808.6 472.8L1808.8 469.73L1809 473.1L1809.2 475.62L1809.4 473.89L1809.6 470.11L1809.8 474.52L1810 472.69L1810.2 469.23L1810.4 471.76L1810.6 475.01L1810.8 467.5L1811 471.36L1811.2 468L1811.4 474.78L1811.6 467.47L1811.8 475.83L1812 477.03L1812.2 473.57L1812.4 473.55L1812.6 471.95L1812.8 474.3L1813 471.18L1813.2 469.4L1813.4 474.92L1813.6 477L1813.8 474.47L1814 471.28L1814.2 471.41L1814.4 474.69L1814.6 476.54L1814.8 474.04L1815 471.49L1815.2 476.17L1815.4 470.83L1815.6 473.86L1815.8 473.81L1816 476.42L1816.2 471.14L1816.4 474.84L1816.6 479.12L1816.8 472.97L1817 476.46L1817.2 472.51L1817.4 475.1L1817.6 477.38L1817.8 475.34L1818 477.26L1818.2 478.29L1818.4 476.11L1818.6 474.02L1818.8 476.21L1819 476.76L1819.2 478.15L1819.4 475.22L1819.6 476.15L1819.8 474.41L1820 476.14L1820.2 471.47L1820.4 481.64L1820.6 477.64L1820.8 476.17L1821 475.3L1821.2 482.02L1821.4 481.29L1821.6 478.21L1821.8 475.36L1822 475.36L1822.2 482.58L1822.4 478.23L1822.6 475.52L1822.8 478.75L1823 481.74L1823.2 481.01L1823.4 482.81L1823.6 476.03L1823.8 480L1824 480.5L1824.2 481.74L1824.4 479.78L1824.6 481.9L1824.8 482.12L1825 479.61L1825.2 480.16L1825.4 478.33L1825.6 479.2L1825.8 476.43L1826 479.79L1826.2 478.99L1826.4 479.12L1826.6 481.96L1826.8 476.58L1827 481.36L1827.2 484.16L1827.4 476.52L1827.6 478.17L1827.8 481.5L1828 477.42L1828.2 477.42L1828.4 478.16L1828.6 483.28L1828.8 479.66L1829 482.98L1829.2 481.86L1829.4 481.76L1829.6 482.57L1829.8 478.97L1830 482.48L1830.2 478.69L1830.4 479.94L1830.6 482.08L1830.8 480.01L1831 478.64L1831.2 477.45L1831.4 481.27L1831.6 475.91L1831.8 479.09L1832 477.3L1832.2 484.37L1832.4 483.61L1832.6 477.5L1832.8 481.42L1833 479.58L1833.2 477.63L1833.4 484.82L1833.6 479.72L1833.8 475.73L1834 478.85L1834.2 480.8L1834.4 479.55L1834.6 481.09L1834.8 479.05L1835 477.65L1835.2 481.82L1835.4 479.69L1835.6 480.45L1835.8 479.3L1836 479.08L1836.2 484.28L1836.4 478.26L1836.6 479.11L1836.8 484.44L1837 482.28L1837.2 485.49L1837.4 482.36L1837.6 480.73L1837.8 484.77L1838 483.77L1838.2 484.08L1838.4 483.62L1838.6 483.87L1838.8 484.7L1839 480.31L1839.2 482.46L1839.4 484.14L1839.6 479.28L1839.8 483.51L1840 479.6L1840.2 485.39L1840.4 478.28L1840.6 483.32L1840.8 484.71L1841 481.08L1841.2 485.82L1841.4 485.15L1841.6 481.59L1841.8 483.54L1842 481.16L1842.2 481.85L1842.4 481.55L1842.6 481.88L1842.8 480.31L1843 482.23L1843.2 479.25L1843.4 479.68L1843.6 487.54L1843.8 486.97L1844 478.04L1844.2 483.43L1844.4 481.73L1844.6 482.54L1844.8 481.5L1845 476.28L1845.2 484.14L1845.4 482.06L1845.6 482.22L1845.8 485.15L1846 484.59L1846.2 482.96L1846.4 482.28L1846.6 481.2L1846.8 487.52L1847 486.46L1847.2 477.79L1847.4 482.72L1847.6 480.02L1847.8 483.37L1848 484.15L1848.2 476.54L1848.4 485.56L1848.6 484.68L1848.8 480.42L1849 482.19L1849.2 486.66L1849.4 481.86L1849.6 480.27L1849.8 486.35L1850 483.74L1850.2 480.12L1850.4 477.09L1850.6 488.5L1850.8 484.1L1851 482.17L1851.2 484.7L1851.4 484.68L1851.6 483.59L1851.8 480.86L1852 485.11L1852.2 479.91L1852.4 480L1852.6 479.95L1852.8 478.11L1853 483.65L1853.2 482.38L1853.4 479.55L1853.6 478.84L1853.8 479.71L1854 483.46L1854.2 483.56L1854.4 485.78L1854.6 483.41L1854.8 484.65L1855 483.56L1855.2 483.26L1855.4 480.01L1855.6 479.94L1855.8 482.38L1856 485.31L1856.2 482.39L1856.4 481.08L1856.6 479.94L1856.8 481.68L1857 480.07L1857.2 484.01L1857.4 480.5L1857.6 480.26L1857.8 483.2L1858 484.28L1858.2 478.93L1858.4 484.92L1858.6 480.4L1858.8 482.97L1859 483.18L1859.2 482.93L1859.4 483.43L1859.6 482.35L1859.8 477.46L1860 478.34L1860.2 482.6L1860.4 480.98L1860.6 479.8L1860.8 483.39L1861 477.31L1861.2 482.15L1861.4 480.58L1861.6 484.81L1861.8 485.25L1862 484.93L1862.2 483.98L1862.4 479.47L1862.6 483.1L1862.8 479.88L1863 483.37L1863.2 484.81L1863.4 481.79L1863.6 483.31L1863.8 486.7L1864 482.12L1864.2 479.07L1864.4 482.81L1864.6 485.47L1864.8 484.28L1865 485.5L1865.2 482.9L1865.4 484.79L1865.6 482.55L1865.8 481.78L1866 478.69L1866.2 485.35L1866.4 487.75L1866.6 477.88L1866.8 481.08L1867 483.22L1867.2 480.89L1867.4 484.74L1867.6 483.16L1867.8 480.43L1868 483.09L1868.2 481.89L1868.4 481.07L1868.6 481.92L1868.8 482.89L1869 480.87L1869.2 478.69L1869.4 478.83L1869.6 484.6L1869.8 480.21L1870 487.35L1870.2 486.04L1870.4 481.17L1870.6 480.81L1870.8 478.59L1871 486.86L1871.2 479.35L1871.4 483.71L1871.6 483.5L1871.8 481.06L1872 478.48L1872.2 484.77L1872.4 486.84L1872.6 483.85L1872.8 482.56L1873 479.04L1873.2 481.27L1873.4 483.05L1873.6 483.61L1873.8 483.49L1874 479.66L1874.2 486.7L1874.4 484.11L1874.6 484.6L1874.8 479.24L1875 481.92L1875.2 484.06L1875.4 480.24L1875.6 477.02L1875.8 479.51L1876 485.75L1876.2 482.81L1876.4 479.21L1876.6 487.11L1876.8 485.54L1877 483.37L1877.2 480.86L1877.4 484.46L1877.6 481.86L1877.8 482.69L1878 481.4L1878.2 485.49L1878.4 488.21L1878.6 488.02L1878.8 481.82L1879 479.65L1879.2 480.98L1879.4 486.57L1879.6 486.93L1879.8 483.04L1880 484.72L1880.2 487.19L1880.4 483.83L1880.6 484.4L1880.8 482.59L1881 481.26L1881.2 481.78L1881.4 481.79L1881.6 480.88L1881.8 482.57L1882 483.49L1882.2 483.21L1882.4 479.11L1882.6 483.04L1882.8 480.12L1883 477.84L1883.2 477.62L1883.4 488.04L1883.6 481.89L1883.8 479.66L1884 483.5L1884.2 484.19L1884.4 486.12L1884.6 484.1L1884.8 482.29L1885 487.33L1885.2 482.33L1885.4 484.54L1885.6 482.24L1885.8 485.2L1886 482.07L1886.2 481.86L1886.4 484.15L1886.6 484.09L1886.8 479.76L1887 480.61L1887.2 484.39L1887.4 481.13L1887.6 485.39L1887.8 483.69L1888 490.12L1888.2 483.81L1888.4 480.48L1888.6 483.61L1888.8 480.72L1889 484.02L1889.2 481.49L1889.4 482.7L1889.6 484.92L1889.8 476.69L1890 484.56L1890.2 485.9L1890.4 481.95L1890.6 481.03L1890.8 481.38L1891 482.59L1891.2 481.06L1891.4 479.8L1891.6 480.64L1891.8 486L1892 477.68L1892.2 482.39L1892.4 487.79L1892.6 480.07L1892.8 482.69L1893 481.54L1893.2 476.99L1893.4 483.74L1893.6 483.98L1893.8 484.93L1894 481.8L1894.2 480.53L1894.4 481.26L1894.6 481.85L1894.8 487.99L1895 481.59L1895.2 479.41L1895.4 483.67L1895.6 483.73L1895.8 485.01L1896 481.65L1896.2 486.48L1896.4 477.18L1896.6 482.83L1896.8 483.91L1897 485.56L1897.2 480.86L1897.4 479.7L1897.6 483.81L1897.8 481.84L1898 481.52L1898.2 479.71L1898.4 480.66L1898.6 478.99L1898.8 486.09L1899 475.32L1899.2 483.64L1899.4 485.3L1899.6 484.78L1899.8 481.26L1900 480.23L1900.2 475.8L1900.4 479.02L1900.6 484.35L1900.8 483.22L1901 483.55L1901.2 483.91L1901.4 482.76L1901.6 483.94L1901.8 479.16L1902 481.4L1902.2 480.63L1902.4 482.72L1902.6 485.4L1902.8 481.13L1903 483.35L1903.2 476.97L1903.4 479L1903.6 485.54L1903.8 484.94L1904 483.77L1904.2 482.87L1904.4 479.24L1904.6 482.78L1904.8 481.07L1905 483.15L1905.2 482.87L1905.4 479L1905.6 482.26L1905.8 477.03L1906 482.41L1906.2 481.26L1906.4 481.23L1906.6 480.52L1906.8 477.13L1907 484.11L1907.2 483.71L1907.4 484.81L1907.6 477.45L1907.8 481.04L1908 481.08L1908.2 481.07L1908.4 487.24L1908.6 480.22L1908.8 481.95L1909 481.46L1909.2 482.05L1909.4 482.53L1909.6 482.49L1909.8 483.81L1910 482.89L1910.2 480.6L1910.4 487.94L1910.6 480.08L1910.8 480.56L1911 485.14L1911.2 480.92L1911.4 481.47L1911.6 483.68L1911.8 477.77L1912 481.81L1912.2 482.65L1912.4 485.78L1912.6 476.47L1912.8 481.7L1913 481.45L1913.2 482.9L1913.4 476.75L1913.6 482.69L1913.8 478.07L1914 479.46L1914.2 479.67L1914.4 480.59L1914.6 479.19L1914.8 482.6L1915 487.84L1915.2 489.48L1915.4 479.31L1915.6 487.79L1915.8 478.7L1916 474.01L1916.2 487.34L1916.4 480.66L1916.6 481.02L1916.8 484.19L1917 487.6L1917.2 482.53L1917.4 477.76L1917.6 482.58L1917.8 482.31L1918 482.06L1918.2 482.18L1918.4 481.5L1918.6 476.17L1918.8 484.63L1919 487.17L1919.2 480.03L1919.4 483.68L1919.6 483.64L1919.8 486.03L1920 482.76L1920.2 483.44L1920.4 481.14L1920.6 483.35L1920.8 486.19L1921 480.96L1921.2 482.51L1921.4 487.35L1921.6 483.2L1921.8 480.26L1922 482.46L1922.2 483.16L1922.4 480.71L1922.6 484L1922.8 484.15L1923 480.89L1923.2 482.72L1923.4 483.95L1923.6 481.69L1923.8 481.59L1924 479.79L1924.2 479.6L1924.4 482.05L1924.6 482.36L1924.8 484.78L1925 481.75L1925.2 483.25L1925.4 480.05L1925.6 480.15L1925.8 480.57L1926 482.44L1926.2 481.41L1926.4 478.27L1926.6 477.73L1926.8 483.86L1927 489.84L1927.2 480.63L1927.4 486.38L1927.6 482.15L1927.8 481.07L1928 478.29L1928.2 482.74L1928.4 482.59L1928.6 483.81L1928.8 481.48L1929 485.54L1929.2 480.77L1929.4 481.37L1929.6 478.68L1929.8 483.1L1930 481.41L1930.2 481.75L1930.4 482.33L1930.6 484.84L1930.8 483.78L1931 482.14L1931.2 480.97L1931.4 479.51L1931.6 483.88L1931.8 481.58L1932 480.64L1932.2 479.98L1932.4 481.61L1932.6 481.71L1932.8 483.2L1933 482.2L1933.2 482.79L1933.4 486.9L1933.6 484.16L1933.8 488.67L1934 480.92L1934.2 479.92L1934.4 483.23L1934.6 481.81L1934.8 481.85L1935 482.94L1935.2 478.34L1935.4 482.77L1935.6 481.4L1935.8 482.43L1936 476.93L1936.2 486.62L1936.4 481.72L1936.6 485.81L1936.8 484.17L1937 484.81L1937.2 480.21L1937.4 485.15L1937.6 484.95L1937.8 483.14L1938 484.81L1938.2 484.91L1938.4 478.05L1938.6 484.03L1938.8 484.4L1939 478.59L1939.2 482.03L1939.4 479.29L1939.6 486.6L1939.8 483.04L1940 480.99L1940.2 481.68L1940.4 480.81L1940.6 478.94L1940.8 480.7L1941 479.33L1941.2 480.26L1941.4 484.26L1941.6 481.74L1941.8 478.78L1942 484.78L1942.2 480.82L1942.4 480.57L1942.6 478.69L1942.8 486.71L1943 475.91L1943.2 486.4L1943.4 482.25L1943.6 475.49L1943.8 485.86L1944 476.25L1944.2 481.52L1944.4 477.14L1944.6 478.39L1944.8 481.84L1945 484.34L1945.2 483.09L1945.4 485.71L1945.6 485.93L1945.8 481.23L1946 486.12L1946.2 481.28L1946.4 482.44L1946.6 482.61L1946.8 485.02L1947 485.55L1947.2 480.12L1947.4 484.81L1947.6 483.79L1947.8 482.73L1948 480.44L1948.2 476.97L1948.4 477.02L1948.6 480.15L1948.8 480.46L1949 480.49L1949.2 482.81L1949.4 482.8L1949.6 486.87L1949.8 480.77L1950 483.58L1950.2 481.23L1950.4 476.27L1950.6 479.95L1950.8 479.18L1951 479.91L1951.2 483.75L1951.4 483.99L1951.6 486.15L1951.8 483.79L1952 481.82L1952.2 480.4L1952.4 480.72L1952.6 483.18L1952.8 485.28L1953 482.13L1953.2 481.42L1953.4 487.54L1953.6 482.02L1953.8 486.09L1954 483.48L1954.2 482.64L1954.4 484.89L1954.6 483.62L1954.8 482.25L1955 484.94L1955.2 480.44L1955.4 480.51L1955.6 480.81L1955.8 485.08L1956 482.79L1956.2 483.14L1956.4 481.97L1956.6 480.27L1956.8 483.68L1957 482.21L1957.2 480.08L1957.4 483.15L1957.6 480.36L1957.8 482.33L1958 486.05L1958.2 482.38L1958.4 481.89L1958.6 483.39L1958.8 477.16L1959 483.31L1959.2 486.19L1959.4 482.69L1959.6 482.87L1959.8 480.92L1960 475.52L1960.2 481.9L1960.4 480.09L1960.6 484.19L1960.8 484.79L1961 484.16L1961.2 482.8L1961.4 483.48L1961.6 482.3L1961.8 484L1962 485.48L1962.2 484.37L1962.4 480.21L1962.6 485.36L1962.8 480.2L1963 477.91L1963.2 484.76L1963.4 479.89L1963.6 480.04L1963.8 489.35L1964 480L1964.2 480.54L1964.4 484.38L1964.6 477.57L1964.8 487.05L1965 478.81L1965.2 481.58L1965.4 485.03L1965.6 482L1965.8 486.37L1966 480.67L1966.2 480.83L1966.4 479.01L1966.6 478.53L1966.8 484.14L1967 480.96L1967.2 483.95L1967.4 490.03L1967.6 479.74L1967.8 479.16L1968 481.7L1968.2 477.64L1968.4 482.45L1968.6 486.92L1968.8 483.53L1969 483.02L1969.2 481.57L1969.4 483.38L1969.6 488.28L1969.8 485.61L1970 482.69L1970.2 479.29L1970.4 484.07L1970.6 485.79L1970.8 483.58L1971 479.85L1971.2 478.96L1971.4 484.92L1971.6 480.48L1971.8 478.75L1972 480.17L1972.2 485.25" stroke="#a9d8e8" stroke-width="3.6" fill="none" stroke-linejoin="round"/>
<path d="M1781.6 202.88L1781.8 201.41L1782 203.43L1782.2 204.28L1782.4 202.4L1782.6 202.03L1782.8 202.2L1783 202.04L1783.2 202.56L1783.4 202.95L1783.6 203.05L1783.8 202.53L1784 202.64L1784.2 201.43L1784.4 201.66L1784.6 203.31L1784.8 201.52L1785 202.13L1785.2 201.07L1785.4 200.69L1785.6 201.5L1785.8 203.56L1786 201.34L1786.2 203.29L1786.4 200.44L1786.6 202.41L1786.8 201.95L1787 200.11L1787.2 203.3L1787.4 201.65L1787.6 202.61L1787.8 202.07L1788 202.29L1788.2 200.92L1788.4 201.77L1788.6 201.15L1788.8 200.85L1789 202.94L1789.2 200.09L1789.4 201.54L1789.6 202.78L1789.8 201.84L1790 200.42L1790.2 200.26L1790.4 201.73L1790.6 200.97L1790.8 200.79L1791 200.02L1791.2 201.03L1791.4 199.97L1791.6 201.62L1791.8 201.42L1792 200.11L1792.2 200.01L1792.4 200.66L1792.6 200.01L1792.8 200.33L1793 199.77L1793.2 199.36L1793.4 199.89L1793.6 199.57L1793.8 200.62L1794 200.72L1794.2 202.31L1794.4 199.74L1794.6 200.04L1794.8 199.53L1795 201.67L1795.2 200.36L1795.4 200.38L1795.6 201.46L1795.8 198.94L1796 198.61L1796.2 201.02L1796.4 199.59L1796.6 198.56L1796.8 201.38L1797 199.51L1797.2 199.1L1797.4 198.99L1797.6 202.07L1797.8 201.94L1798 200.91L1798.2 200.14L1798.4 202.53L1798.6 202.2L1798.8 202.68L1799 200.79L1799.2 202.44L1799.4 201.55L1799.6 201.62L1799.8 201.29L1800 202.11L1800.2 202.32L1800.4 202.05L1800.6 203.5L1800.8 205.92L1801 206.08L1801.2 205.59L1801.4 207.12L1801.6 208.39L1801.8 208.67L1802 206.69L1802.2 210.6L1802.4 210.94L1802.6 211.79L1802.8 213.28L1803 212.77L1803.2 213.9L1803.4 215.15L1803.6 217.58L1803.8 216.01L1804 217.47L1804.2 219.44L1804.4 223.02L1804.6 221.8L1804.8 224.05L1805 224.34L1805.2 225.79L1805.4 227.27L1805.6 226.77L1805.8 228.48L1806 228.03L1806.2 230.63L1806.4 230.5L1806.6 229.65L1806.8 231.18L1807 232.72L1807.2 233.45L1807.4 233.76L1807.6 233.87L1807.8 233.74L1808 234.82L1808.2 234.84L1808.4 235.34L1808.6 236.58L1808.8 236.08L1809 237.17L1809.2 238.59L1809.4 239.56L1809.6 240.42L1809.8 242.08L1810 243.62L1810.2 243.35L1810.4 244.85L1810.6 244.83L1810.8 246.91L1811 247.26L1811.2 248.16L1811.4 249.77L1811.6 250.15L1811.8 251.99L1812 252.71L1812.2 252.57L1812.4 253.94L1812.6 255.3L1812.8 257.01L1813 256.84L1813.2 256.84L1813.4 261.85L1813.6 260.09L1813.8 262.04L1814 262.42L1814.2 263.55L1814.4 266.75L1814.6 265.41L1814.8 268.74L1815 269.62L1815.2 270L1815.4 271.85L1815.6 272.71L1815.8 274.62L1816 276.29L1816.2 276.52L1816.4 278.91L1816.6 278.25L1816.8 280.83L1817 281.34L1817.2 285.34L1817.4 287.68L1817.6 289.43L1817.8 289.26L1818 291.67L1818.2 291.73L1818.4 294.96L1818.6 296.47L1818.8 296.51L1819 298.7L1819.2 299.29L1819.4 300.74L1819.6 302.73L1819.8 305.74L1820 307.07L1820.2 305.88L1820.4 309.97L1820.6 311.19L1820.8 313.09L1821 314.98L1821.2 316.87L1821.4 319.03L1821.6 320.73L1821.8 324.18L1822 321.68L1822.2 325.48L1822.4 328.68L1822.6 328.18L1822.8 329.72L1823 334.14L1823.2 334.7L1823.4 333.77L1823.6 336.65L1823.8 338.33L1824 339.05L1824.2 342.16L1824.4 343.93L1824.6 342.68L1824.8 346.84L1825 348.21L1825.2 348.63L1825.4 351.09L1825.6 354.65L1825.8 351.13L1826 355.85L1826.2 354.26L1826.4 357.93L1826.6 361.88L1826.8 359.14L1827 363.68L1827.2 365.99L1827.4 365.57L1827.6 370.54L1827.8 366.91L1828 370.11L1828.2 370.29L1828.4 372.61L1828.6 370.62L1828.8 372.31L1829 371.92L1829.2 371.78L1829.4 375.66L1829.6 377.12L1829.8 377.74L1830 381.2L1830.2 381.72L1830.4 379.96L1830.6 384.58L1830.8 388.08L1831 385.62L1831.2 385.31L1831.4 383.58L1831.6 389.71L1831.8 391.32L1832 389.96L1832.2 391.63L1832.4 391.73L1832.6 394.67L1832.8 393.99L1833 397L1833.2 394.14L1833.4 396.99L1833.6 397.3L1833.8 400.99L1834 404.68L1834.2 401.96L1834.4 402.84L1834.6 400.45L1834.8 401.5L1835 404.93L1835.2 405.67L1835.4 409.02L1835.6 407.08L1835.8 407.08L1836 409.58L1836.2 412.22L1836.4 406.09L1836.6 413.24L1836.8 406.35L1837 408.43L1837.2 408.02L1837.4 415.93L1837.6 412.17L1837.8 419.06L1838 416.62L1838.2 420.98L1838.4 419.23L1838.6 419.23L1838.8 415.29L1839 415.59L1839.2 420.97L1839.4 421.41L1839.6 424.29L1839.8 425.69L1840 428.57L1840.2 424.05L1840.4 422.07L1840.6 427.32L1840.8 424.26L1841 430.03L1841.2 430.25L1841.4 429.17L1841.6 424.72L1841.8 429.68L1842 425.65L1842.2 429.64L1842.4 432.42L1842.6 435.69L1842.8 430.85L1843 432.74L1843.2 426.8L1843.4 428.62L1843.6 435.79L1843.8 427.82L1844 429.12L1844.2 440.8L1844.4 434.89L1844.6 430.88L1844.8 437.25L1845 434.64L1845.2 430.77L1845.4 431.94L1845.6 431.54L1845.8 431.27L1846 436.49L1846.2 425.92L1846.4 432.37L1846.6 427.28L1846.8 435.52L1847 433.05L1847.2 434.05L1847.4 435.94L1847.6 434.67L1847.8 435.13L1848 433.56L1848.2 435.46L1848.4 436.59L1848.6 435.44L1848.8 432.54L1849 437.35L1849.2 435.85L1849.4 437.66L1849.6 444.87L1849.8 441.63L1850 441.95L1850.2 443.78L1850.4 441.5L1850.6 445.55L1850.8 439.1L1851 442.03L1851.2 436.48L1851.4 439.53L1851.6 445.26L1851.8 442.05L1852 441.45L1852.2 443.97L1852.4 443.06L1852.6 445.58L1852.8 444.55L1853 441.36L1853.2 443.5L1853.4 438.57L1853.6 449.65L1853.8 445.43L1854 444.17L1854.2 438.22L1854.4 439.55L1854.6 440.87L1854.8 440.28L1855 438.38L1855.2 441.54L1855.4 444.67L1855.6 443.43L1855.8 446.54L1856 445.05L1856.2 443.22L1856.4 446.23L1856.6 444.37L1856.8 446.27L1857 449.3L1857.2 449.84L1857.4 442.98L1857.6 445.29L1857.8 442.8L1858 446L1858.2 445.84L1858.4 445.06L1858.6 447.18L1858.8 441.68L1859 443.05L1859.2 445.17L1859.4 450.04L1859.6 448.51L1859.8 446.21L1860 443.22L1860.2 447.3L1860.4 447.39L1860.6 445.72L1860.8 447.19L1861 448.22L1861.2 451.54L1861.4 443.97L1861.6 448.3L1861.8 449.95L1862 448.74L1862.2 452.88L1862.4 454.17L1862.6 454.65L1862.8 447.69L1863 453.3L1863.2 448.65L1863.4 452.95L1863.6 454.95L1863.8 451.2L1864 451.65L1864.2 451.54L1864.4 443.69L1864.6 448.73L1864.8 451.38L1865 446.65L1865.2 450.6L1865.4 445.62L1865.6 454.76L1865.8 446.15L1866 453.3L1866.2 452.21L1866.4 449.2L1866.6 453.43L1866.8 455.34L1867 451.31L1867.2 451.05L1867.4 455.49L1867.6 446.98L1867.8 452.92L1868 452.31L1868.2 451.09L1868.4 450.23L1868.6 446.98L1868.8 457.54L1869 450.52L1869.2 447.69L1869.4 449.87L1869.6 450.95L1869.8 454.39L1870 449.7L1870.2 452.45L1870.4 450.46L1870.6 454.42L1870.8 452.04L1871 451.53L1871.2 455.96L1871.4 447.79L1871.6 451.61L1871.8 455.47L1872 452.14L1872.2 450.94L1872.4 452.54L1872.6 454.85L1872.8 452.25L1873 456.02L1873.2 457.07L1873.4 447.82L1873.6 446.13L1873.8 445.66L1874 444.42L1874.2 447.43L1874.4 454.97L1874.6 453.82L1874.8 448.41L1875 453.61L1875.2 453.27L1875.4 452.23L1875.6 450.84L1875.8 456.74L1876 452.22L1876.2 450.77L1876.4 459.13L1876.6 448.78L1876.8 450L1877 455.23L1877.2 446.69L1877.4 451.44L1877.6 451.36L1877.8 447.98L1878 461.6L1878.2 453.26L1878.4 449.92L1878.6 448.88L1878.8 453.77L1879 454.37L1879.2 456.4L1879.4 455.11L1879.6 456.95L1879.8 462.12L1880 456.3L1880.2 457.8L1880.4 456.59L1880.6 456.24L1880.8 456.45L1881 454.65L1881.2 455.32L1881.4 456.41L1881.6 457.37L1881.8 455.81L1882 456.61L1882.2 456.13L1882.4 451.3L1882.6 455.15L1882.8 457.37L1883 462.91L1883.2 461.07L1883.4 466.12L1883.6 453.67L1883.8 453.06L1884 458.12L1884.2 458.44L1884.4 455.48L1884.6 455.28L1884.8 462.97L1885 458.23L1885.2 458.54L1885.4 461.77L1885.6 453.12L1885.8 455.42L1886 459.98L1886.2 458.26L1886.4 460.04L1886.6 460.01L1886.8 459.77L1887 455.25L1887.2 458.7L1887.4 460.39L1887.6 461.19L1887.8 458.22L1888 462.06L1888.2 464.61L1888.4 459.9L1888.6 454.35L1888.8 461.91L1889 459.28L1889.2 460.57L1889.4 456.02L1889.6 458.6L1889.8 464.44L1890 454.69L1890.2 460.5L1890.4 463.64L1890.6 462.42L1890.8 460.68L1891 457.47L1891.2 462.05L1891.4 463.67L1891.6 457.02L1891.8 456.34L1892 462.77L1892.2 461.28L1892.4 460.62L1892.6 462.96L1892.8 465.09L1893 458.79L1893.2 465.92L1893.4 468.46L1893.6 460.66L1893.8 458.89L1894 460.14L1894.2 465.45L1894.4 463.86L1894.6 466.75L1894.8 465.01L1895 471.39L1895.2 466.23L1895.4 458.89L1895.6 467.29L1895.8 457.82L1896 462.96L1896.2 470.01L1896.4 460.52L1896.6 466.79L1896.8 461.88L1897 464.31L1897.2 464.92L1897.4 464.39L1897.6 468.17L1897.8 466.38L1898 465.24L1898.2 458.13L1898.4 465.9L1898.6 462.97L1898.8 462.59L1899 460.1L1899.2 464.93L1899.4 463.54L1899.6 467.3L1899.8 455.96L1900 469.22L1900.2 463.51L1900.4 465.54L1900.6 463.89L1900.8 466.21L1901 465.99L1901.2 461.31L1901.4 461.46L1901.6 464.87L1901.8 465.12L1902 464.1L1902.2 465L1902.4 463.34L1902.6 462.33L1902.8 463.31L1903 470.09L1903.2 465.12L1903.4 468.48L1903.6 463.56L1903.8 466.02L1904 464.11L1904.2 465.43L1904.4 462.11L1904.6 460.77L1904.8 464.69L1905 470.19L1905.2 465.31L1905.4 458.84L1905.6 467.67L1905.8 465.71L1906 457.45L1906.2 459.97L1906.4 463.45L1906.6 464.86L1906.8 469.99L1907 460.3L1907.2 462.72L1907.4 471.31L1907.6 466.2L1907.8 466.26L1908 466.1L1908.2 468.1L1908.4 457.8L1908.6 468.88L1908.8 461.24L1909 464L1909.2 466.1L1909.4 464.68L1909.6 463.76L1909.8 468.8L1910 467.5L1910.2 462.34L1910.4 463.26L1910.6 465.1L1910.8 470.36L1911 471.82L1911.2 461.6L1911.4 461.79L1911.6 464.9L1911.8 465.33L1912 467.74L1912.2 465.06L1912.4 462.8L1912.6 464.27L1912.8 468.61L1913 465.69L1913.2 468.67L1913.4 467.19L1913.6 470.61L1913.8 474.8L1914 470.52L1914.2 466.5L1914.4 469.77L1914.6 465.43L1914.8 469.1L1915 466.32L1915.2 468.86L1915.4 462.66L1915.6 468.73L1915.8 467.4L1916 463.76L1916.2 462.67L1916.4 471.41L1916.6 462.81L1916.8 471.18L1917 470.9L1917.2 470.52L1917.4 464.51L1917.6 471.34L1917.8 465.98L1918 466.57L1918.2 468.61L1918.4 466.52L1918.6 461.27L1918.8 462.83L1919 470.9L1919.2 467.31L1919.4 469.52L1919.6 468.71L1919.8 470.08L1920 466.57L1920.2 471.2L1920.4 472.51L1920.6 468.33L1920.8 467.48L1921 464.62L1921.2 466.41L1921.4 471.49L1921.6 471.72L1921.8 467.69L1922 467.93L1922.2 466.45L1922.4 464.54L1922.6 476.25L1922.8 470.98L1923 467.21L1923.2 472.57L1923.4 463.63L1923.6 469.41L1923.8 467.22L1924 469.89L1924.2 468.1L1924.4 467.99L1924.6 467.57L1924.8 473.89L1925 475.69L1925.2 469.75L1925.4 466.92L1925.6 470.37L1925.8 470.15L1926 466.15L1926.2 467.55L1926.4 472.83L1926.6 469.23L1926.8 470.51L1927 469.66L1927.2 470.16L1927.4 468.04L1927.6 470.03L1927.8 468.92L1928 469.97L1928.2 470.79L1928.4 472.02L1928.6 469.31L1928.8 468.79L1929 465.13L1929.2 462.23L1929.4 472.57L1929.6 472.55L1929.8 467.03L1930 471.86L1930.2 470.13L1930.4 474.71L1930.6 468.65L1930.8 475.38L1931 467.37L1931.2 473.37L1931.4 469.91L1931.6 467.46L1931.8 473.45L1932 471.1L1932.2 463.79L1932.4 475.31L1932.6 470.35L1932.8 477.28L1933 469.67L1933.2 471.37L1933.4 474.5L1933.6 474.73L1933.8 466.79L1934 468.71L1934.2 474.84L1934.4 468.26L1934.6 473.95L1934.8 473.56L1935 469.66L1935.2 471.36L1935.4 469.27L1935.6 467.48L1935.8 473.11L1936 469.26L1936.2 470.09L1936.4 476.5L1936.6 468.52L1936.8 467.85L1937 475.62L1937.2 472.21L1937.4 467.98L1937.6 468.26L1937.8 472.4L1938 471.98L1938.2 472.23L1938.4 475.26L1938.6 470.92L1938.8 464.41L1939 475.93L1939.2 471.42L1939.4 474.42L1939.6 466.43L1939.8 476.75L1940 468.47L1940.2 469.96L1940.4 474.21L1940.6 472.46L1940.8 471.26L1941 465.88L1941.2 470.58L1941.4 467.62L1941.6 468.04L1941.8 471.22L1942 471.42L1942.2 471.77L1942.4 466.24L1942.6 467.34L1942.8 468.42L1943 473.77L1943.2 472.56L1943.4 469.17L1943.6 472.27L1943.8 476.14L1944 476.6L1944.2 470.22L1944.4 469.26L1944.6 470.01L1944.8 466.71L1945 476.94L1945.2 477.66L1945.4 471.47L1945.6 469.02L1945.8 474.65L1946 471.07L1946.2 470.84L1946.4 473.48L1946.6 474.71L1946.8 473.04L1947 472.27L1947.2 469.63L1947.4 473L1947.6 475.2L1947.8 475.59L1948 473.58L1948.2 470.45L1948.4 474.91L1948.6 473.3L1948.8 470.38L1949 471.23L1949.2 465.37L1949.4 470.44L1949.6 469.98L1949.8 465.1L1950 478.14L1950.2 477.67L1950.4 474.55L1950.6 471.6L1950.8 468.12L1951 469.74L1951.2 473.7L1951.4 476.67L1951.6 470.75L1951.8 472.8L1952 475.11L1952.2 476.02L1952.4 469.64L1952.6 472.84L1952.8 471.26L1953 472.24L1953.2 474.39L1953.4 473.45L1953.6 473.9L1953.8 472.11L1954 474.13L1954.2 469.84L1954.4 475.09L1954.6 471.06L1954.8 471.42L1955 469.85L1955.2 481.67L1955.4 469.73L1955.6 470.68L1955.8 473.27L1956 472.96L1956.2 473.1L1956.4 476.64L1956.6 462.08L1956.8 472.49L1957 470.38L1957.2 475.69L1957.4 473.29L1957.6 479.56L1957.8 472.15L1958 474.72L1958.2 471.85L1958.4 470.47L1958.6 467.4L1958.8 471.7L1959 475.42L1959.2 473.46L1959.4 469.94L1959.6 465.8L1959.8 479.87L1960 475.92L1960.2 474.1L1960.4 472.33L1960.6 469.73L1960.8 467.18L1961 469.84L1961.2 467.06L1961.4 473.89L1961.6 474.4L1961.8 477.11L1962 474.31L1962.2 469.53L1962.4 471.74L1962.6 465.16L1962.8 472.77L1963 475.01L1963.2 469.97L1963.4 478.38L1963.6 469.05L1963.8 470.59L1964 476.31L1964.2 470.17L1964.4 471.02L1964.6 467.66L1964.8 472.6L1965 473.51L1965.2 471.72L1965.4 472.16L1965.6 475.12L1965.8 468.68L1966 468.54L1966.2 474.06L1966.4 473.55L1966.6 475.23L1966.8 473.21L1967 473.92L1967.2 471.73L1967.4 469.46L1967.6 466.71L1967.8 474.68L1968 474.17L1968.2 475.42L1968.4 471.76L1968.6 469.07L1968.8 474.53L1969 471.66L1969.2 474.86L1969.4 476.25L1969.6 473.35L1969.8 468.89L1970 472.76L1970.2 477.35L1970.4 474.85L1970.6 472.59L1970.8 465.08L1971 475.43L1971.2 462.29L1971.4 468.31L1971.6 467.33L1971.8 468.41L1972 479.83L1972.2 470.73" stroke="#7b2182" stroke-width="4.0" fill="none" stroke-linejoin="round"/>
<path d="M1781.6 204.69L1781.8 204.98L1782 207.14L1782.2 207.71L1782.4 206.14L1782.6 205.43L1782.8 206.31L1783 207.55L1783.2 206.76L1783.4 205.1L1783.6 207.69L1783.8 205.59L1784 206.12L1784.2 206.23L1784.4 206.04L1784.6 207.28L1784.8 206.96L1785 205.32L1785.2 207.34L1785.4 207.44L1785.6 208.38L1785.8 207.62L1786 206.6L1786.2 206.2L1786.4 206.8L1786.6 206.87L1786.8 206.96L1787 207.24L1787.2 206.7L1787.4 207.78L1787.6 206.75L1787.8 207.82L1788 209.23L1788.2 209.01L1788.4 208.09L1788.6 208.38L1788.8 209.11L1789 208.76L1789.2 207.98L1789.4 207.84L1789.6 207.5L1789.8 209.07L1790 208.03L1790.2 207.5L1790.4 208.16L1790.6 206.97L1790.8 209L1791 208.64L1791.2 208.54L1791.4 209.11L1791.6 208.67L1791.8 208.29L1792 208.39L1792.2 208.67L1792.4 208.5L1792.6 208.04L1792.8 209.2L1793 207.55L1793.2 208.55L1793.4 207.67L1793.6 208.28L1793.8 207.11L1794 207.4L1794.2 207.17L1794.4 207.46L1794.6 206.58L1794.8 205.15L1795 208L1795.2 205.84L1795.4 205.96L1795.6 206.37L1795.8 207.02L1796 204.39L1796.2 205.47L1796.4 204.62L1796.6 205.68L1796.8 205.89L1797 204.14L1797.2 204.3L1797.4 205.07L1797.6 204.86L1797.8 203.98L1798 205.09L1798.2 204.98L1798.4 204.15L1798.6 203.09L1798.8 203.08L1799 203.53L1799.2 202.38L1799.4 203.55L1799.6 203.71L1799.8 201.1L1800 203.44L1800.2 202.34L1800.4 202.37L1800.6 202.86L1800.8 202.87L1801 202.57L1801.2 202.81L1801.4 203.91L1801.6 203.51L1801.8 202.41L1802 203.09L1802.2 204.22L1802.4 203.9L1802.6 204.92L1802.8 205.29L1803 204.74L1803.2 203.1L1803.4 205.26L1803.6 206.66L1803.8 205.26L1804 205.98L1804.2 204.96L1804.4 204.75L1804.6 206.33L1804.8 206.16L1805 207.26L1805.2 205.65L1805.4 207.56L1805.6 207.12L1805.8 205.15L1806 207.96L1806.2 206.93L1806.4 207.06L1806.6 206.54L1806.8 206.47L1807 205.51L1807.2 206.31L1807.4 206.14L1807.6 207.67L1807.8 206.17L1808 207.61L1808.2 205.33L1808.4 206.37L1808.6 205.41L1808.8 206.61L1809 205.91L1809.2 205.97L1809.4 205.49L1809.6 205.99L1809.8 206.34L1810 206.09L1810.2 206.23L1810.4 206.38L1810.6 206.53L1810.8 206.66L1811 203.65L1811.2 205.84L1811.4 206.07L1811.6 204.15L1811.8 204.66L1812 204.93L1812.2 203.74L1812.4 203.01L1812.6 205.27L1812.8 203.21L1813 203.85L1813.2 203.24L1813.4 204.62L1813.6 202.6L1813.8 202.96L1814 206.13L1814.2 202.67L1814.4 202.52L1814.6 204.79L1814.8 203.2L1815 203.55L1815.2 203.11L1815.4 203.96L1815.6 202.55L1815.8 202.38L1816 203.02L1816.2 202.89L1816.4 204.33L1816.6 202.43L1816.8 204.1L1817 203.05L1817.2 203.85L1817.4 200.96L1817.6 203.31L1817.8 202.05L1818 203.5L1818.2 203.59L1818.4 202.99L1818.6 203.74L1818.8 201.76L1819 204.03L1819.2 202.54L1819.4 205.07L1819.6 204.9L1819.8 203.63L1820 205.47L1820.2 202.65L1820.4 203.98L1820.6 204.46L1820.8 203.07L1821 205.15L1821.2 205.44L1821.4 207.14L1821.6 206.65L1821.8 205.3L1822 206.94L1822.2 204.55L1822.4 204.44L1822.6 204.99L1822.8 206.89L1823 206.3L1823.2 206.84L1823.4 205.1L1823.6 204.98L1823.8 206.32L1824 206.3L1824.2 206.4L1824.4 206.19L1824.6 207.86L1824.8 208.15L1825 206.86L1825.2 207.34L1825.4 207.6L1825.6 208.22L1825.8 207.83L1826 208.33L1826.2 209.53L1826.4 207.75L1826.6 208.55L1826.8 209.97L1827 210.11L1827.2 210.9L1827.4 211.75L1827.6 211.7L1827.8 212.3L1828 211.87L1828.2 211.27L1828.4 211.86L1828.6 213.32L1828.8 212.49L1829 212.79L1829.2 213.13L1829.4 211.11L1829.6 212.93L1829.8 211.14L1830 213.34L1830.2 211.53L1830.4 212.32L1830.6 210.78L1830.8 211.19L1831 212.16L1831.2 210.83L1831.4 210.19L1831.6 210.07L1831.8 209.86L1832 211.39L1832.2 209.1L1832.4 211.44L1832.6 210.97L1832.8 212.12L1833 210.88L1833.2 211.89L1833.4 210.44L1833.6 212.01L1833.8 208.74L1834 209.59L1834.2 208.82L1834.4 209.17L1834.6 210.03L1834.8 209.73L1835 209.95L1835.2 211.76L1835.4 211.11L1835.6 210.4L1835.8 209.2L1836 211.22L1836.2 209.81L1836.4 210.46L1836.6 209.27L1836.8 209.23L1837 210.8L1837.2 210.85L1837.4 208.52L1837.6 208.86L1837.8 209.8L1838 209.01L1838.2 209.67L1838.4 209.27L1838.6 210.02L1838.8 209.16L1839 208.14L1839.2 208.3L1839.4 208.44L1839.6 209.43L1839.8 208.66L1840 209.87L1840.2 209.73L1840.4 209.31L1840.6 210.39L1840.8 209.22L1841 210.89L1841.2 207.89L1841.4 208.54L1841.6 208.95L1841.8 209.75L1842 209.58L1842.2 209.32L1842.4 210.36L1842.6 209.2L1842.8 209.55L1843 207.91L1843.2 207.39L1843.4 207.21L1843.6 209.62L1843.8 209.57L1844 207L1844.2 207.49L1844.4 207.17L1844.6 207.44L1844.8 207.74L1845 205.99L1845.2 207.02L1845.4 207.11L1845.6 208.53L1845.8 207.42L1846 206.29L1846.2 206.9L1846.4 206.51L1846.6 207.41L1846.8 206.14L1847 206.8L1847.2 205.98L1847.4 204.39L1847.6 203.35L1847.8 204.67L1848 204.1L1848.2 203.64L1848.4 203.13L1848.6 202.46L1848.8 201.22L1849 201.22L1849.2 201.61L1849.4 201.83L1849.6 204.43L1849.8 203.62L1850 202.36L1850.2 205.65L1850.4 205.89L1850.6 205.76L1850.8 205.73L1851 207.48L1851.2 209.03L1851.4 207.58L1851.6 211.88L1851.8 211.45L1852 212.17L1852.2 214.43L1852.4 212L1852.6 212.31L1852.8 216.25L1853 216.13L1853.2 216.83L1853.4 216.84L1853.6 218.48L1853.8 218.65L1854 219.73L1854.2 221.27L1854.4 222.09L1854.6 221.88L1854.8 223.96L1855 224.53L1855.2 226.13L1855.4 226.46L1855.6 226.64L1855.8 228.85L1856 230.21L1856.2 231.28L1856.4 230.55L1856.6 232.99L1856.8 232.73L1857 231.73L1857.2 234.64L1857.4 234.07L1857.6 236.5L1857.8 237.43L1858 237.68L1858.2 239.82L1858.4 242.06L1858.6 240.77L1858.8 242.22L1859 242.23L1859.2 241.5L1859.4 243.54L1859.6 246.31L1859.8 245.4L1860 248.22L1860.2 249.42L1860.4 246.4L1860.6 249.98L1860.8 251.97L1861 251.07L1861.2 252.33L1861.4 252.9L1861.6 254.62L1861.8 255.81L1862 256.02L1862.2 258.09L1862.4 259.77L1862.6 259.93L1862.8 261.92L1863 261.59L1863.2 263.7L1863.4 265.05L1863.6 266.43L1863.8 266.66L1864 267.45L1864.2 269.78L1864.4 272.67L1864.6 271.23L1864.8 273.98L1865 274.1L1865.2 276.56L1865.4 277.01L1865.6 278.97L1865.8 280.82L1866 282.64L1866.2 282.91L1866.4 284.05L1866.6 287.02L1866.8 289.09L1867 288.03L1867.2 287.66L1867.4 291.71L1867.6 292.58L1867.8 294.68L1868 296.22L1868.2 295.11L1868.4 299.33L1868.6 299.01L1868.8 301.29L1869 301.48L1869.2 301.99L1869.4 304.65L1869.6 306.46L1869.8 306.58L1870 309.24L1870.2 312.09L1870.4 310.44L1870.6 313.64L1870.8 314.29L1871 313.58L1871.2 317.17L1871.4 320.09L1871.6 320.82L1871.8 325.99L1872 329.2L1872.2 330.88L1872.4 331.65L1872.6 333.76L1872.8 337.19L1873 335.75L1873.2 339.74L1873.4 342.85L1873.6 346.35L1873.8 347.73L1874 349.48L1874.2 352.72L1874.4 350.08L1874.6 354.08L1874.8 357.93L1875 361.21L1875.2 366.31L1875.4 363.09L1875.6 367.35L1875.8 365.74L1876 368.16L1876.2 372.55L1876.4 371.49L1876.6 373.28L1876.8 374.7L1877 375.79L1877.2 376.79L1877.4 378.73L1877.6 378.06L1877.8 379.93L1878 382.67L1878.2 384.01L1878.4 385.73L1878.6 387.21L1878.8 388.09L1879 388.62L1879.2 391.1L1879.4 395.89L1879.6 392.98L1879.8 396.49L1880 395.91L1880.2 391.47L1880.4 396.16L1880.6 405.19L1880.8 404.48L1881 398.56L1881.2 403.6L1881.4 406.27L1881.6 407.43L1881.8 404.19L1882 406.56L1882.2 405.25L1882.4 406.71L1882.6 406.57L1882.8 408.47L1883 410.2L1883.2 406.8L1883.4 405.17L1883.6 412.54L1883.8 411.29L1884 405.84L1884.2 415.38L1884.4 416.18L1884.6 412.1L1884.8 411.73L1885 415.13L1885.2 412.35L1885.4 416.82L1885.6 416.52L1885.8 417.98L1886 417.58L1886.2 419.24L1886.4 415.45L1886.6 418.38L1886.8 416.16L1887 422.57L1887.2 425.36L1887.4 425.52L1887.6 425.56L1887.8 423.6L1888 426.61L1888.2 424.73L1888.4 424.71L1888.6 430.64L1888.8 432.01L1889 423.03L1889.2 430.37L1889.4 421.95L1889.6 430.17L1889.8 434.54L1890 434.33L1890.2 433.47L1890.4 421.5L1890.6 438.35L1890.8 440.57L1891 435.86L1891.2 432.81L1891.4 425.4L1891.6 430.27L1891.8 437.94L1892 429.27L1892.2 430.74L1892.4 438.33L1892.6 434.27L1892.8 435.51L1893 437.92L1893.2 439.52L1893.4 440.46L1893.6 437.23L1893.8 441.24L1894 436.66L1894.2 437.83L1894.4 446.63L1894.6 439.78L1894.8 442.42L1895 439.11L1895.2 443.41L1895.4 438.01L1895.6 439.42L1895.8 439.31L1896 440.52L1896.2 447.95L1896.4 443.34L1896.6 439.27L1896.8 440.17L1897 441.44L1897.2 443.85L1897.4 444.16L1897.6 449.05L1897.8 450.78L1898 445.1L1898.2 441.62L1898.4 445.73L1898.6 446.91L1898.8 445.79L1899 440.44L1899.2 447.67L1899.4 445.94L1899.6 444.53L1899.8 442.09L1900 444.59L1900.2 448.13L1900.4 448.28L1900.6 450.73L1900.8 447.51L1901 443.4L1901.2 446.47L1901.4 448.86L1901.6 451.43L1901.8 448.88L1902 445.02L1902.2 445.67L1902.4 446.45L1902.6 445.18L1902.8 443.99L1903 447.83L1903.2 446.42L1903.4 455.88L1903.6 446.72L1903.8 450.48L1904 448.49L1904.2 452.9L1904.4 450.75L1904.6 453.97L1904.8 450.36L1905 453.97L1905.2 446.66L1905.4 451.71L1905.6 450.13L1905.8 453L1906 451.25L1906.2 453.39L1906.4 453.94L1906.6 449.16L1906.8 453.49L1907 455.21L1907.2 452.51L1907.4 443.06L1907.6 447.38L1907.8 450.34L1908 450.24L1908.2 450.21L1908.4 449.85L1908.6 443.13L1908.8 445.97L1909 450.88L1909.2 457.71L1909.4 454.96L1909.6 450.74L1909.8 453.34L1910 450.16L1910.2 452.88L1910.4 450.1L1910.6 450.26L1910.8 453.6L1911 456.6L1911.2 453.14L1911.4 454.58L1911.6 455.45L1911.8 451.87L1912 447.92L1912.2 453.56L1912.4 453.74L1912.6 456.27L1912.8 451.42L1913 451.6L1913.2 451.82L1913.4 447.01L1913.6 451.63L1913.8 448.96L1914 453.95L1914.2 451.37L1914.4 455.87L1914.6 450.05L1914.8 447.73L1915 456.26L1915.2 455.95L1915.4 452.08L1915.6 453.09L1915.8 450.05L1916 462.73L1916.2 455.31L1916.4 451.45L1916.6 452.53L1916.8 457.3L1917 450.89L1917.2 453.05L1917.4 453.47L1917.6 454.45L1917.8 454.1L1918 451.57L1918.2 458.75L1918.4 466.05L1918.6 451.63L1918.8 462.69L1919 453.28L1919.2 453.95L1919.4 452.87L1919.6 458.14L1919.8 452.21L1920 455.41L1920.2 456.14L1920.4 455.37L1920.6 457.56L1920.8 448.76L1921 456.99L1921.2 454.76L1921.4 456.06L1921.6 454.21L1921.8 454.81L1922 456.1L1922.2 454.96L1922.4 454.6L1922.6 454.48L1922.8 451.52L1923 455.75L1923.2 455.81L1923.4 453.71L1923.6 456.13L1923.8 454.22L1924 453.62L1924.2 463.8L1924.4 455.55L1924.6 457.49L1924.8 461.76L1925 460.7L1925.2 461.32L1925.4 452.68L1925.6 452.26L1925.8 456.3L1926 456.88L1926.2 460.57L1926.4 449.19L1926.6 451.34L1926.8 455.91L1927 459.8L1927.2 457.44L1927.4 459.39L1927.6 461.52L1927.8 461.14L1928 460.58L1928.2 459.78L1928.4 455.94L1928.6 460.97L1928.8 455.91L1929 456.96L1929.2 454.26L1929.4 452.98L1929.6 449.54L1929.8 454.51L1930 459.42L1930.2 458.92L1930.4 448.18L1930.6 462.12L1930.8 458.05L1931 454.02L1931.2 458.45L1931.4 456.83L1931.6 452.21L1931.8 455.48L1932 458.54L1932.2 456.67L1932.4 457.8L1932.6 456.58L1932.8 456.96L1933 460.16L1933.2 458.92L1933.4 458.37L1933.6 460.01L1933.8 461.26L1934 456.13L1934.2 467.56L1934.4 460.69L1934.6 456.22L1934.8 458.99L1935 464.39L1935.2 463.88L1935.4 453.55L1935.6 458.32L1935.8 461.12L1936 460.71L1936.2 462.23L1936.4 460.06L1936.6 464.64L1936.8 461.06L1937 462.09L1937.2 461.25L1937.4 458.82L1937.6 468.65L1937.8 462.81L1938 461.96L1938.2 462.03L1938.4 463.01L1938.6 461.62L1938.8 459.35L1939 464.98L1939.2 462.78L1939.4 460.87L1939.6 464.37L1939.8 460.28L1940 466.53L1940.2 459.98L1940.4 463.47L1940.6 459.49L1940.8 459.82L1941 468.18L1941.2 461.7L1941.4 463.41L1941.6 464.99L1941.8 466.96L1942 464.28L1942.2 466.68L1942.4 465.83L1942.6 466.06L1942.8 465.96L1943 467.3L1943.2 471.49L1943.4 466.07L1943.6 478.58L1943.8 466.1L1944 467.69L1944.2 467.76L1944.4 469.39L1944.6 466.61L1944.8 466.04L1945 469.8L1945.2 470.35L1945.4 471.8L1945.6 472.75L1945.8 467.1L1946 469.1L1946.2 463.97L1946.4 474.55L1946.6 473.25L1946.8 468.92L1947 471.21L1947.2 468.55L1947.4 472.89L1947.6 465.6L1947.8 471.13L1948 469.07L1948.2 466.57L1948.4 474.83L1948.6 471.92L1948.8 474.29L1949 467.61L1949.2 476.9L1949.4 472.33L1949.6 472.9L1949.8 467.44L1950 464.83L1950.2 470.35L1950.4 463.94L1950.6 468.14L1950.8 475.35L1951 471.24L1951.2 474.18L1951.4 467.8L1951.6 469.04L1951.8 469.51L1952 473.67L1952.2 471.38L1952.4 474.9L1952.6 470.83L1952.8 465.6L1953 471.42L1953.2 465.5L1953.4 470.1L1953.6 471.68L1953.8 468.67L1954 475.72L1954.2 465.02L1954.4 469.7L1954.6 474.55L1954.8 467.97L1955 474.03L1955.2 467.4L1955.4 466.23L1955.6 467.21L1955.8 474.81L1956 471.84L1956.2 466.82L1956.4 468.89L1956.6 468.77L1956.8 462.26L1957 467.01L1957.2 471.49L1957.4 474.77L1957.6 472.95L1957.8 475.77L1958 473.4L1958.2 470.23L1958.4 475.18L1958.6 470.53L1958.8 472.59L1959 468.98L1959.2 475.21L1959.4 473.32L1959.6 470.51L1959.8 468.87L1960 470.39L1960.2 481.1L1960.4 471.57L1960.6 477.31L1960.8 471.28L1961 474.23L1961.2 474.2L1961.4 472.66L1961.6 469.02L1961.8 470.98L1962 468.85L1962.2 470.8L1962.4 472.32L1962.6 466.36L1962.8 463.86L1963 473.33L1963.2 470.39L1963.4 475.84L1963.6 470.67L1963.8 473.79L1964 466.16L1964.2 469.4L1964.4 469.92L1964.6 466.88L1964.8 469.61L1965 480.57L1965.2 465.15L1965.4 464.9L1965.6 470.26L1965.8 466.44L1966 469.04L1966.2 475.84L1966.4 476.25L1966.6 465.57L1966.8 467.54L1967 464.88L1967.2 463.88L1967.4 471.31L1967.6 468.07L1967.8 468.38L1968 468.05L1968.2 468.82L1968.4 472.43L1968.6 469.49L1968.8 477.3L1969 469.1L1969.2 472.31L1969.4 473.3L1969.6 469.45L1969.8 469.54L1970 469.65L1970.2 473.27L1970.4 472.92L1970.6 471.55L1970.8 471.2L1971 472.16L1971.2 474.51L1971.4 470.07L1971.6 473.17L1971.8 470.91L1972 474.39L1972.2 478.98" stroke="#2a3990" stroke-width="4.2" fill="none" stroke-linejoin="round"/>
</g>
<line x1="1783" y1="200.6" x2="1971" y2="200.6" stroke="#231f20" stroke-width="2.4" stroke-dasharray="20.6 9.7" stroke-dashoffset="3"/>
<rect x="1781.6" y="143.3" width="190.4" height="357.2" fill="none" stroke="#231f20" stroke-width="2.5" />
<line x1="1777.3" y1="143.3" x2="1781" y2="143.3" stroke="#231f20" stroke-width="2.4" />
<line x1="1777.3" y1="202.83" x2="1781" y2="202.83" stroke="#231f20" stroke-width="2.4" />
<line x1="1777.3" y1="262.36" x2="1781" y2="262.36" stroke="#231f20" stroke-width="2.4" />
<line x1="1777.3" y1="321.89" x2="1781" y2="321.89" stroke="#231f20" stroke-width="2.4" />
<line x1="1777.3" y1="381.42" x2="1781" y2="381.42" stroke="#231f20" stroke-width="2.4" />
<line x1="1777.3" y1="440.95" x2="1781" y2="440.95" stroke="#231f20" stroke-width="2.4" />
<line x1="1777.3" y1="500.48" x2="1781" y2="500.48" stroke="#231f20" stroke-width="2.4" />
<line x1="1781.6" y1="500" x2="1781.6" y2="504.8" stroke="#231f20" stroke-width="2.4" />
<line x1="1876.2" y1="500" x2="1876.2" y2="504.8" stroke="#231f20" stroke-width="2.4" />
<line x1="1972" y1="500" x2="1972" y2="504.8" stroke="#231f20" stroke-width="2.4" />
</g>
<text  transform="translate(1.12 51.32) scale(0.8247 1)" font-size="47.82" style="font-family:'Liberation Sans','DejaVu Sans',sans-serif;font-weight:bold" fill="#231f20" stroke="#231f20" stroke-width="0.55" stroke-linejoin="round">a</text>
<text  transform="translate(165.97 73.03) scale(0.9838 1)" font-size="26.06" style="font-family:'Liberation Sans','DejaVu Sans',sans-serif" fill="#231f20">epoch j</text>
<text  transform="translate(407.51 73.03) scale(0.9524 1)" font-size="26.06" style="font-family:'Liberation Sans','DejaVu Sans',sans-serif" fill="#231f20">epoch j+1</text>
<text x="14.74" y="95.8" font-size="25.14" style="font-family:'DejaVu Sans','Liberation Sans',sans-serif" fill="#231f20">200</text>
<text x="46.46" y="349.5" font-size="23.97" style="font-family:'DejaVu Sans','Liberation Sans',sans-serif" fill="#231f20">1</text>
<text  transform="translate(24.64 246) rotate(-90) scale(1.1169 1)" font-size="25.53" style="font-family:'Liberation Sans','DejaVu Sans',sans-serif" fill="#231f20">inputs</text>
<text  transform="translate(26.37 504.99) rotate(-90)" font-size="23.90" style="font-family:'DejaVu Sans','Liberation Sans',sans-serif" fill="#231f20">Firing rate [Hz]</text>
<text x="50.48" y="393.78" font-size="22.30" style="font-family:'DejaVu Sans','Liberation Sans',sans-serif" fill="#231f20">5</text>
<text x="49.71" y="478.76" font-size="24.34" style="font-family:'DejaVu Sans','Liberation Sans',sans-serif" fill="#231f20">0</text>
<text x="68.21" y="508.76" font-size="24.34" style="font-family:'DejaVu Sans','Liberation Sans',sans-serif" fill="#231f20">0</text>
<text x="179.32" y="508.63" font-size="24.01" style="font-family:'DejaVu Sans','Liberation Sans',sans-serif" fill="#231f20">200</text>
<text x="299.78" y="508.24" font-size="24.30" style="font-family:'DejaVu Sans','Liberation Sans',sans-serif" fill="#231f20">400</text>
<text x="427.74" y="508.55" font-size="25.14" style="font-family:'DejaVu Sans','Liberation Sans',sans-serif" fill="#231f20">600</text>
<text x="557.3" y="508.24" font-size="24.29" style="font-family:'DejaVu Sans','Liberation Sans',sans-serif" fill="#231f20">800</text>
<text x="261.73" y="534.61" font-size="25.74" style="font-family:'DejaVu Sans','Liberation Sans',sans-serif" fill="#231f20">time [ms]</text>
<text  transform="translate(622.73 51.4) scale(0.9747 1)" font-size="49.45" style="font-family:'Liberation Sans','DejaVu Sans',sans-serif;font-weight:bold" fill="#231f20" stroke="#231f20" stroke-width="0.55" stroke-linejoin="round">b</text>
<text  transform="translate(819.96 46.48) scale(0.9932 1)" font-size="21.54" style="font-family:'Liberation Sans','DejaVu Sans',sans-serif" fill="#661d4b">spike times</text>
<text  transform="translate(744.12 69.08) scale(0.9706 1)" font-size="22.02" style="font-family:'Liberation Sans','DejaVu Sans',sans-serif" fill="#661d4b">(relative to sequence onset)</text>
<text x="659.78" y="89.99" font-size="24.30" style="font-family:'DejaVu Sans','Liberation Sans',sans-serif" fill="#231f20">400</text>
<text x="694.17" y="419.26" font-size="23.68" style="font-family:'DejaVu Sans','Liberation Sans',sans-serif" fill="#231f20">0</text>
<text  transform="translate(655.89 306.67) rotate(-90)" font-size="25.68" style="font-family:'DejaVu Sans','Liberation Sans',sans-serif" fill="#231f20">time [ms]</text>
<text x="694.98" y="441.78" font-size="22.30" style="font-family:'DejaVu Sans','Liberation Sans',sans-serif" fill="#231f20">5</text>
<text x="670.34" y="481.57" font-size="23.71" style="font-family:'DejaVu Sans','Liberation Sans',sans-serif" fill="#231f20">0.5</text>
<text x="693.68" y="527.29" font-size="21.32" style="font-family:'DejaVu Sans','Liberation Sans',sans-serif" fill="#231f20">0</text>
<text x="707.88" y="543.49" font-size="21.32" style="font-family:'DejaVu Sans','Liberation Sans',sans-serif" fill="#231f20">0</text>
<text  transform="translate(659.57 549.07) rotate(-90)" font-size="23.36" style="font-family:'DejaVu Sans','Liberation Sans',sans-serif" fill="#231f20">firing rate [Hz]</text>
<text  transform="translate(820.88 459.06) scale(1.0085 1)" font-size="24.37" style="font-family:'Liberation Sans','DejaVu Sans',sans-serif" fill="#661d4b">mean = 0.075 Hz</text>
<text x="828.78" y="555.8" font-size="23.61" style="font-family:'DejaVu Sans','Liberation Sans',sans-serif" fill="#231f20">epochs</text>
<text x="1003.99" y="547.27" font-size="23.71" style="font-family:'DejaVu Sans','Liberation Sans',sans-serif" fill="#231f20">1000</text>
<text  transform="translate(1056.95 43.63) scale(0.8822 1)" font-size="46.73" style="font-family:'Liberation Sans','DejaVu Sans',sans-serif;font-weight:bold" fill="#231f20" stroke="#231f20" stroke-width="0.55" stroke-linejoin="round">c</text>
<text  transform="translate(1244.5 41.02) scale(1.1043 1)" font-size="28.30" style="font-family:'Liberation Serif','DejaVu Serif',serif;font-weight:bold" fill="#231f20">w</text>
<text  transform="translate(1266.2 45.58) scale(0.9831 1)" font-size="31.97" style="font-family:'Liberation Serif','DejaVu Serif',serif" fill="#231f20">/</text>
<text  transform="translate(1275.8 41.02) scale(1.0896 1)" font-size="28.30" style="font-family:'Liberation Serif','DejaVu Serif',serif;font-weight:bold" fill="#231f20">w</text>
<text  transform="translate(1298.9 45.28) scale(1.0711 1)" font-size="20.90" style="font-family:'Liberation Serif','DejaVu Serif',serif" fill="#231f20">0</text>
<text x="1141.64" y="76.34" font-size="21.48" style="font-family:'DejaVu Sans','Liberation Sans',sans-serif" fill="#231f20">1.6</text>
<text x="1203.11" y="76.54" font-size="21.74" style="font-family:'DejaVu Sans','Liberation Sans',sans-serif" fill="#231f20">1.2</text>
<text x="1265" y="76.41" font-size="21.38" style="font-family:'DejaVu Sans','Liberation Sans',sans-serif" fill="#231f20">0.8</text>
<text x="1326.52" y="76.3" font-size="21.09" style="font-family:'DejaVu Sans','Liberation Sans',sans-serif" fill="#231f20">0.4</text>
<text x="1387.48" y="76.54" font-size="21.72" style="font-family:'DejaVu Sans','Liberation Sans',sans-serif" fill="#231f20">0.0</text>
<text x="1093.08" y="119.93" font-size="23.87" style="font-family:'DejaVu Sans','Liberation Sans',sans-serif" fill="#231f20">200</text>
<text  transform="translate(1121.59 320.02) rotate(-90)" font-size="24.68" style="font-family:'DejaVu Sans','Liberation Sans',sans-serif" fill="#231f20">inputs</text>
<text x="1123.33" y="466.5" font-size="23.15" style="font-family:'DejaVu Sans','Liberation Sans',sans-serif" fill="#231f20">1</text>
<text x="1139.35" y="486.38" font-size="22.50" style="font-family:'DejaVu Sans','Liberation Sans',sans-serif" fill="#231f20">0</text>
<text x="1234.28" y="488.6" font-size="23.58" style="font-family:'DejaVu Sans','Liberation Sans',sans-serif" fill="#231f20">epochs</text>
<text x="1375.37" y="489.09" font-size="23.88" style="font-family:'DejaVu Sans','Liberation Sans',sans-serif" fill="#231f20">1000</text>
<text x="1176.29" y="556.19" font-size="24.42" style="font-family:'DejaVu Sans','Liberation Sans',sans-serif" fill="#231f20">20</text>
<text x="1357.14" y="557.7" font-size="23.42" style="font-family:'DejaVu Sans','Liberation Sans',sans-serif" fill="#231f20">1</text>
<text  transform="translate(1451.9 51.3) scale(0.9679 1)" font-size="49.18" style="font-family:'Liberation Sans','DejaVu Sans',sans-serif;font-weight:bold" fill="#231f20" stroke="#231f20" stroke-width="0.55" stroke-linejoin="round">d</text>
<text x="1673.97" y="47.89" font-size="19.31" style="font-family:'DejaVu Sans','Liberation Sans',sans-serif" fill="#231f20">N 10</text>
<text x="1673.97" y="75.34" font-size="19.31" style="font-family:'DejaVu Sans','Liberation Sans',sans-serif" fill="#231f20">N 50</text>
<text x="1789.78" y="47.85" font-size="19.18" style="font-family:'DejaVu Sans','Liberation Sans',sans-serif" fill="#231f20">N 100</text>
<text x="1789.78" y="75.3" font-size="19.18" style="font-family:'DejaVu Sans','Liberation Sans',sans-serif" fill="#231f20">N 500</text>
<text  transform="translate(1574.95 126.69) scale(1.0422 1)" font-size="20.67" style="font-family:'DejaVu Sans','Liberation Sans',sans-serif;font-style:italic" fill="#231f20" stroke="#231f20" stroke-width="0.5">ℒ</text>
<text  transform="translate(1590.74 130.83) scale(0.9625 1)" font-size="17.19" style="font-family:'DejaVu Sans','Liberation Sans',sans-serif;font-style:italic" fill="#231f20">norm</text>
<text x="1470.81" y="202.36" font-size="24.50" style="font-family:'DejaVu Sans','Liberation Sans',sans-serif" fill="#231f20">10</text>
<text x="1501.55" y="192.64" font-size="15.79" style="font-family:'DejaVu Sans','Liberation Sans',sans-serif" fill="#231f20">0</text>
<text x="1456.52" y="325.88" font-size="24.40" style="font-family:'DejaVu Sans','Liberation Sans',sans-serif" fill="#231f20">10</text>
<text x="1486.24" y="314.17" font-size="17.58" style="font-family:'DejaVu Sans','Liberation Sans',sans-serif" fill="#231f20">−1</text>
<text x="1456.52" y="446.08" font-size="24.40" style="font-family:'DejaVu Sans','Liberation Sans',sans-serif" fill="#231f20">10</text>
<text x="1486.23" y="434.46" font-size="17.72" style="font-family:'DejaVu Sans','Liberation Sans',sans-serif" fill="#231f20">−2</text>
<text x="1513.14" y="523.08" font-size="21.58" style="font-family:'DejaVu Sans','Liberation Sans',sans-serif" fill="#231f20">0</text>
<text x="1576.99" y="523.87" font-size="23.71" style="font-family:'DejaVu Sans','Liberation Sans',sans-serif" fill="#231f20">1000</text>
<text x="1665.15" y="523.84" font-size="23.61" style="font-family:'DejaVu Sans','Liberation Sans',sans-serif" fill="#231f20">2000</text>
<text x="1565.6" y="549.8" font-size="23.35" style="font-family:'DejaVu Sans','Liberation Sans',sans-serif" fill="#231f20">epochs</text>
<text  transform="translate(1844.63 126.92) scale(1.0162 1)" font-size="23.71" style="font-family:'DejaVu Sans','Liberation Sans',sans-serif" fill="#231f20">⟨</text>
<text  transform="translate(1853.26 127.1) scale(0.9962 1)" font-size="25.00" style="font-family:'DejaVu Sans','Liberation Sans',sans-serif;font-style:italic" fill="#231f20">v</text>
<text  transform="translate(1866.99 126.92) scale(1.1120 1)" font-size="23.71" style="font-family:'DejaVu Sans','Liberation Sans',sans-serif" fill="#231f20">⟩</text>
<text  transform="translate(1874.64 131.23) scale(0.9825 1)" font-size="16.84" style="font-family:'DejaVu Sans','Liberation Sans',sans-serif;font-style:italic" fill="#231f20">norm</text>
<text x="1735.94" y="153.11" font-size="24.20" style="font-family:'DejaVu Sans','Liberation Sans',sans-serif" fill="#231f20">1.2</text>
<text x="1735.99" y="212.44" font-size="23.69" style="font-family:'DejaVu Sans','Liberation Sans',sans-serif" fill="#231f20">1.0</text>
<text x="1736.99" y="271.73" font-size="23.03" style="font-family:'DejaVu Sans','Liberation Sans',sans-serif" fill="#231f20">0.8</text>
<text x="1737" y="331.2" font-size="22.88" style="font-family:'DejaVu Sans','Liberation Sans',sans-serif" fill="#231f20">0.6</text>
<text x="1737.01" y="390.68" font-size="22.72" style="font-family:'DejaVu Sans','Liberation Sans',sans-serif" fill="#231f20">0.4</text>
<text x="1736.95" y="450.5" font-size="23.52" style="font-family:'DejaVu Sans','Liberation Sans',sans-serif" fill="#231f20">0.2</text>
<text x="1736.99" y="509.85" font-size="23.03" style="font-family:'DejaVu Sans','Liberation Sans',sans-serif" fill="#231f20">0.0</text>
<text x="1774.24" y="525.99" font-size="21.45" style="font-family:'DejaVu Sans','Liberation Sans',sans-serif" fill="#231f20">0</text>
<text x="1845.89" y="526.84" font-size="23.76" style="font-family:'DejaVu Sans','Liberation Sans',sans-serif" fill="#231f20">1000</text>
<text x="1941.66" y="526.72" font-size="23.44" style="font-family:'DejaVu Sans','Liberation Sans',sans-serif" fill="#231f20">2000</text>
<text x="1834.49" y="551.8" font-size="23.50" style="font-family:'DejaVu Sans','Liberation Sans',sans-serif" fill="#231f20">epochs</text>
</svg>
</body></html>
